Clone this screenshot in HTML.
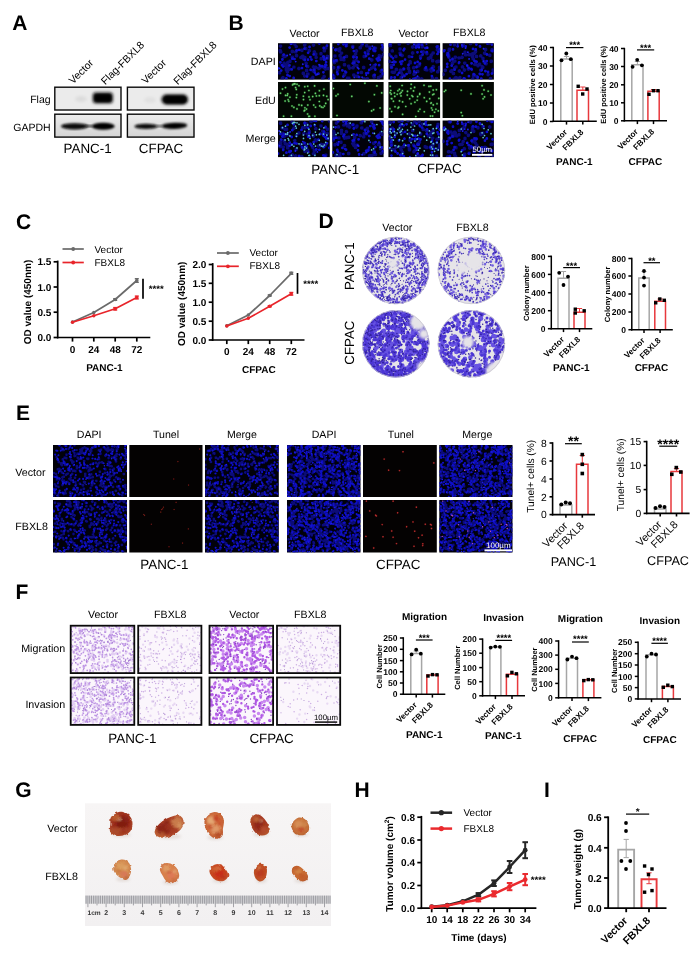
<!DOCTYPE html>
<html lang="en"><head><meta charset="utf-8"><title>FBXL8 figure</title>
<style>
html,body{margin:0;padding:0;background:#fff}
body{width:699px;height:958px;overflow:hidden}
svg{display:block;font-family:'Liberation Sans', Arial, sans-serif;text-rendering:geometricPrecision}
</style></head><body>
<svg width="699" height="958" viewBox="0 0 699 958">
<defs>
<filter id="b1" x="-20%" y="-20%" width="140%" height="140%"><feGaussianBlur stdDeviation="0.45"/></filter>
<filter id="b15" x="-20%" y="-20%" width="140%" height="140%"><feGaussianBlur stdDeviation="0.62"/></filter>
<filter id="b2" x="-20%" y="-20%" width="140%" height="140%"><feGaussianBlur stdDeviation="0.8"/></filter>
<filter id="b3" x="-30%" y="-30%" width="160%" height="160%"><feGaussianBlur stdDeviation="1.6"/></filter>
<filter id="rough" x="-15%" y="-15%" width="130%" height="130%"><feTurbulence type="fractalNoise" baseFrequency="0.22" numOctaves="2" seed="4" result="n"/><feDisplacementMap in="SourceGraphic" in2="n" scale="2.8" xChannelSelector="R" yChannelSelector="G"/><feGaussianBlur stdDeviation="0.5"/></filter>
<filter id="b4" x="-30%" y="-30%" width="160%" height="160%"><feGaussianBlur stdDeviation="2.4"/></filter>
<linearGradient id="blotg" x1="0" y1="0" x2="0" y2="1"><stop offset="0" stop-color="#ececec"/><stop offset="1" stop-color="#d4d4d4"/></linearGradient>
<clipPath id="c1"><rect x="54.8" y="87.2" width="66.2" height="22.8"/></clipPath>
<clipPath id="c2"><rect x="54.8" y="114.2" width="66.2" height="22.9"/></clipPath>
<clipPath id="c3"><rect x="127.4" y="87.2" width="66.6" height="22.8"/></clipPath>
<clipPath id="c4"><rect x="127.4" y="114.2" width="66.6" height="22.9"/></clipPath>
<clipPath id="c5"><rect x="278" y="43.2" width="51.8" height="36.4"/></clipPath>
<clipPath id="c6"><rect x="278" y="82" width="51.8" height="36"/></clipPath>
<clipPath id="c7"><rect x="278" y="120.5" width="51.8" height="36.6"/></clipPath>
<clipPath id="c8"><rect x="278" y="120.5" width="51.8" height="36.6"/></clipPath>
<clipPath id="c9"><rect x="332.3" y="43.2" width="51.3" height="36.4"/></clipPath>
<clipPath id="c10"><rect x="332.3" y="82" width="51.3" height="36"/></clipPath>
<clipPath id="c11"><rect x="332.3" y="120.5" width="51.3" height="36.6"/></clipPath>
<clipPath id="c12"><rect x="332.3" y="120.5" width="51.3" height="36.6"/></clipPath>
<clipPath id="c13"><rect x="388.4" y="43.2" width="51.7" height="36.4"/></clipPath>
<clipPath id="c14"><rect x="388.4" y="82" width="51.7" height="36"/></clipPath>
<clipPath id="c15"><rect x="388.4" y="120.5" width="51.7" height="36.6"/></clipPath>
<clipPath id="c16"><rect x="388.4" y="120.5" width="51.7" height="36.6"/></clipPath>
<clipPath id="c17"><rect x="442.6" y="43.2" width="51.3" height="36.4"/></clipPath>
<clipPath id="c18"><rect x="442.6" y="82" width="51.3" height="36"/></clipPath>
<clipPath id="c19"><rect x="442.6" y="120.5" width="51.3" height="36.6"/></clipPath>
<clipPath id="c20"><rect x="442.6" y="120.5" width="51.3" height="36.6"/></clipPath>
<clipPath id="c21"><circle cx="395.8" cy="270.5" r="33.7"/></clipPath>
<clipPath id="c22"><circle cx="471.4" cy="270.4" r="33.7"/></clipPath>
<clipPath id="c23"><circle cx="395.8" cy="343.8" r="33.7"/></clipPath>
<clipPath id="c24"><circle cx="471.4" cy="343.8" r="33.7"/></clipPath>
<clipPath id="c25"><rect x="53" y="445" width="74" height="52"/></clipPath>
<clipPath id="c26"><rect x="53" y="500" width="74" height="52.5"/></clipPath>
<clipPath id="c27"><rect x="129.3" y="445" width="73.2" height="52"/></clipPath>
<clipPath id="c28"><rect x="129.3" y="500" width="73.2" height="52.5"/></clipPath>
<clipPath id="c29"><rect x="205" y="445" width="73.8" height="52"/></clipPath>
<clipPath id="c30"><rect x="205" y="445" width="73.8" height="52"/></clipPath>
<clipPath id="c31"><rect x="205" y="500" width="73.8" height="52.5"/></clipPath>
<clipPath id="c32"><rect x="205" y="500" width="73.8" height="52.5"/></clipPath>
<clipPath id="c33"><rect x="287" y="445" width="73.5" height="52"/></clipPath>
<clipPath id="c34"><rect x="287" y="500" width="73.5" height="52.5"/></clipPath>
<clipPath id="c35"><rect x="363" y="445" width="73.8" height="52"/></clipPath>
<clipPath id="c36"><rect x="363" y="500" width="73.8" height="52.5"/></clipPath>
<clipPath id="c37"><rect x="439.3" y="445" width="73.2" height="52"/></clipPath>
<clipPath id="c38"><rect x="439.3" y="445" width="73.2" height="52"/></clipPath>
<clipPath id="c39"><rect x="439.3" y="500" width="73.2" height="52.5"/></clipPath>
<clipPath id="c40"><rect x="439.3" y="500" width="73.2" height="52.5"/></clipPath>
<clipPath id="c41"><rect x="70.7" y="625.7" width="63.6" height="47.4"/></clipPath>
<clipPath id="c42"><rect x="70.7" y="677.5" width="63.6" height="47.4"/></clipPath>
<clipPath id="c43"><rect x="138.2" y="625.7" width="63.2" height="47.4"/></clipPath>
<clipPath id="c44"><rect x="138.2" y="677.5" width="63.2" height="47.4"/></clipPath>
<clipPath id="c45"><rect x="209.5" y="625.7" width="63.6" height="47.4"/></clipPath>
<clipPath id="c46"><rect x="209.5" y="677.5" width="63.6" height="47.4"/></clipPath>
<clipPath id="c47"><rect x="277" y="625.7" width="63.2" height="47.4"/></clipPath>
<clipPath id="c48"><rect x="277" y="677.5" width="63.2" height="47.4"/></clipPath>
<linearGradient id="gbg" x1="0" y1="0" x2="0" y2="1"><stop offset="0" stop-color="#f7f5f5"/><stop offset="1" stop-color="#f2f0f1"/></linearGradient>
<clipPath id="c49"><path d="M112.9 814.8Q116 812 119.8 811.7Q123.7 811.5 126.9 813.2Q130 815 131.4 818.4Q132.9 821.9 132.5 825.4Q132.2 828.9 130.1 831.6Q128.1 834.3 124.4 835.3Q120.8 836.3 117.2 836Q113.5 835.6 111.4 833.5Q109.2 831.4 109.9 827.6Q110.6 823.9 110.3 820.8Q109.9 817.7 112.9 814.8Z"/></clipPath>
<radialGradient id="tg1" cx="0.5" cy="0.45" r="0.62"><stop offset="0.55" stop-color="#9a2c1c"/><stop offset="1" stop-color="#b4552e"/></radialGradient>
<clipPath id="c50"><path d="M166.8 818.6Q170.5 816.6 174.2 815.7Q178 814.7 180.5 816.1Q183.1 817.5 183.5 820.8Q184 824.1 182.2 827.3Q180.4 830.6 176.5 833.2Q172.6 835.7 168.1 836.9Q163.6 838.1 160 837.5Q156.4 836.9 155.2 834.2Q154 831.5 155.5 828.7Q157 825.9 160 823.3Q163 820.6 166.8 818.6Z"/></clipPath>
<radialGradient id="tg2" cx="0.5" cy="0.45" r="0.62"><stop offset="0.55" stop-color="#a63c24"/><stop offset="1" stop-color="#c4683c"/></radialGradient>
<clipPath id="c51"><path d="M207.3 815.2Q209.9 812.6 213.3 812.2Q216.6 811.8 219.5 813.4Q222.5 815 223.5 818.6Q224.5 822.2 223.5 825.5Q222.5 828.8 223 832Q223.5 835.1 221.1 837.2Q218.7 839.2 215.6 838.6Q212.4 837.9 210.1 835.5Q207.8 833.2 205.9 829.4Q204.1 825.5 204.4 821.6Q204.7 817.8 207.3 815.2Z"/></clipPath>
<radialGradient id="tg3" cx="0.5" cy="0.45" r="0.62"><stop offset="0.55" stop-color="#d0703e"/><stop offset="1" stop-color="#b8542c"/></radialGradient>
<clipPath id="c52"><path d="M251.1 817.8Q252.3 815.6 254.9 814.7Q257.6 813.8 260 815.1Q262.4 816.4 264.5 819.1Q266.5 821.7 268.3 824.6Q270.1 827.4 269.6 830.3Q269.1 833.2 266.6 834.5Q264 835.8 261 835.4Q258 834.9 256 833.2Q253.9 831.4 252.4 828.6Q250.9 825.9 250.4 822.9Q249.9 820 251.1 817.8Z"/></clipPath>
<radialGradient id="tg4" cx="0.5" cy="0.45" r="0.62"><stop offset="0.55" stop-color="#a63a22"/><stop offset="1" stop-color="#b85a30"/></radialGradient>
<clipPath id="c53"><path d="M293.7 821.1Q296.3 818.1 298.7 817.6Q301.2 817.2 303.5 818.3Q305.8 819.4 307.3 822Q308.9 824.6 309.2 827.3Q309.4 830.1 307.8 832.4Q306.1 834.7 303.2 835.2Q300.3 835.6 297.6 834.9Q294.8 834.2 293.2 831.9Q291.5 829.7 291.4 827Q291.2 824.2 293.7 821.1Z"/></clipPath>
<radialGradient id="tg5" cx="0.5" cy="0.45" r="0.62"><stop offset="0.55" stop-color="#c8763e"/><stop offset="1" stop-color="#b86030"/></radialGradient>
<clipPath id="c54"><path d="M116 861.9Q118.4 859.9 121.2 859.6Q124 859.2 126.6 860.8Q129.2 862.4 130.3 865.6Q131.4 868.8 131 872Q130.5 875.2 128.6 877.9Q126.8 880.6 124.3 879.7Q121.7 878.9 119.1 877Q116.5 875.2 114.6 872.6Q112.8 869.9 113.2 866.9Q113.7 863.9 116 861.9Z"/></clipPath>
<radialGradient id="tg6" cx="0.5" cy="0.45" r="0.62"><stop offset="0.55" stop-color="#d48c50"/><stop offset="1" stop-color="#c8764a"/></radialGradient>
<clipPath id="c55"><path d="M160.3 867Q161.5 864.1 164.4 863.3Q167.3 862.4 170.4 863.5Q173.5 864.6 175.8 866.9Q178.1 869.3 178.9 872.5Q179.7 875.7 178.5 878.6Q177.3 881.6 174.4 882.7Q171.5 883.8 168.6 882.7Q165.7 881.6 164.2 878.6Q162.8 875.7 160.9 872.8Q159.1 869.9 160.3 867Z"/></clipPath>
<radialGradient id="tg7" cx="0.5" cy="0.45" r="0.62"><stop offset="0.55" stop-color="#d8804c"/><stop offset="1" stop-color="#c87044"/></radialGradient>
<clipPath id="c56"><path d="M210.2 868.3Q211.7 865.8 214.4 864.7Q217.2 863.6 219.8 864.3Q222.4 865 224.2 867.2Q225.9 869.4 227.4 872Q228.9 874.5 227.9 877.1Q226.9 879.6 224.1 880.7Q221.2 881.8 218.5 881.1Q215.8 880.4 213.4 878.4Q211.1 876.4 209.9 873.6Q208.7 870.9 210.2 868.3Z"/></clipPath>
<radialGradient id="tg8" cx="0.5" cy="0.45" r="0.62"><stop offset="0.55" stop-color="#c8421e"/><stop offset="1" stop-color="#c05a30"/></radialGradient>
<clipPath id="c57"><path d="M255.6 867Q257.7 864.1 260.1 863.8Q262.4 863.6 264.5 864.9Q266.5 866.3 266.9 869Q267.2 871.8 266.5 875Q265.9 878.2 263.8 880Q261.8 881.8 259.4 881.4Q257 880.9 255.6 878.6Q254.3 876.4 253.9 873.2Q253.6 870 255.6 867Z"/></clipPath>
<radialGradient id="tg9" cx="0.5" cy="0.45" r="0.62"><stop offset="0.55" stop-color="#c04a22"/><stop offset="1" stop-color="#b85a30"/></radialGradient>
<clipPath id="c58"><path d="M291.9 869.1Q292.6 867.2 294.5 866.2Q296.4 865.2 298.6 866.1Q300.8 866.9 302.9 869Q305.1 871 306.9 873.5Q308.6 876 307.9 878.2Q307.2 880.4 304.9 881.1Q302.5 881.8 300.2 880.8Q297.8 879.8 295.8 877.6Q293.8 875.5 292.5 873.3Q291.2 871 291.9 869.1Z"/></clipPath>
<radialGradient id="tg10" cx="0.5" cy="0.45" r="0.62"><stop offset="0.55" stop-color="#c86a32"/><stop offset="1" stop-color="#b85a2e"/></radialGradient>
</defs>
<rect width="699" height="958" fill="#fff"/>
<text x="12.2" y="30" font-size="21" font-weight="700">A</text>
<text font-size="10.5" transform="translate(73 84.6) rotate(-45)">Vector</text>
<text font-size="10.5" transform="translate(105.3 85.2) rotate(-45)">Flag-FBXL8</text>
<text font-size="10.5" transform="translate(145.8 84.6) rotate(-45)">Vector</text>
<text font-size="10.5" transform="translate(177.8 85.2) rotate(-45)">Flag-FBXL8</text>
<text x="50.6" y="103" font-size="10.5" text-anchor="end">Flag</text>
<text x="50.6" y="131" font-size="10.5" text-anchor="end">GAPDH</text>
<text x="87.6" y="152.8" font-size="13.4" text-anchor="middle">PANC-1</text>
<text x="161" y="152.8" font-size="13.4" text-anchor="middle">CFPAC</text>
<rect x="54.8" y="87.2" width="66.2" height="22.8" fill="#ebebeb"/>
<g clip-path="url(#c1)">
<rect x="92.8" y="92.6" width="20" height="10.6" rx="3" fill="#111" filter="url(#b3)"/>
<rect x="95" y="94.4" width="16" height="7" rx="3" fill="#050505" filter="url(#b2)"/>
<ellipse cx="81" cy="99" rx="6" ry="3" fill="#dcdcdc" filter="url(#b3)"/>
</g>
<rect x="54.8" y="87.2" width="66.2" height="22.8" fill="none" stroke="#0a0a0a" stroke-width="1.4"/>
<rect x="54.8" y="114.2" width="66.2" height="22.9" fill="url(#blotg)"/>
<g clip-path="url(#c2)">
<ellipse cx="74.6" cy="126.3" rx="13.6" ry="3.1" fill="#080808" filter="url(#b2)"/>
<ellipse cx="103.2" cy="126.2" rx="11.6" ry="3.5" fill="#050505" filter="url(#b2)"/>
<rect x="85" y="125" width="8" height="2.2" fill="#444" filter="url(#b2)"/>
</g>
<rect x="54.8" y="114.2" width="66.2" height="22.9" fill="none" stroke="#0a0a0a" stroke-width="1.4"/>
<rect x="127.4" y="87.2" width="66.6" height="22.8" fill="#ebebeb"/>
<g clip-path="url(#c3)">
<rect x="161.5" y="94.5" width="26.5" height="10" rx="5" fill="#0b0b0b" filter="url(#b3)"/>
<rect x="164" y="96" width="22" height="7" rx="3.5" fill="#000" filter="url(#b2)"/>
<ellipse cx="150" cy="100" rx="6" ry="3" fill="#e0e0e0" filter="url(#b3)"/>
</g>
<rect x="127.4" y="87.2" width="66.6" height="22.8" fill="none" stroke="#0a0a0a" stroke-width="1.4"/>
<rect x="127.4" y="114.2" width="66.6" height="22.9" fill="url(#blotg)"/>
<g clip-path="url(#c4)">
<ellipse cx="146" cy="126.4" rx="11.6" ry="2.7" fill="#0a0a0a" filter="url(#b2)"/>
<ellipse cx="174.5" cy="125.8" rx="12.8" ry="3.1" fill="#060606" filter="url(#b2)" transform="rotate(-2 174.5 125.8)"/>
<rect x="156" y="125.2" width="7" height="2" fill="#555" filter="url(#b2)"/>
</g>
<rect x="127.4" y="114.2" width="66.6" height="22.9" fill="none" stroke="#0a0a0a" stroke-width="1.4"/>
<text x="228.5" y="29.6" font-size="21" font-weight="700">B</text>
<text x="304.6" y="36.8" font-size="10.6" text-anchor="middle">Vector</text>
<text x="357.3" y="35.8" font-size="10.6" text-anchor="middle">FBXL8</text>
<text x="413.4" y="36.8" font-size="10.6" text-anchor="middle">Vector</text>
<text x="469.3" y="35.8" font-size="10.6" text-anchor="middle">FBXL8</text>
<text x="275.8" y="65" font-size="10.7" text-anchor="end">DAPI</text>
<text x="275.8" y="104.2" font-size="10.7" text-anchor="end">EdU</text>
<text x="275.8" y="142.4" font-size="10.7" text-anchor="end">Merge</text>
<text x="335.2" y="173.6" font-size="13.4" text-anchor="middle">PANC-1</text>
<text x="439.4" y="173.2" font-size="13.4" text-anchor="middle">CFPAC</text>
<rect x="278" y="43.2" width="51.8" height="36.4" fill="#01010a"/>
<g clip-path="url(#c5)" filter="url(#b15)">
<path d="M304.7 45.1h0m2.9 21.3h0m-28.1 6.4h0m7.4 -5.2h0m26.6 -0.7h0m7.7 -8.2h0m-27.3 8.4h0m30.4 -16.3h0m-8.9 16.4h0m-27.6 -4.7h0m18.9 7.9h0m-10.5 -23.8h0m-8.8 25.2h0m31.3 -3.6h0m9.3 0.3h0m-38 -7.2h0m-7.7 17.4h0m27 -28.1h0m6.5 3.5h0m-23.5 -2.6h0m21.2 -6.5h0m-8.7 31.1h0m-24.3 -30h0m4.6 19.2h0m2.6 0.9h0m41.8 -9.2h0m-24.5 -13.3h0m3 30.2h0m8.1 -16.7h0m-10 6.1h0m19.2 5.8h0m-5.4 -1.3h0m-21 0.7h0m-2.4 -12.8h0m30.9 2.5h0m-31.6 -6.3h0m27 26.6h0m-1.8 -24.8h0m-15.1 -5.1h0m19.9 -0.7h0m-42.8 29.7h0m0.3 -21.6h0m31 13.9h0m9.8 6.6h0m-37.8 -7.8h0m6 -11.4h0m20.5 20.2h0m-26.3 -7.5h0m27.8 -18.1h0m-11 21.3h0m10 -2.3h0m-8.3 -13.3h0m-24.8 -7.1h0m9.4 18.6h0m18.2 4.9h0m-23.6 -17.4h0m19.7 2.5h0m-18.8 -2.9h0m-4.4 -4.3h0m6.5 15.1h0m13.7 -9.6h0m22.6 9.7h0m3.7 -10.7h0m-24.4 -0.2h0m-0.9 -5.9h0m9.1 28.8h0m-16.2 -35.1h0m-10.7 19.2h0" stroke="#0a0a92" stroke-width="3.9" stroke-linecap="round" fill="none" opacity="0.8"/>
<path d="M307.1 76.6h0m-25.2 -11.4h0m42.3 -5.5h0m-40.5 -5.1h0m26.7 2.5h0m-27.2 9.5h0m31.6 6h0m8.9 -24.6h0m-9.7 21.8h0m-22.2 -26.4h0m33.3 23.5h0m-17.1 -7.2h0m-11.4 -9.2h0m25.6 15.7h0m-31.4 -22.4h0m27.6 29.9h0m-38 -11.4h0m43.4 -5.6h0m-31.5 2h0m15.8 -5.9h0m17.1 6.6h0m4.2 19.6h0m-48.2 -8.4h0m44.9 -8.4h0m-21.3 -2.2h0m22.2 -14.3h0m-20.7 20.2h0m-14.6 3.5h0m19.8 -9.8h0m-9.5 8.5h0m8.7 1.8h0m-6.2 -21.2h0m-15 16.7h0m26.5 9.2h0m3.4 -31h0m4 28.7h0m-29.7 5.6h0m15.9 -30.9h0m-27.2 12.5h0m12.1 -0.4h0m25.7 6.7h0m3 -9.2h0m0.9 1h0m-10.4 -3.2h0m11.7 10.4h0m-26.3 -14.9h0m-12.7 28.5h0m1.1 -3.2h0m2.1 -27.6h0m-11.5 20.7h0m11.6 7.8h0m36.5 -10.9h0m-9.9 -4.1h0" stroke="#1010cc" stroke-width="2.8" stroke-linecap="round" fill="none"/>
<path d="M319.1 64.8h0m-31.9 -9.3h0m8.5 6.1h0m-4.5 -17.5h0m-1.1 10.4h0m27.3 19.9h0m9.5 -16.4h0m-24.1 6.2h0m-23.2 4.2h0" stroke="#1e1eee" stroke-width="1.9" stroke-linecap="round" fill="none"/>
</g>
<rect x="278" y="82" width="51.8" height="36" fill="#030803"/>
<g clip-path="url(#c6)" filter="url(#b15)">
<path d="M308.8 116.4h0m3.9 -19.8h0m-18.8 10.8h0m21.5 -14h0m-7.6 11.7h0m11.5 -9.4h0m-32 -0.2h0m7.2 -11.6h0m2.3 10.9h0m6.7 4.8h0m-0.1 -3.4h0m20.1 -0.8h0m-35.4 4.3h0m8.9 -15.5h0m22.4 6.5h0m-23.8 -3.1h0m9.2 22.6h0m-12.8 -4.2h0m-6.5 -18.4h0m-0.4 13.5h0m21.4 8h0m-26 -15.9h0m28.5 3.7h0m7.4 -0.9h0m-25 20.2h0m-2.6 -14.9h0m18.8 12.7h0m16.3 -24.8h0m-19.2 3.4h0m-5.7 -6.8h0m5.8 0.9h0m20.9 16.7h0m-4.3 3.7h0m-33.7 -13.2h0m17.2 13.9h0m-0.7 3.1h0m-7.8 -13.3h0m-13.9 -8.5h0m25.2 -2.8h0m-8.7 18.6h0m25.4 1.2h0m-5.1 -4.6h0m-33.7 -6.1h0m29 -9.5h0m-18.3 3.5h0m13.3 26.9h0m-16.3 -32.3h0m34.8 15.6h0m-35.5 -14.7h0m27.2 21h0m-10.9 -15.4h0m6 25.8h0m11.9 -20h0m-43.2 19.9h0m18.1 -10.8h0m21.3 2.1h0m-9.3 -2.4h0m-18.7 -21.2h0m2 25h0m18.5 -1.7h0m-5.5 -7.5h0m-20.1 -2.5h0" stroke="#1c6a22" stroke-width="2.7" stroke-linecap="round" fill="none" opacity="0.65"/>
<path d="M308.8 116.4h0m3.9 -19.8h0m-18.8 10.8h0m21.5 -14h0m-7.6 11.7h0m11.5 -9.4h0m-32 -0.2h0m7.2 -11.6h0m2.3 10.9h0m6.7 4.8h0m-0.1 -3.4h0m20.1 -0.8h0m-35.4 4.3h0m8.9 -15.5h0m22.4 6.5h0m-23.8 -3.1h0m9.2 22.6h0m-12.8 -4.2h0m-6.5 -18.4h0m-0.4 13.5h0m21.4 8h0m-26 -15.9h0m28.5 3.7h0m7.4 -0.9h0m-25 20.2h0m-2.6 -14.9h0m18.8 12.7h0m16.3 -24.8h0m-19.2 3.4h0m-5.7 -6.8h0m5.8 0.9h0m20.9 16.7h0m-4.3 3.7h0m-33.7 -13.2h0m17.2 13.9h0m-0.7 3.1h0m-7.8 -13.3h0m-13.9 -8.5h0m25.2 -2.8h0m-8.7 18.6h0m25.4 1.2h0m-5.1 -4.6h0m-33.7 -6.1h0m29 -9.5h0m-18.3 3.5h0m13.3 26.9h0m-16.3 -32.3h0m34.8 15.6h0m-35.5 -14.7h0m27.2 21h0m-10.9 -15.4h0m6 25.8h0m11.9 -20h0m-43.2 19.9h0m18.1 -10.8h0m21.3 2.1h0m-9.3 -2.4h0m-18.7 -21.2h0m2 25h0m18.5 -1.7h0m-5.5 -7.5h0m-20.1 -2.5h0" stroke="#6fcf74" stroke-width="1.6" stroke-linecap="round" fill="none"/>
</g>
<rect x="278" y="120.5" width="51.8" height="36.6" fill="#01010a"/>
<g clip-path="url(#c7)" filter="url(#b15)">
<path d="M304.7 143.8h0m2.9 6.4h0m-28.1 -5.2h0m7.4 -0.6h0m26.6 -8.4h0m7.7 8.5h0m-27.3 -16.3h0m30.4 16.5h0m-8.9 -4.8h0m-27.6 8h0m18.9 -24h0m-10.5 25.3h0m-8.8 -3.5h0m31.3 0.2h0m9.3 -7.2h0m-38 17.5h0m-7.7 -28.3h0m27 3.5h0m6.5 -2.6h0m-23.5 -6.5h0m21.2 31.3h0m-8.7 -30.2h0m-24.3 19.3h0m4.6 0.9h0m2.6 -9.3h0m41.8 -13.3h0m-24.5 30.3h0m3 -16.7h0m8.1 6.1h0m-10 5.8h0m19.2 -1.3h0m-5.4 0.7h0m-21 -12.9h0m-2.4 2.6h0m30.9 -6.3h0m-31.6 26.7h0m27 -24.9h0m-1.8 -5.2h0m-15.1 -0.7h0m19.9 29.9h0m-42.8 -21.7h0m0.3 13.9h0m31 6.6h0m9.8 -7.7h0m-37.8 -11.5h0m6 20.3h0m20.5 -7.5h0m-26.3 -18.3h0m27.8 21.5h0m-11 -2.4h0m10 -13.4h0m-8.3 -7.1h0m-24.8 18.8h0m9.4 4.8h0m18.2 -17.4h0m-23.6 2.5h0m19.7 -2.9h0m-18.8 -4.3h0m-4.4 15.1h0m6.5 -9.6h0m13.7 9.8h0m22.6 -10.8h0m3.7 -0.3h0m-24.4 -5.9h0m-0.9 29h0m9.1 -35.2h0m-16.2 19.2h0m-10.7 0.4h0m-3.5 -17.8h0" stroke="#0a0a92" stroke-width="3.9" stroke-linecap="round" fill="none" opacity="0.8"/>
<path d="M324.2 132h0m-40.5 2.4h0m26.7 9.6h0m-27.2 6h0m31.6 -24.7h0m8.9 21.9h0m-9.7 -26.5h0m-22.2 23.6h0m33.3 -7.2h0m-17.1 -9.3h0m-11.4 15.8h0m25.6 -22.4h0m-31.4 30h0m27.6 -11.5h0m-38 -5.6h0m43.4 2h0m-31.5 -5.9h0m15.8 6.6h0m17.1 19.7h0m4.2 -8.5h0m-48.2 -8.4h0m44.9 -2.2h0m-21.3 -14.4h0m22.2 20.3h0m-20.7 3.5h0m-14.6 -9.8h0m19.8 8.6h0m-9.5 1.7h0m8.7 -21.3h0m-6.2 16.8h0m-15 9.3h0m26.5 -31.2h0m3.4 28.9h0m4 5.6h0m-29.7 -31.1h0m15.9 12.6h0m-27.2 -0.4h0m12.1 6.7h0m25.7 -9.2h0m3 1h0m0.9 -3.2h0m-10.4 10.4h0m11.7 -14.9h0m-26.3 28.6h0m-12.7 -3.2h0m1.1 -27.8h0m2.1 20.9h0m-11.5 7.8h0m11.6 -11h0m36.5 -4.1h0m-9.9 11h0m9.2 -22.5h0m-16.2 6h0m-7.8 -3.1h0" stroke="#1010cc" stroke-width="2.8" stroke-linecap="round" fill="none"/>
<path d="M290.1 131.9h0m27.3 20h0m9.5 -16.5h0m-24.1 6.2h0m-23.2 4.2h0m29.1 6.3h0m-13.3 -1.1h0m8.7 -2.4h0m-24.9 -17.6h0" stroke="#1e1eee" stroke-width="1.9" stroke-linecap="round" fill="none"/>
</g>
<g clip-path="url(#c8)" filter="url(#b1)">
<path d="M308.8 155.5h0m3.9 -20.1h0m-18.8 10.9h0m21.5 -14.2h0m-7.6 11.9h0m11.5 -9.6h0m-32 -0.2h0m7.2 -11.8h0m2.3 11.1h0m6.7 4.9h0m-0.1 -3.4h0m20.1 -0.9h0m-35.4 4.4h0m8.9 -15.7h0m22.4 6.5h0m-23.8 -3.1h0m9.2 23h0m-12.8 -4.3h0m-6.5 -18.7h0m-0.4 13.7h0m21.4 8.2h0m-26 -16.2h0m28.5 3.8h0m7.4 -0.9h0m-25 20.5h0m-2.6 -15.2h0m18.8 12.9h0m16.3 -25.2h0m-19.2 3.5h0m-5.7 -7h0m5.8 1h0m20.9 17h0m-4.3 3.8h0m-33.7 -13.5h0m17.2 14.2h0m-0.7 3.1h0m-7.8 -13.6h0m-13.9 -8.6h0m25.2 -2.8h0m-8.7 18.9h0m25.4 1.2h0m-5.1 -4.7h0m-33.7 -6.2h0m29 -9.6h0m-18.3 3.6h0m13.3 27.3h0m-16.3 -32.9h0m34.8 15.9h0m-35.5 -15h0m27.2 21.4h0m-10.9 -15.6h0m6 26.2h0m11.9 -20.4h0m-43.2 20.3h0m18.1 -11.1h0m21.3 2.2h0m-9.3 -2.4h0m-18.7 -21.5h0m2 25.4h0m18.5 -1.8h0m-5.5 -7.6h0m-20.1 -2.6h0" stroke="#62c4d2" stroke-width="1.7" stroke-linecap="round" fill="none"/>
</g>
<rect x="332.3" y="43.2" width="51.3" height="36.4" fill="#01010a"/>
<g clip-path="url(#c9)" filter="url(#b15)">
<path d="M363.7 67.5h0m-22.7 -8.2h0m13.7 5.6h0m17.1 -4.9h0m-24.3 18.3h0m-7.5 -29.7h0m-6.5 27.6h0m20.4 -14.9h0m-9.4 3.5h0m5.1 3.3h0m33.5 -18.4h0m-38.6 25h0m-8 -14h0m30.2 -15h0m-2.5 10.8h0m-17.8 -0.1h0m9.8 4h0m-17.8 -10.7h0m-2.3 -0.1h0m42.4 28.1h0m-5.5 -10.6h0m2.4 -19h0m-1.3 28.9h0m9 -3.2h0m-21.2 -28.7h0m12.1 5.5h0m-20.1 24.4h0m-20.2 -7.3h0m21.9 -13.7h0m-17.9 15.9h0m36.5 -4.2h0m-6.1 -14.8h0m-6.8 21.5h0m-14.9 -27h0m37.1 9h0m-44.1 -3.7h0m24.5 27.9h0m-6.7 -2.3h0m-4.1 -8.5h0m16.5 -20.4h0m-20.7 30.7h0m3.9 -31.6h0m-4.1 19.6h0m32.2 10h0m-1.5 -20.5h0m-5.3 11.4h0m-40.1 9.9h0m46.7 -20.1h0m0.4 14.5h0m-7.4 4.5h0m-16.7 -10h0m24.9 -17.1h0m-28.2 8.1h0m-5 9.5h0m-15.6 -6.4h0m1.2 2.7h0m0.7 -6.6h0m3.9 11.2h0m-4.9 -6.7h0m9.9 -0.8h0m16.3 -12h0m-18.7 10.5h0m0 -5.1h0m-1.5 2.7h0m27.3 22.9h0m-10.9 -27.7h0m15.3 17.1h0" stroke="#0a0a92" stroke-width="3.9" stroke-linecap="round" fill="none" opacity="0.8"/>
<path d="M333.9 78.6h0m41.3 -27.6h0m-6.9 3h0m13.6 16h0m-19.2 -26.3h0m-19.3 0.6h0m25.8 25.6h0m-35.3 -8.6h0m19.9 -10.2h0m-7.1 -7.6h0m-8.9 30.7h0m16.4 -11.5h0m21.2 6.8h0m-37.4 -2.2h0m44.9 6.4h0m-38.6 -16.4h0m25 1.4h0m-3.1 14.6h0m-29.9 -13h0m31.8 12.7h0m-22.2 -29.3h0m32.7 13.9h0m-4.3 -9.7h0m-21.5 -0.4h0m21.6 3.2h0m-32 19.7h0m16.7 6.7h0m-5.6 -20h0m26.3 2.9h0m-5.2 15h0m-16.6 -2.2h0m-19.7 -28.7h0m-5.4 30.9h0m46.2 -9.8h0m-20.5 -3.2h0m17 2.6h0m-38.4 7.7h0m36.3 -22.8h0m-38 0.5h0m29.4 2.6h0m17.1 -7.5h0m-29.3 18.2h0m13.4 -7.3h0m-22.8 20.6h0m34.7 -16.1h0m4.9 -13.5h0m-12.7 1.8h0m-5 4.4h0m-20 18.4h0m11.5 -14.1h0m-10.6 14.8h0m30.7 -13.3h0m-30.8 -12.8h0" stroke="#1010cc" stroke-width="2.8" stroke-linecap="round" fill="none"/>
<path d="M332.8 47.8h0m21.6 29.6h0m11.9 -2.3h0m-7.6 -6.4h0m3.4 8.6h0m-4.5 -9.6h0m12.7 -2.9h0m2.5 -9h0m-0.4 -9.6h0" stroke="#1e1eee" stroke-width="1.9" stroke-linecap="round" fill="none"/>
</g>
<rect x="332.3" y="82" width="51.3" height="36" fill="#030803"/>
<g clip-path="url(#c10)" filter="url(#b15)">
<path d="M351.8 96.4h0m13.1 -13.2h0m15.2 24.8h0m-43.1 7.5h0m34.6 -4.6h0m2.8 -16.2h0m-38.4 1.2h0m37.6 13.8h0m3.3 -23.8h0m-8 15.7h0m-35.5 -13.1h0m48.3 4.4h0m-31.5 -8.4h0m-12.2 9.8h0" stroke="#1c6a22" stroke-width="2.7" stroke-linecap="round" fill="none" opacity="0.65"/>
<path d="M351.8 96.4h0m13.1 -13.2h0m15.2 24.8h0m-43.1 7.5h0m34.6 -4.6h0m2.8 -16.2h0m-38.4 1.2h0m37.6 13.8h0m3.3 -23.8h0m-8 15.7h0m-35.5 -13.1h0m48.3 4.4h0m-31.5 -8.4h0m-12.2 9.8h0" stroke="#6fcf74" stroke-width="1.6" stroke-linecap="round" fill="none"/>
</g>
<rect x="332.3" y="120.5" width="51.3" height="36.6" fill="#01010a"/>
<g clip-path="url(#c11)" filter="url(#b15)">
<path d="M363.7 136.7h0m-22.7 5.6h0m13.7 -4.9h0m17.1 18.4h0m-24.3 -29.9h0m-7.5 27.8h0m-6.5 -15h0m20.4 3.5h0m-9.4 3.4h0m5.1 -18.6h0m33.5 25.1h0m-38.6 -14h0m-8 -15.1h0m30.2 10.8h0m-2.5 -0.1h0m-17.8 4.1h0m9.8 -10.7h0m-17.8 -0.2h0m-2.3 28.3h0m42.4 -10.7h0m-5.5 -19.1h0m2.4 29.1h0m-1.3 -3.2h0m9 -28.9h0m-21.2 5.6h0m12.1 24.4h0m-20.1 -7.2h0m-20.2 -13.8h0m21.9 16h0m-17.9 -4.3h0m36.5 -14.9h0m-6.1 21.7h0m-6.8 -27.2h0m-14.9 9.1h0m37.1 -3.7h0m-44.1 28h0m24.5 -2.3h0m-6.7 -8.5h0m-4.1 -20.6h0m16.5 30.9h0m-20.7 -31.7h0m3.9 19.7h0m-4.1 9.9h0m32.2 -20.6h0m-1.5 11.5h0m-5.3 10h0m-40.1 -20.2h0m46.7 14.5h0m0.4 4.6h0m-7.4 -10.1h0m-16.7 -17.2h0m24.9 8.2h0m-28.2 9.6h0m-5 -6.5h0m-15.6 2.7h0m1.2 -6.6h0m0.7 11.3h0m3.9 -6.8h0m-4.9 -0.8h0m9.9 -12h0m16.3 10.5h0m-18.7 -5.1h0m0 2.7h0m-1.5 23h0m27.3 -27.8h0m-10.9 17.1h0m15.3 -23.8h0m-5.1 29.4h0" stroke="#0a0a92" stroke-width="3.9" stroke-linecap="round" fill="none" opacity="0.8"/>
<path d="M368.3 131.4h0m13.6 16.1h0m-19.2 -26.5h0m-19.3 0.6h0m25.8 25.8h0m-35.3 -8.7h0m19.9 -10.2h0m-7.1 -7.7h0m-8.9 30.8h0m16.4 -11.5h0m21.2 6.9h0m-37.4 -2.3h0m44.9 6.5h0m-38.6 -16.5h0m25 1.4h0m-3.1 14.7h0m-29.9 -13.1h0m31.8 12.8h0m-22.2 -29.5h0m32.7 14h0m-4.3 -9.8h0m-21.5 -0.4h0m21.6 3.2h0m-32 19.9h0m16.7 6.6h0m-5.6 -20.1h0m26.3 3h0m-5.2 15.1h0m-16.6 -2.2h0m-19.7 -28.9h0m-5.4 31.1h0m46.2 -9.9h0m-20.5 -3.2h0m17 2.7h0m-38.4 7.7h0m36.3 -23h0m-38 0.5h0m29.4 2.6h0m17.1 -7.5h0m-29.3 18.3h0m13.4 -7.3h0m-22.8 20.7h0m34.7 -16.2h0m4.9 -13.6h0m-12.7 1.8h0m-5 4.4h0m-20 18.6h0m11.5 -14.2h0m-10.6 14.8h0m30.7 -13.3h0m-30.8 -12.9h0m36.2 -2.6h0m-38.9 15.4h0" stroke="#1010cc" stroke-width="2.8" stroke-linecap="round" fill="none"/>
<path d="M366.3 152.6h0m-7.6 -6.5h0m3.4 8.7h0m-4.5 -9.6h0m12.7 -2.9h0m2.5 -9.2h0m-0.4 -9.5h0m-33.6 18.1h0m41.7 -20.6h0" stroke="#1e1eee" stroke-width="1.9" stroke-linecap="round" fill="none"/>
</g>
<g clip-path="url(#c12)" filter="url(#b1)">
<path d="M351.8 135.2h0m13.1 -13.5h0m15.2 25.3h0m-43.1 7.6h0m34.6 -4.7h0m2.8 -16.5h0m-38.4 1.2h0m37.6 14.1h0m3.3 -24.2h0m-8 15.9h0m-35.5 -13.3h0m48.3 4.4h0m-31.5 -8.4h0m-12.2 9.9h0" stroke="#62c4d2" stroke-width="1.7" stroke-linecap="round" fill="none"/>
</g>
<rect x="388.4" y="43.2" width="51.7" height="36.4" fill="#01010a"/>
<g clip-path="url(#c13)" filter="url(#b15)">
<path d="M394.2 72.3h0m5.1 -28.4h0m1.1 26.4h0m-4.1 -0.8h0m35 1.5h0m-21.8 1.3h0m7.6 5.7h0m9.8 -24.4h0m-25.7 19h0m37.3 -11.4h0m-0.8 10.6h0m-24 -4.1h0m-24.4 -22.4h0m43.4 15.4h0m-23.4 -4.1h0m11.3 -0.1h0m-16.9 12.6h0m32.8 9.6h0m-27.1 -7.4h0m8.3 0.1h0m-16.6 0.8h0m-1 -19.1h0m-9.7 -7.7h0m28 32.9h0m12.9 -23h0m-2.9 3.1h0m9 -8.7h0m-10.9 3.4h0m-3.3 -1.1h0m3.7 17.9h0m-12 -25.7h0m-2.2 2.8h0m9 31.9h0m9.1 -22h0m-34.9 -0.5h0m-6.6 5h0m18.8 -18.1h0m2 18.4h0m18.7 -3.2h0m3.9 9.5h0m-7.5 1.3h0m-33.9 -3.7h0m27.8 -21.1h0m3.2 2.2h0m-30.1 25.4h0m0 -21.2h0m-2.9 3.9h0m11.8 22.9h0m12.9 -3.5h0m-5.5 -5.9h0m-16.9 -0.9h0m41.7 -0.6h0m-23.2 -3.9h0m2.6 -9.9h0m26.9 14.4h0m0.1 2h0m-21.6 -3.4h0m15 -13h0m-18.2 20.2h0m22 -11.5h0m-17.5 3.2h0m-19.4 -15.9h0m30.7 8.4h0m7.3 -10.2h0m-7.1 22h0m1.6 9.1h0m-30 -3.3h0m-0.4 -19.6h0" stroke="#0a0a92" stroke-width="3.9" stroke-linecap="round" fill="none" opacity="0.8"/>
<path d="M399 72.8h0m16 -9.8h0m2.7 -1.2h0m14.2 14.3h0m-34.3 -1.3h0m6.8 1.2h0m-2 -14.7h0m-12.1 -17.4h0m31 7.9h0m-30.2 27.6h0m2.6 -14.7h0m28.4 -20h0m-18.5 5.6h0m21.8 -2.2h0m-8.8 -2.2h0m20.8 0.4h0m2.4 3.1h0m-22.3 2.9h0m-26 15h0m24 10.8h0m5 -19.5h0m-25.1 3.5h0m11.2 12h0m30.2 -27.1h0m-28.3 18h0m23.5 3.1h0m-12 -4.5h0m-15.7 -14.7h0m21.7 18.4h0m-7.3 -23.1h0m-2.2 23h0m-16.1 -5.3h0m-5.7 15.6h0m10.4 -17.9h0m17.5 -5h0m-31.2 22.9h0m34.3 -9.4h0m-9.7 -20.6h0m17.8 22.8h0m-19.5 1.2h0m-10.4 -2.7h0m9.4 10.1h0m-20.3 -20.6h0m44.5 -4.4h0m-37.2 1h0m26.8 -7.2h0m11.4 4.4h0m-26.4 4.7h0m-18.2 4.9h0m32.9 -9.6h0m-35.5 4.5h0m10 7.5h0m17.2 -17.1h0" stroke="#1010cc" stroke-width="2.8" stroke-linecap="round" fill="none"/>
<path d="M414 44.3h0m12.5 -0.4h0m-34.4 18.4h0m10.3 14.9h0m7.5 2.1h0m9.4 -31.8h0m-1.8 28.8h0m-1.2 -3.7h0m11.2 -24.7h0" stroke="#1e1eee" stroke-width="1.9" stroke-linecap="round" fill="none"/>
</g>
<rect x="388.4" y="82" width="51.7" height="36" fill="#030803"/>
<g clip-path="url(#c14)" filter="url(#b15)">
<path d="M397.2 94.3h0m27.1 3.4h0m-21.9 -7h0m9.5 5h0m-2.2 3.1h0m10.1 -5.2h0m-1.4 17.6h0m-18.3 -17.6h0m-1.3 13.6h0m25.5 4.6h0m-11.5 -15.2h0m0.7 -5.7h0m-19.1 2.1h0m12.9 2.1h0m-16.5 -4.6h0m10.4 1.9h0m16 7.8h0m-17.7 0.7h0m18.1 -4.3h0m13.9 11.4h0m-0.3 -5.1h0m-20 -18.6h0m12.8 1h0m10.6 26.9h0m-28.8 -5.7h0m-7.2 0.9h0m2.4 -11.5h0m29.8 -9.7h0m-40.9 22.5h0m12.2 -23.2h0m-4.2 5.3h0m-7.7 -4.5h0m12.4 28.1h0m27.9 1.7h0m0.4 -12.8h0m1.7 12.8h0m6.2 -17.7h0m-46.9 0.3h0m2.9 -2.3h0m-4.6 -3.7h0m43.1 12.2h0m-33.9 -15.5h0m11.7 14.3h0m8.6 -9.3h0m10 4.3h0m6.2 10.6h0m-9.2 -7.9h0m-35.5 -7.1h0m38.2 -2.2h0m8.9 18.8h0m-22.5 5.6h0m21.2 -12.8h0m-26.1 -15.2h0m18.1 -2.1h0m-14.1 15.8h0m-16.9 5.9h0m38.4 -18.4h0m-2.5 4.4h0m-42.3 17.5h0m15.9 -20.2h0m-12.5 15.3h0m-3.6 -8.1h0m2 2.7h0m39.3 -6.6h0m-0.3 15.3h0m0.8 -19.9h0m-30.6 11.8h0m12 -14.5h0m5.3 21.8h0m-28.6 -15.1h0" stroke="#1c6a22" stroke-width="2.7" stroke-linecap="round" fill="none" opacity="0.65"/>
<path d="M397.2 94.3h0m27.1 3.4h0m-21.9 -7h0m9.5 5h0m-2.2 3.1h0m10.1 -5.2h0m-1.4 17.6h0m-18.3 -17.6h0m-1.3 13.6h0m25.5 4.6h0m-11.5 -15.2h0m0.7 -5.7h0m-19.1 2.1h0m12.9 2.1h0m-16.5 -4.6h0m10.4 1.9h0m16 7.8h0m-17.7 0.7h0m18.1 -4.3h0m13.9 11.4h0m-0.3 -5.1h0m-20 -18.6h0m12.8 1h0m10.6 26.9h0m-28.8 -5.7h0m-7.2 0.9h0m2.4 -11.5h0m29.8 -9.7h0m-40.9 22.5h0m12.2 -23.2h0m-4.2 5.3h0m-7.7 -4.5h0m12.4 28.1h0m27.9 1.7h0m0.4 -12.8h0m1.7 12.8h0m6.2 -17.7h0m-46.9 0.3h0m2.9 -2.3h0m-4.6 -3.7h0m43.1 12.2h0m-33.9 -15.5h0m11.7 14.3h0m8.6 -9.3h0m10 4.3h0m6.2 10.6h0m-9.2 -7.9h0m-35.5 -7.1h0m38.2 -2.2h0m8.9 18.8h0m-22.5 5.6h0m21.2 -12.8h0m-26.1 -15.2h0m18.1 -2.1h0m-14.1 15.8h0m-16.9 5.9h0m38.4 -18.4h0m-2.5 4.4h0m-42.3 17.5h0m15.9 -20.2h0m-12.5 15.3h0m-3.6 -8.1h0m2 2.7h0m39.3 -6.6h0m-0.3 15.3h0m0.8 -19.9h0m-30.6 11.8h0m12 -14.5h0m5.3 21.8h0m-28.6 -15.1h0" stroke="#6fcf74" stroke-width="1.6" stroke-linecap="round" fill="none"/>
</g>
<rect x="388.4" y="120.5" width="51.7" height="36.6" fill="#01010a"/>
<g clip-path="url(#c15)" filter="url(#b15)">
<path d="M394.2 149.7h0m5.1 -28.5h0m1.1 26.6h0m-4.1 -0.8h0m35 1.5h0m-21.8 1.2h0m7.6 5.8h0m9.8 -24.5h0m-25.7 19h0m37.3 -11.4h0m-0.8 10.6h0m-24 -4h0m-24.4 -22.6h0m43.4 15.5h0m-23.4 -4.2h0m11.3 0h0m-16.9 12.6h0m32.8 9.7h0m-27.1 -7.4h0m8.3 0h0m-16.6 0.9h0m-1 -19.3h0m-9.7 -7.7h0m28 33.1h0m12.9 -23.1h0m-2.9 3.1h0m9 -8.8h0m-10.9 3.4h0m-3.3 -1h0m3.7 18h0m-12 -25.9h0m-2.2 2.8h0m9 32.1h0m9.1 -22.1h0m-34.9 -0.5h0m-6.6 5h0m18.8 -18.2h0m2 18.5h0m18.7 -3.2h0m3.9 9.5h0m-7.5 1.3h0m-33.9 -3.7h0m27.8 -21.2h0m3.2 2.3h0m-30.1 25.4h0m0 -21.3h0m-2.9 4h0m11.8 23h0m12.9 -3.5h0m-5.5 -6h0m-16.9 -0.9h0m41.7 -0.6h0m-23.2 -3.9h0m2.6 -9.9h0m26.9 14.5h0m0.1 1.9h0m-21.6 -3.4h0m15 -13h0m-18.2 20.2h0m22 -11.5h0m-17.5 3.2h0m-19.4 -15.9h0m30.7 8.4h0m7.3 -10.3h0m-7.1 22.1h0m1.6 9.2h0m-30 -3.3h0m-0.4 -19.7h0" stroke="#0a0a92" stroke-width="3.9" stroke-linecap="round" fill="none" opacity="0.8"/>
<path d="M399 140.4h0m16 -1.2h0m2.7 14.3h0m14.2 -1.2h0m-34.3 1.2h0m6.8 -14.8h0m-2 -17.5h0m-12.1 7.9h0m31 27.8h0m-30.2 -14.8h0m2.6 -20h0m28.4 5.5h0m-18.5 -2.2h0m21.8 -2.2h0m-8.8 0.4h0m20.8 3.1h0m2.4 2.9h0m-22.3 15.1h0m-26 10.9h0m24 -19.6h0m5 3.5h0m-25.1 12h0m11.2 -27.2h0m30.2 18.1h0m-28.3 3.1h0m23.5 -4.5h0m-12 -14.8h0m-15.7 18.5h0m21.7 -23.1h0m-7.3 23h0m-2.2 -5.3h0m-16.1 15.7h0m-5.7 -18h0m10.4 -5.1h0m17.5 23.1h0m-31.2 -9.5h0m34.3 -20.7h0m-9.7 23h0m17.8 1.2h0m-19.5 -2.8h0m-10.4 10.2h0m9.4 -20.8h0m-20.3 -4.3h0m44.5 1h0m-37.2 -7.2h0m26.8 4.3h0m11.4 4.8h0m-26.4 4.9h0m-18.2 -9.6h0m32.9 4.4h0m-35.5 7.6h0m10 -17.2h0m17.2 14.3h0m11.9 8.9h0" stroke="#1010cc" stroke-width="2.8" stroke-linecap="round" fill="none"/>
<path d="M392.1 139.7h0m10.3 15h0m7.5 2.1h0m9.4 -31.9h0m-1.8 28.8h0m-1.2 -3.6h0m11.2 -24.9h0m-37.6 10.9h0m-0.6 12.3h0" stroke="#1e1eee" stroke-width="1.9" stroke-linecap="round" fill="none"/>
</g>
<g clip-path="url(#c16)" filter="url(#b1)">
<path d="M397.2 133h0m27.1 3.4h0m-21.9 -7.1h0m9.5 5.1h0m-2.2 3.2h0m10.1 -5.3h0m-1.4 17.9h0m-18.3 -17.9h0m-1.3 13.8h0m25.5 4.7h0m-11.5 -15.4h0m0.7 -5.9h0m-19.1 2.2h0m12.9 2.1h0m-16.5 -4.7h0m10.4 2h0m16 7.9h0m-17.7 0.7h0m18.1 -4.4h0m13.9 11.7h0m-0.3 -5.3h0m-20 -18.9h0m12.8 1.1h0m10.6 27.4h0m-28.8 -5.9h0m-7.2 0.9h0m2.4 -11.6h0m29.8 -9.9h0m-40.9 22.9h0m12.2 -23.6h0m-4.2 5.3h0m-7.7 -4.6h0m12.4 28.7h0m27.9 1.6h0m0.4 -13h0m1.7 13.1h0m6.2 -18h0m-46.9 0.3h0m2.9 -2.3h0m-4.6 -3.8h0m43.1 12.3h0m-33.9 -15.7h0m11.7 14.6h0m8.6 -9.5h0m10 4.4h0m6.2 10.8h0m-9.2 -8.1h0m-35.5 -7.2h0m38.2 -2.2h0m8.9 19.1h0m-22.5 5.7h0m21.2 -13h0m-26.1 -15.5h0m18.1 -2.2h0m-14.1 16.1h0m-16.9 6h0m38.4 -18.6h0m-2.5 4.4h0m-42.3 17.8h0m15.9 -20.6h0m-12.5 15.6h0m-3.6 -8.2h0m2 2.7h0m39.3 -6.7h0m-0.3 15.5h0m0.8 -20.2h0m-30.6 12h0m12 -14.7h0m5.3 22.2h0m-28.6 -15.4h0" stroke="#62c4d2" stroke-width="1.7" stroke-linecap="round" fill="none"/>
</g>
<rect x="442.6" y="43.2" width="51.3" height="36.4" fill="#01010a"/>
<g clip-path="url(#c17)" filter="url(#b15)">
<path d="M476 62.5h0m15.2 -1.3h0m-28.7 5.7h0m13 -15.4h0m2.5 14.2h0m-28.9 -15.2h0m5.8 10.6h0m0.7 16.6h0m8.9 1.2h0m21.1 -29.4h0m-4.8 20.7h0m-18.7 -12.9h0m-6.1 9.6h0m-10.7 3.4h0m19.7 -18.1h0m-11.7 8.9h0m19.8 -2.4h0m-25.4 -4.9h0m6.4 25.3h0m18.5 -23.5h0m19.2 -5.1h0m-38.4 22.9h0m23.1 -17h0m-8.1 12.6h0m-9.4 -11.1h0m-10 -0.6h0m35 4.2h0m9.2 10.7h0m-22.7 -28.6h0m-16 1.2h0m19.1 31.1h0m-21.9 -5.3h0m36.4 4h0m-15.3 4.6h0m6.8 -14.9h0m-22.9 13.6h0m26.3 -19.4h0m-33.6 -9.2h0m13.7 -4.9h0m11.8 20h0m-10.5 5.6h0m-13.5 1.3h0m18.4 -16.6h0m4.4 21h0m-1.3 -21.8h0m12.3 -0.7h0m8.4 16.8h0m-2.6 8.8h0m-1.6 -35.5h0m-29 34.3h0m22.9 -10.4h0m-2 -11.3h0m-8.4 0.4h0m-7.6 6.8h0m12.1 13.7h0m-22.2 -8.9h0m11.1 -13h0m24 0.3h0m2.4 -5.5h0m-10.1 17.1h0m-22.7 4.2h0m15.2 -17.9h0m-22.2 10.3h0m2.9 -6.2h0m-6.7 -1.7h0m-5.5 18.8h0m43 -10.5h0" stroke="#0a0a92" stroke-width="3.9" stroke-linecap="round" fill="none" opacity="0.8"/>
<path d="M492.4 51h0m-11.1 27.7h0m4.1 -7.5h0m-0.5 -7.9h0m-4.8 -16.7h0m-4.3 2.8h0m-21.2 20.3h0m32.7 -26.2h0m-43.3 7.7h0m35.9 -5.1h0m-17.4 0.4h0m-15.3 17.5h0m24.4 -0.6h0m-9.5 9.6h0m-12 -12.6h0m7.6 -14.1h0m-9.5 10.1h0m28.2 -11.9h0m3.4 29.5h0m-14.1 -27.5h0m-15.8 32.1h0m-2.7 -11.7h0m20 -1.5h0m6.5 8.8h0m2.8 -12.6h0m-17.6 1.5h0m23.5 11.2h0m-34.4 -18.4h0m31.9 18.3h0m-15.5 4.8h0m10 -4.4h0m12.5 -20.1h0m5 19.1h0m-39.4 -14.6h0m16.4 17.2h0m23 -31.6h0m-38.9 4.8h0m18.1 19.4h0m15.7 -7.7h0m-22.9 17.4h0m7.8 -8.9h0m-23.7 -16.1h0m2.5 -8.8h0m22.5 4.2h0m-21.3 16.8h0m-4.3 -10.6h0m11.8 7.4h0m18.6 15h0m-3.3 -16.6h0m7.2 9.1h0m6.4 1.9h0m-43.7 -21.6h0m24.3 17.5h0" stroke="#1010cc" stroke-width="2.8" stroke-linecap="round" fill="none"/>
<path d="M483.6 61.3h0m-14.5 -2.4h0m-1.2 -6.7h0m-0.8 13.5h0m-4.4 -11.9h0m-0.8 -8.8h0m-4.2 -1.1h0m25.9 4.9h0m-18 -0.7h0" stroke="#1e1eee" stroke-width="1.9" stroke-linecap="round" fill="none"/>
</g>
<rect x="442.6" y="82" width="51.3" height="36" fill="#030803"/>
<g clip-path="url(#c18)" filter="url(#b15)">
<path d="M482.1 85.7h0m-19.7 30.1h0m22.1 -18.9h0m-2.4 -2.8h0m1 4.7h0m-21.9 13.8h0m29.8 -17.6h0m-29.8 -4.7h0m22.8 -0.4h0m4.2 1.3h0m-42.5 -0.9h0m-1.3 1.2h0m26.6 2.4h0" stroke="#1c6a22" stroke-width="2.7" stroke-linecap="round" fill="none" opacity="0.65"/>
<path d="M482.1 85.7h0m-19.7 30.1h0m22.1 -18.9h0m-2.4 -2.8h0m1 4.7h0m-21.9 13.8h0m29.8 -17.6h0m-29.8 -4.7h0m22.8 -0.4h0m4.2 1.3h0m-42.5 -0.9h0m-1.3 1.2h0m26.6 2.4h0" stroke="#6fcf74" stroke-width="1.6" stroke-linecap="round" fill="none"/>
</g>
<rect x="442.6" y="120.5" width="51.3" height="36.6" fill="#01010a"/>
<g clip-path="url(#c19)" filter="url(#b15)">
<path d="M476 138.6h0m15.2 5.8h0m-28.7 -15.6h0m13 14.3h0m2.5 -15.3h0m-28.9 10.7h0m5.8 16.7h0m0.7 1.2h0m8.9 -29.6h0m21.1 20.9h0m-4.8 -13.1h0m-18.7 9.7h0m-6.1 3.4h0m-10.7 -18.1h0m19.7 8.9h0m-11.7 -2.5h0m19.8 -4.9h0m-25.4 25.5h0m6.4 -23.7h0m18.5 -5.1h0m19.2 23h0m-38.4 -17h0m23.1 12.7h0m-8.1 -11.2h0m-9.4 -0.6h0m-10 4.2h0m35 10.8h0m9.2 -28.8h0m-22.7 1.2h0m-16 31.2h0m19.1 -5.2h0m-21.9 4h0m36.4 4.6h0m-15.3 -15h0m6.8 13.7h0m-22.9 -19.5h0m26.3 -9.2h0m-33.6 -5h0m13.7 20.1h0m11.8 5.7h0m-10.5 1.2h0m-13.5 -16.7h0m18.4 21.2h0m4.4 -22h0m-1.3 -0.7h0m12.3 17h0m8.4 8.8h0m-2.6 -35.7h0m-1.6 34.5h0m-29 -10.5h0m22.9 -11.3h0m-2 0.3h0m-8.4 6.9h0m-7.6 13.8h0m12.1 -9h0m-22.2 -13h0m11.1 0.3h0m24 -5.6h0m2.4 17.2h0m-10.1 4.2h0m-22.7 -18h0m15.2 10.4h0m-22.2 -6.3h0m2.9 -1.6h0m-6.7 18.9h0m-5.5 -10.6h0m43 14.9h0m-16.3 -8h0" stroke="#0a0a92" stroke-width="3.9" stroke-linecap="round" fill="none" opacity="0.8"/>
<path d="M485.4 148.7h0m-0.5 -8h0m-4.8 -16.7h0m-4.3 2.7h0m-21.2 20.5h0m32.7 -26.4h0m-43.3 7.7h0m35.9 -5.1h0m-17.4 0.5h0m-15.3 17.5h0m24.4 -0.6h0m-9.5 9.7h0m-12 -12.7h0m7.6 -14.2h0m-9.5 10.1h0m28.2 -11.9h0m3.4 29.7h0m-14.1 -27.7h0m-15.8 32.3h0m-2.7 -11.8h0m20 -1.5h0m6.5 8.9h0m2.8 -12.7h0m-17.6 1.5h0m23.5 11.3h0m-34.4 -18.5h0m31.9 18.3h0m-15.5 4.9h0m10 -4.5h0m12.5 -20.1h0m5 19.2h0m-39.4 -14.7h0m16.4 17.3h0m23 -31.8h0m-38.9 4.8h0m18.1 19.5h0m15.7 -7.7h0m-22.9 17.5h0m7.8 -8.9h0m-23.7 -16.3h0m2.5 -8.8h0m22.5 4.3h0m-21.3 16.8h0m-4.3 -10.6h0m11.8 7.4h0m18.6 15.1h0m-3.3 -16.7h0m7.2 9.2h0m6.4 1.9h0m-43.7 -21.7h0m24.3 17.5h0m-15.1 4.6h0m39 -10.4h0" stroke="#1010cc" stroke-width="2.8" stroke-linecap="round" fill="none"/>
<path d="M467.9 129.5h0m-0.8 13.7h0m-4.4 -12.1h0m-0.8 -8.8h0m-4.2 -1.1h0m25.9 4.9h0m-18 -0.6h0m2.5 -3.3h0m-3.4 6.9h0" stroke="#1e1eee" stroke-width="1.9" stroke-linecap="round" fill="none"/>
</g>
<g clip-path="url(#c20)" filter="url(#b1)">
<path d="M482.1 124.3h0m-19.7 30.6h0m22.1 -19.3h0m-2.4 -2.8h0m1 4.8h0m-21.9 14.1h0m29.8 -18h0m-29.8 -4.7h0m22.8 -0.5h0m4.2 1.3h0m-42.5 -0.9h0m-1.3 1.3h0m26.6 2.4h0" stroke="#62c4d2" stroke-width="1.7" stroke-linecap="round" fill="none"/>
</g>
<text x="482.3" y="152" font-size="7.8" text-anchor="middle" fill="#fff">50µm</text>
<rect x="472" y="153.9" width="20.3" height="1.9" fill="#fff"/>
<path d="M560.8 121.3V59H572.2V121.3" fill="none" stroke="#a6a6a6" stroke-width="1.5"/>
<path d="M577 121.3V90.3H588.5V121.3" fill="none" stroke="#e8383c" stroke-width="1.5"/>
<line x1="566.5" y1="56.5" x2="566.5" y2="59" stroke="#a6a6a6" stroke-width="1"/>
<line x1="563.9" y1="56.5" x2="569.1" y2="56.5" stroke="#a6a6a6" stroke-width="1"/>
<line x1="582.8" y1="87" x2="582.8" y2="90.3" stroke="#e8383c" stroke-width="1"/>
<line x1="580.2" y1="87" x2="585.4" y2="87" stroke="#e8383c" stroke-width="1"/>
<line x1="553.3" y1="46.8" x2="553.3" y2="122" stroke="#000" stroke-width="1.5"/>
<line x1="552.5" y1="121.3" x2="596.8" y2="121.3" stroke="#000" stroke-width="1.5"/>
<line x1="549.9" y1="47.5" x2="553.3" y2="47.5" stroke="#000" stroke-width="1.5"/>
<text x="547.5" y="50.6" font-size="8.5" text-anchor="end" font-weight="700">40</text>
<line x1="549.9" y1="66" x2="553.3" y2="66" stroke="#000" stroke-width="1.5"/>
<text x="547.5" y="69.1" font-size="8.5" text-anchor="end" font-weight="700">30</text>
<line x1="549.9" y1="84.5" x2="553.3" y2="84.5" stroke="#000" stroke-width="1.5"/>
<text x="547.5" y="87.6" font-size="8.5" text-anchor="end" font-weight="700">20</text>
<line x1="549.9" y1="103" x2="553.3" y2="103" stroke="#000" stroke-width="1.5"/>
<text x="547.5" y="106.1" font-size="8.5" text-anchor="end" font-weight="700">10</text>
<line x1="549.9" y1="121.5" x2="553.3" y2="121.5" stroke="#000" stroke-width="1.5"/>
<text x="547.5" y="124.6" font-size="8.5" text-anchor="end" font-weight="700">0</text>
<line x1="566.5" y1="121.3" x2="566.5" y2="124.6" stroke="#000" stroke-width="1.5"/>
<text font-size="8.2" text-anchor="end" font-weight="700" transform="translate(567.7 132.7) rotate(-45)">Vector</text>
<line x1="582.8" y1="121.3" x2="582.8" y2="124.6" stroke="#000" stroke-width="1.5"/>
<text font-size="8.2" text-anchor="end" font-weight="700" transform="translate(584 132.7) rotate(-45)">FBXL8</text>
<text font-size="7.6" text-anchor="middle" font-weight="700" transform="translate(535.3 84.8) rotate(-90)">EdU positive cells (%)</text>
<line x1="566" y1="47.6" x2="583.4" y2="47.6" stroke="#000" stroke-width="1.2"/>
<text x="574.7" y="48.1" font-size="9.4" text-anchor="middle" font-weight="700">***</text>
<circle cx="561.5" cy="60.3" r="1.9"/>
<circle cx="566.3" cy="53.5" r="1.9"/>
<circle cx="570.8" cy="59.2" r="1.9"/>
<rect x="576.5" y="84.6" width="3.4" height="3.4" fill="#000"/>
<rect x="581" y="92.3" width="3.4" height="3.4" fill="#000"/>
<rect x="585.3" y="87.3" width="3.4" height="3.4" fill="#000"/>
<text x="574.3" y="165" font-size="10" text-anchor="middle" font-weight="700">PANC-1</text>
<path d="M631.8 120.8V64.7H643V120.8" fill="none" stroke="#a6a6a6" stroke-width="1.5"/>
<path d="M647.9 120.8V91.3H659.2V120.8" fill="none" stroke="#e8383c" stroke-width="1.5"/>
<line x1="637.4" y1="61.5" x2="637.4" y2="64.7" stroke="#a6a6a6" stroke-width="1"/>
<line x1="634.8" y1="61.5" x2="640" y2="61.5" stroke="#a6a6a6" stroke-width="1"/>
<line x1="653.5" y1="89.5" x2="653.5" y2="91.3" stroke="#e8383c" stroke-width="1"/>
<line x1="650.9" y1="89.5" x2="656.1" y2="89.5" stroke="#e8383c" stroke-width="1"/>
<line x1="624.4" y1="47.8" x2="624.4" y2="121.5" stroke="#000" stroke-width="1.5"/>
<line x1="623.6" y1="120.8" x2="667" y2="120.8" stroke="#000" stroke-width="1.5"/>
<line x1="621" y1="48.5" x2="624.4" y2="48.5" stroke="#000" stroke-width="1.5"/>
<text x="618.6" y="51.6" font-size="8.5" text-anchor="end" font-weight="700">40</text>
<line x1="621" y1="66.5" x2="624.4" y2="66.5" stroke="#000" stroke-width="1.5"/>
<text x="618.6" y="69.6" font-size="8.5" text-anchor="end" font-weight="700">30</text>
<line x1="621" y1="84.8" x2="624.4" y2="84.8" stroke="#000" stroke-width="1.5"/>
<text x="618.6" y="87.9" font-size="8.5" text-anchor="end" font-weight="700">20</text>
<line x1="621" y1="102.8" x2="624.4" y2="102.8" stroke="#000" stroke-width="1.5"/>
<text x="618.6" y="105.9" font-size="8.5" text-anchor="end" font-weight="700">10</text>
<line x1="621" y1="120.8" x2="624.4" y2="120.8" stroke="#000" stroke-width="1.5"/>
<text x="618.6" y="123.9" font-size="8.5" text-anchor="end" font-weight="700">0</text>
<line x1="637.4" y1="120.8" x2="637.4" y2="124.1" stroke="#000" stroke-width="1.5"/>
<text font-size="8.2" text-anchor="end" font-weight="700" transform="translate(638.6 132.2) rotate(-45)">Vector</text>
<line x1="653.5" y1="120.8" x2="653.5" y2="124.1" stroke="#000" stroke-width="1.5"/>
<text font-size="8.2" text-anchor="end" font-weight="700" transform="translate(654.8 132.2) rotate(-45)">FBXL8</text>
<text font-size="7.5" text-anchor="middle" font-weight="700" transform="translate(606.2 84.8) rotate(-90)">EdU positive cells (%)</text>
<line x1="637" y1="49.9" x2="654.2" y2="49.9" stroke="#000" stroke-width="1.2"/>
<text x="645.6" y="50.7" font-size="9.4" text-anchor="middle" font-weight="700">***</text>
<circle cx="632.6" cy="66.8" r="1.9"/>
<circle cx="637.2" cy="59.8" r="1.9"/>
<circle cx="641.9" cy="65.3" r="1.9"/>
<rect x="647.3" y="92.6" width="3.4" height="3.4" fill="#000"/>
<rect x="651.8" y="89" width="3.4" height="3.4" fill="#000"/>
<rect x="656.3" y="89" width="3.4" height="3.4" fill="#000"/>
<text x="645.4" y="165" font-size="10" text-anchor="middle" font-weight="700">CFPAC</text>
<text x="16" y="228.9" font-size="21" font-weight="700">C</text>
<line x1="57.7" y1="260.6" x2="57.7" y2="338.4" stroke="#000" stroke-width="1.7"/>
<line x1="56.9" y1="337.5" x2="150.3" y2="337.5" stroke="#000" stroke-width="1.7"/>
<line x1="53.6" y1="261.8" x2="57.7" y2="261.8" stroke="#000" stroke-width="1.7"/>
<text x="51.3" y="265.4" font-size="10" text-anchor="end" font-weight="700">1.5</text>
<line x1="53.6" y1="287" x2="57.7" y2="287" stroke="#000" stroke-width="1.7"/>
<text x="51.3" y="290.6" font-size="10" text-anchor="end" font-weight="700">1.0</text>
<line x1="53.6" y1="312.2" x2="57.7" y2="312.2" stroke="#000" stroke-width="1.7"/>
<text x="51.3" y="315.8" font-size="10" text-anchor="end" font-weight="700">0.5</text>
<line x1="53.6" y1="337.5" x2="57.7" y2="337.5" stroke="#000" stroke-width="1.7"/>
<text x="51.3" y="341.1" font-size="10" text-anchor="end" font-weight="700">0.0</text>
<line x1="72.5" y1="337.5" x2="72.5" y2="341.6" stroke="#000" stroke-width="1.7"/>
<text x="72.5" y="353.2" font-size="10" text-anchor="middle" font-weight="700">0</text>
<line x1="93.8" y1="337.5" x2="93.8" y2="341.6" stroke="#000" stroke-width="1.7"/>
<text x="93.8" y="353.2" font-size="10" text-anchor="middle" font-weight="700">24</text>
<line x1="115.2" y1="337.5" x2="115.2" y2="341.6" stroke="#000" stroke-width="1.7"/>
<text x="115.2" y="353.2" font-size="10" text-anchor="middle" font-weight="700">48</text>
<line x1="136.8" y1="337.5" x2="136.8" y2="341.6" stroke="#000" stroke-width="1.7"/>
<text x="136.8" y="353.2" font-size="10" text-anchor="middle" font-weight="700">72</text>
<text font-size="10" text-anchor="middle" font-weight="700" transform="translate(30.5 302) rotate(-90)">OD value (450nm)</text>
<path d="M72.5 322L93.8 312.5L115.2 299.5L136.8 280.5" fill="none" stroke="#6a6a6a" stroke-width="1.7" stroke-linejoin="round"/>
<circle cx="72.5" cy="322" r="1.7" fill="#6a6a6a"/>
<circle cx="93.8" cy="312.5" r="1.7" fill="#6a6a6a"/>
<circle cx="115.2" cy="299.5" r="1.7" fill="#6a6a6a"/>
<line x1="115.2" y1="298.7" x2="115.2" y2="300.3" stroke="#6a6a6a" stroke-width="1.4"/>
<line x1="113.2" y1="298.7" x2="117.2" y2="298.7" stroke="#6a6a6a" stroke-width="1.4"/>
<line x1="113.2" y1="300.3" x2="117.2" y2="300.3" stroke="#6a6a6a" stroke-width="1.4"/>
<circle cx="136.8" cy="280.5" r="1.7" fill="#6a6a6a"/>
<line x1="136.8" y1="278.7" x2="136.8" y2="282.3" stroke="#6a6a6a" stroke-width="1.4"/>
<line x1="134.8" y1="278.7" x2="138.8" y2="278.7" stroke="#6a6a6a" stroke-width="1.4"/>
<line x1="134.8" y1="282.3" x2="138.8" y2="282.3" stroke="#6a6a6a" stroke-width="1.4"/>
<path d="M72.5 322.3L93.8 315.8L115.2 308.8L136.8 297.5" fill="none" stroke="#e8242a" stroke-width="1.7" stroke-linejoin="round"/>
<circle cx="72.5" cy="322.3" r="1.7" fill="#e8242a"/>
<circle cx="93.8" cy="315.8" r="1.7" fill="#e8242a"/>
<circle cx="115.2" cy="308.8" r="1.7" fill="#e8242a"/>
<line x1="115.2" y1="307.6" x2="115.2" y2="310" stroke="#e8242a" stroke-width="1.4"/>
<line x1="113.2" y1="307.6" x2="117.2" y2="307.6" stroke="#e8242a" stroke-width="1.4"/>
<line x1="113.2" y1="310" x2="117.2" y2="310" stroke="#e8242a" stroke-width="1.4"/>
<circle cx="136.8" cy="297.5" r="1.7" fill="#e8242a"/>
<line x1="136.8" y1="296.1" x2="136.8" y2="298.9" stroke="#e8242a" stroke-width="1.4"/>
<line x1="134.8" y1="296.1" x2="138.8" y2="296.1" stroke="#e8242a" stroke-width="1.4"/>
<line x1="134.8" y1="298.9" x2="138.8" y2="298.9" stroke="#e8242a" stroke-width="1.4"/>
<line x1="62.5" y1="249" x2="83.8" y2="249" stroke="#6a6a6a" stroke-width="1.7"/>
<circle cx="73.2" cy="249" r="1.9" fill="#6a6a6a"/>
<text x="94.5" y="252.6" font-size="10">Vector</text>
<line x1="62.5" y1="262.5" x2="83.8" y2="262.5" stroke="#e8242a" stroke-width="1.7"/>
<circle cx="73.2" cy="262.5" r="1.9" fill="#e8242a"/>
<text x="94.5" y="266" font-size="10">FBXL8</text>
<line x1="143" y1="278.8" x2="143" y2="298.8" stroke="#000" stroke-width="1.7"/>
<text x="156.3" y="291.9" font-size="9.6" text-anchor="middle" font-weight="700">****</text>
<text x="104.4" y="370.6" font-size="10" text-anchor="middle" font-weight="700">PANC-1</text>
<line x1="212.7" y1="263.1" x2="212.7" y2="340.9" stroke="#000" stroke-width="1.7"/>
<line x1="211.8" y1="340" x2="304.5" y2="340" stroke="#000" stroke-width="1.7"/>
<line x1="208.7" y1="264.5" x2="212.7" y2="264.5" stroke="#000" stroke-width="1.7"/>
<text x="206.3" y="268.1" font-size="10" text-anchor="end" font-weight="700">2.0</text>
<line x1="208.7" y1="283.3" x2="212.7" y2="283.3" stroke="#000" stroke-width="1.7"/>
<text x="206.3" y="286.9" font-size="10" text-anchor="end" font-weight="700">1.5</text>
<line x1="208.7" y1="302.2" x2="212.7" y2="302.2" stroke="#000" stroke-width="1.7"/>
<text x="206.3" y="305.8" font-size="10" text-anchor="end" font-weight="700">1.0</text>
<line x1="208.7" y1="321.2" x2="212.7" y2="321.2" stroke="#000" stroke-width="1.7"/>
<text x="206.3" y="324.8" font-size="10" text-anchor="end" font-weight="700">0.5</text>
<line x1="208.7" y1="340" x2="212.7" y2="340" stroke="#000" stroke-width="1.7"/>
<text x="206.3" y="343.6" font-size="10" text-anchor="end" font-weight="700">0.0</text>
<line x1="226.8" y1="340" x2="226.8" y2="344.1" stroke="#000" stroke-width="1.7"/>
<text x="226.8" y="354.6" font-size="10" text-anchor="middle" font-weight="700">0</text>
<line x1="248.3" y1="340" x2="248.3" y2="344.1" stroke="#000" stroke-width="1.7"/>
<text x="248.3" y="354.6" font-size="10" text-anchor="middle" font-weight="700">24</text>
<line x1="269.7" y1="340" x2="269.7" y2="344.1" stroke="#000" stroke-width="1.7"/>
<text x="269.7" y="354.6" font-size="10" text-anchor="middle" font-weight="700">48</text>
<line x1="291.3" y1="340" x2="291.3" y2="344.1" stroke="#000" stroke-width="1.7"/>
<text x="291.3" y="354.6" font-size="10" text-anchor="middle" font-weight="700">72</text>
<text font-size="10" text-anchor="middle" font-weight="700" transform="translate(184.8 303.8) rotate(-90)">OD value (450nm)</text>
<path d="M226.8 325.8L248.3 315L269.7 295.5L291.3 273.3" fill="none" stroke="#6a6a6a" stroke-width="1.7" stroke-linejoin="round"/>
<circle cx="226.8" cy="325.8" r="1.7" fill="#6a6a6a"/>
<circle cx="248.3" cy="315" r="1.7" fill="#6a6a6a"/>
<circle cx="269.7" cy="295.5" r="1.7" fill="#6a6a6a"/>
<line x1="269.7" y1="294.9" x2="269.7" y2="296.1" stroke="#6a6a6a" stroke-width="1.4"/>
<line x1="267.7" y1="294.9" x2="271.7" y2="294.9" stroke="#6a6a6a" stroke-width="1.4"/>
<line x1="267.7" y1="296.1" x2="271.7" y2="296.1" stroke="#6a6a6a" stroke-width="1.4"/>
<circle cx="291.3" cy="273.3" r="1.7" fill="#6a6a6a"/>
<line x1="291.3" y1="272.3" x2="291.3" y2="274.3" stroke="#6a6a6a" stroke-width="1.4"/>
<line x1="289.3" y1="272.3" x2="293.3" y2="272.3" stroke="#6a6a6a" stroke-width="1.4"/>
<line x1="289.3" y1="274.3" x2="293.3" y2="274.3" stroke="#6a6a6a" stroke-width="1.4"/>
<path d="M226.8 326L248.3 318.3L269.7 306.3L291.3 293.8" fill="none" stroke="#e8242a" stroke-width="1.7" stroke-linejoin="round"/>
<circle cx="226.8" cy="326" r="1.7" fill="#e8242a"/>
<circle cx="248.3" cy="318.3" r="1.7" fill="#e8242a"/>
<circle cx="269.7" cy="306.3" r="1.7" fill="#e8242a"/>
<line x1="269.7" y1="305.7" x2="269.7" y2="306.9" stroke="#e8242a" stroke-width="1.4"/>
<line x1="267.7" y1="305.7" x2="271.7" y2="305.7" stroke="#e8242a" stroke-width="1.4"/>
<line x1="267.7" y1="306.9" x2="271.7" y2="306.9" stroke="#e8242a" stroke-width="1.4"/>
<circle cx="291.3" cy="293.8" r="1.7" fill="#e8242a"/>
<line x1="291.3" y1="292.5" x2="291.3" y2="295.1" stroke="#e8242a" stroke-width="1.4"/>
<line x1="289.3" y1="292.5" x2="293.3" y2="292.5" stroke="#e8242a" stroke-width="1.4"/>
<line x1="289.3" y1="295.1" x2="293.3" y2="295.1" stroke="#e8242a" stroke-width="1.4"/>
<line x1="217" y1="253" x2="238.8" y2="253" stroke="#6a6a6a" stroke-width="1.7"/>
<circle cx="227.9" cy="253" r="1.9" fill="#6a6a6a"/>
<text x="249.5" y="255.6" font-size="10">Vector</text>
<line x1="217" y1="266.3" x2="238.8" y2="266.3" stroke="#e8242a" stroke-width="1.7"/>
<circle cx="227.9" cy="266.3" r="1.9" fill="#e8242a"/>
<text x="249.5" y="269.3" font-size="10">FBXL8</text>
<line x1="297.5" y1="273" x2="297.5" y2="293.8" stroke="#000" stroke-width="1.7"/>
<text x="310.7" y="286.9" font-size="9.6" text-anchor="middle" font-weight="700">****</text>
<text x="258.8" y="372.6" font-size="10" text-anchor="middle" font-weight="700">CFPAC</text>
<text x="318.5" y="228.2" font-size="21" font-weight="700">D</text>
<text x="397.3" y="230.6" font-size="10.6" text-anchor="middle">Vector</text>
<text x="472.4" y="230.6" font-size="10.6" text-anchor="middle">FBXL8</text>
<text font-size="13.3" text-anchor="middle" transform="translate(354.4 266.2) rotate(-90)">PANC-1</text>
<text font-size="13.3" text-anchor="middle" transform="translate(354.4 342.6) rotate(-90)">CFPAC</text>
<circle cx="395.8" cy="270.5" r="33.7" fill="#e6e4e8"/>
<g clip-path="url(#c21)" filter="url(#b1)">
<path d="M405.3 259.8h0m1.6 38.1h0m-41.4 -16.2h0m23.3 -39h0m-15.8 41.9h0m44.6 3.3h0m-18.3 -49.4h0m-35.8 34.7h0m45.4 27.3h0m16.4 -20.2h0m-57 -13.4h0m24.6 14.3h0m15.2 -40.1h0m4.8 55.5h0m-3.5 -24.7h0m8.7 -16h0m-26.5 17h0m23.1 -27.2h0m-48 11h0m38.9 4.7h0m17.4 -2h0m-4.2 24.6h0m-28.5 16.2h0m13.3 -12.3h0m3 -20.4h0m-20.1 -22.7h0m34.7 12.9h0m0.6 10.4h0m-23.9 -5.3h0m19.5 -14.2h0m3.7 12h0m-49.3 -9.8h0m36.1 -6.2h0m14.8 21.5h0m-56.7 9.8h0m36.6 26.7h0m-23.8 -61h0m35.4 35.6h0m-30.5 24.3h0m-6.8 -12.5h0m28 -43.9h0m18.4 29.6h0m-31.4 3.8h0m-2.7 9.9h0m-10.3 -45.5h0m36.8 7.8h0m-49.6 23.5h0m47.6 -30.3h0m-42.9 39.9h0m-4.5 -13.7h0m15.4 29.8h0m20.8 -10.3h0m15.2 -37.1h0m-45.7 0.1h0m20.5 46.6h0m-25.6 -35.9h0m24.9 9.9h0m33.2 4.2h0m-38.9 -34.9h0m28.7 7.2h0m-41.4 2.6h0m41.9 44.3h0m-38.2 -15.8h0m24.5 9h0m9.7 9h0m-23.1 -1.6h0m29.2 -43.3h0m-4.9 -8.7h0m-8.6 -3.6h0m16.4 17h0m-9.3 24.1h0m-9.6 16.2h0m26 -19.6h0m-12.1 -8.3h0m-36.1 -20.9h0m-0.5 31.5h0m-3.9 -20.3h0m43.2 -14.8h0m-23.3 28.6h0m2.1 24.8h0m8.8 -49.8h0m16.5 24.5h0m-0.4 -17.1h0m-38.4 30.9h0m41.3 -11.8h0m-21.8 26.9h0m19.2 -18.4h0m-8.9 -40.1h0m12 36.2h0m-3.1 -1.5h0m-51.1 -31.1h0m31.9 49.1h0m-21.4 -2.7h0m21.1 -53.3h0m-24.1 37.6h0m13.4 -39.6h0m0.2 49.5h0m21.1 -0.1h0m7.6 -7.3h0m-11.4 -33h0m0.2 34.9h0m0.2 -5.7h0m3.2 18.3h0m-35.5 -28.3h0m10 -18.2h0m-23.5 21.9h0m12.3 -19.8h0m9.7 18.8h0m9.2 -19.9h0m-21.9 2.5h0m35 41.9h0m-26.1 -1.8h0m43.1 -24.1h0m-55.3 9.9h0m13.2 -34.7h0m26.1 51.3h0m-24.5 -47.3h0m0.8 -8.5h0m21.9 48.9h0m5.2 -24.9h0m-39.1 23.9h0m3.9 9.2h0m5.9 -52.4h0m37.9 11.9h0m-12.9 -6.3h0m-43.5 7.4h0m52.2 20.4h0m-46.1 -5.4h0m3.4 -22.6h0m36.9 -5h0m-7.1 52.3h0m-20 -24.3h0m-5.8 -24.1h0m6.8 -4.6h0m41.5 35.3h0m-7.4 -32.3h0m1.2 44.4h0m-14.6 -34.4h0m4.3 -3.4h0m-39.4 -5h0m-6.7 13.1h0m12.7 34.8h0m-2 -8.7h0m35.3 -25.3h0m-29.8 -16.2h0m-12.9 30.2h0m13.4 12.2h0m27.5 -19h0m-0.6 -4.6h0m15.4 -9.1h0m2.2 -0.7h0m-50 40.7h0m30.7 -43.3h0m-12.8 10.7h0m24.1 -6.3h0m-24.2 -17.3h0m16.6 6.2h0m-11.4 16.7h0m-16.7 -0.3h0m5 -19h0m33.1 38.9h0m-47.9 9.1h0m35.4 -52.9h0m11.4 46.6h0m-26.5 -8.1h0m-16.7 -27.7h0m-7.6 29.9h0m56.8 4.9h0m-17.6 6.5h0m-27.3 -48.4h0m-3 21.9h0m12.6 1.9h0m32.7 -13.2h0m-8.9 9.6h0m-24.8 34.5h0m29.6 -46.2h0m-42 16.4h0m-0.1 -22.2h0m26.3 29.8h0m-31.2 13.2h0m33.9 -20.8h0m22.3 -9.5h0m-56.9 27.6h0m26.5 17.1h0m28.7 -39.8h0m-44.2 7.5h0m28.1 -4.5h0m18.8 11.9h0m-59.5 -25.6h0m21.3 47.8h0m35.2 -28.8h0m-62.7 1.8h0m63.8 -12.7h0m-46.5 14.5h0m22.8 24.2h0m-15.2 -54.4h0m22.1 12.5h0m-12.4 -5h0m-1.1 24h0m3.9 -27.2h0m-2.4 13.1h0m-26.3 14.8h0m25.7 -34.2h0m28.6 34.8h0m-21.5 21.1h0m-27.8 -11h0m46.7 -30.2h0m-37.5 -16.9h0m-3.5 5h0m23 7.2h0m-11.1 5.5h0m30.6 24.2h0m-5 -30.6h0m-21.2 -9.2h0m4.2 56.9h0m-32.9 -46.9h0m2.8 25.4h0m36.2 -5.1h0m-3.9 -27.5h0m-20.2 42.4h0m-10.7 -40.3h0m29.1 8.7h0m8 7.5h0m-37.9 3h0m-4.9 13.3h0m60.8 -7.4h0m-8.7 18.7h0m-28.4 -49.4h0m15.9 54.6h0m-19.7 -27.3h0m19 20.2h0m-2.6 -48.4h0m-0.9 58.5h0m-6.7 -34.1h0m-32.3 16.7h0m31.5 -40h0m-19.9 53h0m51.9 -31.6h0m-61.3 6.6h0m1.9 18.9h0m-0.6 -1.8h0m21.9 0.8h0m-7 -42.1h0m28 53.3h0" stroke="#6550de" stroke-width="2.7" stroke-linecap="round" fill="none" opacity="0.9"/>
<path d="M383.5 242h0m22.2 58.9h0m5.5 -30.7h0m8.7 19.3h0m-22.8 -9.4h0m-15.8 12h0m25.4 -21.1h0m-12.5 19.7h0m19.6 -27.7h0m-23.7 34.8h0m-10.2 -54.8h0m27.8 14.3h0m11.8 30.5h0m-36.3 -43.8h0m7.7 -3h0m27.2 17h0m1 30.3h0m-38.4 -40.4h0m-13.1 5.9h0m16.1 -14.6h0m-17.8 19.2h0m41.3 7.6h0m12.2 -18.4h0m-32.7 30.9h0m-14.7 9.4h0m27.5 -2.4h0m20.3 -32.2h0m-31.1 42.9h0m39.7 -29.2h0m-6.5 4.9h0m4.8 -3h0m-40 29.3h0m13.1 3.8h0m26.2 -18.4h0m-23.9 -38.8h0m-31.3 36.2h0m-3.1 -26.5h0m22.3 19.9h0m28.6 -27.7h0m-45.5 1.3h0m30.1 6.7h0m-20.6 36.9h0m18.3 -42.3h0m-2.6 23.5h0m4.1 -4.2h0m14.8 11.9h0m-38.9 -21.2h0m17.6 43h0m-8.4 -4.7h0m-5 -28.1h0m24.6 3.9h0m-23.6 14.9h0m11 11.2h0m8 -56.7h0m4.5 5.7h0m-34.5 15h0m8.3 -14.9h0m-11.1 34.7h0m42.5 11.4h0m1 -50.6h0m-41.7 46.5h0m-4.7 -3h0m48.3 -20.2h0m5.1 0.6h0m-36.1 23.4h0m27 -45.9h0m-7.8 -2h0m-20.2 52.4h0m-15.7 -39.7h0m53.6 4.2h0m-40.7 19.6h0m-12.6 2.8h0m13.7 -10.1h0m40.8 -21.3h0m-14.2 30.7h0m-0.4 4.6h0m-35.2 -30h0m54.8 12.7h0m-42.1 -28.3h0m-19.6 34.7h0m36.2 -26.1h0m13.1 44.6h0m-49.6 -31.4h0m16.6 -8.7h0m21.8 32.1h0m-15.2 14.4h0m-8.8 -1.8h0m0.2 -55.1h0m44.2 14.7h0m2.2 13.2h0m-35.3 -14.3h0m-8.4 3.5h0m30.4 -0.3h0m-43.6 18.2h0m35.2 -35.8h0m-37.5 24.6h0m41.6 11.9h0m-21 -22.7h0m-4.3 -17.4h0m36.6 21.8h0m-10.9 35.6h0m14.3 -7.1h0m-1.7 -25.4h0m-34.6 36h0m-8.7 -3.1h0m37.3 -16h0m-35.4 16.4h0m14.4 -6.9h0m-11 6h0m-5 -33.5h0m33.4 27.9h0m3.1 -2.1h0m-35.1 -22.3h0m37.5 2.2h0m-20.4 -31.7h0m-25.5 52.1h0m26.1 12.8h0m7.9 -55.8h0m14.8 3.4h0m-35.4 14.1h0m-19.7 -0.7h0m33.2 39.3h0m22 -48.1h0m-26.8 48.6h0m-24.4 -25.2h0m9 -28.1h0m42.4 7.2h0m-19.8 34.1h0m19.8 -39.9h0m-15.3 -4.3h0m4.4 50.3h0m-39.4 -10.1h0m54.3 -32.3h0m-44.9 -6.7h0m15.2 35.1h0m32.9 -13.7h0m-62 -5h0m18.5 10.2h0m34.4 9h0m-1.9 8.2h0m-53.7 -13.4h0m16 -10.2h0m29.6 -21h0m7.1 35.5h0m-40.6 -23.6h0m20.8 27.9h0m10.8 -32.2h0m-21 13.8h0m21.5 -26.4h0m-37.1 39.1h0m15.6 -17.3h0m16.5 34.4h0m9.1 -1.5h0m-8.7 -8.3h0m-25.6 -12.3h0m12.1 27.1h0m-16.9 -13.2h0m23.9 -51.1h0m31.7 35.4h0m0.4 -6.5h0m-17.8 -0.7h0m-15.4 9.1h0m13.4 -34.8h0m0.9 42.4h0m-35.1 -33.7h0m41.4 40.8h0m-29.9 -7.9h0m24.3 -19.5h0m-44.2 -8.5h0m19.3 21.9h0m22.8 1.6h0m-0.4 18.8h0m2.3 -42.8h0m-7.4 19h0m-32.3 -25.1h0m54.5 19.4h0m-1 13.7h0m-46.7 10.1h0m-2.5 -21.1h0m22.5 27.4h0m30.1 -28.2h0m-3.8 -6.5h0m1.7 -4.8h0m-23.5 41.2h0m14.1 -50h0m-44.2 9.3h0m-1.9 26.3h0m20.4 -33.3h0m-18 15.5h0m23.4 -26.1h0m22 32h0m-22.6 -29.8h0m9 52.7h0m-16.6 -49.9h0m15.1 5.8h0m8.2 11.4h0m5.4 31.4h0m-37.8 -52.3h0m19.2 50.7h0m-13.9 -41.7h0m44.9 25.4h0m-55.4 -27h0m27.9 -4.9h0m15.6 4.5h0m-17.2 24.1h0m15.5 4.9h0m-8.5 -2.8h0m-18.3 -31.5h0m-0.6 -3.9h0m17.6 2.5h0m-3.5 -4.6h0m-6.2 62.9h0m-20.6 -49.8h0m43.9 27.8h0m-10.5 17.1h0m-1.5 -16.3h0m-6.5 -11.8h0m28.1 2.6h0m-47.6 29h0m-8.6 -43.9h0m5.2 32h0m-6.1 -34.3h0m17.4 9.2h0m9.3 -20.2h0m-24.8 14h0m25.5 30h0m13.1 3.6h0m-42.6 -6.1h0m8.1 -40.6h0m7.6 8.3h0m7.4 6h0m-23.3 2.9h0m30.6 35.9h0m16.2 -39.4h0m-36 26.6h0m16.2 -19h0m-4.8 -21.3h0m-5.8 9h0m13.8 -14.9h0m5.6 26.4h0m7.6 -13.7h0m-10.4 17.9h0m-9.9 -27h0m24.7 8.8h0m-18.4 20.1h0m-19.4 24.4h0m-1.4 -21.6h0m0.3 -2.1h0m26.4 29.7h0m-31.1 -16.6h0m-0.5 4h0m41.4 -45.1h0m-11.4 20.2h0m-21.7 -14.1h0m1.8 46.6h0m13.1 -41.3h0m-25.4 9.4h0m2.8 -7.6h0m25 46.6h0m-0.7 -60.7h0m-32.5 19.5h0m7.9 -13.4h0m-0.6 29.1h0m31.9 -21.7h0m-33.4 5.9h0m-1.5 -3.5h0m15.8 -3.8h0m-7.6 16.1h0m13.9 -32.3h0m-1.5 57.1h0m7.7 -45.5h0m-1.7 -11.9h0m-10.7 54.9h0m31.8 -9.3h0m-31.7 -42h0m0.3 7.9h0m43.5 25.1h0m-53.5 -21.8h0m24.4 -10.5h0m-23 39.6h0m51.5 -3.7h0m-53.6 3.2h0m-9.6 3.2h0m11.5 -4.5h0m-3.4 11.3h0m-0.1 -11h0m26.8 11.2h0m19.9 2h0m-15.5 -28.1h0m16.5 24.3h0m-32.6 -9.2h0m17.7 5.3h0m-15.2 17.3h0m-25.4 -30.2h0m1.3 9.5h0m-3.9 -14.9h0m12.9 12h0m-3.9 -23.2h0m50.2 17.5h0m-48.5 -8.3h0m42 25.3h0m-25.7 -33.8h0m21.9 19h0m0.2 11h0m-18.3 5h0m-14.6 -30.4h0m9.6 19.4h0m32.8 -30.1h0m-6.7 -6.9h0m-33.3 11.9h0m39.4 5h0m-8.6 33.6h0m-25.6 -12.3h0m16 20.9h0m10.2 -42.7h0m-10.9 16.3h0m-21.1 -0.1h0m41.9 7.6h0m1.6 -27.9h0m-52.9 -1.9h0m33.9 44.8h0m10.7 -45.5h0m-8.2 -11h0m-24.7 6.4h0m-11 0.3h0m4 14.5h0m3.8 -15.5h0m37.2 34.3h0m-39.8 7.3h0m18.2 5h0m2.7 -40.9h0m-21.6 -4.8h0m29.4 -6.5h0m1 50.6h0m10.5 -28h0m-29.7 1.4h0m37.7 19.6h0m-31.2 -20.3h0m-1.1 5.5h0m-15.2 6.9h0m-8.8 12.5h0m46.1 -24h0m-51.6 3h0m16.2 -26.2h0m35.9 25.4h0m0 -14h0m-23.3 36h0m-9.7 -45.8h0m-13.8 17.8h0m36.4 37.9h0m0.6 -54.7h0m14.6 14.3h0m-53.2 -0.3h0m24.1 -20.7h0m17 17.8h0m-9.7 26.7h0m27.4 -2.4h0m-32.3 17.7h0m2.7 -59.9h0m11.6 13.6h0m5.7 35.1h0m-45.9 -19.2h0m9.8 23.1h0m28.5 6.4h0m0 -5.7h0m-37.3 -16.8h0m16.3 -11.5h0m5.6 -23.4h0m20.1 2.8h0m-18.4 49.3h0m-7.6 -23.3h0m-13.7 -19.2h0m54.4 5.4h0m-16 -7.4h0m8 -2h0m-32.3 18.1h0m-11 24h0m24 3.5h0m-27.7 -8.4h0m54.8 -13.5h0m-26.7 -32.1h0m-0.8 65.2h0m-25.9 -39.9h0m20.6 39.2h0m1 -10.2h0m25.3 -5h0m-23.1 -41.4h0m-23.8 40.4h0m21.1 14.9h0m-11.5 -5.1h0m38.6 -6.4h0m-30.6 -47.2h0m-19.9 36.2h0m54.5 -14.7h0m-2.3 -9.8h0m-23.2 2.4h0m-33.3 27.3h0m12.7 -7h0m44.4 -14h0m-16.8 32.5h0m-8.1 -29.9h0m20.9 -8h0m-43 21.5h0m-4.4 -29h0m31.2 37.4h0m-21.2 -35.3h0m18.1 21.9h0m15.4 -15.4h0m7.4 17.9h0m-42 18.4h0m-14.5 -16.4h0m37.2 -36.2h0m-23.5 42.2h0m4.4 -2.6h0m21.8 -20.2h0m-12.7 5.4h0m-26.3 -4.7h0m7.3 2.3h0m4.2 8.6h0m26.6 25.2h0m-36.9 -42.2h0m43 41.8h0m-24.4 -10.9h0m-10.2 -26.6h0m16.8 -23h0m6.3 15.2h0m14.6 28.6h0m-27.6 8.3h0m-17.9 -15.3h0m27.2 -36.6h0m32.5 27.6h0m-38.7 34h0m24.3 -30.7h0m-22.3 -6.9h0m-26.5 1.4h0m50.7 28.9h0m0.3 -18.1h0m-19.4 -31.1h0m-12.8 -2.1h0m16.4 10.2h0m-30 31.1h0m5.4 2.7h0m5.6 -36.4h0m42.4 30.9h0m-16.8 10.3h0m-40.1 -26.2h0m14.8 -21.7h0m32.8 0.6h0m-30.5 38.3h0m-1.7 19.3h0m17.1 -10.9h0m-27.2 -15.4h0m42.5 -4.2h0m-48.4 -12.9h0m46.1 -9h0m-14 41.9h0m-30 -6.4h0m15 -42.2h0m22 52.8h0m1 -43.2h0m-26.6 5h0m-1.8 -8.4h0m28.3 35.2h0m21.9 -18.8h0m0 13.6h0m-12.7 -5.2h0m-3.7 3.1h0m-30.8 -4.5h0m5.7 2.1h0m38.6 -16.5h0m-42.5 38.4h0m5.1 5.2h0m-2.7 -44.7h0m3 16.1h0" stroke="#4a37c6" stroke-width="1.7" stroke-linecap="round" fill="none"/>
<path d="M410.8 293.9h0m-28.6 -0.1h0m-13.8 -30.4h0m14.5 30.8h0m-4.8 1.6h0m8.3 -43.9h0m-17.1 35h0m19.8 10.3h0m31.4 -9.6h0m-0.2 0h0m-16.8 11.9h0m18.3 -12.2h0m-16.5 -41.9h0m8.5 53.5h0m-19.8 -21.7h0m-27.8 -5.8h0m46.3 -18.2h0m-6.8 -1.6h0m-33 4.8h0m39.8 21.7h0m-43 7.4h0m25.2 18.4h0m-16.6 -29.9h0m19.1 6.8h0m-13.9 4.3h0m-10.5 -20.3h0m36.2 1h0m-31.1 18.7h0m34.2 -4.1h0m8 8.7h0m-17.6 -44.5h0m-26 23.8h0m4.7 -26h0m-6.2 30.6h0m52.9 -12.1h0m-30.3 1.9h0m1.5 15.8h0m-36 -5.8h0m57.7 17.9h0m-42 -0.9h0m1.8 -46.8h0m-7.3 6h0m29.7 14.6h0m19.7 19h0m-48.5 -25.8h0m15.5 -14.4h0m0.5 56.1h0m23.2 -22.8h0m6.2 9.1h0m-28.2 -8.8h0m-11 -22.6h0m19.9 38.9h0m-28.5 -9.3h0m31.6 14.2h0m16 -34.3h0m-32 -8.1h0m-1 24.6h0m-12.5 15.6h0m3.6 -48.8h0m17.4 50.1h0m-9.2 -8.5h0m3.9 3.3h0m11.6 -30.1h0m-13.8 -17.2h0m19.8 -1.6h0m5.1 36.1h0m-36.1 -6.5h0m14 -27.1h0m-3.4 39.4h0m-20.6 -28.4h0m41.2 -10.7h0m-16.1 -1.5h0m-7.8 54.4h0m25 -51.2h0m11.7 15.1h0m5.9 8.9h0m-53.8 -22.1h0m6.9 9.2h0m38 -6.7h0m10.8 24.4h0m-25.6 -24.9h0m19.2 27.4h0m2.9 -8.3h0m-54 12h0m32.8 6.4h0m0.3 -7.2h0m-3.9 -2.9h0m-30.4 -6.9h0m29.8 -11.3h0m21.7 8.8h0m-54 13.9h0m37.9 19.9h0m4.6 -60.6h0m-16 34.8h0m14.1 5.8h0m-35.6 3.5h0m-6.6 -7.3h0m22.6 19.3h0m-6.4 -11.3h0m-14.4 -0.1h0m20.9 -13.2h0m-20 -12.5h0m-5.4 5.5h0m4.3 2.2h0m56.4 8.8h0m-49.5 -24.7h0m26.7 36.3h0m-10.7 -48.6h0m29.5 15.7h0m-46.5 -3.6h0m9.4 1.5h0m3.8 25.1h0m35.3 -13.7h0m-35.3 -6.1h0m36.1 17.1h0m-34.6 21.1h0m-3 -13.2h0m-6.2 -33.5h0m4.4 12.6h0m17.9 17.2h0m-6.6 9.8h0m29 -36.5h0m4.8 25.7h0m-43.7 17.7h0m6.5 -7h0m-12.3 5h0m0.7 -33.3h0m41 20.4h0m-16.2 12.2h0m-13 -28h0m11.9 29.4h0m19.8 -40.5h0m-37.6 11.9h0m-19.8 -3.4h0m47.2 1.1h0m10.8 -8h0m3.4 4.7h0m-31.1 20h0m3.4 -9.3h0m-23.6 -17.9h0m44.6 19.8h0m-20.7 -6.6h0m19.4 -11.1h0m-35.6 22.7h0m34.7 -31.2h0m-3.8 45.3h0m-26.7 -50.5h0m-11 28.9h0m33.1 -14.9h0m-35.2 32.7h0m12.7 -28.6h0m-23.7 4h0m48.5 15.3h0m1.2 -23.9h0m-1.6 -9.4h0m-7.6 -2.4h0m-27.6 43.9h0m38.6 -3h0m-49.1 -19h0m21.8 4.5h0m38.1 5.3h0m-47.2 -33h0m51.1 22.1h0m-57.9 -3h0m31.6 29.9h0m23.2 -13.9h0m-6.8 5.1h0m-19.5 -39.8h0m-8.7 41h0m-13.8 -22.1h0m9.8 6.7h0m21.2 -23.3h0m-18.5 -2.7h0m-25.3 28.1h0m45.9 10.5h0m-30.8 -33h0m35.1 17.2h0m4.5 7.2h0m-24 -20.5h0m1.9 46.1h0m24.8 -38.3h0m-30 -15.2h0m-21.3 17.3h0m38.9 34.4h0m-32.4 -50.6h0m41.1 26.5h0m-14 26.1h0m-9.4 4.3h0m-27.1 -46.5h0m34.9 -4.2h0m5.6 3.9h0m-20.1 19.3h0m5.1 -4.2h0m-7.3 -7.3h0m30.6 12.2h0m4.4 0.8h0m-42.2 -20.5h0m26.9 3.5h0m-3.4 -11h0m-30.8 23h0m14.8 17.1h0m27.8 -43.5h0m-42.8 31.3h0m35.4 -28.6h0m19.6 23.9h0m-49.4 -21.3h0m32.3 45.2h0m-46.1 -26.5h0m31.7 27h0m31.2 -24.2h0m-3.3 -6h0m1.6 -8.7h0m-17.3 8.9h0m-39.9 -4.7h0m43 8.7h0m-27.9 7.3h0m-1.5 -15.7h0m42.1 11h0m-56.5 3h0m40.4 -28.1h0m-17.2 2.1h0m-13 29.3h0m6.9 -0.3h0m-18.1 -3.4h0m3.5 5.4h0m33.5 2.7h0m-21.7 14.2h0m2.1 0.2h0m24.1 -29.6h0m15.4 10.8h0m-35.1 4.1h0m17.6 -10h0m-26.4 -2.8h0m46.4 0.7h0m-58.9 -5.4h0m24.6 3.8h0m-3.7 -12.8h0m11.5 -9.2h0m-22.2 12.2h0m49.9 22.1h0m-60.2 -11.9h0m52 20.5h0m-18.8 2.7h0m25.6 -18.9h0m-30.2 -9.1h0m-9.6 33.3h0m-13.5 -37h0m0.8 -11.9h0m-2.3 23.8h0m14.5 -7.7h0m1.8 34.1h0m37.7 -35.5h0m-59 13.7h0m54.6 -24.5h0m0.2 28.8h0m-14.2 12.9h0m-10.9 -41.5h0m29.4 6.6h0m-14.1 24.8h0m-24.3 -20.2h0m20 32.3h0m19.8 -25.1h0m1.8 5.6h0m-40.8 18.1h0m13.4 -53.3h0m-20.7 53.7h0m25.5 1.4h0m17.4 -32.8h0m-26.5 -27.1h0m-14.4 9h0m30.7 51.3h0m-14.4 -13.3h0m-9 -30.7h0m5.3 47.2h0m-18.2 -31h0m42.3 -18.7h0m-46.5 6.3h0m29.4 13.9h0m6.2 -4.7h0m9.6 23.6h0m-41.8 0.7h0m39.7 -19.9h0m-10.9 2.4h0m6.5 -8.9h0m-7 -10.3h0m-1.4 -3.6h0m9.6 -3.2h0m-25.2 26.8h0m-5.5 15.4h0m10.4 -48.5h0m-14.8 3.5h0m47.5 18.3h0m-23 8.7h0m0.7 16.8h0m-20.9 -4.2h0m19.2 1.2h0m-0.3 -22h0m-23.5 -4.6h0m16.1 23.4h0m28.8 10.1h0m4.4 -31.4h0m-17 -15.5h0m10.4 34.1h0m-30.8 16.2h0m-5.2 -40.8h0m6.3 44.5h0m32.2 -17.6h0m-16.6 12.4h0m14.8 -35.6h0m-26.7 19h0m-2.8 18h0m26.9 -49.6h0m-28.7 51.1h0m15 -0.2h0m3.4 -11.7h0m-13.7 -3h0m10.6 14.9h0m-36.6 -16.2h0m46 11.2h0m-15.6 -11.6h0m6.3 -33.9h0" stroke="#2f2196" stroke-width="1.1" stroke-linecap="round" fill="none"/>
<circle cx="393" cy="264" r="5" fill="#e6e4e8" filter="url(#b3)"/>
</g>
<circle cx="395.8" cy="270.5" r="33.3" fill="none" stroke="#c9c6d2" stroke-width="0.8"/>
<circle cx="471.4" cy="270.4" r="33.7" fill="#e6e4e8"/>
<g clip-path="url(#c22)" filter="url(#b1)">
<path d="M478.9 281.3h0m-34 -22.7h0m-1.4 10.2h0m1.7 9.4h0m57.8 -9.6h0m-9.6 -14.2h0m-5.4 39.3h0m-39.4 -41.6h0m-9.9 22.8h0m45.3 -27.9h0m12.2 11.6h0m-12.3 -11.3h0m19.8 28.6h0m-8.3 -25.3h0m-9.9 43.5h0m-30.2 3.9h0m-4 -8h0m29.9 -41h0m-0.3 49.4h0m-3.4 -15.9h0m23.3 -13.5h0m-24.7 2.7h0m-9.3 10.2h0m-22.4 5.3h0m29.9 1.7h0m-6.5 8.9h0m26.2 -9.4h0m-10.9 -46.9h0m-11.2 47h0m-21.3 -41.3h0m2.9 44.7h0m37.2 -20.9h0m-19 18.9h0m13.9 -45.3h0m-36.8 39.9h0m50.3 3.5h0m1.5 -22.3h0m-46.8 -20.3h0m0.2 -1h0m45 12.5h0m-8.1 4.8h0m4.8 -14.6h0m-49.4 41.2h0m20.3 8.2h0m-28 -22.2h0m33.7 -25.8h0m-23.8 20.6h0m8.3 15.8h0m-4.2 -27.8h0m-1.8 -12.3h0m30.3 24.3h0m-30.5 -18.6h0m-0.3 36.6h0m46.4 -27.7h0m-27.4 -7.3h0m-24.3 30.6h0m18.7 -10.3h0m32.1 -2.2h0m-3.2 -4.7h0m-13.8 5.2h0m7.1 -21.3h0m-34.1 44h0m-6.8 -3.1h0m21.5 -2.8h0m-15.4 -34.9h0m30.8 39h0m-4.3 2h0m-1.4 -0.8h0m-34.3 -34.4h0m50.4 27.8h0m-30.7 8.5h0m17.7 -45.3h0m-31.2 23h0m51.8 -10.1h0m-35 -20.7h0m31 50.5h0m-33.1 -18.8h0m-22.5 -8.2h0m35.8 1.7h0m19.4 -9.6h0m1.9 22.2h0m1.6 -26.6h0m-37.5 -6.9h0m-10.2 14.4h0m43.5 -3.1h0m-50.2 31.4h0m14.4 -41.6h0m21.1 6.4h0m3 -9.6h0m-37.8 16.2h0m-4.6 -1.7h0m49.6 -11.3h0m-9.9 54.9h0m-15.7 -62h0m17.7 5.5h0m11.7 46.1h0m-4.1 -47.1h0m4.2 48.9h0m5.8 -12.9h0m-55.2 -5h0m56.7 -17.2h0m-5.5 3.8h0m-48.8 -6.3h0m34.3 -9.4h0m-10.3 51.7h0m-5.4 -34.5h0m20.8 33h0m-15.8 2h0m14.1 -34.3h0m10.2 -11.6h0m-24.6 -2.9h0m-25.9 25.2h0m49.3 -25.5h0m-7 49.5h0m-48.5 -30.1h0m11 -14.2h0m54.4 23.5h0m-24.6 -25.5h0m-13.7 47h0m33.2 -43h0m0.2 1.5h0m-22.5 -8.5h0m8.9 -5.7h0m-19.5 42.5h0m23 10.9h0m-38.3 -3.6h0m11.5 -15.9h0m34.7 -18.2h0m-11.1 -15h0" stroke="#6550de" stroke-width="2.7" stroke-linecap="round" fill="none" opacity="0.9"/>
<path d="M480.5 240.9h0m13 12.2h0m-52.1 14.5h0m46.7 18.6h0m-47.2 -25.3h0m12.9 -18.7h0m6 10h0m9.1 -13.8h0m14.3 6.4h0m14.9 21.7h0m-6.3 -9.5h0m6.8 31.7h0m-21 1h0m4.9 -25.3h0m16.2 9.3h0m-45.1 -27.8h0m5.4 3.1h0m-0.5 11.1h0m13.3 -9.4h0m-23.8 5.5h0m8 40.7h0m13.5 -53.8h0m-7.9 2.6h0m34.3 34h0m-25.7 20.7h0m27.9 -21.2h0m-24.9 22.4h0m-25.9 -14.7h0m6.8 -36.5h0m5.6 18.6h0m-9.7 7.7h0m49.8 5.5h0m-14 1.9h0m-26.9 -22.1h0m35.7 -9.8h0m-29.2 12h0m-3.4 10.7h0m5.6 -8.6h0m-24 6h0m47.1 -7.4h0m-20.5 20.8h0m1.6 -17h0m-13.6 -9.7h0m0.7 9.3h0m-11.1 17h0m34.6 -12.5h0m-13.4 27h0m7.8 -1.1h0m-9.6 -23.1h0m-10 -10.2h0m-13.2 5.7h0m23.4 19.3h0m-26.6 -6.9h0m13.6 11h0m15.1 -52.3h0m-2.7 -2.2h0m-23 30.3h0m13.6 -24.9h0m13.6 -2.6h0m18.3 28.4h0m6.9 11.7h0m-56.4 -14.3h0m42.3 -14.9h0m-27.7 18.3h0m34.5 21.6h0m-2.6 -52h0m6.6 40.3h0m-46.1 -25.7h0m51.6 18.8h0m0 -11.3h0m-48.3 9.3h0m4.8 23.5h0m28.4 -52.7h0m-13.8 31.8h0m33.8 -5.5h0m-20.7 -7.8h0m-9.5 39.7h0m-20.6 -22.1h0m22 -16.6h0m-31.9 -6h0m6.8 36.1h0m-1.6 -8.7h0m35.1 15.5h0m-1.2 -43.5h0m-12.4 43.9h0m-19.5 -42.9h0m1.2 29h0m29 -37.8h0m-34.5 36.6h0m2.3 -22.6h0m-3.8 8.1h0m30.7 8.2h0m19.7 -31.2h0m-30.5 28.4h0m-20.1 -1.3h0m4.5 8.2h0m9.9 -23.7h0m32.2 -11.9h0m-38.1 4h0m-3.6 13.9h0m51.4 -12.9h0m-21.2 -2.4h0m-6.7 42.3h0m5.3 10h0m-23.4 -32.5h0m23.5 21.8h0m21.8 -13.6h0m-30.7 -24.3h0m7.8 48.9h0m-14.2 -27.4h0m-23 -12.2h0m23.1 31.9h0m39.2 -37.7h0m-53.5 3.5h0m29.9 3h0m9.2 -9.7h0m-44.6 27h0m14.9 -34.1h0m2.1 5.5h0m37.2 8.4h0m-53.6 -6.7h0m29 32h0m29.5 -26.2h0m-17.4 -0.9h0m16 25.4h0m-41.9 -14.4h0m5.3 -22.3h0m14.3 -9.7h0m1 53.4h0m-7.8 -54.1h0m-12.5 63.8h0m6.6 -25.8h0m32.2 8.8h0m-36.8 -0.4h0m8.5 -45.3h0m27.5 20.5h0m-44.4 36.5h0m24.4 -0.2h0m-30.5 -46h0m52.4 21.5h0m-8.1 -13.3h0m-45 14.3h0m38.5 -15h0m3.9 -0.9h0m-21.6 9.1h0m-12.7 -17.3h0m29.6 6.7h0m-27.5 -0.1h0m27.8 -1.6h0m20.5 15.9h0m-43.4 15.7h0m-1.1 9.4h0m4.3 -9.7h0m8.2 4.8h0m-5.4 9.9h0m-11.3 -10.2h0m-5.6 -16h0m37 -10.4h0m-39.2 -3.3h0m-8.3 6.2h0m59.5 -8.6h0m-53.6 -4.4h0m-1.8 27h0m23.5 17.3h0m20.8 -3.8h0m-10.6 4.9h0m-33.2 -29.6h0m-5.4 -0.1h0m46.2 32h0m-38.3 -8h0m36.1 -40.8h0m2.8 -4h0m-12.2 14h0m21.7 30.9h0m-43 -42.6h0m33.4 7.6h0m6.1 -0.1h0m-33.7 19h0m31.3 -25.8h0m-23.9 49.5h0m0.7 -12.6h0m-1.7 -19.1h0m14.9 -4.8h0m-0.4 -22h0m-21.2 57.7h0m6.8 -29.8h0m28.4 -9.7h0m-42.6 14.4h0m37.9 19.2h0m1.1 -2.5h0m-35.1 -39.2h0m-6.4 19.6h0m3.6 -13.6h0m6.7 38.8h0m-3.6 -10.6h0m0.2 -12.1h0m30.6 -19h0m15.8 27.1h0m-55.5 -12.4h0m16.8 -25h0m32.5 3.1h0m-43.9 46.7h0m33.2 -1.7h0m-11 -53.6h0m23.6 21.7h0m-47.1 -6.7h0m28.8 41.9h0m24.3 -26.2h0m-25.2 -29.4h0m19.4 12h0m-34.9 18.9h0m17.6 -18.9h0m-10.7 3.5h0m-27.1 29.8h0m18.4 10.4h0m-4.8 2.5h0m-0.8 -9.3h0m16.6 -49.7h0m-2.9 42h0m-2.4 -32.5h0m-14 4.6h0m28.8 -12.4h0m3.2 -1.4h0m-6.9 40.7h0m6.9 8.6h0m10.5 4.7h0m-35.7 -2.4h0m-14.2 -25.5h0m40.1 33.3h0m9.8 -20.1h0m-11.6 -36.8h0m-20.4 41.1h0m-0.9 -38.9h0m0.6 9.6h0m0.4 45.5h0m7.9 -8.9h0m-26.5 -16.1h0m58.4 -1.3h0m-41.2 26.6h0m-12.5 -9.1h0m-10.4 -17.8h0m58.4 14h0m-27.2 -37.5h0m17.7 9.5h0m17.6 10.2h0m-57.5 -4.4h0m37.4 32.2h0m-9.2 -57.1h0m-26.1 46.7h0m19.7 -45.8h0m9.6 40.1h0" stroke="#4a37c6" stroke-width="1.7" stroke-linecap="round" fill="none"/>
<path d="M486.9 292.5h0m-4.8 -29.6h0m-37.7 -4.9h0m32.1 40.9h0m11.7 -21.5h0m-20.7 -34.3h0m35 29.7h0m-23.7 -6.7h0m12.3 20.2h0m-39.2 -32.3h0m7.3 47.6h0m18 -53h0m-10.1 33.4h0m28 1.5h0m-12.4 2.7h0m14.7 -18.3h0m0.9 -1.9h0m-44.9 11.3h0m5.5 -34.3h0m1.2 2h0m41.6 36.6h0m-24.3 -22.8h0m-31.5 22.8h0m13.2 15.6h0m2.4 -52.5h0m32.9 5.2h0m-4.7 11.9h0m-21.1 9.2h0m11.1 12.1h0m-1.6 -38.7h0m-4.5 57.4h0m-19.6 -25h0m26.1 -24.8h0m-23.9 42.3h0m19.7 5.6h0m27.4 -27.4h0m-37.9 17.6h0m-11.3 -34h0m35.5 11.7h0m2.5 12.5h0m-27.9 6.2h0m0.5 -14.1h0m32.2 -15.5h0m-19.9 -3.5h0m-17.2 9h0m-12.8 1.6h0m28.4 25.5h0m0.6 -13.8h0m-3.7 23.4h0m25.6 -29h0m-27.2 21.1h0m19.8 -5.8h0m-28.1 -23.1h0m-19.4 -2.7h0m1.7 13.9h0m26.7 5.2h0m10.9 -6.7h0m-25.7 -10.2h0m12.6 5.5h0m-11 30.2h0m21.7 -0.3h0m-17.4 -17.2h0m28.2 14.3h0m7.7 -31.5h0m-50.4 -5.5h0m4.1 -7.7h0m11.1 47.5h0m32.4 -44.7h0m-50.3 9.5h0m43 0.7h0m-38.5 28.6h0m14.9 -24.4h0m4.9 25.2h0m0.8 8.8h0m3.4 -3.6h0m22 -22.1h0m-28.4 -1.3h0m-4.1 -20.4h0m36.8 22.2h0m-56.1 -8.9h0m13.3 7.8h0m-2.9 21h0m44.5 -6.9h0m-11 -5.4h0m-31.5 15.2h0m37.9 -48.8h0m-15 13.7h0m-41.4 4.6h0m61 4.8h0m-23.4 18.3h0m-28.7 -4.3h0m37.1 10.5h0m15.2 -38.4h0m-26.1 -19.7h0m-12.5 55.4h0m33.6 -21h0m-53.6 -6.5h0m22.9 15.3h0m10.2 -42.1h0m-33.7 18.9h0m27.6 -18.4h0m9.7 35.7h0m-18.1 2.8h0m11.1 20.8h0m-0.9 -9.1h0m-10.3 -34.2h0m-12.5 0.2h0m55.8 14h0m-46.3 21.9h0m6.3 -4.8h0m26.3 -37.5h0m13.3 9.7h0m-24.6 23.8h0m9.7 -3.3h0m-6.1 -39.9h0m1.9 59.3h0m10.3 -46.8h0m-35.4 43.4h0m-16.2 -29.8h0m14.8 18.4h0m25.1 7.3h0m-4.2 -55.3h0m-1 35.7h0m-35.5 -8.8h0m27.1 -10h0m-7.5 -10.7h0m20.3 1.7h0m-30.3 26.3h0m33.7 7.4h0m-2 -5.2h0m15.6 -17.3h0m-32.4 40.8h0m-13.4 -9.6h0m35.3 -41.3h0m4.6 -0.9h0m11.5 34h0m-13.1 9h0m-10.2 -27.3h0m-6.3 -21.7h0m21.9 29.3h0m-14.2 20.3h0m-14.9 7.2h0m-7.4 -0.3h0m19.4 -4.7h0m13.8 4.6h0m-28.9 -26.4h0m28.6 -21h0m-21.5 -10.6h0m29.4 22.1h0m-43.8 -16.3h0m24.4 36.3h0m17.2 10.9h0m-49 -34.9h0m17 20.2h0m-19.4 -18.8h0m47.5 0.1h0m-38.2 25.3h0m36.5 -11.5h0m-4.6 -2.7h0m-13.9 16.4h0m29.7 -6h0m-53.7 -33.4h0m32.8 27.2h0m-36.1 -0.5h0m15.7 13.7h0m30.6 9.8h0m-49 -43h0m61.3 17.6h0m-20.3 -3h0m20.2 8h0" stroke="#2f2196" stroke-width="1.1" stroke-linecap="round" fill="none"/>
<circle cx="474" cy="262" r="9" fill="#e6e4e8" filter="url(#b3)"/>
<circle cx="462" cy="268" r="6" fill="#e6e4e8" filter="url(#b3)"/>
</g>
<circle cx="471.4" cy="270.4" r="33.3" fill="none" stroke="#c9c6d2" stroke-width="0.8"/>
<circle cx="395.8" cy="343.8" r="33.7" fill="#e6e4e8"/>
<g clip-path="url(#c23)" filter="url(#b1)">
<path d="M366.7 337.6h0m17.7 18h0m24.1 -39.6h0m-7.4 -4.9h0m-37 22.8h0m42.7 -9.9h0m-27.1 44.3h0m45.7 -22.9h0m-47.6 23.7h0m2.4 -49.3h0m12.7 29.6h0m30.8 -23.6h0m-34.3 23h0m11.1 -35.8h0m6.9 57.1h0m-9.6 1.4h0m16.7 -3.2h0m-31.3 -54.1h0m12.5 26.3h0m8 -28h0m20.4 31.1h0m-44 1h0m2.7 -27.9h0m-13.4 38.9h0m27.4 20.2h0m-5.6 -39.2h0m0.2 33.6h0m-8.5 -55.1h0m15.7 27.2h0m-16.5 -26.7h0m34 50.8h0m-21.8 -13.5h0m24.2 -24.3h0m-26.2 -8.6h0m35.2 14.5h0m-45.9 -20.4h0m14.1 29.7h0m4.1 16.3h0m-36.7 -16.3h0m46.1 13.8h0m2.6 -21.5h0m4.3 27.1h0m-33.9 9.9h0m11.3 -12.8h0m-9.4 3.1h0m17.9 -3.8h0m-5.5 12.2h0m19.7 -11.5h0m3.6 -33.9h0m-18.8 24.5h0m9.5 19.7h0m-32.6 -44.1h0m7.8 24.7h0m10.9 -18h0m-16.9 6.3h0m26.5 12.4h0m-0.5 22.8h0m-6 -3.4h0m3.3 -1.5h0m-32.6 -25.5h0m18.4 23.7h0m-18.8 -43.9h0m23.4 -8.8h0m1.6 60.9h0m-29.1 -44.7h0m41.8 3.6h0m10 17.5h0m6 -3.4h0m-53.2 8.9h0m20.2 16.8h0m6.6 0.1h0m-2.4 2.5h0m-19.3 -58.8h0m39.2 32.5h0m-49 -11.9h0m59.9 -5.4h0m-41.6 14.3h0m32.3 17.1h0m3.8 -30.5h0m-55.4 2h0m29.7 38.7h0m7.8 -10h0m-7.7 -9.7h0m-18.4 14.8h0m32.8 -19.3h0m-23.8 -16.9h0m12.3 -12.8h0m3.2 3.2h0m-8.1 -14h0m15 37.9h0m-39.9 -13.3h0m54.9 14.9h0m-18.3 -13.7h0m-18.5 8.1h0m22.3 -31.7h0m-17.3 44.8h0m-6.7 -42.9h0m40.6 12.7h0m-43.2 39.3h0m2.4 5.1h0m-11.5 -43.8h0m51.4 17.5h0m-46.3 -20.9h0m5.5 29.1h0m43.8 -11.2h0m-15.5 5.1h0m11.9 1.6h0m-34.7 -16.6h0m16.4 23.2h0m-12.5 -20.3h0m-25.7 10.7h0m11.4 23.5h0m6 -24.1h0m26 5h0m-13.2 25.8h0m-7.3 -33.5h0m6 -16.3h0m0.3 47.8h0m-31.6 -25.9h0m43.2 -35.7h0m14.1 25.2h0m-46.5 -19.1h0m-0.3 11.6h0m-7.6 11.4h0m25.2 3.5h0m-4.2 -31.5h0m24.7 54.9h0m-9.6 -31.1h0m-0.2 -6h0m-34 27.4h0m40.7 -36.6h0m3.3 31h0m-12.8 -21.9h0m-8.4 2.2h0m9.6 34.4h0m-6.8 -53h0m-16.8 56h0m-1.5 -5.8h0m32.4 -5.9h0m5.5 -38.7h0m-20.4 -3.5h0m18.1 47.4h0m-31.5 -45.3h0m8.6 25.9h0m-13.8 3.5h0m21.8 8.3h0m-13.2 -26.6h0m-2.4 5.9h0m-4.9 -13h0m40.2 41.9h0m-36.2 1.9h0m8 -26.4h0m-14.2 -11.4h0m33.4 6.5h0m2.1 -11.7h0m-33 42.6h0m37.6 -14.8h0m-41.2 -16.6h0m13.8 16.2h0m9.5 -20.2h0m-28.7 25.6h0m7.4 -18.5h0m10.4 14.6h0m31.7 -30.5h0m-18.5 -11h0m22.3 14.7h0m-34.2 44.4h0m9.1 -37.7h0m28.4 25.2h0m-31.1 10.9h0m-25.9 -28.2h0m53.1 -2.2h0m-1.6 -19.1h0m-15.7 -8.5h0m-6.2 20.3h0m24.9 22.2h0m-45.3 -6.3h0m19 10.6h0m11.5 -19.7h0m-13.8 -22.1h0m-24.3 22.8h0m2.7 -9.1h0m-3.1 30.3h0m31.3 -31.1h0m-10.4 4.8h0m-18.2 -2.6h0m46.1 36.9h0m-21.4 8.3h0m-23.3 -8.3h0m9.7 -5.9h0m27.4 -7.8h0m0.5 -15.1h0m-30.3 14.4h0m-7.4 -29.3h0m48.6 5.4h0m-53 18.3h0m15.2 23.7h0m39.5 -33.8h0m-4.1 -13.6h0m-20.3 5.8h0m20.6 -8.9h0m-32.4 23h0m25 -17.6h0m0.9 5.7h0m-29.1 17h0m22 25.9h0m-13.2 -16.3h0m-25 -15.2h0m58.8 -8.8h0m-16.4 38.8h0m16.3 -38.9h0m-3.4 21.9h0m-12 -18.1h0m-4.1 30.3h0m-18.8 -19.9h0m32.5 5.7h0m-46.8 2.9h0m20.1 -37.3h0m-5.9 34.3h0m10.2 -27.9h0m-33.7 27.1h0m27 -43h0m-22.1 26h0m-2.1 4.1h0m43.1 -5.3h0m5.7 26.5h0m-27.6 -35.3h0m-5.1 4.1h0m41.6 18.8h0m-5.5 9h0m-31.1 -31.1h0m12 28.8h0m-30.7 2.7h0m47.1 -26.9h0m-45.8 29.5h0m44.2 -19h0m-3.5 21.6h0m-27.2 -29.3h0m21.4 33.5h0m-30.3 -7.3h0m2.1 -33h0m13.4 42.7h0m-11.3 -53.4h0m38 45.9h0m-48 -34h0m4.8 -9.3h0m5.4 50.4h0m43.1 -11.5h0m-31.1 -15.8h0m16.6 4.3h0m-3 27.5h0m18.7 -28.2h0m-44.7 -12.8h0m8.3 4.5h0m13.4 34.4h0m-28.9 -11.5h0m35.5 -18.5h0m-1.2 -27.2h0m-17.3 32.2h0m-18.8 -11.5h0m5.1 26.8h0m-12.1 -26.3h0m29.8 -8.9h0m31 -1.1h0m-15.7 40.2h0m-35.2 -1.3h0m27.3 -47.2h0m11.5 -1h0m-33 9.6h0m-0.1 15.4h0" stroke="#5b45e2" stroke-width="4.6" stroke-linecap="round" fill="none" opacity="0.92"/>
<path d="M378 321.4h0m35.5 29h0m6.7 -7.7h0m-18.5 -22.3h0m3.4 -2.7h0m-1.3 23.5h0m20.2 -6.9h0m-29.3 21.5h0m-16 -14.7h0m43.9 -10.5h0m-26.8 45.9h0m21.6 -32.2h0m-53.9 8h0m27.3 24.3h0m22.5 -10.7h0m-13.7 -23.2h0m4.2 26.5h0m4.1 -53.9h0m-2.7 12.8h0m-0.4 -12.8h0m0.6 56.1h0m-20 -56.7h0m3.2 14h0m-9 -3.3h0m-17.5 19.4h0m18.6 -11.8h0m13.5 44.3h0m-1.9 -29.4h0m30.6 -8.1h0m-14.8 3.4h0m-20.8 -8.2h0m33 15.7h0m-53.8 2h0m42.3 5.5h0m-7 -26h0m-0.9 40.3h0m-2.2 -26.2h0m13 -19.9h0m-24 48.7h0m-2 -30h0m16 -12.5h0m-7.3 -19.3h0m-23.5 21.6h0m17 -23.1h0m12 44.9h0m10.9 -36.5h0m-3.9 54.5h0m-20.3 -60.6h0m34.1 27h0m-14.2 4h0m7.1 -20.4h0m-20.5 1.8h0m-5 11h0m18.3 -18.8h0m-18.2 56.7h0m23.5 -55.8h0m-42.2 33.3h0m33.6 -21.8h0m24.4 16.9h0m-13.5 21.9h0m9.2 -34.3h0m-38.8 -22.2h0m-2.7 60.6h0m-11.4 -40.4h0m4.4 3.1h0m-10.7 1.7h0m44.8 -16h0m-1 -6.2h0m-24 56.4h0m10.3 -2.3h0m-24.3 -43h0m7.5 -9.9h0m25 52.9h0m18 -31.5h0m-28 20.4h0m8.1 2.1h0m-36 -16.6h0m24.3 14h0m16.1 9.2h0m-5.9 -50.7h0m-2.7 -3.2h0m-23.1 22.4h0m47.8 -2.3h0m-21.7 18.9h0m17.7 -26.3h0m-47.9 32.2h0m3.3 -37h0m23.5 -0.7h0m-3.1 12.3h0m-10.1 28.1h0m-8.9 -21.9h0m6.1 -18.1h0m38.5 18.9h0m-25.7 33.3h0m17.1 -2.2h0m10.5 -47h0m-29.5 47h0m4.2 -42.6h0m15.8 33.3h0m-33.7 -37.1h0m-6 29.6h0m44 -34.3h0m9.7 25.6h0m-61.6 2.3h0m37.8 21.6h0m-15.2 -1.4h0m0.5 0.4h0m23.3 -54.4h0m-26.2 21.7h0m-1.7 -18.5h0m29.2 40.1h0m-2.8 -37.7h0m-14.7 50.3h0m30 -34.5h0m-7.2 15.6h0m-51 -10.9h0m29.2 4h0m3.2 27.8h0m21.2 -10.4h0m-22.9 -2.3h0m22.8 -6h0m-20.1 21.3h0m22.6 -43.1h0m-25.1 4.6h0m28 5h0m4.8 -1.1h0m-24.3 33.3h0m-12.7 -3.4h0m-20.9 -17.2h0m12.8 -29.3h0m34.1 -0.7h0m-2 10.4h0m4 22.4h0m-37.1 15h0m28.2 -3h0m-28.8 1.2h0m-17.7 -18h0m56.9 -13.3h0m-56.6 15.6h0m58.4 -8.1h0m-54.1 13.4h0m2 0.1h0m13.8 14.8h0m-1.4 -22.3h0m4.4 17.3h0m28.1 -26.2h0m-38.4 26.4h0m12.4 -27.7h0m-18.7 2.1h0m13.1 14.5h0m44.6 -7.8h0m-32.5 -2h0m9.7 9.2h0m-18.4 8.9h0m18.4 -54.2h0m15.7 24.9h0m-52.9 13.1h0m3.7 -23.6h0m-8 26.5h0m12.4 -30.9h0m49.3 32.7h0m-54.7 5.8h0m28.6 -35.2h0m24.2 23.8h0m-6.8 -29.5h0m-51.2 23.6h0m8.6 8.6h0m-6.3 -11.9h0m45.8 -4.2h0m-31.9 3h0m30 -8.8h0m-36.6 4.7h0m3.7 1.5h0m38.8 -13.7h0m5.2 34.6h0m-21.4 -28.3h0m-34.6 4.5h0m51.3 -9.4h0m-31.7 48.6h0m0.4 -0.3h0m4.4 -45.7h0m-9.4 46.7h0m-5.1 -33.2h0m9.6 22.6h0m-10.8 8h0m19.9 5.1h0m-3.9 -57.5h0m-19.6 44.4h0m19.5 -26.8h0m9 41.2h0m-17.1 -20.8h0m28.1 -38.7h0m8.6 42h0m6.4 -7.9h0m-60.1 -24.5h0m50.7 10h0m-33.8 21.1h0m40.5 -2.1h0m-55 -8.3h0m6.3 -7.9h0m33.7 24.6h0m14 -15.5h0m-7 -25h0m-47.8 3.4h0m4.3 -6.1h0m53.1 34.9h0m-35.1 -17.1h0m-9.8 -7h0m22 4.6h0m-3.6 37.2h0m3.4 -20h0m-2 5.3h0m-19.9 15h0m40.5 -21.5h0m-44.7 10.2h0m47.6 -26.7h0m-28.2 -9.2h0m28.8 27.5h0m-38.7 -28.7h0m1 15.8h0m15.1 35h0m-28.8 -20.2h0m2.3 -31.3h0m30.1 29.4h0m-11.6 -13.2h0m15.6 3.6h0m-31.9 -28.3h0m-10 12.3h0m9.3 14.1h0m1.7 19.7h0m19 -26.5h0m26.8 11h0m-36 -21.3h0m4.8 41.5h0m18.3 1.9h0m-21.2 3.9h0m17.3 -40h0m-34.1 -6.3h0m33.5 32.5h0m-43.9 -6.8h0m13.4 11.7h0m-3.5 4.6h0m33.5 -24.2h0m-22.5 5.5h0m16.3 -35.8h0m13.3 47.3h0m-43.1 -8.7h0m19.6 11.1h0m-14.2 7h0m50.9 -19h0m-11.1 16.5h0m-26.2 -11.2h0m-4.3 -2.7h0m32.7 1.2h0m-19 21.5h0m-27.8 -32.9h0m9.4 5h0m6.8 -31.2h0m3 51.5h0m10.7 -44.8h0m0.4 -9.3h0m-15.6 10.7h0m-8.9 -9.5h0m34.6 20.9h0m-8.1 -14.8h0m-1.2 35.4h0m8.9 -16.2h0m-9.3 -22h0m-22.1 33.4h0m-12.1 -19h0m10.8 -16.9h0m-8.8 36.8h0m39.3 14.5h0m11.1 -15.7h0m-48.8 -20.9h0m16.9 -9.9h0m-15.1 43h0m36.7 -10.9h0m-9.5 16.4h0m1.1 2.4h0m-7.2 -49.3h0m-14.2 18.2h0m2.9 -22.3h0m17.8 46h0m-29.2 -35.2h0m33.2 -6h0m-19.3 50.5h0m18.7 -0.1h0m-0.7 -37.2h0m2.8 -1.5h0m-14.6 40.3h0m-20.4 -45.2h0m11 19.9h0m9.8 -18.5h0m-1.5 -4.7h0m38.2 15.1h0m-56.5 -9.9h0m8.3 6.2h0m12.9 14.4h0m30.5 -23.9h0m-16.7 2h0m4.3 35.8h0m8.6 -44.7h0m-55.1 27.3h0m30 -30.9h0m-3.3 32.6h0m-20.8 7.6h0m32.2 -44.2h0m-4.7 39h0m-27.8 4.3h0m5 3.7h0m20.4 9.1h0m-8.9 -43.1h0m34.9 15.6h0m-26.4 -1.8h0m23.4 9.9h0m-28.3 -37h0m4.2 37h0m-0.2 -30h0m27.1 39.5h0m-47.6 -17.2h0m-2 10h0m28.2 -25.6h0m-16.6 20.9h0m0.3 -31.9h0m19.2 -1.5h0m-19 28.8h0m23.6 -2.4h0m-16 33.9h0m23.8 -55.3h0m-25.3 -5.3h0m-1.7 36.4h0m39.2 -1.4h0m-10.9 -7.9h0m-11.8 -30.6h0m-33.9 9.1h0m43.1 28.1h0m-26.2 -35.9h0m-2.1 13.5h0m0.3 39.9h0m0 -28h0m3.1 -11.5h0m5.1 -15.1h0m29.6 45.2h0m-30.4 16.1h0m-30.6 -21.1h0m7.5 10.1h0m13.6 -49.6h0m2.2 24.3h0m13.4 26.1h0m21.8 -23.7h0m-3.2 18.3h0m-54.4 -19.2h0m26.2 35.8h0m23.1 -25.2h0m1.3 -20.2h0m-16.8 36.9h0m-31.1 -20.9h0m49.7 23h0m-13.3 -39h0m-23.4 -6.8h0m27.1 47.5h0m-29.9 -3.5h0m23.3 -22h0m-28.6 6.6h0m48.1 8.8h0m-33.9 10.5h0m35 -18.6h0m-54.6 -14.1h0m13.8 29.7h0m31.8 -31.3h0m-19.4 -2.4h0m-15.3 20.6h0m1.7 -16.5h0m42.6 -0.5h0m-14.2 13.5h0m-7.3 -30.2h0m23.8 20.6h0" stroke="#4c36d4" stroke-width="3" stroke-linecap="round" fill="none"/>
<path d="M368.8 331.4h0m36.6 -4.6h0m-20.1 -3.1h0m0.2 -8.8h0m-14.5 13.3h0m8.3 -6.3h0m49.7 16.9h0m-58.7 2.8h0m17.4 4.4h0m-1.9 -1h0m16.4 -27.4h0m15.3 2.6h0m-36 29.9h0m-7.8 16.5h0m28.1 -2.2h0m-23.9 -35.6h0m-10.3 30.4h0m40.5 15.9h0m-23.7 -58h0m-15.7 13.2h0m51.2 -1.1h0m5.3 20.4h0m-37.3 -28.8h0m30 14.6h0m-8.9 20.2h0m-29 -31.7h0m-13.6 14.8h0m8.2 -19.3h0m-5.3 30.2h0m30.8 9.1h0m16 -1h0m-29.2 12.2h0m21.6 -27.8h0m-38.4 13.4h0m38.5 19h0m9.7 -21.6h0m-47.6 -18.5h0m32.9 -12.9h0m-20.1 37.5h0m33.9 -41h0m-16.1 57.1h0m17.4 -35.5h0m-48.8 13.5h0m47.5 2h0m-42.5 -25.4h0m40.2 -6.8h0m1.9 -1.7h0m-4.8 7.3h0m-22.2 5.8h0m5.7 -15.5h0m-25.4 16.5h0m9.9 27.7h0m-8.6 -40.7h0m-6.2 30.6h0m24 -8.2h0m38.5 4.4h0m-31.6 -23h0m-16.8 14.3h0m19.3 8.5h0m14.5 -25.9h0m5 35.9h0m-5.2 -7.9h0m9.8 1.1h0m3.7 -21.2h0m-20 -1.6h0m-29 31.7h0m16 -15.7h0m-2 -30.2h0m1.3 44.8h0m-17.1 0.1h0m40.4 -5.1h0m-22.9 18.9h0m1.6 -62.2h0m-3.5 58.4h0m-5.6 5.2h0m2.7 -51.7h0m8.4 10.1h0m9.4 40.7h0m-9 -33.5h0m-11.6 -15.7h0m32.4 5.1h0m-50.6 2.7h0m7.6 13.2h0m34 -22.1h0m-4.8 -0.5h0m-16.4 -7h0m17.1 1.3h0m-25.2 37.1h0m22.1 -31.1h0m9.3 44.5h0m5.5 -33.6h0m-16.7 35.4h0m-22.5 -51.2h0m4.3 -4.2h0m5.7 28.3h0m0.7 -6.7h0m-17.1 -1.1h0m34.2 23.5h0m-10.5 -6.1h0m5.9 14.5h0m-28 -37.1h0m25.6 10.9h0m-16 -27.6h0m30.2 25.7h0m-29.9 23.7h0m9.6 -42.1h0m22.9 43.3h0m9.7 -33.8h0m-40.8 -4h0m-5.4 35.1h0m-7 -1.3h0m-4.8 -8.8h0m35.7 18.8h0m18.3 -47.1h0m-51.6 28.7h0m55.9 -14.9h0m-19.2 19.4h0m13.2 -26.1h0m-2.4 -11.6h0m3.4 37.3h0m-29.1 6.2h0m33.3 -20.4h0m-35.5 -10.6h0m-11.8 22.3h0m0.3 -27.7h0m20.4 12.1h0m18.1 28.4h0m-9.2 -48.9h0m-12.4 18.8h0m-11.9 23.6h0m28.6 -20.3h0m-18.3 -14.5h0m-19.5 34.9h0m38 -9.8h0m0.2 9.7h0m2.7 -34.6h0m-31.8 22.7h0m4 12.9h0m12.4 10.3h0m-21.7 -49.8h0m-11.7 23.6h0m14.4 -19.2h0m8 1.2h0m-8.7 6.7h0m4.1 26.2h0m30.8 -7.3h0m-1.6 -35.9h0m16 22.3h0m-45.2 -1.4h0m10.3 39h0m-2.5 -63.6h0m34.4 36.4h0m-53.5 -23.6h0m7 26.7h0m34.9 11.5h0m-12.3 -7.5h0m-36 -22.5h0m39.2 -9.2h0m-16.7 45.8h0m13.2 6h0m13.9 -34.6h0m-8.8 -3.7h0m-26.1 34.2h0m8.3 -38.7h0m10.2 9.2h0m11.2 -26h0m1.9 5.3h0m12 5.2h0m-60 22.6h0m38.8 2.1h0m-35.6 -19.2h0m22.4 39.6h0m-19 -17.2h0m41.9 -0.2h0m-27.4 -4.5h0m9.2 21.4h0m-8 -31.4h0m26.5 26.4h0m2.7 -14.9h0m-40.2 14.9h0m34.3 -48.8h0m19.4 22h0m-3.3 12h0m-42.2 -14.1h0m-0.1 14.1h0m31.9 5.7h0m-22.5 -10.5h0m-11.5 14.2h0m-6.8 -16.8h0m39.3 27.2h0m-23.8 0.3h0m7.7 -55.5h0m-25.3 49.8h0m5.1 -29.1h0m-13.1 -0.1h0m42.5 -15.4h0m-3.7 18h0m-12.6 35.3h0m7.7 -29.9h0m-25.8 -19.7h0m37.6 24.2h0m1.9 23.5h0m-17.1 -49.3h0m-12.1 20.4h0m-2.6 -24h0m19.4 35.1h0m-30.8 -26.2h0m32.9 -1.7h0m23.4 4.2h0m-14.8 -16.8h0m-1.7 1.6h0m-16.8 -2.7h0m-12.3 45.2h0m19.1 -1.6h0m-17 -11.6h0m-13.7 -5.8h0m37.9 29.4h0m-39.2 -16.6h0m56.3 -10.7h0m-38.8 -28.7h0m9.2 6.7h0m-21.8 44.6h0m17.9 -43.9h0m-10.2 1.7h0m-15.6 27.8h0m60.9 11.4h0m-43.1 -27.3h0m16.7 5.5h0m-29.2 7.8h0m28.1 -31.1h0m7.2 57.5h0m-28.6 -27.7h0m23.1 30.3h0m-13.4 -17.5h0m31.2 3.3h0m-14.8 -44.3h0m0.5 26.6h0m-32.4 -8.5h0m43.8 13.3h0m-47.6 -4.6h0m46.6 22.6h0m3.2 -49.7h0m-11.9 50.5h0m-23.8 -33.2h0m-8.2 2.6h0m3.7 25.2h0m37.2 -4.6h0m-43.5 -7.3h0m39.1 24h0m2.8 -6.7h0m-39.6 -6.9h0m40.2 -39.6h0m-14.5 -10.2h0m-5.2 28.3h0m12.6 35.3h0m-34.5 -27.5h0m22.1 -27.9h0m-9.7 40.8h0m2 0.3h0m24.6 -39.5h0m-28.2 0h0m43.1 27.2h0m-6.7 2.4h0m12.2 -9.5h0m-44.4 32.3h0m16.8 -38.9h0m2 -3.2h0m4.6 1h0m-9.2 -5.2h0m-4.5 10.9h0m-15.2 22.4h0m7.9 -17.5h0m-23.6 -7.7h0m46.2 -5.7h0m-15.2 27h0m-15.1 -9.2h0m42.8 7h0m-26.6 16.9h0m14.1 -22.3h0m-38.3 -18.7h0m37.7 -5.5h0m-29.5 3.4h0m45.7 15.7h0m-41.7 18.6h0m-8.3 -25.2h0m14.2 -2.1h0m-1.9 34h0m-21.9 -12.3h0m2.6 -13.9h0m2.6 0h0m25 -6.7h0m-1.1 -13h0m-22.6 35.3h0m12.7 5.1h0m7.1 -53.2h0m-1 26.6h0m-12.4 27.7h0m19.9 -44.4h0m-3.9 18.4h0m14.4 3.5h0m11.1 -0.5h0m4.4 13.1h0m-41.4 -13h0m-0.6 15.3h0m10.7 17.2h0m-5.6 -50.9h0m-6.8 -0.6h0m29.5 36.3h0m-45.2 -7.3h0m5.4 -21.1h0m3.1 18.6h0m24.9 24.8h0m-32.8 -35.7h0m35.7 -7.7h0m-33.1 -5.7h0m39 19.8h0m3.3 -20.7h0m-5.3 -4.4h0m17.1 30.2h0m-21.1 14.8h0m-8.3 -13h0m13.7 -38.5h0m-34.4 28.5h0m32.3 29.7h0m-36.6 -37.3h0m52.6 29.2h0m-11.2 -24.7h0m17.3 13.7h0m-40.8 -19.4h0m41.7 9.4h0m-51.7 1.4h0m16.3 -9.4h0m-9.7 -15.6h0m-19.2 23.6h0m18.6 -6h0m22.3 -3h0m-3.7 -20.4h0m1.9 -1.6h0m13.6 33.2h0m-40.7 -24.3h0m-2.5 23.5h0m4.2 20.9h0m9.6 -51.3h0m-11.5 41.1h0m48 -26.5h0m-47.5 5.8h0m20.5 -14.8h0m-7 17.9h0m2.7 33.8h0m-22.4 -26.7h0m8.2 -8.7h0m-1.4 0.1h0m-8.6 21h0m31.7 -11.1h0m3.6 7.9h0m-3.6 -35.2h0m-20.9 53.2h0m44 -12.3h0m-42.5 -14.5h0m20.4 5.2h0" stroke="#32229c" stroke-width="1.5" stroke-linecap="round" fill="none"/>
<circle cx="424" cy="368" r="7" fill="#e6e4e8" filter="url(#b3)"/>
<circle cx="418" cy="322" r="8" fill="#e6e4e8" filter="url(#b3)"/>
<circle cx="424" cy="334" r="5" fill="#e6e4e8" filter="url(#b3)"/>
</g>
<circle cx="395.8" cy="343.8" r="33.3" fill="none" stroke="#c9c6d2" stroke-width="0.8"/>
<circle cx="471.4" cy="343.8" r="33.7" fill="#e6e4e8"/>
<g clip-path="url(#c24)" filter="url(#b1)">
<path d="M492.2 331.6h0m5.2 26.4h0m-12 14h0m-14.2 -31.2h0m18.4 -1.7h0m-26.1 36.7h0m-12.7 -19.4h0m1.6 -11.6h0m-5.7 1.1h0m14.7 -14.4h0m40.2 11h0m-44.1 -21.9h0m37.6 16h0m-51.1 -4.7h0m53.2 21.9h0m-41.2 -10.1h0m7 -31.3h0m-11.3 25.5h0m-9.5 7.1h0m55.6 11.8h0m-43.3 -39.5h0m8.1 33.4h0m8 -25.3h0m22.7 10.6h0m-36.3 -15.8h0m-0.6 31.8h0m10.5 -36.1h0m-1.9 54.5h0m-2.1 -38.2h0m27.5 9.8h0m-47.5 -12.7h0m21.5 7.8h0m-21.7 1.7h0m20.4 6.7h0m37.1 -1.9h0m-15.8 26.2h0m1.7 -10.3h0m-21.2 -42.3h0m26.4 7.4h0m-33.4 25.1h0m20.3 -24.7h0m-12.2 -12.1h0m10.1 11.3h0m22.2 -0.5h0m-34.3 -6.4h0m-24 38.6h0m60.7 -16.5h0m-23.8 26.6h0m-37.5 -21h0m0.4 7.4h0m41.6 1.4h0m21 -12.3h0m-19.7 7.1h0m1.3 -35.8h0m0.4 0h0m0 41.6h0m-21 -2.8h0m12 15.8h0m15.1 -36h0m-34.7 -11.9h0m21.2 50.3h0m-37.2 -17.9h0m41.5 -16.6h0m19.1 7.8h0m-49.2 20.8h0m7.1 -18.4h0m16 20.7h0m7.1 6.3h0m-38.9 -29.4h0m-0.4 4.6h0m46.9 -6.6h0m-4.8 7.5h0m1.4 14.6h0m-19.2 5.8h0m14.6 -50.4h0m-3.4 10.9h0m15.5 15.6h0m-39.4 13.5h0m45.7 -12.4h0m-2.7 0.5h0m-19.6 -18h0m-10.4 44.7h0m-3.1 -61.8h0m3.8 2.7h0m-24.8 29.2h0m47.7 25.2h0m-50.3 -12.8h0m18.8 -33h0m13 -1.3h0m23.7 28.8h0m2.3 -21.2h0m2.3 -2.8h0m-7.7 35.1h0m-41.1 -17.3h0m16.4 21.6h0m-25.3 -15.5h0m30.5 20.2h0m-3.3 -60.2h0m10.7 7.8h0m-28.5 52.4h0m13.1 -11.6h0m7.4 6h0m8.1 -17.6h0m-36.9 -16h0m32.3 -5.1h0m-5.4 31.2h0m14.6 -12.5h0m-30.6 -6.4h0m19.8 5.7h0m-24 19.6h0m-6.5 -5.9h0m-3.8 -21.8h0m31.3 26.2h0m-13 -37.6h0m24.8 45.7h0m-35.3 -39.9h0m38.9 4.8h0m-22.5 40.1h0m15.4 -0.6h0m-36.7 -34.7h0m36.5 8.6h0m-22.4 -9.7h0m34.4 -19.9h0m-48.1 18.3h0m22.7 -7.8h0m3.9 34h0m-23.8 -3.2h0m15.2 10.9h0m1.4 -18.9h0m35.8 -24.2h0m-11.4 1.9h0m-27.5 33.7h0m23.4 -23.9h0m-27.7 -3h0m2 -22.6h0m19.6 62.1h0m-7.4 -45.6h0m3.1 -12h0m12.7 50.5h0m10.5 -11.8h0m-55 -27h0m15.9 -16.2h0m28.2 36h0m10.7 -9.1h0m3.4 8.8h0m-11.6 -14.2h0m9 16.2h0m-27.5 -17.4h0m18.9 -8h0m-8.2 38.9h0m11.7 -0.6h0m-36.5 -28.4h0m31.4 1.8h0m-3.6 16h0m15.8 -30.4h0m-42.5 36.3h0" stroke="#5b45e2" stroke-width="4.6" stroke-linecap="round" fill="none" opacity="0.92"/>
<path d="M474.3 361.3h0m-25.2 0.8h0m44.7 -31.2h0m-4.7 34.2h0m-20 8.6h0m10.5 -5.1h0m-6.5 -47.4h0m8.1 12.6h0m-25.4 -16.6h0m36.7 1.7h0m-41.2 42.9h0m11.2 9.2h0m-8.8 -28.7h0m10.3 22h0m-20.1 -11.1h0m38.3 -38h0m2.7 25.5h0m-17.1 -4.4h0m-3 -20.6h0m8.1 38.7h0m8.2 14h0m-3.2 -22.2h0m-32.8 -10.3h0m50 21.1h0m-17.4 15.2h0m25.4 -24.9h0m-57.2 -19h0m3.5 32.5h0m22.4 -7.2h0m11.5 -22.5h0m0.9 3.2h0m-40.1 27.3h0m22.5 -20.1h0m13.1 30.8h0m6.9 -28.7h0m17.7 3.1h0m-61.4 5.5h0m46.3 -20.1h0m-46.7 4.3h0m31.5 6.1h0m-1.9 -24.2h0m-16.7 31.3h0m31.1 -17.5h0m-22.9 9.9h0m25.9 9h0m-25.1 -31.3h0m20.4 46.7h0m-16.9 -29.1h0m-16.8 15.9h0m34.6 -1.6h0m-6.2 -31h0m-2.3 -9.3h0m-32.7 49.7h0m8.1 -35.1h0m18.4 2.3h0m-25.5 26.3h0m27.4 -30.7h0m-16 36.7h0m24.3 -9.3h0m-12.1 -15.6h0m34.8 10.6h0m-51.5 -23.8h0m27.3 52.6h0m-25.5 -49.1h0m-14.2 14.3h0m4.7 -10.7h0m40.1 27h0m-38.5 -6.5h0m49.7 -25.8h0m-46.2 18.6h0m22.6 -22.9h0m-20.7 29.9h0m20.8 5.2h0m22.9 12.2h0m-40.7 -2.9h0m-7.9 -3.3h0m7.1 -10.9h0m15.2 -24.4h0m-14.3 -5.9h0m12.1 27.2h0m2.2 -5.3h0m5.6 32.7h0m-10.6 -51.2h0m-16 -0.5h0m-3.6 27.1h0m36.9 -16.5h0m13.9 8.9h0m-1.4 25.5h0m-45.5 -15.3h0m13.9 -20.7h0m-15.9 32h0m0.4 -9.8h0m22.7 -39.2h0m7.6 -4h0m-10.7 39.5h0m7 -27.7h0m-24.3 34.1h0m15.3 4.1h0m-14.7 -37.2h0m17.3 17h0m-8 0.2h0m-17.8 15.9h0m1.8 -28.4h0m36.3 3.8h0m22.9 17.6h0m-56 9.3h0m23.6 17.4h0m17.2 -10.7h0m-12.2 -51.9h0m-12.5 47.1h0m-7.8 4.3h0m47.3 -34h0m-3.7 5h0m-16.4 19.1h0m-3.6 -27.6h0m0.9 -13.9h0m-14.3 48h0m15 -34.7h0m1.8 -12h0m12.6 26h0m-30.8 -15h0m27.6 11.8h0m-13.9 -11h0m-12.2 47.5h0m-8.6 -56.4h0m12.1 47.7h0m-18.9 -36.9h0m19.6 37.2h0m20.5 -8.7h0m3 -35.2h0m-44.7 9.7h0m11.9 -3.3h0m10 20.4h0m31.1 -14.1h0m-2.3 12h0m-4.4 -15.6h0m-35.7 39.7h0m-9 -42.7h0m35.2 26.7h0m-6.7 -9.3h0m-5.8 1h0m14.9 19.1h0m-13.4 -3.1h0m13.3 4.2h0m17 -27.3h0m-59.8 -2.7h0m26.2 -5.5h0m10.7 40.2h0m10.5 -46.4h0m-46 28.6h0m47.3 7.6h0m-46.3 -37.8h0m-5.4 11h0m6.6 11.9h0m16.1 13h0m-18.5 -17.8h0m-4.1 -2.7h0m20.9 24.6h0m-17 -38.2h0m48.4 43.9h0m-25.5 -27.3h0m16.6 19.5h0m-1.4 12h0m-40.1 -36.4h0m36.6 35.8h0m-6.4 -26.8h0m-19.5 16.6h0m-9.4 -32.9h0m30.1 45.8h0m-15.1 -4.5h0m13.7 -32.8h0m-16.8 9.3h0m-4.6 3.7h0m6.6 -7.5h0m30.8 -0.8h0m-47 -5.6h0m18.5 33.5h0m38.1 -25.9h0m-40.9 17.8h0m5.9 -10.4h0m20.3 20.2h0m-20.8 -52.9h0m-4.3 32.2h0m38.3 1.7h0m-40.6 -23.8h0m8.1 46.5h0m11.7 -60.2h0m0.1 32.8h0m-2.1 -36.8h0m-7 58.6h0m15.2 -57.5h0m-2.4 -0.1h0m-7.9 51h0m-15.3 -36.7h0m29.6 -4.9h0m-14.5 20.9h0m12.6 27.3h0m-21.7 4.9h0m-18.7 -33.8h0m42.7 -23.7h0m-29.3 52.7h0m42.3 -18.6h0m-60 1.7h0m49.4 -15.7h0m-6 -0.7h0m-18 -26h0m-6.5 45.1h0m11.5 16h0m17.4 -5.7h0m-30.9 -26.4h0m40.4 10.2h0m-31.9 22.1h0m30.6 -41h0m-11.7 26.6h0m-22.1 -27.8h0m-21.8 0.7h0m14.9 -15.3h0m39.5 34.2h0m-15.8 -27.5h0" stroke="#4c36d4" stroke-width="3" stroke-linecap="round" fill="none"/>
<path d="M484.3 344.2h0m16.4 1.8h0m-2.7 -17h0m-29.9 6.8h0m-10.8 4.3h0m31.1 1.5h0m-40.2 -19.2h0m50.5 30.5h0m1.5 -1.2h0m-32.7 -7.9h0m30.5 11.2h0m-41.1 12.9h0m32.2 -46.3h0m-37.3 28.1h0m16.9 4h0m-24.6 -23.4h0m52.3 14.8h0m-6.1 18.4h0m-51.7 -26.4h0m18.3 30.5h0m34.9 -34.3h0m-10.4 38.6h0m-12.8 1.1h0m3.1 -53.3h0m1.4 51.9h0m-8.6 4.3h0m-10.7 -50.2h0m27.3 34.9h0m-14.2 -49.9h0m8.6 47.4h0m27.9 -6h0m-41.4 -6.5h0m-17.4 -12.9h0m31.3 8.4h0m24 1.4h0m-39.6 11.7h0m-11.9 -5.3h0m33.2 -33.7h0m-3.1 28.8h0m-12.9 -22.7h0m-11.8 3.2h0m-9.9 35.9h0m33.1 -27.6h0m-0.2 18h0m-23.3 -23.7h0m17.1 13.7h0m10.3 -6.2h0m-41.3 0.9h0m12.4 -1.3h0m-2.8 -10.2h0m26.8 -4.6h0m20.6 36.6h0m-46.4 7h0m52.7 -15.9h0m-32.4 12.2h0m-27.2 -3.1h0m9.1 4.6h0m-3.5 5.9h0m32.9 -6.8h0m-27.3 -34h0m13.3 -12.5h0m29.3 26.6h0m-31 4.1h0m-8.9 -6.8h0m-5.4 -6h0m27.7 5.3h0m-6.3 29.9h0m-2.6 -40.2h0m-27 14.3h0m46.9 1h0m-10.8 -12.3h0m-15.9 3.2h0m24.2 33.4h0m6.1 -35.7h0m-50.4 17h0m49.1 -18.9h0m-26.3 -10.2h0m0.1 0.4h0m-13.9 47.5h0m33.3 -27.4h0m1.2 5h0m14 -8.5h0m-34.1 -17.9h0m22.8 7.9h0m-1.8 0.6h0m-7.5 1h0m14.3 3.3h0m-3.7 36.7h0m-16 -50.9h0m-6.2 -4.2h0m-5.5 56.9h0m-0.6 -3.2h0m31.7 -9.9h0m-9.8 -35.3h0m2.5 12.2h0m-7.8 37.8h0m-38.8 -34h0m54.8 30.1h0m-28.1 10.2h0m-7.5 -54.4h0m10.9 52.9h0m34 -31.4h0m-20.1 23.9h0m9.7 -24.3h0m-44.9 18.8h0m4 -20.4h0m25.4 -15.7h0m-30.3 34.5h0m0.4 5.1h0m20 -20.4h0m-21.6 21.2h0m11.2 -21h0m10.4 9h0m3.3 -17.9h0m29 -4.4h0m-33.8 9.8h0m27.8 -17.4h0m-27.8 38.2h0m32.1 -27.9h0m-24.3 12.1h0m14.6 -22.9h0m-2.3 12h0m10.9 5.2h0m-56.7 3.9h0m56.4 -9h0m-25.3 12.8h0m16.2 19.7h0m-45.6 -34.7h0m7.2 6.8h0m41.1 -16.8h0m1.1 -3.3h0m-31.8 32.1h0m25.8 -20.8h0m8.1 8.4h0m-8.9 -18.1h0m-16.6 12.5h0m-19.2 -16.4h0m50.9 12.2h0m-3.5 -4.2h0m-7.5 -2h0m-5.2 25.2h0m-34.5 -1.6h0m32.2 -23.4h0m-15.9 47.1h0m12.8 -32.8h0m-21.7 34.7h0m10.6 -41.1h0m-21.3 -1.5h0m-6.9 6h0m17.7 -22.6h0m29.1 53.2h0m-29.7 4.1h0m-9.6 -18h0m18.4 6.4h0m-5 -41.1h0m3.3 43.1h0m19.7 10.5h0m-33.9 -20.7h0m22.9 9.1h0m22 -1.1h0m-13 3.9h0m-8.1 -7.4h0m-29.2 -15.6h0m45 5.8h0m-30.7 26.4h0m21.5 -58.3h0m-24.5 25.4h0m21.6 32.9h0m-9.1 4.5h0m-28.8 -38.7h0m50.3 -10.5h0m-24.6 -15.2h0m13.8 46.3h0m12.3 -42.1h0m-10.8 51.6h0m-30.9 -37.3h0m45.7 -6.8h0m-48.2 30.2h0m5.1 -26.9h0m13.1 26.4h0m16.6 16.9h0m16.2 -38.9h0m-2.9 -9.2h0m0.4 34.8h0m-26.2 -47.3h0m29.5 34.7h0m-40.7 14.4h0m29.2 8.5h0m-3.7 -3.8h0m-17.5 -30.8h0m-11.5 27.6h0m-3.4 -12.2h0m48.8 -14.7h0m-31 25.3h0m-11.7 -22.2h0m28.6 -7.7h0m2.6 23.3h0m-40.6 2.1h0m17.4 -29.9h0m-23.5 20.7h0m16 0.3h0m-18.5 -11.8h0m24.2 5.9h0m31.7 20.1h0m-44.5 -34.5h0m17.2 14.5h0m20.3 -7.2h0m13.4 0.3h0" stroke="#32229c" stroke-width="1.5" stroke-linecap="round" fill="none"/>
<circle cx="495" cy="371" r="9" fill="#e6e4e8" filter="url(#b3)"/>
<circle cx="468" cy="342" r="6" fill="#e6e4e8" filter="url(#b3)"/>
</g>
<circle cx="471.4" cy="343.8" r="33.3" fill="none" stroke="#c9c6d2" stroke-width="0.8"/>
<path d="M558 328.7V278.3H569V328.7" fill="none" stroke="#a6a6a6" stroke-width="1.5"/>
<path d="M574 328.7V312.3H585V328.7" fill="none" stroke="#e8383c" stroke-width="1.5"/>
<line x1="563.5" y1="271.5" x2="563.5" y2="278.3" stroke="#a6a6a6" stroke-width="1"/>
<line x1="560.9" y1="271.5" x2="566.1" y2="271.5" stroke="#a6a6a6" stroke-width="1"/>
<line x1="579.5" y1="308.5" x2="579.5" y2="312.3" stroke="#e8383c" stroke-width="1"/>
<line x1="576.9" y1="308.5" x2="582.1" y2="308.5" stroke="#e8383c" stroke-width="1"/>
<line x1="551.3" y1="255.6" x2="551.3" y2="329.4" stroke="#000" stroke-width="1.5"/>
<line x1="550.5" y1="328.7" x2="592.3" y2="328.7" stroke="#000" stroke-width="1.5"/>
<line x1="547.9" y1="256.4" x2="551.3" y2="256.4" stroke="#000" stroke-width="1.5"/>
<text x="545.5" y="259.5" font-size="8.5" text-anchor="end" font-weight="700">800</text>
<line x1="547.9" y1="274.4" x2="551.3" y2="274.4" stroke="#000" stroke-width="1.5"/>
<text x="545.5" y="277.5" font-size="8.5" text-anchor="end" font-weight="700">600</text>
<line x1="547.9" y1="292.7" x2="551.3" y2="292.7" stroke="#000" stroke-width="1.5"/>
<text x="545.5" y="295.8" font-size="8.5" text-anchor="end" font-weight="700">400</text>
<line x1="547.9" y1="310.7" x2="551.3" y2="310.7" stroke="#000" stroke-width="1.5"/>
<text x="545.5" y="313.8" font-size="8.5" text-anchor="end" font-weight="700">200</text>
<line x1="547.9" y1="328.7" x2="551.3" y2="328.7" stroke="#000" stroke-width="1.5"/>
<text x="545.5" y="331.8" font-size="8.5" text-anchor="end" font-weight="700">0</text>
<line x1="563.5" y1="328.7" x2="563.5" y2="332.1" stroke="#000" stroke-width="1.5"/>
<text font-size="8.2" text-anchor="end" font-weight="700" transform="translate(564.8 340.1) rotate(-45)">Vector</text>
<line x1="579.5" y1="328.7" x2="579.5" y2="332.1" stroke="#000" stroke-width="1.5"/>
<text font-size="8.2" text-anchor="end" font-weight="700" transform="translate(580.7 340.1) rotate(-45)">FBXL8</text>
<text font-size="7.6" text-anchor="middle" font-weight="700" transform="translate(529.2 293.2) rotate(-90)">Colony number</text>
<line x1="563.2" y1="267.6" x2="580" y2="267.6" stroke="#000" stroke-width="1.2"/>
<text x="571.6" y="268.7" font-size="9.4" text-anchor="middle" font-weight="700">***</text>
<circle cx="559.2" cy="272.8" r="1.9"/>
<circle cx="563.5" cy="285" r="1.9"/>
<circle cx="568" cy="276.6" r="1.9"/>
<rect x="573.6" y="307.5" width="3.4" height="3.4" fill="#000"/>
<rect x="573.6" y="311.3" width="3.4" height="3.4" fill="#000"/>
<rect x="582.5" y="309.1" width="3.4" height="3.4" fill="#000"/>
<text x="571.3" y="370.7" font-size="10" text-anchor="middle" font-weight="700">PANC-1</text>
<path d="M638.8 329.7V278H649.2V329.7" fill="none" stroke="#a6a6a6" stroke-width="1.5"/>
<path d="M654.8 329.7V301.3H665.5V329.7" fill="none" stroke="#e8383c" stroke-width="1.5"/>
<line x1="644" y1="271.5" x2="644" y2="278" stroke="#a6a6a6" stroke-width="1"/>
<line x1="641.4" y1="271.5" x2="646.6" y2="271.5" stroke="#a6a6a6" stroke-width="1"/>
<line x1="660.1" y1="299" x2="660.1" y2="301.3" stroke="#e8383c" stroke-width="1"/>
<line x1="657.5" y1="299" x2="662.7" y2="299" stroke="#e8383c" stroke-width="1"/>
<line x1="631.8" y1="257.8" x2="631.8" y2="330.4" stroke="#000" stroke-width="1.5"/>
<line x1="631" y1="329.7" x2="672.8" y2="329.7" stroke="#000" stroke-width="1.5"/>
<line x1="628.4" y1="258.5" x2="631.8" y2="258.5" stroke="#000" stroke-width="1.5"/>
<text x="626" y="261.6" font-size="8.5" text-anchor="end" font-weight="700">800</text>
<line x1="628.4" y1="276" x2="631.8" y2="276" stroke="#000" stroke-width="1.5"/>
<text x="626" y="279.1" font-size="8.5" text-anchor="end" font-weight="700">600</text>
<line x1="628.4" y1="294" x2="631.8" y2="294" stroke="#000" stroke-width="1.5"/>
<text x="626" y="297.1" font-size="8.5" text-anchor="end" font-weight="700">400</text>
<line x1="628.4" y1="312" x2="631.8" y2="312" stroke="#000" stroke-width="1.5"/>
<text x="626" y="315.1" font-size="8.5" text-anchor="end" font-weight="700">200</text>
<line x1="628.4" y1="329.7" x2="631.8" y2="329.7" stroke="#000" stroke-width="1.5"/>
<text x="626" y="332.8" font-size="8.5" text-anchor="end" font-weight="700">0</text>
<line x1="644" y1="329.7" x2="644" y2="333.1" stroke="#000" stroke-width="1.5"/>
<text font-size="8.2" text-anchor="end" font-weight="700" transform="translate(645.2 341.1) rotate(-45)">Vector</text>
<line x1="660.1" y1="329.7" x2="660.1" y2="333.1" stroke="#000" stroke-width="1.5"/>
<text font-size="8.2" text-anchor="end" font-weight="700" transform="translate(661.3 341.1) rotate(-45)">FBXL8</text>
<text font-size="7.6" text-anchor="middle" font-weight="700" transform="translate(610 294.4) rotate(-90)">Colony number</text>
<line x1="643.5" y1="262.7" x2="660" y2="262.7" stroke="#000" stroke-width="1.2"/>
<text x="651.8" y="263.5" font-size="9.4" text-anchor="middle" font-weight="700">**</text>
<circle cx="644" cy="271" r="1.9"/>
<circle cx="644" cy="277.6" r="1.9"/>
<circle cx="644" cy="285.6" r="1.9"/>
<rect x="654" y="301.1" width="3.4" height="3.4" fill="#000"/>
<rect x="658.1" y="297.3" width="3.4" height="3.4" fill="#000"/>
<rect x="662.6" y="298.6" width="3.4" height="3.4" fill="#000"/>
<text x="651.5" y="370.7" font-size="10" text-anchor="middle" font-weight="700">CFPAC</text>
<text x="16" y="419.6" font-size="21" font-weight="700">E</text>
<text x="89.2" y="437.6" font-size="10.6" text-anchor="middle">DAPI</text>
<text x="166" y="437.6" font-size="10.6" text-anchor="middle">Tunel</text>
<text x="241.9" y="437.6" font-size="10.6" text-anchor="middle">Merge</text>
<text x="324.1" y="437.6" font-size="10.6" text-anchor="middle">DAPI</text>
<text x="400.9" y="437.6" font-size="10.6" text-anchor="middle">Tunel</text>
<text x="477.3" y="437.6" font-size="10.6" text-anchor="middle">Merge</text>
<text x="15.3" y="475.8" font-size="10.7">Vector</text>
<text x="15.3" y="529.8" font-size="10.7">FBXL8</text>
<text x="164.4" y="569.2" font-size="13.4" text-anchor="middle">PANC-1</text>
<text x="398.2" y="569.4" font-size="13.4" text-anchor="middle">CFPAC</text>
<rect x="53" y="445" width="74" height="52" fill="#01010a"/>
<g clip-path="url(#c25)" filter="url(#b15)">
<path d="M86.4 491.9h0m-17 -8.5h0m10.9 -17.6h0m-5.8 -20.6h0m-3.7 49.6h0m40.1 -18.8h0m2.1 -6h0m-30.3 15.2h0m-27.8 -0.7h0m43.2 -20.3h0m1.5 -1.6h0m1.6 21.4h0m15.3 -28h0m-20.1 24.9h0m8.7 -11.9h0m-16.1 0.6h0m14.6 14.4h0m-42.3 -19.4h0m5.2 -9.9h0m38.1 32h0m-24.3 -33h0m4.3 -6.3h0m-2 5.3h0m18.4 -2.9h0m-17.4 42.3h0m-18.5 0.6h0m25.5 -4.6h0m0.6 -13.7h0m-12.4 20.1h0m-3.4 -12.4h0m-5.6 -11.3h0m-12.8 5.6h0m50.9 -28.2h0m-32 36.3h0m49.4 0.6h0m-45.4 -1.3h0m9.5 -6.8h0m19.2 -15.1h0m-18.3 8.2h0m-28.1 -20h0m51.3 24.9h0m-33.1 -23.4h0m-9.4 8.7h0m41.9 11.7h0m-42.7 20.4h0m1.7 -31.7h0m13.4 15.5h0m29.3 -19h0m-14.1 -3.4h0m5.5 -4.3h0m-0.7 37.1h0m5 -23.9h0m-31.6 -8.9h0m23.9 32.8h0m-4.9 -20.7h0m7.2 7h0m15.6 9.1h0m-1.6 5.6h0m4.4 -0.9h0m-12.9 5.9h0m-20.8 -15.1h0m9.6 -2.1h0m-17.7 -16.9h0m9.2 19.3h0m25.4 -18.6h0m-44.9 21.2h0m52.6 -6.3h0m-6.5 12.6h0m-54.5 -27.2h0m29 10.1h0m15.1 -24.6h0m-30.1 21.3h0m39.9 -16.8h0m-54.8 23h0m31.5 10.7h0m-3.7 -8h0m32.6 20h0m-64.5 -25.8h0m49.8 -18.1h0m-22.7 30.8h0m30.3 -26.1h0m-5.6 10h0m-36.1 -4.1h0m-14.5 -16.9h0m41.9 48.9h0m-33.4 -12h0m30.6 12h0m13.8 -11h0m-48.2 -32.8h0m2.7 8.2h0m50.3 -4.4h0m-24 23.3h0m6.3 -18.1h0m-10.1 19.1h0m-4.2 4.5h0m11.7 9.6h0m-22.3 -21.7h0m35.5 8.3h0m-51.1 8h0m27.2 -34.1h0m-4.7 18.9h0m3.1 10.3h0m-2.4 -31.6h0m-12.6 19h0m6.3 -13.8h0m30.8 -6.2h0m-17.5 28.3h0m-25.8 14.9h0m61.6 -6h0m-5.5 -0.2h0m-42 4.5h0m39.2 -13.4h0m2.4 0.9h0m-19.7 -28h0m-40.6 45.2h0m30.3 -17.5h0m-30.6 16.7h0m14.2 -20.8h0m8.1 -24.2h0m23.5 -2.4h0m-12.5 3.5h0m-21.9 28h0m32 -1.3h0m-35.3 -2.8h0m43 -0.6h0m-38.4 3.6h0m38.9 -27.8h0m-22.3 8.7h0m-21.1 -12.8h0m59.1 10h0m-54.8 1.3h0m-2.3 12.6h0m57.8 -15h0m-14.3 -5.3h0m14.1 3.9h0m-64.3 -5.4h0m0.8 15.2h0m44.9 23.8h0m-50.3 -7.4h0m25.8 -31.1h0m-18 9.1h0m60.7 0.6h0m-6.3 10.6h0m0.8 20.6h0m-32 -22.9h0m8.3 -21.1h0m19.8 16.1h0m-13.5 20.6h0m2.8 7.7h0m-36.8 -40.9h0m2 46.9h0m37.8 -45.8h0m17.7 0.2h0m-20.6 -1.4h0m6.2 17.5h0m-47.8 10.5h0m9.3 -25.7h0m-17.1 22.8h0m25.1 16.1h0m-20.5 -20h0m14.8 1.2h0m20.7 15.8h0m18.1 -29.2h0m-55.1 21.8h0m61 -8.8h0m-5.4 2.3h0m-58.7 13.2h0m52.1 -38.6h0m-42.5 45.7h0m44.6 -23.8h0m1.8 -18.1h0m-21 -2.1h0m-16.5 3.8h0m3.2 36.2h0m40.9 -43.8h0m-56.7 19.7h0m29.8 20.1h0m2.6 -38.5h0m-33.3 16.6h0m26.6 -14.3h0m-28.5 19.7h0m-5.3 7.7h0m48.2 -14.1h0m10 -4.9h0m14 32.9h0m-37.6 0.5h0m11.4 -19.3h0m-43.4 14.4h0m36.8 -38.5h0m8.5 49.3h0m-17.2 -31.9h0m-31.1 30.9h0m11.7 -31h0m24.6 2.8h0m13.5 14h0m-16.7 -13.7h0m-3.5 17.5h0m-20.6 -8h0m14.5 -9.2h0m-4 2.4h0m-8.1 -25.4h0m20 37.5h0m-29.7 10.8h0m57.9 -6.7h0m-40.6 -23.9h0m36.1 1.7h0m-8.4 20.7h0m-25.6 -29.4h0m6.2 2.8h0m21.1 36.2h0m14 -4.3h0m-28.4 -41.9h0m36.5 16.5h0m-31.9 20.1h0m-34.7 -26.1h0m26.5 29.4h0m-15.9 -15.1h0m22.1 -19h0m-12.5 -0.8h0m27.5 34.1h0m12.5 -38.9h0m-55.3 31.5h0m23.8 -32.1h0m22.8 30.1h0m-3.4 -9.1h0m4.3 7.5h0m2.2 -23.4h0m-49.5 31.6h0m-3.7 -23.1h0m23.2 31.3h0m31.2 -43.6h0m-24.8 9h0m-13.3 19.1h0m7 -28.8h0m-8.2 39.3h0m-9.3 -25.8h0m26.1 -11.7h0m-0.7 0.4h0m36.4 10.9h0m-55.8 17.6h0m50.2 -21.1h0m-6.4 21.6h0m-30.1 -19.1h0m30.2 -14.6h0m-10.4 48.3h0m-50.1 -21.7h0m24.7 -13.8h0m-25.1 29.7h0m55.1 -30.9h0m13.8 34.7h0m-65.8 -35.5h0m68.7 30.5h0m-58.6 -22.8h0m53 13.9h0m-61.3 -0.4h0m-3.5 11.5h0m10.4 0.3h0m12.4 -32.5h0m-13.8 22.8h0m53.2 -33.7h0m-53.4 47.2h0m42.4 -6.5h0m7.7 -18.8h0m-21.2 -4.9h0m3.4 -0.9h0m-7.5 8.3h0m-3.2 2.7h0m20.1 -18.3h0m-12.6 25h0" stroke="#0a0a92" stroke-width="2.9" stroke-linecap="round" fill="none" opacity="0.8"/>
<path d="M73.4 482.3h0m25.5 -36.2h0m-29 7.6h0m48.3 -7.4h0m-35.1 32.6h0m31.1 -21.3h0m-20.8 5.7h0m-24.1 21h0m-11.9 -6.4h0m45.9 14h0m15.4 -21.2h0m-2 -19.5h0m-25.7 39.6h0m-11.5 -11.9h0m15.6 -33.3h0m-30.9 37h0m29.6 -14.1h0m27 1.3h0m-11.9 16.3h0m2.2 -32.6h0m-3.7 11.7h0m-36.8 -7.9h0m-14.5 32h0m-1.7 2.2h0m14.7 -22.4h0m34.5 -5.8h0m-50.2 26.1h0m33.3 -11.4h0m10.4 -11.4h0m-37.6 4.7h0m57.7 -4.1h0m-29.7 10.7h0m-1.3 -26.9h0m21.2 23.8h0m-26.5 -16.5h0m17.6 -3.9h0m24.5 31.4h0m-63.5 5.5h0m20.2 -20.7h0m-1.7 10h0m5.6 14.3h0m30.4 0h0m-55.8 -35h0m29 5.7h0m35.2 -11.5h0m-54.6 10h0m37.8 25.6h0m4.7 -27.1h0m-30 9.2h0m30 0.3h0m-8.6 18.3h0m-24 -2.7h0m44.3 -34h0m-13.5 1.5h0m2.5 30.1h0m-21.8 -11.1h0m-13.8 20.3h0m42.9 -1.1h0m7.3 0.3h0m-51.9 -28.5h0m46.3 3.1h0m-36.7 -10.8h0m12.7 30h0m-26.2 -40.1h0m48.9 38.7h0m-63.5 -31.5h0m68 12.8h0m-69.1 25.4h0m8.8 -9.5h0m36.5 7.2h0m-18.8 -33.5h0m-17.1 16.5h0m20.3 -20h0m29.2 40.6h0m-52.3 -43.5h0m39.8 30.8h0m-26.3 14.8h0m51.1 -32h0m-2.3 28.5h0m-20.7 -16.3h0m-25.6 -15.3h0m20.8 33.2h0m-31.8 -48.2h0m24.7 18.4h0m-18 28.9h0m-8.7 -30.3h0m59.9 -7.6h0m-11.4 -1.5h0m-13.4 3.3h0m-32.8 -8.3h0m-3.1 0.1h0m21.4 18.6h0m38.5 -5.3h0m-35.6 30.9h0m-11.9 2.2h0m-11.9 -2.2h0m29.3 -38.1h0m-3.8 -0.6h0m-14.2 -4.5h0m-16.9 9.7h0m12.9 15.6h0m34.1 5.9h0m4.4 -25.7h0m-39.2 -3.6h0m9.4 15.4h0m-19.9 11.1h0m4.2 -17.3h0m36.5 -9.7h0m4 17.3h0m2.1 19h0m-10.3 -13.9h0m-31.2 -2.9h0m-10.3 21.4h0m37.6 -10.8h0m-36.9 -4.5h0m18 12.4h0m-6.4 -0.6h0m40.5 4.3h0m-35.1 -45.3h0m35.2 24.5h0m-12 -25.6h0m12.8 33h0m-39.1 -10.5h0m10.7 -6.4h0m38.8 6h0m-55.5 -0.3h0m-5.6 -17.8h0m46.8 -3.7h0m-2.7 32.9h0m-34.9 -15.5h0m4 31.3h0m41.4 -49.4h0m2.3 27h0m-58.1 -22.8h0m49.6 44.2h0m-31.9 -5.7h0m26.8 -11.6h0m-15.9 -23h0m-2 13.4h0m34.2 4.9h0m2.3 -18.2h0m0.2 39.9h0m-28.1 -11.6h0m-31.9 -37.4h0m29.2 8.5h0m36.3 -8h0m-50 43.6h0m30.3 -11.6h0m-13.3 -30.4h0m7.9 45h0m10.7 -9h0m15.7 -38.6h0m-55.9 0.6h0m49.8 43.1h0m-55.7 -25.2h0m23.1 -14.4h0m-28.8 43.6h0m38.6 -33.2h0m-24.3 20.9h0m28.6 -3.4h0m-30.9 -22.2h0m50.1 2.5h0m-45.5 28.4h0m5.2 -20.8h0m41.1 0h0m-3.3 1.4h0m-29.4 27.8h0m-31.3 -10.7h0m48.5 -29h0m-17.5 29.2h0m36.1 -35.1h0m-58.8 33.5h0m-9.9 -4.8h0m39.5 -30.3h0m-33.4 45.9h0m50.4 -0.8h0m13.5 -40.7h0m-19.1 28.3h0m-41.2 4.1h0m10.9 4h0m15.2 7.8h0m23.3 -35.8h0m0.1 22h0m-57 -26.5h0m26.1 9.2h0m33.3 14.9h0m-48.8 -9.2h0m-9.4 20.5h0m37.7 -1.2h0m-21.5 -14.4h0m-16.9 -3.4h0m10.9 -5.7h0m9.2 -11.6h0m5 8.8h0m-24.3 15.5h0m63.3 1.1h0m3.8 -8.7h0m-29.9 4.7h0m-27.5 -22h0m53.2 0.9h0m-51.2 14.3h0m21.1 -10.4h0m-12.4 34.1h0m29.9 -10.3h0m-55.6 8.1h0m42.4 -2.9h0m-1.6 -28.6h0m-26.9 9.3h0m5.4 21.1h0m-11 -7.3h0m40.1 -8h0" stroke="#1010cc" stroke-width="2.1" stroke-linecap="round" fill="none"/>
<path d="M83.9 492.2h0m-14.2 -35.6h0m4.7 7.9h0m6.4 19.6h0m45.6 -22.7h0m-68.1 20.5h0m36.6 1.8h0m9.5 -18h0m-41.3 18.3h0m33.1 11.6h0m-35.8 -2.9h0m24.9 -40h0m-28.3 43.1h0m50.3 -32.2h0m-21.3 15.6h0m40.4 -25.9h0m-49.4 38.8h0m9.1 -7.5h0m25.4 -25.8h0m-24.3 35.9h0m16.4 -11.6h0m-45.2 -10.1h0m29.1 21.6h0m3.3 -41.7h0m-13.9 -2.9h0m-19.2 8.5h0m61 -11.2h0m-9.5 32.7h0m-38.9 13.6h0m22.8 -29.2h0m-25.9 0.2h0m45.5 -12.9h0m6 18.3h0m-6 0.1h0m-29.1 21.7h0m-14.3 -24.6h0m52 4h0m5 -12h0" stroke="#1e1eee" stroke-width="1.4" stroke-linecap="round" fill="none"/>
</g>
<rect x="53" y="500" width="74" height="52.5" fill="#01010a"/>
<g clip-path="url(#c26)" filter="url(#b15)">
<path d="M78 537.5h0m18.9 -13.3h0m6 -15.7h0m-10.6 -0.3h0m13.8 21.5h0m-19.7 -23.5h0m32.8 5.4h0m2.6 19.2h0m-13.2 -16.5h0m-2.6 7.5h0m-25.2 -1.6h0m24.7 17.5h0m-38.3 -36.5h0m-13.5 43h0m48.5 -31.5h0m-33 -11.9h0m42 19.3h0m-58.2 15.8h0m57.3 -29.1h0m14.5 30.7h0m-4.8 -36h0m6.6 1.7h0m-33.8 46.7h0m-10.7 -31.8h0m23.1 32.3h0m8.1 -38h0m-9.7 37.9h0m6.6 -46.3h0m-39.3 25.8h0m42.8 -17.6h0m-54.4 -7.3h0m17.6 0.9h0m-19.9 16.2h0m48.3 -3h0m-49.1 -2.8h0m30 29.6h0m0.6 -24.2h0m5 29.2h0m28 -33.7h0m-15.4 23.3h0m8.2 -33.8h0m-21.1 39.6h0m1 -44.6h0m-15 0.4h0m-8 11.3h0m17.7 -1.3h0m34.5 16.5h0m-23.5 -21.7h0m19.8 41.6h0m-7.4 3.9h0m-46.2 -28.3h0m25.4 -8.9h0m1.1 26.6h0m18 10.2h0m14.1 -0.2h0m-30.7 -50h0m-0.9 22.9h0m4 16.8h0m-20.7 7.6h0m18.4 -25.1h0m4.9 -1.4h0m-30.2 20.4h0m30.5 1.5h0m-30.4 -38.8h0m50.4 10.4h0m3.6 5.3h0m-36 -18.5h0m-27.6 1h0m57.8 21.7h0m10.1 8.1h0m-37.4 3.3h0m-10.2 14.9h0m-3.6 -21.1h0m47.8 -22.5h0m-29 16.5h0m26.8 5.5h0m-57.9 7.7h0m11.3 -18.3h0m37.6 26h0m5.8 -36.6h0m-17.8 42.8h0m17.9 -19.9h0m-55.5 -11.6h0m58.5 11.5h0m-24.4 18.4h0m-23.8 -8.5h0m-0.9 -24.6h0m16.8 19.7h0m-13.7 -12.5h0m-1.9 -11.6h0m47.9 -11.8h0m-54 37.4h0m12.6 -30.5h0m13.5 39.4h0m28.8 -30.7h0m-45.3 -11h0m-11 24.9h0m21.3 13.3h0m-26.6 -18.5h0m55.3 -15.1h0m-20.6 27h0m25.6 -11.7h0m-44.5 -24.3h0m14.2 25.9h0m15.2 9.6h0m-15 11.4h0m-21.8 -3.8h0m9.7 -34.9h0m-4.1 16.1h0m51.7 6.4h0m-35 -25.5h0m29.7 28.8h0m-2.2 -5.2h0m-4.9 8.6h0m-20.6 -1.1h0m33.3 -21.3h0m-62.3 23.2h0m41 -15h0m22.3 -1.2h0m-31 19.4h0m-25 -3.2h0m22.2 -4.9h0m13.7 -8.7h0m-44.9 -6.7h0m-5.8 32.5h0m30.2 -30.4h0m28.6 22h0m-41.3 -9.1h0m21.8 -30.7h0m14.7 6.9h0m6.9 2.6h0m2.9 -1.3h0m-38.6 -3.3h0m-27.1 39.7h0m20.3 -18h0m16.2 -10.1h0m26.5 32.4h0m-22.2 -23.7h0m-19.5 -21.2h0m35.7 34.6h0m-2.5 -36h0m9.9 10.8h0m-17.7 26.4h0m-39.4 -12h0m-0.8 -8h0m3.3 3.2h0m14.1 -21.3h0m31 16h0m-47.7 14.4h0m61.8 -13.3h0m-49.3 22.2h0m51.7 -16h0m-4.8 8.1h0m-15.4 -25.4h0m-14.2 26.3h0m20.2 -29.7h0m-56.3 -4.9h0m61 8.8h0m8.8 -11.2h0m-69.6 31.5h0m47.6 6.3h0m21 -12.7h0m-34.6 -11.5h0m34.7 -11.9h0m-55.2 46h0m28.2 -4.6h0m-22.5 -33.3h0m-16.7 -4h0m6.3 17.6h0m38.1 7h0m-17 6.3h0m32.9 -34.7h0m-50.2 2.3h0m-12.2 23.2h0m27.9 -9.1h0m14.9 0.3h0m16.7 -5.7h0m-35.6 10.6h0m43.6 -23.2h0m-24 19.1h0m19.3 -14h0m-25.2 2.8h0m6.7 24.5h0m-30.6 -27.2h0m54.8 -4.8h0m-22 31h0m-48.4 -20.6h0m61.9 -11.3h0m-47.4 48.9h0m5.1 -30.5h0m11.4 11.8h0m14.8 -1.7h0m-20.8 -26.3h0m26.6 18.4h0m-30.7 -5.3h0m-19.6 8.1h0m7 -13.1h0m12.3 32.9h0m2.8 5.1h0m22.5 -6.1h0m-2.5 -23.7h0m-18.7 6.8h0m-11.4 -25.4h0m26.7 32h0m20.8 -1.2h0m6.6 6.6h0m-54 -25.4h0m16.2 5h0m17.5 31.4h0m-19.2 -7.3h0m14.3 8.2h0m-12.4 -32.6h0m40.9 25.2h0m-13.8 -11.8h0m1.8 -25.8h0m-52.5 -0.4h0m-1 32.4h0m47.9 9.1h0m17 -38.3h0m-1.9 37.7h0m-5.8 -3h0m-9.4 -39.2h0m9.1 2.6h0m-40.8 3.7h0m32.3 2.9h0m0 16.7h0m-43.6 5.4h0m30.6 2.7h0m-37.9 -0.3h0m48.7 -29.8h0m9.7 43.5h0m-30.1 -7.9h0m6.9 -32.2h0m-27.9 22.8h0m6.8 -29.3h0m7.5 0.9h0m27.7 -4h0m-31.3 5.3h0m5.7 41.8h0m-6.8 -32.6h0m5.9 20.3h0m32.9 -7.5h0m6 23.5h0m-35.9 -51.2h0m23.9 36.7h0m-37.9 -5.4h0m2.7 -24.8h0m47.2 41.1h0m-65 -37h0m27.6 20.9h0m-10.9 -29.3h0m19.8 23.7h0m-8.2 -2.8h0m-2.9 24.7h0m-18.9 -34.4h0m25 -0.2h0m-8.1 8.2h0m-22.6 -3h0m72.8 -8.4h0m-25.2 8h0m-32.4 6.3h0m20.4 17.9h0m-30 -26h0m48.5 8.3h0m-23.1 -15h0m12.1 34.2h0m-5.6 -20.6h0m10.9 26.6h0m-11.6 -30.1h0m27.2 -12.7h0m-10.6 37.5h0" stroke="#0a0a92" stroke-width="2.9" stroke-linecap="round" fill="none" opacity="0.8"/>
<path d="M108.5 504.2h0m-11 3h0m-20.3 38.4h0m25.3 -19.2h0m-41.2 25.6h0m3.3 -41.5h0m54.1 20.2h0m-29.7 14.9h0m-0.1 -6h0m-32.2 9.2h0m37.5 -18.1h0m-37.9 -24.3h0m50.9 41.1h0m-28.1 -13.2h0m33.3 -18.7h0m-56.9 3.7h0m27.8 -1.4h0m31.6 31.3h0m12 -31.2h0m-24.8 16.3h0m-37.3 15.7h0m16 -9.1h0m32.8 -15.4h0m-36.8 6.6h0m22.2 -32h0m-41.1 18.7h0m5.9 31.9h0m38.8 -41.7h0m-28.5 -6.9h0m17.1 12.1h0m28.5 -5.1h0m6.1 -1.8h0m-59.7 30.6h0m54 -1.3h0m-28.6 15.4h0m3.1 -47.1h0m-18.5 -2.6h0m-5 22.1h0m11.6 3.9h0m28.3 20.6h0m-18.7 -7.8h0m-21.2 1.4h0m38.4 -0.9h0m-6.3 4.9h0m-8.3 -31.8h0m-6.9 27h0m-15.4 -30.6h0m-12 1.4h0m9.2 29h0m51.8 -34.6h0m4.9 30.9h0m-23 -14.9h0m-43 14.9h0m43.7 -37.1h0m22 39.5h0m-57.7 -26.7h0m35.2 -1.3h0m-21.8 5.9h0m19.3 19.9h0m-42.5 -17.4h0m8.9 2.3h0m58.2 -1.6h0m-63.1 5.1h0m19 20.5h0m12.1 -17.6h0m-28 -19.2h0m-6.7 28.9h0m16.2 6.1h0m7.5 -14.8h0m-16.4 -13.1h0m51.9 27.5h0m-38.6 4.9h0m47.2 -1.2h0m-26.7 -19.5h0m-26.4 -10.1h0m6.8 -5.2h0m26.7 32.9h0m-42.6 -18.8h0m15.9 -2h0m33.4 -5.1h0m1.3 15.1h0m-33.1 10.1h0m-11.3 -31.6h0m25.8 26.4h0m19.3 -32.4h0m-0.3 37.1h0m-3.4 -12.8h0m-45 -15.9h0m32.4 19.4h0m-8.3 6h0m-15.7 -18.6h0m28 -3.2h0m-4.4 -4.8h0m2.9 -8.2h0m-18.8 25.4h0m4.7 5.4h0m-21.9 -33.4h0m56.1 14.8h0m-65.5 -12.8h0m47.6 -4.2h0m12.3 22.6h0m-10.6 16.6h0m-20.3 3.9h0m0.7 -29h0m-9.9 29.7h0m42.4 0.3h0m-62.4 -28.4h0m67.3 1.9h0m-16.2 31.2h0m8.2 -38.9h0m-19.8 11.5h0m4.8 6.6h0m21.8 10h0m-6.8 -35.8h0m-52.1 2.1h0m-5.7 36.9h0m51.3 -4.3h0m-11.8 -10.6h0m-3.2 -6.9h0m-28 19.8h0m58.8 -26.6h0m-41.4 -14.5h0m-1.5 3.5h0m39.8 47.1h0m-20.6 -30.5h0m-4.8 16.8h0m-42.7 -26.1h0m28.8 0.8h0m-11.1 12h0m32.3 -23.6h0m-22.7 22.4h0m-25.2 14.7h0m62.2 -15.5h0m-59.5 -16.5h0m-5.6 21.5h0m24.2 -19.6h0m29.3 27h0m1.7 16.3h0m1.9 -27.7h0m-26.2 15.7h0m-3.1 -6h0m21 -10.1h0m-43.4 -12.7h0m47.2 26.4h0m-9.5 9.3h0m-11.7 1.4h0m-31.6 -14.9h0m43.6 -19.7h0m-29.2 -3.8h0m46.7 14.8h0m5.3 10.7h0m-37.4 -27.6h0m27.9 9.5h0m-15.1 0.6h0m-31.2 31h0m57.4 -34.9h0m-36.6 20.9h0m-5.4 -2.7h0m-23 5.9h0m12.4 -26.8h0m-4.3 20.8h0m61.1 10h0m-62.7 -17.1h0m-4.8 -15.5h0m22.2 3.7h0m-5.3 26.5h0m-6.3 8.9h0m-11.6 -19.3h0m48.4 9.1h0m-22.9 -14.9h0m-25.8 -6.7h0m2.2 12.5h0m56.3 2.3h0m-40.1 20.4h0m38 -34.5h0m9.9 23.4h0m-8.7 -36.9h0m10.2 36.9h0m-37.4 -36.7h0m-28.7 6.9h0m61.3 -4.1h0m7.3 40.8h0m-42.7 -13.6h0m32.6 -7.8h0m-52.3 26.7h0m4.4 -16.3h0m56.7 -10.3h0m-40.6 -13.3h0m-17.6 -2.3h0m-9.4 35.3h0m58.6 -30.2h0m6.2 21.9h0m-65.3 -3.2h0m56.1 -33.1h0m-24.9 8.8h0m-1.5 40.7h0m36.2 -31.1h0m-28.6 -5.4h0m-5.3 35.2h0m13.8 -18.3h0m19.6 2h0m-37.5 11.1h0m-27.7 -19.1h0m32.8 16.7h0m-7.5 4.7h0m-4.8 -9.9h0m-7.7 -6.6h0m-11 21.5h0m64.2 -40.1h0m-16.7 5h0m16.2 15.5h0m-61.9 -4.1h0m19.3 2h0" stroke="#1010cc" stroke-width="2.1" stroke-linecap="round" fill="none"/>
<path d="M72.7 547.2h0m27.7 4.5h0m-17.7 -31.6h0m22.1 -2.1h0m-44.4 32.8h0m14.8 -12.4h0m14.7 -19.4h0m-34.9 28.2h0m44.8 -12.7h0m26.7 12.3h0m-2.5 -21.2h0m-27.4 -0.6h0m-13.8 -9.6h0m-16.7 -11.5h0m0 20h0m45.8 -11.1h0m-7.5 39.4h0m-18.4 -15.1h0m9.7 0.8h0m-19 -33h0m0.4 33.2h0m28.6 13.8h0m-43 -42.8h0m17.7 -1.8h0m10.6 8.1h0m30.3 18.6h0m-51.9 10.9h0m-5.7 -23.9h0m16.6 -12.9h0m46.7 -4.8h0m-17.5 17.9h0m-43.3 28.4h0m41.2 -8.5h0m-25.3 1.8h0m2.2 -32.8h0m15.5 -1.2h0m-23.7 -5.2h0m24.8 28.6h0" stroke="#1e1eee" stroke-width="1.4" stroke-linecap="round" fill="none"/>
</g>
<rect x="129.3" y="445" width="73.2" height="52" fill="#040202"/>
<g clip-path="url(#c27)" filter="url(#b15)">
<path d="M188.6 485.1h0m-10.7 -23.5h0m21.8 -12.6h0m-25.9 30h0" stroke="#5a1010" stroke-width="1.6" stroke-linecap="round" fill="none" opacity="0.7"/>
<path d="M188.6 485.1h0m-10.7 -23.5h0m21.8 -12.6h0m-25.9 30h0" stroke="#7a2418" stroke-width="1" stroke-linecap="round" fill="none"/>
</g>
<rect x="129.3" y="500" width="73.2" height="52.5" fill="#040202"/>
<g clip-path="url(#c28)" filter="url(#b15)">
<path d="M162.7 508.8h0m-1.1 0.8h0m21 33.5h0m-19.2 -35.9h0m-19.6 7.3h0m30.3 -5h0m-22.8 14.8h0m9.5 -12.2h0m27.5 16.8h0m-43.7 -13.4h0m24.4 31.3h0m7.1 -44.4h0" stroke="#5a1010" stroke-width="1.6" stroke-linecap="round" fill="none" opacity="0.7"/>
<path d="M162.7 508.8h0m-1.1 0.8h0m21 33.5h0m-19.2 -35.9h0m-19.6 7.3h0m30.3 -5h0m-22.8 14.8h0m9.5 -12.2h0m27.5 16.8h0m-43.7 -13.4h0m24.4 31.3h0m7.1 -44.4h0" stroke="#7a2418" stroke-width="1" stroke-linecap="round" fill="none"/>
</g>
<rect x="205" y="445" width="73.8" height="52" fill="#01010a"/>
<g clip-path="url(#c29)" filter="url(#b15)">
<path d="M238.3 473h0m-17 18.9h0m10.9 -8.5h0m-5.7 -17.6h0m-3.7 -20.6h0m39.9 49.6h0m2.2 -18.8h0m-30.3 -6h0m-27.7 15.2h0m43.1 -0.7h0m1.4 -20.3h0m1.7 -1.6h0m15.3 21.4h0m-20.1 -28h0m8.7 24.9h0m-16.1 -11.9h0m14.6 0.6h0m-42.2 14.4h0m5.2 -19.4h0m37.9 -9.9h0m-24.2 32h0m4.3 -33h0m-2 -6.3h0m18.4 5.3h0m-17.4 -2.9h0m-18.4 42.3h0m25.4 0.6h0m0.6 -4.6h0m-12.4 -13.7h0m-3.4 20.1h0m-5.5 -12.4h0m-12.8 -11.3h0m50.8 5.6h0m-32 -28.2h0m49.3 36.3h0m-45.2 0.6h0m9.4 -1.3h0m19.1 -6.8h0m-18.2 -15.1h0m-28 8.2h0m51.1 -20h0m-33 24.9h0m-9.4 -23.4h0m41.8 8.7h0m-42.5 11.7h0m1.6 20.4h0m13.4 -31.7h0m29.2 15.5h0m-14 -19h0m5.5 -3.4h0m-0.7 -4.3h0m4.9 37.1h0m-31.4 -23.9h0m23.8 -8.9h0m-4.9 32.8h0m7.1 -20.7h0m15.7 7h0m-1.7 9.1h0m4.4 5.6h0m-12.9 -0.9h0m-20.7 5.9h0m9.6 -15.1h0m-17.7 -2.1h0m9.2 -16.9h0m25.3 19.3h0m-44.8 -18.6h0m52.5 21.2h0m-6.4 -6.3h0m-54.5 12.6h0m29 -27.2h0m15 10.1h0m-30 -24.6h0m39.8 21.3h0m-54.6 -16.8h0m31.4 23h0m-3.7 10.7h0m32.5 -8h0m-64.3 20h0m49.6 -25.8h0m-22.6 -18.1h0m30.2 30.8h0m-5.5 -26.1h0m-36.1 10h0m-14.5 -4.1h0m41.9 -16.9h0m-33.3 48.9h0m30.5 -12h0m13.7 12h0m-48 -11h0m2.7 -32.8h0m50.1 8.2h0m-23.9 -4.4h0m6.2 23.3h0m-10 -18.1h0m-4.2 19.1h0m11.7 4.5h0m-22.2 9.6h0m35.3 -21.7h0m-50.9 8.3h0m27.1 8h0m-4.7 -34.1h0m3.1 18.9h0m-2.4 10.3h0m-12.6 -31.6h0m6.4 19h0m30.7 -13.8h0m-17.5 -6.2h0m-25.8 28.3h0m61.5 14.9h0m-5.5 -6h0m-41.8 -0.2h0m39 4.5h0m2.5 -13.4h0m-19.8 0.9h0m-40.4 -28h0m30.2 45.2h0m-30.5 -17.5h0m14.1 16.7h0m8.2 -20.8h0m23.4 -24.2h0m-12.5 -2.4h0m-21.9 3.5h0m31.9 28h0m-35.1 -1.3h0m42.8 -2.8h0m-38.3 -0.6h0m38.8 3.6h0m-22.2 -27.8h0m-21 8.7h0m58.9 -12.8h0m-54.7 10h0m-2.2 1.3h0m57.6 12.6h0m-14.3 -15h0m14.1 -5.3h0m-64.1 3.9h0m0.8 -5.4h0m44.8 15.2h0m-50.2 23.8h0m25.7 -7.4h0m-18 -31.1h0m60.6 9.1h0m-6.3 0.6h0m0.8 10.6h0m-31.9 20.6h0m8.3 -22.9h0m19.8 -21.1h0m-13.5 16.1h0m2.7 20.6h0m-36.7 7.7h0m2.1 -40.9h0m37.7 46.9h0m17.6 -45.8h0m-20.6 0.2h0m6.2 -1.4h0m-47.6 17.5h0m9.3 10.5h0m-17.1 -25.7h0m25.1 22.8h0m-20.5 16.1h0m14.7 -20h0m20.7 1.2h0m18.1 15.8h0m-55.1 -29.2h0m60.9 21.8h0m-5.3 -8.8h0m-58.6 2.3h0m52 13.2h0m-42.5 -38.6h0m44.6 45.7h0m1.7 -23.8h0m-20.9 -18.1h0m-16.5 -2.1h0m3.2 3.8h0m40.8 36.2h0m-56.6 -43.8h0m29.8 19.7h0m2.6 20.1h0m-33.2 -38.5h0m26.5 16.6h0m-28.4 -14.3h0m-5.3 19.7h0m48.1 7.7h0m10 -14.1h0m13.9 -4.9h0m-37.5 32.9h0m11.4 0.5h0m-43.3 -19.3h0m36.7 14.4h0m8.5 -38.5h0m-17.2 49.3h0m-31 -31.9h0m11.6 30.9h0m24.6 -31h0m13.5 2.8h0m-16.7 14h0m-3.5 -13.7h0m-20.5 17.5h0m14.5 -8h0m-4.1 -9.2h0m-8 2.4h0m19.9 -25.4h0m-29.6 37.5h0m57.8 10.8h0m-40.6 -6.7h0m36 -23.9h0m-8.3 1.7h0m-25.6 20.7h0m6.2 -29.4h0m21.1 2.8h0m13.9 36.2h0m-28.2 -4.3h0m36.3 -41.9h0m-31.8 16.5h0m-34.6 20.1h0m26.4 -26.1h0m-15.8 29.4h0m22 -15.1h0m-12.5 -19h0m27.4 -0.8h0m12.6 34.1h0m-55.3 -38.9h0m23.8 31.5h0m22.8 -32.1h0m-3.4 30.1h0m4.2 -9.1h0m2.3 7.5h0m-49.4 -23.4h0m-3.7 31.6h0m23.1 -23.1h0m31.2 31.3h0m-24.8 -43.6h0m-13.3 9h0m7.1 19.1h0m-8.3 -28.8h0m-9.2 39.3h0m26 -25.8h0m-0.7 -11.7h0m36.3 0.4h0m-55.6 10.9h0m50 17.6h0m-6.4 -21.1h0m-30 21.6h0m30.2 -19.1h0m-10.5 -14.6h0m-49.9 48.3h0m24.6 -21.7h0m-25 -13.8h0m54.9 29.7h0m13.8 -30.9h0m-65.6 34.7h0m68.6 -35.5h0m-58.6 30.5h0m52.9 -22.8h0m-61.2 13.9h0m-3.4 -0.4h0m10.4 11.5h0m12.4 0.3h0m-13.8 -32.5h0m53 22.8h0m-53.2 -33.7h0m42.3 47.2h0m7.6 -6.5h0m-21.1 -18.8h0m3.4 -4.9h0m-7.5 -0.9h0m-3.1 8.3h0m20 2.7h0" stroke="#0a0a92" stroke-width="2.9" stroke-linecap="round" fill="none" opacity="0.8"/>
<path d="M220.1 451.8h0m35.6 28.2h0m-30.4 2.3h0m25.5 -36.2h0m-28.9 7.6h0m48.1 -7.4h0m-35 32.6h0m31.1 -21.3h0m-20.8 5.7h0m-24 21h0m-11.9 -6.4h0m45.8 14h0m15.3 -21.2h0m-2 -19.5h0m-25.6 39.6h0m-11.5 -11.9h0m15.6 -33.3h0m-30.9 37h0m29.6 -14.1h0m26.9 1.3h0m-11.8 16.3h0m2.1 -32.6h0m-3.6 11.7h0m-36.8 -7.9h0m-14.4 32h0m-1.7 2.2h0m14.7 -22.4h0m34.3 -5.8h0m-50 26.1h0m33.2 -11.4h0m10.4 -11.4h0m-37.5 4.7h0m57.5 -4.1h0m-29.6 10.7h0m-1.2 -26.9h0m21.1 23.8h0m-26.5 -16.5h0m17.6 -3.9h0m24.4 31.4h0m-63.3 5.5h0m20.1 -20.7h0m-1.7 10h0m5.6 14.3h0m30.3 0h0m-55.6 -35h0m28.9 5.7h0m35.1 -11.5h0m-54.4 10h0m37.6 25.6h0m4.8 -27.1h0m-30 9.2h0m29.9 0.3h0m-8.6 18.3h0m-23.9 -2.7h0m44.2 -34h0m-13.4 1.5h0m2.5 30.1h0m-21.8 -11.1h0m-13.8 20.3h0m42.9 -1.1h0m7.2 0.3h0m-51.7 -28.5h0m46.1 3.1h0m-36.6 -10.8h0m12.7 30h0m-26.1 -40.1h0m48.7 38.7h0m-63.3 -31.5h0m67.8 12.8h0m-68.9 25.4h0m8.8 -9.5h0m36.3 7.2h0m-18.6 -33.5h0m-17.1 16.5h0m20.2 -20h0m29.2 40.6h0m-52.2 -43.5h0m39.6 30.8h0m-26.2 14.8h0m51 -32h0m-2.3 28.5h0m-20.6 -16.3h0m-25.6 -15.3h0m20.8 33.2h0m-31.7 -48.2h0m24.6 18.4h0m-17.9 28.9h0m-8.7 -30.3h0m59.7 -7.6h0m-11.4 -1.5h0m-13.3 3.3h0m-32.7 -8.3h0m-3.1 0.1h0m21.3 18.6h0m38.4 -5.3h0m-35.5 30.9h0m-11.9 2.2h0m-11.8 -2.2h0m29.1 -38.1h0m-3.7 -0.6h0m-14.2 -4.5h0m-16.9 9.7h0m13 15.6h0m33.9 5.9h0m4.5 -25.7h0m-39.2 -3.6h0m9.5 15.4h0m-19.9 11.1h0m4.2 -17.3h0m36.4 -9.7h0m4 17.3h0m2 19h0m-10.3 -13.9h0m-31 -2.9h0m-10.3 21.4h0m37.5 -10.8h0m-36.8 -4.5h0m18 12.4h0m-6.4 -0.6h0m40.4 4.3h0m-35.1 -45.3h0m35.1 24.5h0m-11.9 -25.6h0m12.8 33h0m-39 -10.5h0m10.6 -6.4h0m38.7 6h0m-55.3 -0.3h0m-5.6 -17.8h0m46.7 -3.7h0m-2.7 32.9h0m-34.8 -15.5h0m3.9 31.3h0m41.4 -49.4h0m2.2 27h0m-57.9 -22.8h0m49.5 44.2h0m-31.9 -5.7h0m26.8 -11.6h0m-15.9 -23h0m-2 13.4h0m34.1 4.9h0m2.3 -18.2h0m0.2 39.9h0m-28 -11.6h0m-31.8 -37.4h0m29.1 8.5h0m36.2 -8h0m-49.9 43.6h0m30.3 -11.6h0m-13.3 -30.4h0m7.9 45h0m10.6 -9h0m15.7 -38.6h0m-55.7 0.6h0m49.6 43.1h0m-55.6 -25.2h0m23.1 -14.4h0m-28.8 43.6h0m38.6 -33.2h0m-24.3 20.9h0m28.6 -3.4h0m-30.8 -22.2h0m49.9 2.5h0m-45.3 28.4h0m5.1 -20.8h0m41.1 0h0m-3.4 1.4h0m-29.3 27.8h0m-31.2 -10.7h0m48.3 -29h0m-17.3 29.2h0m35.9 -35.1h0m-58.7 33.5h0m-9.8 -4.8h0m39.4 -30.3h0m-33.3 45.9h0m50.3 -0.8h0m13.4 -40.7h0m-19 28.3h0m-41.2 4.1h0m10.9 4h0m15.2 7.8h0m23.2 -35.8h0m0.2 22h0m-56.9 -26.5h0m26 9.2h0m33.2 14.9h0m-48.6 -9.2h0m-9.4 20.5h0m37.6 -1.2h0m-21.4 -14.4h0m-16.9 -3.4h0m10.9 -5.7h0m9.1 -11.6h0m5 8.8h0m-24.2 15.5h0m63.2 1.1h0m3.7 -8.7h0m-29.8 4.7h0m-27.4 -22h0m53 0.9h0m-51 14.3h0m21 -10.4h0m-12.4 34.1h0m29.8 -10.3h0m-55.4 8.1h0m42.3 -2.9h0m-1.7 -28.6h0m-26.7 9.3h0m5.4 21.1h0" stroke="#1010cc" stroke-width="2.1" stroke-linecap="round" fill="none"/>
<path d="M257.6 493h0m-11.5 3.5h0m-10.3 -4.3h0m-14.2 -35.6h0m4.8 7.9h0m6.3 19.6h0m45.5 -22.7h0m-67.9 20.5h0m36.5 1.8h0m9.5 -18h0m-41.2 18.3h0m33 11.6h0m-35.7 -2.9h0m24.8 -40h0m-28.2 43.1h0m50.2 -32.2h0m-21.3 15.6h0m40.3 -25.9h0m-49.3 38.8h0m9.1 -7.5h0m25.4 -25.8h0m-24.3 35.9h0m16.3 -11.6h0m-45 -10.1h0m29.1 21.6h0m3.2 -41.7h0m-13.9 -2.9h0m-19.1 8.5h0m60.8 -11.2h0m-9.5 32.7h0m-38.8 13.6h0m22.8 -29.2h0m-25.8 0.2h0m45.4 -12.9h0m5.9 18.3h0m-6 0.1h0m-29 21.7h0m-14.3 -24.6h0" stroke="#1e1eee" stroke-width="1.4" stroke-linecap="round" fill="none"/>
</g>
<g clip-path="url(#c30)" filter="url(#b1)">
<path d="M264.8 485.1h0m-10.8 -23.5h0m22 -12.6h0m-26.2 30h0" stroke="#6a30a8" stroke-width="0.9" stroke-linecap="round" fill="none"/>
</g>
<rect x="205" y="500" width="73.8" height="52.5" fill="#01010a"/>
<g clip-path="url(#c31)" filter="url(#b15)">
<path d="M229.9 537.5h0m18.9 -13.3h0m6 -15.7h0m-10.6 -0.3h0m13.8 21.5h0m-19.7 -23.5h0m32.8 5.4h0m2.5 19.2h0m-13.1 -16.5h0m-2.7 7.5h0m-25.1 -1.6h0m24.7 17.5h0m-38.2 -36.5h0m-13.5 43h0m48.4 -31.5h0m-33 -11.9h0m41.9 19.3h0m-58 15.8h0m57.1 -29.1h0m14.5 30.7h0m-4.7 -36h0m6.5 1.7h0m-33.7 46.7h0m-10.7 -31.8h0m23.1 32.3h0m8 -38h0m-9.7 37.9h0m6.7 -46.3h0m-39.2 25.8h0m42.7 -17.6h0m-54.3 -7.3h0m17.6 0.9h0m-19.9 16.2h0m48.2 -3h0m-49 -2.8h0m29.9 29.6h0m0.6 -24.2h0m5 29.2h0m27.9 -33.7h0m-15.3 23.3h0m8.2 -33.8h0m-21.1 39.6h0m0.9 -44.6h0m-14.9 0.4h0m-7.9 11.3h0m17.6 -1.3h0m34.4 16.5h0m-23.4 -21.7h0m19.7 41.6h0m-7.3 3.9h0m-46.1 -28.3h0m25.3 -8.9h0m1.1 26.6h0m18 10.2h0m14 -0.2h0m-30.6 -50h0m-0.9 22.9h0m3.9 16.8h0m-20.6 7.6h0m18.4 -25.1h0m4.9 -1.4h0m-30.1 20.4h0m30.3 1.5h0m-30.3 -38.8h0m50.3 10.4h0m3.6 5.3h0m-35.9 -18.5h0m-27.5 1h0m57.7 21.7h0m10 8.1h0m-37.3 3.3h0m-10.1 14.9h0m-3.7 -21.1h0m47.7 -22.5h0m-28.9 16.5h0m26.7 5.5h0m-57.7 7.7h0m11.3 -18.3h0m37.5 26h0m5.7 -36.6h0m-17.7 42.8h0m17.8 -19.9h0m-55.4 -11.6h0m58.4 11.5h0m-24.4 18.4h0m-23.6 -8.5h0m-1 -24.6h0m16.8 19.7h0m-13.7 -12.5h0m-1.8 -11.6h0m47.7 -11.8h0m-53.9 37.4h0m12.7 -30.5h0m13.4 39.4h0m28.7 -30.7h0m-45.1 -11h0m-11 24.9h0m21.2 13.3h0m-26.5 -18.5h0m55.2 -15.1h0m-20.6 27h0m25.5 -11.7h0m-44.4 -24.3h0m14.2 25.9h0m15.1 9.6h0m-14.9 11.4h0m-21.8 -3.8h0m9.8 -34.9h0m-4.1 16.1h0m51.5 6.4h0m-34.9 -25.5h0m29.7 28.8h0m-2.3 -5.2h0m-4.9 8.6h0m-20.5 -1.1h0m33.2 -21.3h0m-62.1 23.2h0m40.9 -15h0m22.2 -1.2h0m-30.9 19.4h0m-24.9 -3.2h0m22.1 -4.9h0m13.7 -8.7h0m-44.8 -6.7h0m-5.9 32.5h0m30.2 -30.4h0m28.6 22h0m-41.3 -9.1h0m21.8 -30.7h0m14.6 6.9h0m6.9 2.6h0m2.9 -1.3h0m-38.5 -3.3h0m-27 39.7h0m20.2 -18h0m16.2 -10.1h0m26.4 32.4h0m-22.1 -23.7h0m-19.5 -21.2h0m35.7 34.6h0m-2.6 -36h0m9.9 10.8h0m-17.6 26.4h0m-39.3 -12h0m-0.8 -8h0m3.2 3.2h0m14.1 -21.3h0m31 16h0m-47.6 14.4h0m61.7 -13.3h0m-49.3 22.2h0m51.6 -16h0m-4.8 8.1h0m-15.4 -25.4h0m-14.1 26.3h0m20.2 -29.7h0m-56.2 -4.9h0m60.9 8.8h0m8.7 -11.2h0m-69.4 31.5h0m47.5 6.3h0m20.9 -12.7h0m-34.5 -11.5h0m34.6 -11.9h0m-55 46h0m28.1 -4.6h0m-22.5 -33.3h0m-16.6 -4h0m6.2 17.6h0m38 7h0m-16.9 6.3h0m32.8 -34.7h0m-50 2.3h0m-12.2 23.2h0m27.8 -9.1h0m14.9 0.3h0m16.6 -5.7h0m-35.5 10.6h0m43.5 -23.2h0m-23.9 19.1h0m19.3 -14h0m-25.2 2.8h0m6.7 24.5h0m-30.6 -27.2h0m54.7 -4.8h0m-21.9 31h0m-48.3 -20.6h0m61.7 -11.3h0m-47.2 48.9h0m5 -30.5h0m11.4 11.8h0m14.8 -1.7h0m-20.7 -26.3h0m26.5 18.4h0m-30.7 -5.3h0m-19.5 8.1h0m7 -13.1h0m12.3 32.9h0m2.7 5.1h0m22.4 -6.1h0m-2.4 -23.7h0m-18.7 6.8h0m-11.4 -25.4h0m26.7 32h0m20.7 -1.2h0m6.7 6.6h0m-53.9 -25.4h0m16.1 5h0m17.4 31.4h0m-19.1 -7.3h0m14.3 8.2h0m-12.4 -32.6h0m40.8 25.2h0m-13.8 -11.8h0m1.8 -25.8h0m-52.3 -0.4h0m-1.1 32.4h0m47.8 9.1h0m17.1 -38.3h0m-1.9 37.7h0m-5.9 -3h0m-9.4 -39.2h0m9.2 2.6h0m-40.7 3.7h0m32.1 2.9h0m0.1 16.7h0m-43.5 5.4h0m30.5 2.7h0m-37.8 -0.3h0m48.5 -29.8h0m9.8 43.5h0m-30.1 -7.9h0m6.8 -32.2h0m-27.7 22.8h0m6.7 -29.3h0m7.5 0.9h0m27.6 -4h0m-31.1 5.3h0m5.6 41.8h0m-6.7 -32.6h0m5.8 20.3h0m32.9 -7.5h0m5.9 23.5h0m-35.8 -51.2h0m23.8 36.7h0m-37.7 -5.4h0m2.6 -24.8h0m47.1 41.1h0m-64.8 -37h0m27.5 20.9h0m-10.8 -29.3h0m19.7 23.7h0m-8.2 -2.8h0m-2.9 24.7h0m-18.8 -34.4h0m24.9 -0.2h0m-8 8.2h0m-22.6 -3h0m72.6 -8.4h0m-25.2 8h0m-32.3 6.3h0m20.4 17.9h0m-29.9 -26h0m48.4 8.3h0m-23.1 -15h0m12.1 34.2h0m-5.6 -20.6h0m10.8 26.6h0m-11.5 -30.1h0m27.1 -12.7h0m-10.6 37.5h0" stroke="#0a0a92" stroke-width="2.9" stroke-linecap="round" fill="none" opacity="0.8"/>
<path d="M260.4 504.2h0m-11 3h0m-20.3 38.4h0m25.2 -19.2h0m-41.1 25.6h0m3.4 -41.5h0m53.9 20.2h0m-29.6 14.9h0m-0.1 -6h0m-32.1 9.2h0m37.4 -18.1h0m-37.8 -24.3h0m50.8 41.1h0m-28.1 -13.2h0m33.3 -18.7h0m-56.8 3.7h0m27.7 -1.4h0m31.5 31.3h0m12 -31.2h0m-24.7 16.3h0m-37.2 15.7h0m15.9 -9.1h0m32.8 -15.4h0m-36.8 6.6h0m22.2 -32h0m-41.1 18.7h0m6 31.9h0m38.7 -41.7h0m-28.4 -6.9h0m17 12.1h0m28.4 -5.1h0m6.1 -1.8h0m-59.6 30.6h0m53.9 -1.3h0m-28.5 15.4h0m3.1 -47.1h0m-18.5 -2.6h0m-4.9 22.1h0m11.5 3.9h0m28.2 20.6h0m-18.6 -7.8h0m-21.2 1.4h0m38.3 -0.9h0m-6.2 4.9h0m-8.3 -31.8h0m-6.9 27h0m-15.4 -30.6h0m-11.9 1.4h0m9.2 29h0m51.7 -34.6h0m4.8 30.9h0m-22.9 -14.9h0m-43 14.9h0m43.6 -37.1h0m22 39.5h0m-57.5 -26.7h0m35 -1.3h0m-21.7 5.9h0m19.2 19.9h0m-42.4 -17.4h0m9 2.3h0m58 -1.6h0m-62.9 5.1h0m18.9 20.5h0m12.1 -17.6h0m-28 -19.2h0m-6.6 28.9h0m16.1 6.1h0m7.5 -14.8h0m-16.3 -13.1h0m51.7 27.5h0m-38.4 4.9h0m47 -1.2h0m-26.7 -19.5h0m-26.2 -10.1h0m6.7 -5.2h0m26.6 32.9h0m-42.5 -18.8h0m15.9 -2h0m33.3 -5.1h0m1.4 15.1h0m-33.1 10.1h0m-11.3 -31.6h0m25.8 26.4h0m19.2 -32.4h0m-0.2 37.1h0m-3.5 -12.8h0m-44.9 -15.9h0m32.4 19.4h0m-8.3 6h0m-15.7 -18.6h0m28 -3.2h0m-4.4 -4.8h0m2.8 -8.2h0m-18.7 25.4h0m4.7 5.4h0m-21.8 -33.4h0m55.9 14.8h0m-65.3 -12.8h0m47.5 -4.2h0m12.2 22.6h0m-10.6 16.6h0m-20.2 3.9h0m0.7 -29h0m-9.9 29.7h0m42.3 0.3h0m-62.2 -28.4h0m67.1 1.9h0m-16.1 31.2h0m8.1 -38.9h0m-19.7 11.5h0m4.8 6.6h0m21.8 10h0m-6.9 -35.8h0m-51.9 2.1h0m-5.7 36.9h0m51.1 -4.3h0m-11.7 -10.6h0m-3.2 -6.9h0m-28 19.8h0m58.7 -26.6h0m-41.3 -14.5h0m-1.5 3.5h0m39.7 47.1h0m-20.5 -30.5h0m-4.8 16.8h0m-42.6 -26.1h0m28.7 0.8h0m-11.1 12h0m32.3 -23.6h0m-22.7 22.4h0m-25.1 14.7h0m62 -15.5h0m-59.3 -16.5h0m-5.6 21.5h0m24.1 -19.6h0m29.2 27h0m1.8 16.3h0m1.8 -27.7h0m-26.1 15.7h0m-3 -6h0m20.8 -10.1h0m-43.3 -12.7h0m47.2 26.4h0m-9.5 9.3h0m-11.6 1.4h0m-31.6 -14.9h0m43.5 -19.7h0m-29.1 -3.8h0m46.6 14.8h0m5.2 10.7h0m-37.3 -27.6h0m27.8 9.5h0m-15 0.6h0m-31.1 31h0m57.2 -34.9h0m-36.5 20.9h0m-5.4 -2.7h0m-23 5.9h0m12.5 -26.8h0m-4.4 20.8h0m61 10h0m-62.5 -17.1h0m-4.8 -15.5h0m22.1 3.7h0m-5.3 26.5h0m-6.2 8.9h0m-11.6 -19.3h0m48.3 9.1h0m-22.8 -14.9h0m-25.8 -6.7h0m2.2 12.5h0m56.1 2.3h0m-39.9 20.4h0m37.8 -34.5h0m9.9 23.4h0m-8.7 -36.9h0m10.2 36.9h0m-37.3 -36.7h0m-28.6 6.9h0m61.1 -4.1h0m7.3 40.8h0m-42.6 -13.6h0m32.5 -7.8h0m-52.1 26.7h0m4.3 -16.3h0m56.6 -10.3h0m-40.5 -13.3h0m-17.5 -2.3h0m-9.4 35.3h0m58.5 -30.2h0m6.1 21.9h0m-65.1 -3.2h0m55.9 -33.1h0m-24.8 8.8h0m-1.5 40.7h0m36.1 -31.1h0m-28.5 -5.4h0m-5.3 35.2h0m13.8 -18.3h0m19.5 2h0m-37.3 11.1h0m-27.7 -19.1h0m32.7 16.7h0m-7.4 4.7h0m-4.8 -9.9h0m-7.8 -6.6h0m-10.9 21.5h0m64 -40.1h0m-16.6 5h0m16.2 15.5h0m-61.8 -4.1h0m19.2 2h0" stroke="#1010cc" stroke-width="2.1" stroke-linecap="round" fill="none"/>
<path d="M224.7 547.2h0m27.6 4.5h0m-17.7 -31.6h0m22.1 -2.1h0m-44.3 32.8h0m14.7 -12.4h0m14.7 -19.4h0m-34.8 28.2h0m44.7 -12.7h0m26.6 12.3h0m-2.5 -21.2h0m-27.4 -0.6h0m-13.7 -9.6h0m-16.7 -11.5h0m0.1 20h0m45.7 -11.1h0m-7.5 39.4h0m-18.4 -15.1h0m9.7 0.8h0m-18.9 -33h0m0.3 33.2h0m28.5 13.8h0m-42.8 -42.8h0m17.6 -1.8h0m10.6 8.1h0m30.2 18.6h0m-51.8 10.9h0m-5.6 -23.9h0m16.6 -12.9h0m46.5 -4.8h0m-17.4 17.9h0m-43.2 28.4h0m41.1 -8.5h0m-25.3 1.8h0m2.3 -32.8h0m15.4 -1.2h0m-23.7 -5.2h0m24.8 28.6h0" stroke="#1e1eee" stroke-width="1.4" stroke-linecap="round" fill="none"/>
</g>
<g clip-path="url(#c32)" filter="url(#b1)">
<path d="M238.6 508.8h0m-1 0.8h0m21.2 33.5h0m-19.4 -35.9h0m-19.8 7.3h0m30.6 -5h0m-23.1 14.8h0m9.7 -12.2h0m27.7 16.8h0m-44.1 -13.4h0m24.6 31.3h0m7.2 -44.4h0" stroke="#6a30a8" stroke-width="0.9" stroke-linecap="round" fill="none"/>
</g>
<rect x="287" y="445" width="73.5" height="52" fill="#01010a"/>
<g clip-path="url(#c33)" filter="url(#b15)">
<path d="M323.4 480.6h0m-22.9 -5.4h0m49.7 2.2h0m-62.3 -0.3h0m54.4 10.9h0m13.3 -40.7h0m-22.2 14.2h0m2.2 22.1h0m-28.3 -19.1h0m-12.9 31.5h0m36.9 -2.5h0m14.8 -40.2h0m-0.3 11.8h0m-16.7 -13h0m-27.5 5.9h0m47.9 5.5h0m6 6.5h0m-38 -10.2h0m3.3 30.7h0m-25.3 -0.3h0m44.3 -7.3h0m-28.1 -22.1h0m7.9 29.6h0m-17.2 -33.7h0m-10.3 34.3h0m41.2 -13.3h0m10.6 17.3h0m-19.4 -46.1h0m-2.4 14.7h0m-8.9 6.9h0m10.7 -1h0m-34.1 12.1h0m19.9 -6.5h0m-11.4 1.2h0m18 -23.7h0m14.3 19.7h0m19.3 -22.2h0m4.3 1h0m-4.5 34.5h0m-42.3 -37.8h0m44.5 34.1h0m-18.8 -34.8h0m-11.3 15h0m26.7 -1h0m-28.2 4.9h0m-22.4 -15.2h0m28.3 34.7h0m19.6 -17h0m-38.5 -9.7h0m44.7 2.6h0m-15.8 25.6h0m-6.7 -18.9h0m28.5 15.4h0m-56.6 -38h0m47 34.2h0m-24.5 -17h0m-5.1 10.9h0m-16.2 6.6h0m10.4 -1.5h0m35.8 -23.9h0m-27.8 0.9h0m2.1 30.8h0m-21 -0.2h0m37.5 -10.8h0m-29.6 6.1h0m-0.9 -21.2h0m39.3 18.8h0m12.1 16.8h0m-43.7 -4h0m8 -34.6h0m24 15.2h0m-21.7 18.5h0m-38.6 -16.4h0m45.2 18.8h0m26.6 -48h0m-62.2 21.7h0m-3.9 9.5h0m-4.9 -22.8h0m59.4 13.9h0m-56.7 21.5h0m0.6 -6.8h0m23.6 -28.3h0m-11 18.6h0m41 5.7h0m-51.1 7.3h0m43.3 -2.5h0m-11.8 -16.5h0m-38.3 -1.9h0m51.1 -12.8h0m-38.4 -4.4h0m15.3 12.6h0m5.3 6.5h0m38.6 -15h0m-57 20.6h0m6.9 -20.4h0m24.3 30.3h0m-38.8 -16.7h0m38.1 28.1h0m-7.8 -34.2h0m-2.5 7.7h0m27.1 -15.6h0m1.9 12.9h0m-41.3 21.7h0m22.6 -21.2h0m-21.7 22.4h0m-15 5h0m39.5 -42.3h0m-31.3 28.3h0m3.6 17.6h0m36.2 -15.9h0m-35.3 12.6h0m19.7 -0.3h0m-42.3 2.8h0m68.8 -5.2h0m-53.5 -28.6h0m13.4 -1.1h0m-9.7 -11.3h0m-12.3 35.6h0m34.9 -18.9h0m-9 -11.8h0m33.1 36.9h0m-1.4 5h0m-35 -30h0m8.9 21.1h0m22 -23.5h0m-26 19.2h0m-24.5 -24.6h0m44 28.2h0m-21.2 -31.5h0m25.8 5.7h0m-48.5 -8.5h0m3.3 8.8h0m20.7 29.6h0m-11.3 -39.1h0m19.2 20.3h0m-39.3 -21.2h0m43.9 10.4h0m-29.7 24.9h0m44.6 -29.9h0m-18.9 -5.8h0m-25 27.6h0m45.8 3.3h0m-31.9 1.2h0m1.3 -27.2h0m14.8 20.1h0m-45 -8.6h0m0.5 -17.8h0m9.8 5h0m43.3 -7.1h0m-53.8 35.7h0m19.9 -30.7h0m39.8 37.3h0m-31.3 -27h0m-0.1 -4.1h0m-9.5 35.2h0m-19.6 -9.9h0m15.2 -5.8h0m46.4 -17.8h0m-18.9 -6.2h0m-16.4 32.3h0m-23.4 -3.5h0m59.4 10.6h0m-42.6 0.4h0m50 -17.1h0m-16.7 -1.8h0m-7.8 -24.7h0m-31.1 45.1h0m-4.6 -28.3h0m1.8 -15.9h0m-11.1 -3h0m51.4 15.8h0m-38.2 -0.9h0m33.2 7.1h0m4.8 2h0m-10.6 -17.8h0m17.3 -2.3h0m1.8 40.8h0m-38.4 -15h0m-20.7 -2.7h0m61.3 6.1h0m-11.6 -19.7h0m19.8 15.7h0m-12.5 -22.2h0m-9.3 12.7h0m19.1 23.6h0m-53.4 -39.8h0m55.3 30.3h0m-47.5 -23.7h0m-6.9 36.5h0m6.5 2h0m41.5 -27.1h0m-17.1 14.1h0m-12.6 -17.5h0m9.6 27.4h0m17.5 -10.7h0m-32.8 -2.4h0m34.3 -2.7h0m-15.6 -22h0m-44.9 33.5h0m23.2 -29.3h0m16.6 -11.4h0m19.9 31.5h0m1.6 4.3h0m-14.4 -1.2h0m-7.5 -21.8h0m20.4 6.3h0m-32.7 4.8h0m-14.7 4.3h0m57.7 -7.5h0m-49.6 12.6h0m38 1.1h0m-32.8 -1.5h0m12.7 -29.4h0m-35.3 45.2h0m34.7 -19.8h0m30.4 1.3h0m-57.6 15.8h0m57.8 -12.7h0m-56.4 -13h0m7.3 -4.6h0m22 -17.5h0m-30.8 31.7h0m52.9 -10.1h0m4.5 9.6h0m-22.4 -0.9h0m-4.5 -23h0m28.2 12.2h0m-36.4 -16.4h0m-21.1 41.8h0m52.9 4.9h0m-37.7 -27.8h0m11.1 -15.7h0m24.9 32.3h0m-7.5 -36.2h0m-26.8 48.1h0m-8.2 -42.7h0m37.9 35.1h0m-2.2 -24.2h0m-22.8 -18.3h0m-34.1 18.7h0m8.3 2.5h0m8 7.6h0m9.5 -10.6h0m-24.2 24.6h0m11.6 1.7h0m-13.7 -25.3h0m63.6 -19.4h0m1.6 10.5h0m-31.9 22.8h0m-26.9 -4.2h0m8.2 12.2h0m22.4 -18h0m33.1 -3.1h0m-61.3 0.9h0m-1.5 24.7h0m8 -41.6h0m53.1 27.2h0m2.2 -29.9h0m-54.5 33.1h0m19.3 -15.9h0m-19.2 1.5h0m19.7 -2.6h0m19.5 25.6h0m15.6 5h0m-34.4 -47.8h0m-0.2 11.2h0m-16 4.6h0m26.6 -7.1h0m-12.2 41.2h0m-3.9 -48.3h0m-18.3 19.6h0m-13 16.5h0m25.8 -38.2h0m-7.2 14.5h0m42.7 11.4h0m-24.8 11.7h0m-36.9 -38.4h0m12.2 20h0m11.1 -16.5h0m14.6 45.2h0m-12.3 -9.2h0m-12.9 -5.9h0m24 0h0m-15.6 6.9h0m6.4 -5.3h0m5.2 -19.5h0m-19.6 8.2h0m55.5 23.2h0m-1.6 -4.9h0m4.4 7h0m-6.8 2.5h0m-52.4 -43.2h0m57.7 32.6h0m-4.5 -21.3h0m2.2 22.3h0m-23.6 -10.6h0m-32.6 5.4h0m-5.6 -19.6h0m46.1 -9.1h0m9 23h0m-9.2 17.7h0m0.3 -28.1h0m8 -7.1h0m-31.7 -2.7h0m16.4 24.8h0m24.7 6.6h0m-33 -27.1h0m20.9 31.1h0m-22.4 -23h0m-9.7 22.8h0m-18.6 -7.6h0m7.2 -34.8h0m37.4 42.1h0m5.9 5.3h0m-41.8 -15.7h0m44.7 -8.5h0m9 -13.4h0m-61 31h0m53.8 -36.4h0m-29.9 11.4h0m36.3 -8.3h0m-30.1 -10.7h0m-2.6 18.3h0m-12.4 -6.1h0m16.1 19.7h0m-7.3 -16h0m-17 27.2h0m13.1 -43.6h0m37.1 22.3h0m-45.1 11.3h0m30.9 -27.7h0m-49.6 44.2h0m66.5 -3.1h0m-13.2 -38.3h0m-50.7 10.6h0m10.4 15.9h0m46.5 10.1h0m-25.9 -1h0m25.1 -25h0m-52.1 24.8h0m16.1 -32.3h0m35.5 5.8h0m-35.3 5.8h0m37.2 25.5h0m-20 -3.7h0m28.5 6.1h0m-38.7 -44.3h0m-10.8 13.1h0m-9.7 -11.1h0m59.8 40.2h0m-66 -23.9h0m7.2 5.3h0m-10.5 18.6h0m41.1 -38.2h0m5.5 -1.1h0m-0.4 33.6h0m1.3 -14.8h0m-10.9 7.1h0m-24.4 1.7h0m-7.2 -5.6h0m44.6 14.8h0m9.6 -36h0m-44 27.5h0m28.7 -32.7h0m24.8 45.2h0m-35.8 -24.7h0m17 -12.9h0m-7.5 1h0m-37.8 26.8h0m8.8 9.9h0m3.5 -22.6h0m14 1.6h0m-20.1 -3.6h0m-8.5 -4.6h0m46 10.7h0m-5.1 -5.5h0m4.3 -14.3h0m-29.9 -4.3h0m4.9 3.2h0m22.2 33.4h0m26.6 -25.9h0m-51.5 12.9h0m45.3 -1.1h0m-36.6 13.9h0m4.1 -22h0m-3.1 28.1h0m38.2 -50.4h0m-31.6 8.3h0m-12.5 19.2h0m1.9 -13h0m-18.3 -11.4h0m27.1 5.3h0m20.5 26h0m-50.1 0.7h0m31.3 -22.4h0m8.4 29.1h0m-26.9 -4.6h0m50.9 2.9h0m-67.5 -16.4h0m52.7 4h0m16.9 -0.7h0m-11.6 -10.1h0m-30.4 20.6h0m9.7 -8.6h0m18.2 -8.8h0m-43.3 6.3h0m11.5 -2.9h0m-21.1 6.3h0m2.2 10.4h0m60.7 -6.6h0m-8.8 -7.7h0m-22.8 -7.4h0m15.9 10.7h0m-10.6 -21h0m4 29.8h0m-23.4 -21.3h0m37.6 11.6h0m-40.5 -3.4h0m-12.1 13.4h0m41.2 -2.7h0m-6.7 -4.8h0m-8.2 15.2h0m-24.9 3.3h0m8 -27.7h0m19.1 13h0m-31.6 -5.5h0m4.7 -0.9h0m51.7 22.8h0m-47.5 -30.9h0m31.1 2h0m23.8 -9.9h0m-9.1 21.5h0m-12.9 13.4h0m-26.8 0.7h0m-11.3 -14.6h0m36.2 13.5h0m-26.2 -13.3h0m12.9 -28.3h0m-18 26.1h0m23.3 -15.9h0m30.8 5.1h0m4.4 26.4h0m-55.8 -16.7h0m-2 -2.4h0m13 16.8h0m-3.1 -43.2h0m12.1 7.7h0m-1.1 -2.1h0m11.3 38.4h0m15.8 -20.3h0m11.4 -15.9h0m-51.7 25.3h0m27.7 2.6h0m-12.3 -27.4h0m8.2 14.7h0m6.7 -15.9h0m7.6 25.1h0m-9.4 -5.6h0m-28.4 -0.2h0m16.7 2.4h0m-26 -7.9h0m26.8 -15.1h0m-1 33.1h0m-20 -5.1h0m-2.9 9.3h0m20.2 -14.1h0m-7.8 -5.7h0m38.7 -1.7h0" stroke="#0a0a92" stroke-width="2.9" stroke-linecap="round" fill="none" opacity="0.8"/>
<path d="M302.7 491h0m4 -33.6h0m37.5 33.2h0m-4.9 -19.5h0m13.7 -12.7h0m-50.7 6.4h0m52 13.7h0m-16.3 -20.7h0m-48.9 22.6h0m48.3 -13.4h0m-13.7 16.9h0m-23.4 -29.9h0m49.2 42.3h0m-28.7 -43.2h0m23 23.5h0m-49 -24.3h0m63.5 -4.8h0m-24 22.6h0m25.8 3.6h0m-50.9 13.2h0m-1.5 -38.1h0m40.8 38.6h0m-6.6 7.3h0m-32 -22.7h0m22.9 -18.4h0m13.6 32.6h0m-8.3 -21.1h0m-37.6 -4h0m8.9 31h0m42.8 -0.4h0m-60.8 -21.9h0m23.6 12.4h0m41.5 -20.4h0m-26 21.3h0m-30.9 -20.4h0m-8.8 25.1h0m18.2 -42.1h0m20.5 43.5h0m4.9 -42.3h0m12.8 6.9h0m1.6 40.8h0m-20 -3.2h0m21.2 -5.2h0m-45.6 -4.4h0m-2.6 12.1h0m57.6 -15.8h0m-57.2 3.5h0m19.7 -2.6h0m-17.1 4h0m-6.2 -21.2h0m-1.4 5.6h0m57 -5h0m-23.9 3h0m6.2 20.2h0m7.3 -37.7h0m6.3 36.9h0m-58.8 -39.3h0m25.9 20.7h0m37.6 30.4h0m-15.5 -40.5h0m-6 -1h0m-42.2 -1.6h0m30.7 -1.5h0m25.5 33.5h0m-7.5 -5.4h0m-28.7 -34h0m-1.6 30.9h0m1.7 -25.6h0m11.7 43.2h0m21 -4.3h0m-9.9 -33.5h0m-19.2 14.6h0m24.1 12.7h0m-44.8 -26.9h0m-2.8 23.1h0m58.9 5.6h0m6.2 -30.3h0m-40.1 -5h0m5.1 20.2h0m20.2 14.5h0m-42.8 -29.6h0m5.1 7.6h0m18.2 -2h0m1.8 20.7h0m-26.4 -19h0m15.2 -0.2h0m-10.7 9.4h0m17.4 -5.5h0m-29.7 -2.4h0m48.4 7h0m18 22.3h0m-2.5 -2.4h0m5.1 -27.1h0m-5 5.2h0m-52 11h0m55.4 -29.2h0m-52.5 27.3h0m32 4.2h0m22.7 -30h0m-2.1 37.4h0m-65.8 -0.6h0m16.7 -20.9h0m20.3 -2h0m-16.4 1.6h0m8 -2.6h0m0.3 12.9h0m-19.2 11.5h0m-12.8 2.2h0m38.6 -12.5h0m2.6 -27.6h0m9.5 27.8h0m-42.7 17.1h0m21.9 -30.3h0m15.5 -16.9h0m-21.8 5.2h0m-6.4 -7.5h0m37.7 30.6h0m7.6 -27.6h0m-32.5 28.5h0m14.1 -10.7h0m19.1 28.3h0m-10.1 -43.7h0m-35.3 0.8h0m54.2 18.1h0m-72.1 -24.9h0m61 32.1h0m-1.2 -15.6h0m2.9 -4.3h0m-11.4 -10.4h0m-51.1 48.3h0m8.2 -11.9h0m50.5 -34.7h0m-21 34.6h0m7.2 10.6h0m-29.9 -0.1h0m19.9 -45.3h0m-20.6 1h0m43.1 15.8h0m13.9 12.5h0m-28.6 -2.4h0m-19.1 -28.3h0m-15.2 8.6h0m24.5 19.4h0m16.6 -22.7h0m-23.4 28.1h0m-22.8 12h0m40.6 -20.6h0m-9.3 22.2h0m14.4 -48.2h0m23 15.9h0m-29.8 -9.6h0m-29.7 38.1h0m-0.6 -17.5h0m58.3 -4.4h0m-42.4 -11.3h0m15.9 -1.6h0m-44.2 8.8h0m63.8 9.9h0m-62.6 16.5h0m10.2 -4.6h0m-2.7 -0.9h0m-1.1 -40h0m26.9 10.1h0m13.8 -6.8h0m-14.8 -2.5h0m18.2 28.5h0m-40.9 -6h0m14.6 13h0m-25.8 -30h0m31.8 17.5h0m23.7 4.8h0m-18.3 -6.1h0m17.3 -23.4h0m-34.7 20.8h0m35.7 -2.1h0m-27.1 2.8h0m-25.8 29.4h0m54.7 -34.1h0m10.2 4.5h0m4.5 21.3h0m-70.4 -19.9h0m12.7 18.5h0m7.8 -39.9h0m-8.1 -1.8h0m41.6 37.4h0m-39 11.6h0m6.2 -24.5h0m46.6 -14.6h0m0.3 -4.1h0m-69.9 -3.2h0m19.7 8.5h0m51.1 27.3h0m-23 -36.7h0m17.2 36.6h0m-14.1 -33.4h0m-39.5 23.2h0m39.3 10.9h0m-12.5 -18.6h0m1.5 26.2h0m-9 -45.1h0m28 45.2h0m-48.6 -42.5h0m18 4.8h0m-17.3 -7h0m43.1 44.7h0m-43.2 -21.3h0m2.8 -2h0m4.4 25.3h0m18.1 -11.6h0m-5.3 -33.5h0m-10.9 -2.6h0m28.1 8.9h0m15.3 27.8h0m-6.8 5.2h0m11.2 -42.1h0m-38.1 37.3h0m22 -2.6h0m-19.7 -18.6h0m34 29.2h0m-31.7 -18.1h0m32.6 -9.3h0m-5 -1.4h0m-41.6 -16.3h0m22.3 -1.2h0m-22.8 2.3h0m-12.4 24h0m38.1 2h0m19.4 -9.8h0m7 32.3h0m-12.7 -24.3h0m-8.5 2.9h0m-35.9 -9.7h0m-12.9 5.6h0m15.5 12.1h0m54.2 -33.9h0m-24.9 25.3h0m13.1 -16.7h0m-51 8.8h0m21.1 12h0m-1.3 12h0m14.4 -18.5h0m30 -2.1h0m-26.8 -2.5h0m-12.1 -0.8h0m18.9 25.8h0m19.2 -7.7h0m-58.5 -0.4h0m42.4 -38.2h0m-49 48.9h0m14.4 -22.7h0m39.6 -5.9h0m-3.9 -10.7h0m-55.6 -4.8h0m8.4 -0.6h0m47.6 4.7h0m0.9 28.5h0m-58 2.6h0m17.9 1h0m-3.5 6.9h0m-1.6 1.7h0m0.3 -17.3h0m20.8 -7h0m5.3 -17.2h0m5.9 39.7h0m23.6 -27.8h0m-54.8 -10.7h0m52.3 29.6h0m-43 -38.7h0m-15.4 42.3h0m40.7 -29.3h0m-40.4 -1.2h0m18.4 31.3h0m-26.2 -22.9h0m18.9 -10.7h0m4.5 -5.7h0m35.9 0.1h0m6 34.5h0m-21 -22.2h0m-3 7h0m-11.7 14.9h0m-5.8 -38.2h0m22.3 46.5h0m-25.7 -0.3h0m-13.8 -6.2h0m13.2 -15.6h0m-9.2 -14.6h0m39.7 33.5h0m-35.4 -17.8h0m45.3 -11.9h0m-22.5 26.4h0m-38.2 5.6h0m28.2 -41.7h0m37.6 42h0m-4.7 -7.8h0m6.2 -35.4h0m-5 9.9h0m-45.5 -2.1h0m-7 17.6h0m9.5 -22.1h0m10.4 10.9h0m5.3 0.4h0m2.7 20.7h0m-6 11h0m28.7 -1.9h0m-13.9 -22.6h0m9.7 14.3h0m-6 -24.2h0m-42.3 14h0m59.9 1.7h0m-47.7 -27.1h0m50.9 3.3h0m-17.8 43.3h0m-6.6 -24.7h0m13.6 6.4h0m-35.8 -8.4h0m14.4 4.7h0m12.4 2h0m-38.1 14.1h0m19.8 -9.5h0m-23.7 -4.4h0m43.4 15.4h0m-19 -36.4h0m-22 42.2h0m24 -50.2h0m-22 26.8h0m-1.1 -22.9h0m41.8 10h0m-19.1 -12.5h0m-5.4 36.7h0m-16 9.4h0m5.3 -41.4h0m39.2 14.4h0m-2.5 7h0m-49.5 7.4h0m42.8 -24.1h0m20.1 35.3h0m-69 1.4h0m33.5 -19.2h0m-17.6 -9.1h0m17.3 6h0m-5.1 4.3h0m28.9 -9.3h0m9.9 19.3h0m-6.3 -21.8h0m-52.6 19.4h0m0.5 -22.9h0m58.7 -10h0m-1 41.6h0m-39.6 -20.6h0m-22.9 17.2h0m51.5 -40h0m3.9 16.3h0m-35.1 28.7h0m39.4 -43.5h0m-63.2 4.6h0m14.4 -7.5h0m45.1 25.4h0m1.1 1.2h0m8.5 -25.7h0m-56.2 3.4h0m42.4 29.8h0m-3.8 0.5h0m-49 -36.6h0m41 4.5h0m6.1 6h0m-46.7 33.8h0m30.3 -33.7h0" stroke="#1010cc" stroke-width="2.1" stroke-linecap="round" fill="none"/>
<path d="M330.3 459.5h0m-4.1 -3.1h0m-5.1 6.1h0m9.6 7.6h0m17 -5.8h0m-15.5 23h0m-4.1 -11.3h0m-11.4 8.6h0m36.2 9.3h0m6 -28.4h0m-38.2 16.6h0m5.3 -2.9h0m-31.6 13.3h0m-5.2 -10.2h0m39.8 4.9h0m7.2 -22h0m-5.8 17h0m-40.3 -2.6h0m21 -15h0m22.9 24.3h0m-8.2 -21.6h0m6.6 2.6h0m24.9 -11h0m-42.3 -4.8h0m-10.6 -1.5h0m35.4 -0.8h0m-7.5 8.4h0m-16.9 5h0m40.2 15.2h0m-31.3 -27h0m-24 42.8h0m-10.3 -16.8h0m11.9 -33.1h0m38.8 21.3h0m9.9 3.8h0m-31.2 -8.4h0m12.1 24.4h0m-38 -3.7h0m7.3 6.2h0m18.6 -22.6h0m-0.1 21.5h0m-21.2 -38.9h0m53.6 14h0m-64.5 30.6h0m62.9 -29.5h0m5.8 23.1h0m-44.3 -11.9h0m44.6 -4.4h0m-9.3 21.5h0m-18.8 -41.3h0m14.7 36.2h0m-49.7 -42.3h0m62.7 15.8h0m-49.2 -3.4h0m2.2 -5.9h0m23 37h0m-6.9 -23.7h0m25.4 15.4h0m-31.3 3.8h0m37.5 -31.3h0m-0.9 27.4h0m-67.1 15.9h0m6.6 -43.9h0m1.1 5.7h0m52.9 19.3h0m-37.3 -24.6h0" stroke="#1e1eee" stroke-width="1.4" stroke-linecap="round" fill="none"/>
</g>
<rect x="287" y="500" width="73.5" height="52.5" fill="#01010a"/>
<g clip-path="url(#c34)" filter="url(#b15)">
<path d="M356.6 543.2h0m-61.1 1.8h0m43.2 -21.9h0m-37.6 -21.6h0m51.3 28.3h0m-20.7 -9.3h0m24.2 -16.1h0m-7.3 5.7h0m-20.7 16.7h0m11.6 6.5h0m-30.6 4.6h0m-13.2 -36.9h0m-1.4 38h0m17.4 -3.6h0m15 -19.3h0m12.8 33.5h0m19.5 0.2h0m-5.5 -45.8h0m-53.4 -2.6h0m26.8 11.2h0m-18.7 12h0m16.8 0.5h0m33 9.3h0m-57 -16.3h0m58.8 17.7h0m-28.6 -18.2h0m13.8 -7.4h0m13.1 38.4h0m-31.6 -9.1h0m12.1 2.9h0m15.3 -1.1h0m-61.8 -38.9h0m-1.1 46.8h0m47.5 -37.8h0m-17.4 -0.7h0m-29.8 36.8h0m3.3 -15.1h0m29.9 7.6h0m2.4 -36.5h0m-19.4 28.4h0m15.5 -6.6h0m27.7 -4.8h0m-43.5 27.4h0m51.3 -7.8h0m-41.5 -25.6h0m14 8.6h0m-4.4 -14.8h0m-12 24.6h0m26.4 6.2h0m13 -0.2h0m-28.8 4.9h0m24.3 -32.3h0m-23.6 11.7h0m-24 27.5h0m18.3 -35.3h0m7.2 -10.6h0m-2.3 40.9h0m17.3 -3.3h0m-35.5 -20.5h0m0.5 22.2h0m25.2 -38.7h0m-36.5 5.7h0m16 7.6h0m43.7 16.6h0m-29 -4.9h0m-18.4 -19.1h0m-6.2 -7.5h0m-7.2 47.6h0m22.3 -48.9h0m-11.4 36h0m-15.3 -2.2h0m68.7 -32.5h0m-52.3 5.2h0m46.1 21.3h0m-42.8 -3.6h0m38.4 0.8h0m-5.1 -4.5h0m-8.5 -17.4h0m-21.2 37.8h0m14.6 -28.1h0m18.9 -11.5h0m-44.5 16.3h0m-2.2 -17.8h0m50.9 0.5h0m-19 7.6h0m-2 31.8h0m-22.2 -9.1h0m32.8 13.7h0m-43.6 -11.4h0m23.3 -4.1h0m18.8 -6.7h0m4 10.5h0m-25.5 -7.5h0m-13.5 22.9h0m-9.5 -39.4h0m32.2 22.1h0m12.4 -0.9h0m-34.4 -23.2h0m33.5 17.9h0m-46.4 10.1h0m16.5 7.8h0m-16.5 -20.9h0m45.3 17.5h0m-11.4 0.5h0m10.5 -32.6h0m-48.5 40.6h0m15 -0.7h0m16.2 -3.8h0m19.1 -6.6h0m10.4 -32.6h0m-5.7 41.9h0m-51.7 -30.2h0m8 24.6h0m35.8 -18.1h0m15.3 13.9h0m-29.4 -34.1h0m38 21.9h0m-44 22.4h0m-3.8 -26h0m1.2 -15.2h0m5.2 24.9h0m-11.9 -17.1h0m-11.6 -2.7h0m42.4 2h0m3.3 33.2h0m5.1 -23h0m8.6 22.9h0m-12.9 -14.5h0m-52.6 -24.8h0m27.8 5.7h0m26.2 30.8h0m0.1 3.8h0m-24.3 -25.5h0m-30.9 5.2h0m10 -26.6h0m52.7 11.1h0m-57.9 2.6h0m57.9 -6.4h0m-47.9 -1.2h0m36.8 37.1h0m2.5 -14.3h0m-19.8 -12.1h0m34.8 12.4h0m-46.7 9.6h0m50.7 -9.5h0m-32.2 -6.1h0m26 -18h0m-26 34.6h0m-2.2 -23.1h0m-32.6 3.8h0m62.5 16.3h0m-34.8 -31.3h0m4.8 -3.5h0m9.9 2.3h0m3.8 6h0m8.7 39.4h0m-44.9 -35.6h0m14.9 25.1h0m31.6 -8.3h0m-21.4 -32.5h0m-40.6 11h0m45.5 7.1h0m24.5 -3h0m-50 -14.2h0m-13.5 26.8h0m60.7 4.5h0m-55.5 13.8h0m16.6 -29.6h0m4.5 -12.4h0m20.2 4h0m8.5 36.3h0m-54.6 -15.7h0m57.8 -5h0m-7.2 26.1h0m1.4 -34h0m-16.8 -10.9h0m-13.9 4h0m-22.2 24.5h0m3.3 -9.1h0m39.6 -13h0m-16.9 23.1h0m-25.6 -6h0m57.6 -7.3h0m-7.9 4.2h0m-8.6 -16h0m-37.1 34.9h0m-10.8 -12.9h0m33.2 1.7h0m20.5 19.5h0m6.7 -15.3h0m-31.9 -1.6h0m16.3 -16.1h0m1.8 21.8h0m22.2 -6.6h0m-52.3 -22.9h0m-2.9 -10.2h0m53.3 21.1h0m-42.2 26.9h0m23.7 -34.3h0m-12 -2.4h0m3.4 12h0m-6.7 19.4h0m-20.1 -39.6h0m-7.9 19.1h0m41.7 -19.6h0m6.7 20.9h0m15.1 -18.3h0m-47.5 29.7h0m-2.7 -22.5h0m0.7 -9h0m41.7 10.8h0m-26.9 0.7h0m-29.1 14.3h0m54.6 16.6h0m-30.3 -10h0m25.2 11.6h0m-19.2 -37.3h0m10.1 31.7h0m-41.1 -18.4h0m43.5 -2.3h0m4.9 0.1h0m13.2 -10.5h0m-41.4 3.8h0m36 1.8h0m-17.3 -14.6h0m-15.6 46.7h0m10.4 -21.1h0m-28.3 -18.4h0m9 31.1h0m35 7.2h0m-2.2 -3.4h0m3.5 -21.7h0m-25.2 24.5h0m2.8 -45.7h0m-28.3 46.7h0m18.7 -15.5h0m-22.9 -27.1h0m70.5 38.7h0m-9.6 -19.2h0m-56.7 -11h0m27.4 -3.7h0m32.1 -5h0m4.4 12.8h0m-57.5 11.6h0m59.9 -0.3h0m-47.7 8.5h0m9.7 -6.2h0m-0.9 -7.5h0m-13 2.8h0m40.3 -15.7h0m-23.1 21.2h0m-19.2 9.8h0m25.6 5.3h0m9.8 0.2h0m4.1 -3.4h0m-22.4 1.3h0m7.6 -40h0m-14.2 19.5h0m-25.9 13.1h0m6.7 -20.1h0m63.2 -11.1h0m-3 22.6h0m-47.3 8.2h0m18.5 -26.3h0m-17.2 33.5h0m-8.7 -20.7h0m57.2 -22.9h0m-50.1 31.3h0m1.2 -22.6h0m11.5 -0.2h0m39.6 20.7h0m-38.1 -18.2h0m-31.4 -2.7h0m17.6 7.8h0m4.8 7.2h0m34.2 23.2h0m-26.6 -19.6h0m14.1 -6.9h0m-0.8 -15.3h0m-30 30.4h0m-2.4 -15.4h0m16.3 -1.8h0m29.8 -9.6h0m-30 17.5h0m-28.4 -20.5h0m68.6 -4.4h0m-23.2 11.9h0m-7.7 26.2h0m-0.2 -8.6h0m14.7 -30.5h0m-53.9 30.8h0m11.4 -14.3h0m-5.6 7.9h0m59 -6.1h0m-10.2 28h0m-4 -4.3h0m-44.2 -41.3h0m47.4 7.5h0m-48.8 -6.4h0m46.4 3.9h0m-5.6 26.8h0m-3 -22.6h0m-23.2 20h0m-1.2 -31.9h0m36 28h0m-4.2 12.7h0m-10.4 -24.3h0m0.1 31.8h0m10.1 -17.1h0m-4.9 -11.9h0m1.9 0.2h0m-41.2 24h0m20.2 -1.1h0m45.2 -38.8h0m-53.6 35.6h0m-0.8 -8.9h0m44.3 -30.5h0m-55.7 13.5h0m6.4 30.5h0m42.6 -0.8h0m-8.4 -39.4h0m-22.7 26.3h0m7 -11.2h0m19.3 16.9h0m-45.6 -15.6h0m10.1 15.8h0m31.9 -32.7h0m4.6 1.9h0m-36 20.6h0m-9.4 -0.3h0m-4.4 24.7h0m56.2 -32.9h0m-11 -13h0m20.3 31h0m-10.8 5.8h0m-45.7 10.1h0m9.2 -29.7h0m30.7 20.9h0m-14.7 7.5h0m33.4 -22.2h0m-35.8 2.6h0m-18.3 -24.3h0m-1 43.6h0m55.4 -6.8h0m-60.1 -5h0m-6.6 -29.2h0m20.7 9.8h0m32.2 28.7h0m-0.4 4.4h0m-16.5 -19.2h0m-13.6 1.5h0m29.2 -23.9h0m16.8 -7.6h0m-42.2 5.7h0m14.2 23.5h0m-11.5 3.9h0m-23.6 -9.3h0m26.3 13.7h0m37.2 -10.2h0m-10.2 7.2h0m-27.5 -27.2h0m18.1 38.5h0m-4.9 -24.5h0m20.4 12.6h0m-18.4 7.4h0m23.6 -26.2h0m-24.1 27.1h0m24.4 -43.2h0m-14 46.3h0m-38.9 -20.3h0m-1.5 11.9h0m34.5 10.2h0m-9.5 -11.6h0m-13.9 -1.7h0m21.7 4.9h0m-17.7 -3.9h0m32.6 -9.5h0m-65.1 -8h0m41.9 -19.8h0m23.3 11.5h0m-24.2 3.3h0m14.7 21.1h0m-53.4 -11.5h0m68.8 -18.3h0m1.3 15.2h0m-52.6 -17.2h0m-15.5 31.6h0m-1.1 -10.1h0m15.3 -2.7h0m31.2 18.1h0m-14.1 0.2h0m-25.1 -21.9h0m25.6 5.2h0m16.8 -0.7h0m-49.4 -1.5h0m2.1 -11h0m57.5 11.4h0m-54 5h0m46.7 20.1h0m2.2 -38.1h0m-1 23.5h0m-14.4 -21.5h0m25.1 16.1h0m-41.9 17.6h0m29 -25.8h0m-0.1 21.9h0m-55.1 -12.7h0m60.9 -21.6h0m-39.2 35.4h0m-15.2 -15.4h0m25.7 -12.7h0m-5.7 -11.8h0m-0.5 18.8h0m-0.1 20.7h0m21.1 -22.8h0m-39.3 6.3h0m21.7 -0.4h0m39.2 -18.4h0m-47.6 0.3h0m-17.1 26.3h0m37.1 11.7h0m11.8 4.7h0m-33.7 -2.5h0m31.1 -32h0m-44.2 -0.5h0m59.1 22.1h0m-44 0.2h0m-17 -24.8h0m42.7 27.5h0m-6 3.7h0m30.1 -22h0m-39.8 -1.3h0m-7.1 2.4h0m-10.2 -5.3h0m10.5 16.7h0m41.6 9.8h0m-54.2 -21.5h0m30.3 0.5h0m-11.8 25.5h0m-18.8 -33.9h0m43.3 14.5h0m-15.6 17.7h0m-12.9 -29.6h0m7.8 -15.6h0m7.2 13.4h0m-20.3 13.9h0m18.3 -14.1h0m0.1 36.2h0m-27.7 -35h0m59.9 34.6h0m-22.3 -37.2h0m-47.3 9h0m32.9 -9.5h0m-34 16.3h0m71.8 -25h0m-64.3 0.5h0m39.1 6.8h0m-10.9 21.1h0m12.5 -28.3h0m-36.6 -1.6h0m16.8 -0.6h0m-29.3 29.2h0m18.8 -12.2h0m-8.5 22.6h0m29.1 -4.3h0m26.8 3.9h0m-34.3 -16.6h0m-22.3 1h0m36 -13.2h0m-19 15.7h0m-6.9 21.2h0m-5.2 -3.5h0" stroke="#0a0a92" stroke-width="2.9" stroke-linecap="round" fill="none" opacity="0.8"/>
<path d="M358.2 521.3h0m-69.7 11.1h0m2.5 -25.8h0m3 -6.1h0m63 42.7h0m-6 4.7h0m-14.3 -0.2h0m18.4 -27h0m0.5 -17.2h0m-39.4 26.7h0m-9.2 16.5h0m35.5 -28.6h0m-16.9 -3.7h0m-8.5 12.3h0m39.4 -26.1h0m-6.4 17.3h0m3 16.9h0m3.6 -0.1h0m-36.3 12.2h0m28.4 -0.7h0m-4.1 -28.4h0m-18 -4.1h0m-24.5 25.2h0m7.1 -31.5h0m49.3 15.1h0m-58.8 6.7h0m-1.7 -7.4h0m9.4 25.8h0m0.5 -36.6h0m-19.5 18.1h0m31.4 12.5h0m40.3 -12.3h0m-17.6 -14.2h0m-27.2 -10.6h0m24.9 30.3h0m-27.6 -5.8h0m22.9 4.2h0m-47.9 1h0m49.6 15.9h0m-29.9 -10h0m11.2 8.8h0m-15.7 2.5h0m40.9 -45.8h0m2.1 8.8h0m-36.9 15.8h0m-10.1 14.8h0m11.9 4.4h0m48.3 -48.5h0m-37.6 5.1h0m-26.2 31.2h0m39.1 -4.8h0m-35.3 -15.4h0m40.7 25.5h0m-8.3 -10.7h0m13.5 -18.9h0m-45.3 7.4h0m8.7 -7.5h0m7.1 -11.3h0m-4.8 6.8h0m2.4 17.7h0m-21.4 -12.9h0m10.4 3.5h0m5.5 29.7h0m25.9 -42.2h0m6.8 26.2h0m10.2 -12.8h0m-13.2 3.1h0m18.5 20.9h0m-55.6 3.2h0m37.4 -18h0m-38.9 14.6h0m11.2 -22.4h0m43.4 -10.3h0m-15.8 40.1h0m-32.5 -9.1h0m35.6 -36.3h0m-13.1 7.3h0m-37.5 -3.4h0m1 30.9h0m61.4 -25.9h0m-59.2 39.5h0m42.5 -9.7h0m11.4 -5h0m-14.8 -0.7h0m-7.6 -31.4h0m31.8 -2.2h0m-5.6 11.9h0m-19.4 -14.3h0m5.4 24.8h0m-4.2 20.7h0m25.3 -15h0m-51.7 0.4h0m34.1 -26.3h0m8.1 10h0m-32 22.5h0m0.2 -23.6h0m42.7 7.8h0m-36.3 -3.1h0m15.7 1.2h0m-12.6 -8.4h0m-33.9 36.4h0m56.3 -2.9h0m-6.6 -39.3h0m-33.3 30.1h0m17.9 -20.2h0m-12.2 9.7h0m19.3 11.8h0m-0.9 15h0m20.2 -2.1h0m4.7 -8.7h0m-67.4 -22.4h0m22.9 9h0m24.2 11.7h0m-49.3 -8.8h0m62 9.3h0m-60.8 -32.2h0m61.4 4.9h0m-23.1 37.7h0m-21.2 -30.7h0m50.7 -1.8h0m-0.5 30h0m-27.7 -1.4h0m8.1 -24h0m7.3 13.5h0m-19.8 -32.6h0m-12.5 -0.6h0m37.3 4.4h0m-44.6 -0.1h0m-0.6 14.2h0m31.6 15.5h0m5.3 7.2h0m-4.7 -4h0m-8.9 -2.7h0m20.9 8.9h0m-49.8 -13.9h0m39.8 16.8h0m-30.7 -38.4h0m50.6 12.2h0m-68.8 1.8h0m27.7 -18.8h0m-14.3 19.5h0m53.1 10.6h0m-64 8.6h0m60.3 -36.3h0m-32.8 34.7h0m-20.4 -17.4h0m38.3 -6h0m-8.7 18.5h0m15.2 11.4h0m-16.1 -10.4h0m-7.7 -23.3h0m-27.4 16h0m12.5 -14.6h0m14.3 3.5h0m-29.7 -10.6h0m39.6 32.3h0m30.2 1.3h0m-28.5 -38.3h0m-26.1 4.6h0m-13.6 29.4h0m50.2 -8.3h0m-33.6 -6.5h0m-2.4 -1.9h0m32.6 -5.5h0m-24.7 -8.9h0m3.4 40.4h0m-1.8 -37.1h0m-7.8 2.5h0m-18.3 4.7h0m70.8 -15.7h0m-59.1 18.5h0m9.8 -14.3h0m-10.2 39.4h0m5.8 -22.5h0m2.5 17.7h0m34.8 6.6h0m-29.2 -33.1h0m-18.3 31h0m-2.6 -19.8h0m2.9 -16.5h0m3.7 14.4h0m46 -14.3h0m-26.8 13.3h0m6.8 22.8h0m-21.4 -19.4h0m36.6 24.4h0m0.5 -33.5h0m3.3 24.1h0m-47.6 9.5h0m43.4 -3.3h0m18.3 -38.9h0m-46.7 3.8h0m-2.5 26.5h0m18.4 -37.4h0m-5.6 41.9h0m-21.3 -18.9h0m21.4 -24.9h0m22.2 22.5h0m2.3 -6h0m-4.9 18.5h0m-36.6 -5.3h0m27.4 -5.7h0m-8.6 -6.1h0m28.7 -5.4h0m-29.2 -4.9h0m34.3 7.4h0m-49.9 25.6h0m10.2 -31.1h0m1.5 -8h0m25 26.1h0m-19.7 8h0m13.1 -35.4h0m2.5 50.3h0m-42.5 -40h0m28.7 10.1h0m-19.8 11.6h0m35.5 7.8h0m-2.3 -14.6h0m-39.3 -24.8h0m20.9 45.5h0m17 -8.3h0m-39.2 13.2h0m45.8 -32.5h0m-7.3 -0.5h0m-7.5 5.4h0m29.3 -8.5h0m-56.6 23.3h0m13.1 9h0m-5.9 -21.4h0m39.5 16h0m-57.1 3.9h0m-5.4 -24.4h0m47.3 7.2h0m16.6 -25.2h0m-0.1 17.3h0m-4.9 23.1h0m-15.9 -22.1h0m-20.5 -8.3h0m20.6 10.6h0m-16.3 -13.2h0m18.9 40h0m1.1 -5.9h0m-17.5 -17.7h0m-20 6.1h0m56 -5.1h0m-9.2 -5.4h0m-31.1 -18.7h0m43.7 3.6h0m0.5 37.2h0m-11.1 -12h0m-0.4 -28h0m-53.8 11.7h0m33.1 -4.6h0m8.8 -6.7h0m-38 11h0m25.7 2.2h0m-5.4 -10.5h0m14.5 34.4h0m4.8 4h0m-10.3 -14.2h0m33.3 7.1h0m-12.7 7.2h0m-26.8 -36.2h0m-18.5 25.3h0m18.1 -15h0m18.1 4.1h0m-14.8 6.1h0m1.3 6h0m3.9 -33.2h0m-7.5 8.2h0m31.7 -9.7h0m-13.7 1.4h0m-21 6.7h0m40.7 17.4h0m-50.5 -9.5h0m10.2 12.1h0m22.7 -8.7h0m-16.1 29.5h0m-29 -40h0m60.5 41h0m-37.5 -24.9h0m24.2 6.2h0m8.2 -24.1h0m6.7 1.1h0m-47 14.5h0m-19.7 21.1h0m1.1 -40.8h0m50.6 26.4h0m-39.6 13.1h0m4.5 -1.5h0m52.5 7h0m-41.7 -31h0m-1.5 -13.1h0m13.2 38h0m-15.3 1.9h0m21.2 -13.3h0m-16.8 -27.4h0m-19.8 -3.7h0m41.9 38.1h0m9.5 -16h0m-8.2 26h0m-15.7 -31.5h0m29.2 23.7h0m-43.7 -2.2h0m14.3 -18h0m24.9 13.6h0m-48.6 -21h0m-7.2 37.5h0m42 -35.8h0m20.1 -1.8h0m-61 27.6h0m23.2 6.2h0m25 -18h0m-17.6 -27.9h0m31 -1.3h0m-44.4 49.3h0m16.3 -30.4h0m-7.6 15.7h0m-27.6 -18.5h0m47.9 9.9h0m17.5 -10.5h0m-8.5 -6.3h0m-10.2 33h0m9.7 4.2h0m-60.9 -23.8h0m25.9 6.1h0m11.9 -4.1h0m-22.5 -16h0m47.6 -3h0m-63 11.2h0m64.3 2.2h0m-61.4 13h0m37.1 -10.2h0m21 21.8h0m2.7 -16h0m-23.1 -5.2h0m5.8 -5.3h0m-7.6 28.3h0m-11.7 -7.2h0m31.5 2h0m11.2 -10.9h0m-4.4 1.6h0m-4.8 5h0m2.8 -23.5h0m-38.3 38.5h0m16.4 -38h0m5.2 7.8h0m-43.8 10.9h0m32.7 2.7h0m4.4 -18.9h0m15.9 30.3h0m1.4 -15.8h0m-39.9 -8.2h0m33.1 -9.2h0m-33.2 28.6h0m20.5 -39.6h0m-33.5 33.1h0m61.4 13.8h0m-47.6 -33.3h0m2 25.4h0m-6 -37.5h0m5.3 32.1h0m3.2 -11.3h0m9.3 -9.6h0m-4.3 16h0m-19 10.7h0m15 6.4h0m19.7 -28h0m-34.5 28.4h0m9.5 3.7h0m-12.2 -18.2h0" stroke="#1010cc" stroke-width="2.1" stroke-linecap="round" fill="none"/>
<path d="M299.1 549.4h0m5.7 -9.7h0m13.3 -1h0m23.5 -18h0m-6.9 16.3h0m-6.5 -14.2h0m7.8 -15.9h0m-35.2 4.6h0m9.2 31.6h0m-5.1 7.9h0m-14.7 1.1h0m47.9 -27.1h0m-40.5 12.2h0m-5.3 5h0m12.4 -4.9h0m26.7 -13.8h0m-10.2 -4.9h0m17.9 -10.3h0m-45.9 12.2h0m11 19.4h0m3.3 -2.2h0m36.2 -21.3h0m-15 -8.8h0m-10 28.2h0m-28.6 -10.5h0m62.3 23.2h0m-37.2 -37h0m-18.3 -3.1h0m-2.3 19.7h0m46.8 15.7h0m14.2 -2.4h0m-44 10.3h0m17.1 -48h0m-19.4 47.8h0m2.5 -25.4h0m-4.2 -21.6h0m19.3 29.4h0m4.7 -24.1h0m4.2 24.5h0m-20.6 -30.6h0m-9.2 7.2h0m12.7 22.6h0m-7.6 -5.8h0m-21.3 14.2h0m11.7 -34h0m56.7 33.3h0m-30.9 -30h0m31.2 -0.2h0m-48.6 1.2h0m-13.5 25.2h0m20.4 -26h0m41.8 10.5h0m-68 -17.7h0m40.1 0.5h0m3.2 -4.1h0m26.4 25.3h0m-61.8 -0.9h0m9.8 17.1h0m8.1 -26.9h0m-12.7 30.8h0m31 -38.8h0m-8.4 28.4h0m-2.4 -0.6h0m11.4 5.2h0m-46.1 6.1h0m-0.1 -3.3h0m48.6 4.6h0" stroke="#1e1eee" stroke-width="1.4" stroke-linecap="round" fill="none"/>
</g>
<rect x="363" y="445" width="73.8" height="52" fill="#040202"/>
<g clip-path="url(#c35)" filter="url(#b15)">
<path d="M384.2 459.1h0m49.6 3.8h0m-30.8 -11.1h0m-14.4 18.4h0m10.9 0.4h0" stroke="#5a1010" stroke-width="2.3" stroke-linecap="round" fill="none" opacity="0.7"/>
<path d="M384.2 459.1h0m49.6 3.8h0m-30.8 -11.1h0m-14.4 18.4h0m10.9 0.4h0" stroke="#b83030" stroke-width="1.4" stroke-linecap="round" fill="none"/>
</g>
<rect x="363" y="500" width="73.8" height="52.5" fill="#040202"/>
<g clip-path="url(#c36)" filter="url(#b15)">
<path d="M383 536.8h0m47.5 -12.4h0m-14.1 -17.2h0m15.1 21.3h0m-8.8 17.1h0m-0.6 -10.4h0m-52.4 -24.3h0m-3.3 -9.8h0m9.2 14.1h0m49.7 9.1h0m-28.8 19.3h0m1.1 -30.8h0m-21.2 3.1h0m16.7 -14.7h0m29.7 42.6h0m-16.2 -17.1h0m-32.9 21.3h0m-7.8 -11.6h0m47.1 -14.5h0m-19.9 15.4h0m21.6 -6.1h0m-23 -0.2h0m39.6 -6h0m-17.3 21.3h0m4.5 -8.5h0m-36.3 -13.2h0" stroke="#5a1010" stroke-width="2.3" stroke-linecap="round" fill="none" opacity="0.7"/>
<path d="M383 536.8h0m47.5 -12.4h0m-14.1 -17.2h0m15.1 21.3h0m-8.8 17.1h0m-0.6 -10.4h0m-52.4 -24.3h0m-3.3 -9.8h0m9.2 14.1h0m49.7 9.1h0m-28.8 19.3h0m1.1 -30.8h0m-21.2 3.1h0m16.7 -14.7h0m29.7 42.6h0m-16.2 -17.1h0m-32.9 21.3h0m-7.8 -11.6h0m47.1 -14.5h0m-19.9 15.4h0m21.6 -6.1h0m-23 -0.2h0m39.6 -6h0m-17.3 21.3h0m4.5 -8.5h0m-36.3 -13.2h0" stroke="#b83030" stroke-width="1.4" stroke-linecap="round" fill="none"/>
</g>
<rect x="439.3" y="445" width="73.2" height="52" fill="#01010a"/>
<g clip-path="url(#c37)" filter="url(#b15)">
<path d="M475.6 464.6h0m-22.8 27.4h0m49.4 -11.4h0m-62 -5.4h0m54.1 2.2h0m13.3 -0.3h0m-22.1 10.9h0m2.2 -40.7h0m-28.2 14.2h0m-12.8 22.1h0m36.7 -19.1h0m14.7 31.5h0m-0.2 -2.5h0m-16.6 -40.2h0m-27.5 11.8h0m47.8 -13h0m5.9 5.9h0m-37.8 5.5h0m3.3 6.5h0m-25.2 -10.2h0m44.1 30.7h0m-28 -0.3h0m7.9 -7.3h0m-17.1 -22.1h0m-10.3 29.6h0m41 -33.7h0m10.5 34.3h0m-19.3 -13.3h0m-2.4 17.3h0m-8.8 -46.1h0m10.6 14.7h0m-34 6.9h0m19.9 -1h0m-11.4 12.1h0m18 -6.5h0m14.2 1.2h0m19.2 -23.7h0m4.4 19.7h0m-4.5 -22.2h0m-42.1 1h0m44.3 34.5h0m-18.8 -37.8h0m-11.2 34.1h0m26.5 -34.8h0m-28 15h0m-22.3 -1h0m28.1 4.9h0m19.6 -15.2h0m-38.4 34.7h0m44.6 -17h0m-15.8 -9.7h0m-6.7 2.6h0m28.4 25.6h0m-56.3 -18.9h0m46.7 15.4h0m-24.3 -38h0m-5.1 34.2h0m-16.2 -17h0m10.4 10.9h0m35.6 6.6h0m-27.6 -1.5h0m2 -23.9h0m-20.9 0.9h0m37.3 30.8h0m-29.4 -0.2h0m-0.8 -10.8h0m39 6.1h0m12.1 -21.2h0m-43.5 18.8h0m8 16.8h0m23.9 -4h0m-21.7 -34.6h0m-38.4 15.2h0m45 18.5h0m26.5 -16.4h0m-62 18.8h0m-3.8 -48h0m-4.9 21.7h0m59.2 9.5h0m-56.5 -22.8h0m0.6 13.9h0m23.4 21.5h0m-10.9 -6.8h0m40.8 -28.3h0m-50.8 18.6h0m43 5.7h0m-11.7 7.3h0m-38.1 -2.5h0m50.9 -16.5h0m-38.3 -1.9h0m15.3 -12.8h0m5.2 -4.4h0m38.5 12.6h0m-56.7 6.5h0m6.8 -15h0m24.2 20.6h0m-38.7 -20.4h0m38 30.3h0m-7.8 -16.7h0m-2.4 28.1h0m27 -34.2h0m1.9 7.7h0m-41.2 -15.6h0m22.5 12.9h0m-21.6 21.7h0m-15 -21.2h0m39.4 22.4h0m-31.2 5h0m3.7 -42.3h0m36 28.3h0m-35.2 17.6h0m19.6 -15.9h0m-42.1 12.6h0m68.5 -0.3h0m-53.2 2.8h0m13.3 -5.2h0m-9.7 -28.6h0m-12.2 -1.1h0m34.8 -11.3h0m-9 35.6h0m32.9 -18.9h0m-1.4 -11.8h0m-34.8 36.9h0m8.8 5h0m22 -30h0m-25.9 21.1h0m-24.5 -23.5h0m43.8 19.2h0m-21 -24.6h0m25.7 28.2h0m-48.4 -31.5h0m3.3 5.7h0m20.7 -8.5h0m-11.3 8.8h0m19.1 29.6h0m-39.1 -39.1h0m43.7 20.3h0m-29.6 -21.2h0m44.4 10.4h0m-18.7 24.9h0m-25 -29.9h0m45.6 -5.8h0m-31.8 27.6h0m1.3 3.3h0m14.8 1.2h0m-44.8 -27.2h0m0.5 20.1h0m9.8 -8.6h0m43.1 -17.8h0m-53.7 5h0m20 -7.1h0m39.5 35.7h0m-31.2 -30.7h0m0 37.3h0m-9.5 -27h0m-19.5 -4.1h0m15.1 35.2h0m46.2 -9.9h0m-18.7 -5.8h0m-16.4 -17.8h0m-23.3 -6.2h0m59.2 32.3h0m-42.5 -3.5h0m49.8 10.6h0m-16.6 0.4h0m-7.8 -17.1h0m-30.9 -1.8h0m-4.7 -24.7h0m1.9 45.1h0m-11.1 -28.3h0m51.1 -15.9h0m-38 -3h0m33.1 15.8h0m4.8 -0.9h0m-10.6 7.1h0m17.3 2h0m1.7 -17.8h0m-38.2 -2.3h0m-20.6 40.8h0m61 -15h0m-11.5 -2.7h0m19.7 6.1h0m-12.4 -19.7h0m-9.3 15.7h0m19 -22.2h0m-53.1 12.7h0m55 23.6h0m-47.3 -39.8h0m-6.9 30.3h0m6.5 -23.7h0m41.3 36.5h0m-17 2h0m-12.6 -27.1h0m9.6 14.1h0m17.4 -17.5h0m-32.7 27.4h0m34.2 -10.7h0m-15.5 -2.4h0m-44.8 -2.7h0m23.2 -22h0m16.5 33.5h0m19.9 -29.3h0m1.5 -11.4h0m-14.3 31.5h0m-7.5 4.3h0m20.3 -1.2h0m-32.5 -21.8h0m-14.7 6.3h0m57.5 4.8h0m-49.4 4.3h0m37.9 -7.5h0m-32.7 12.6h0m12.7 1.1h0m-35.2 -1.5h0m34.5 -29.4h0m30.3 45.2h0m-57.3 -19.8h0m57.5 1.3h0m-56.1 15.8h0m7.2 -12.7h0m22 -13h0m-30.8 -4.6h0m52.7 -17.5h0m4.5 31.7h0m-22.3 -10.1h0m-4.5 9.6h0m28.1 -0.9h0m-36.2 -23h0m-21.1 12.2h0m52.7 -16.4h0m-37.6 41.8h0m11.2 4.9h0m24.8 -27.8h0m-7.5 -15.7h0m-26.7 32.3h0m-8.2 -36.2h0m37.7 48.1h0m-2.2 -42.7h0m-22.7 35.1h0m-33.9 -24.2h0m8.3 -18.3h0m7.9 18.7h0m9.4 2.5h0m-24.1 7.6h0m11.7 -10.6h0m-13.7 24.6h0m63.4 1.7h0m1.5 -25.3h0m-31.7 -19.4h0m-26.8 10.5h0m8.1 22.8h0m22.4 -4.2h0m32.9 12.2h0m-61 -18h0m-1.6 -3.1h0m8 0.9h0m53 24.7h0m2.1 -41.6h0m-54.3 27.2h0m19.3 -29.9h0m-19.1 33.1h0m19.5 -15.9h0m19.4 1.5h0m15.6 -2.6h0m-34.3 25.6h0m-0.2 5h0m-15.9 -47.8h0m26.5 11.2h0m-12.2 4.6h0m-3.8 -7.1h0m-18.2 41.2h0m-13 -48.3h0m25.7 19.6h0m-7.2 16.5h0m42.6 -38.2h0m-24.7 14.5h0m-36.8 11.4h0m12.1 11.7h0m11.1 -38.4h0m14.6 20h0m-12.4 -16.5h0m-12.8 45.2h0m23.9 -9.2h0m-15.5 -5.9h0m6.4 0h0m5.2 6.9h0m-19.5 -5.3h0m55.2 -19.5h0m-1.5 8.2h0m4.3 23.2h0m-6.8 -4.9h0m-52.1 7h0m57.4 2.5h0m-4.4 -43.2h0m2.1 32.6h0m-23.5 -21.3h0m-32.5 22.3h0m-5.5 -10.6h0m45.9 5.4h0m9 -19.6h0m-9.2 -9.1h0m0.3 23h0m8 17.7h0m-31.6 -28.1h0m16.3 -7.1h0m24.7 -2.7h0m-33 24.8h0m20.8 6.6h0m-22.3 -27.1h0m-9.6 31.1h0m-18.5 -23h0m7.1 22.8h0m37.3 -7.6h0m5.9 -34.8h0m-41.6 42.1h0m44.4 5.3h0m9 -15.7h0m-60.8 -8.5h0m53.6 -13.4h0m-29.7 31h0m36.1 -36.4h0m-30 11.4h0m-2.5 -8.3h0m-12.4 -10.7h0m16.1 18.3h0m-7.3 -6.1h0m-17 19.7h0m13.1 -16h0m37 27.2h0m-45 -43.6h0m30.8 22.3h0m-49.4 11.3h0m66.3 -27.7h0m-13.2 44.2h0m-50.5 -3.1h0m10.3 -38.3h0m46.3 10.6h0m-25.7 15.9h0m24.9 10.1h0m-51.9 -1h0m16.1 -25h0m35.3 24.8h0m-35.1 -32.3h0m37 5.8h0m-19.9 5.8h0m28.4 25.5h0m-38.6 -3.7h0m-10.6 6.1h0m-9.7 -44.3h0m59.5 13.1h0m-65.7 -11.1h0m7.2 40.2h0m-10.5 -23.9h0m40.9 5.3h0m5.5 18.6h0m-0.4 -38.2h0m1.3 -1.1h0m-10.9 33.6h0m-24.3 -14.8h0m-7.1 7.1h0m44.4 1.7h0m9.6 -5.6h0m-43.9 14.8h0m28.6 -36h0m24.7 27.5h0m-35.6 -32.7h0m16.9 45.2h0m-7.5 -24.7h0m-37.6 -12.9h0m8.8 1h0m3.4 26.8h0m13.9 9.9h0m-19.9 -22.6h0m-8.5 1.6h0m45.8 -3.6h0m-5.1 -4.6h0m4.3 10.7h0m-29.8 -5.5h0m4.9 -14.3h0m22.1 -4.3h0m26.5 3.2h0m-51.3 33.4h0m45.1 -25.9h0m-36.4 12.9h0m4 -1.1h0m-3.1 13.9h0m38.1 -22h0m-31.4 28.1h0m-12.5 -50.4h0m1.9 8.3h0m-18.2 19.2h0m27 -13h0m20.4 -11.4h0m-50 5.3h0m31.3 26h0m8.3 0.7h0m-26.8 -22.4h0m50.7 29.1h0m-67.2 -4.6h0m52.5 2.9h0m16.8 -16.4h0m-11.6 4h0m-30.2 -0.7h0m9.6 -10.1h0m18.2 20.6h0m-43.1 -8.6h0m11.4 -8.8h0m-21 6.3h0m2.2 -2.9h0m60.5 6.3h0m-8.8 10.4h0m-22.8 -6.6h0m15.8 -7.7h0m-10.5 -7.4h0m4 10.7h0m-23.3 -21h0m37.5 29.8h0m-40.4 -21.3h0m-12.1 11.6h0m41.1 -3.4h0m-6.6 13.4h0m-8.2 -2.7h0m-24.8 -4.8h0m7.9 15.2h0m19.1 3.3h0m-31.5 -27.7h0m4.7 13h0m51.5 -5.5h0m-47.3 -0.9h0m30.9 22.8h0m23.7 -30.9h0m-9.1 2h0m-12.8 -9.9h0m-26.7 21.5h0m-11.3 13.4h0m36.2 0.7h0m-26.1 -14.6h0m12.8 13.5h0m-18 -13.3h0m23.2 -28.3h0m30.7 26.1h0m4.4 -15.9h0m-55.5 5.1h0m-2 26.4h0m12.9 -16.7h0m-3.1 -2.4h0m12 16.8h0m-1.1 -43.2h0m11.3 7.7h0m15.8 -2.1h0m11.3 38.4h0m-51.5 -20.3h0m27.6 -15.9h0m-12.3 25.3h0m8.2 2.6h0m6.6 -27.4h0m7.7 14.7h0m-9.4 -15.9h0m-28.3 25.1h0m16.7 -5.6h0m-25.9 -0.2h0m26.6 2.4h0m-1 -7.9h0m-19.9 -15.1h0m-2.8 33.1h0m20.1 -5.1h0" stroke="#0a0a92" stroke-width="2.9" stroke-linecap="round" fill="none" opacity="0.8"/>
<path d="M502.5 447.3h0m-19.8 29h0m-8.1 4.3h0m-2.4 -33h0m-17.2 21.5h0m4 21.9h0m37.3 -33.6h0m-4.9 33.2h0m13.7 -19.5h0m-50.5 -12.7h0m51.7 6.4h0m-16.2 13.7h0m-48.7 -20.7h0m48.1 22.6h0m-13.6 -13.4h0m-23.4 16.9h0m49.1 -29.9h0m-28.6 42.3h0m22.8 -43.2h0m-48.7 23.5h0m63.3 -24.3h0m-24 -4.8h0m25.7 22.6h0m-50.7 3.6h0m-1.5 13.2h0m40.7 -38.1h0m-6.7 38.6h0m-31.8 7.3h0m22.8 -22.7h0m13.5 -18.4h0m-8.2 32.6h0m-37.5 -21.1h0m8.9 -4h0m42.7 31h0m-60.6 -0.4h0m23.5 -21.9h0m41.3 12.4h0m-25.9 -20.4h0m-30.8 21.3h0m-8.8 -20.4h0m18.2 25.1h0m20.5 -42.1h0m4.8 43.5h0m12.7 -42.3h0m1.7 6.9h0m-20 40.8h0m21.2 -3.2h0m-45.5 -5.2h0m-2.6 -4.4h0m57.4 12.1h0m-56.9 -15.8h0m19.6 3.5h0m-17.1 -2.6h0m-6.1 4h0m-1.4 -21.2h0m56.7 5.6h0m-23.8 -5h0m6.2 3h0m7.3 20.2h0m6.2 -37.7h0m-58.5 36.9h0m25.8 -39.3h0m37.4 20.7h0m-15.5 30.4h0m-5.9 -40.5h0m-42 -1h0m30.5 -1.6h0m25.4 -1.5h0m-7.4 33.5h0m-28.6 -5.4h0m-1.6 -34h0m1.7 30.9h0m11.7 -25.6h0m20.8 43.2h0m-9.8 -4.3h0m-19.1 -33.5h0m24 14.6h0m-44.6 12.7h0m-2.8 -26.9h0m58.6 23.1h0m6.2 5.6h0m-39.9 -30.3h0m5.1 -5h0m20.1 20.2h0m-42.7 14.5h0m5.2 -29.6h0m18 7.6h0m1.8 -2h0m-26.2 20.7h0m15.1 -19h0m-10.7 -0.2h0m17.4 9.4h0m-29.6 -5.5h0m48.2 -2.4h0m18 7h0m-2.6 22.3h0m5.1 -2.4h0m-4.9 -27.1h0m-51.8 5.2h0m55.1 11h0m-52.3 -29.2h0m31.9 27.3h0m22.6 4.2h0m-2.1 -30h0m-65.6 37.4h0m16.7 -0.6h0m20.2 -20.9h0m-16.3 -2h0m8 1.6h0m0.3 -2.6h0m-19.2 12.9h0m-12.7 11.5h0m38.4 2.2h0m2.6 -12.5h0m9.4 -27.6h0m-42.4 27.8h0m21.8 17.1h0m15.4 -30.3h0m-21.7 -16.9h0m-6.4 5.2h0m37.5 -7.5h0m7.6 30.6h0m-32.4 -27.6h0m14.1 28.5h0m19.1 -10.7h0m-10.2 28.3h0m-35.1 -43.7h0m54 0.8h0m-71.8 18.1h0m60.7 -24.9h0m-1.2 32.1h0m2.9 -15.6h0m-11.3 -4.3h0m-50.9 -10.4h0m8.1 48.3h0m50.3 -11.9h0m-20.9 -34.7h0m7.2 34.6h0m-29.8 10.6h0m19.9 -0.1h0m-20.6 -45.3h0m43 1h0m13.8 15.8h0m-28.4 12.5h0m-19.1 -2.4h0m-15.1 -28.3h0m24.4 8.6h0m16.5 19.4h0m-23.3 -22.7h0m-22.7 28.1h0m40.4 12h0m-9.3 -20.6h0m14.4 22.2h0m22.9 -48.2h0m-29.6 15.9h0m-29.6 -9.6h0m-0.7 38.1h0m58.1 -17.5h0m-42.2 -4.4h0m15.8 -11.3h0m-44 -1.6h0m63.5 8.8h0m-62.3 9.9h0m10.2 16.5h0m-2.8 -4.6h0m-1 -0.9h0m26.8 -40h0m13.7 10.1h0m-14.8 -6.8h0m18.2 -2.5h0m-40.8 28.5h0m14.6 -6h0m-25.7 13h0m31.7 -30h0m23.5 17.5h0m-18.2 4.8h0m17.3 -6.1h0m-34.6 -23.4h0m35.6 20.8h0m-27 -2.1h0m-25.7 2.8h0m54.5 29.4h0m10.2 -34.1h0m4.4 4.5h0m-70.1 21.3h0m12.6 -19.9h0m7.8 18.5h0m-8 -39.9h0m41.4 -1.8h0m-38.9 37.4h0m6.2 11.6h0m46.4 -24.5h0m0.3 -14.6h0m-69.6 -4.1h0m19.6 -3.2h0m50.9 8.5h0m-22.9 27.3h0m17.2 -36.7h0m-14.1 36.6h0m-39.3 -33.4h0m39.1 23.2h0m-12.5 10.9h0m1.6 -18.6h0m-9 26.2h0m27.9 -45.1h0m-48.4 45.2h0m17.9 -42.5h0m-17.3 4.8h0m43 -7h0m-43.1 44.7h0m2.8 -21.3h0m4.4 -2h0m18.1 25.3h0m-5.4 -11.6h0m-10.8 -33.5h0m28 -2.6h0m15.2 8.9h0m-6.8 27.8h0m11.2 5.2h0m-38 -42.1h0m22 37.3h0m-19.6 -2.6h0m33.9 -18.6h0m-31.7 29.2h0m32.5 -18.1h0m-4.9 -9.3h0m-41.5 -1.4h0m22.2 -16.3h0m-22.7 -1.2h0m-12.3 2.3h0m37.9 24h0m19.3 2h0m7 -9.8h0m-12.7 32.3h0m-8.4 -24.3h0m-35.7 2.9h0m-12.9 -9.7h0m15.5 5.6h0m53.9 12.1h0m-24.8 -33.9h0m13.1 25.3h0m-50.8 -16.7h0m21 8.8h0m-1.3 12h0m14.4 12h0m29.8 -18.5h0m-26.7 -2.1h0m-12 -2.5h0m18.8 -0.8h0m19.1 25.8h0m-58.3 -7.7h0m42.2 -0.4h0m-48.7 -38.2h0m14.3 48.9h0m39.5 -22.7h0m-3.9 -5.9h0m-55.4 -10.7h0m8.4 -4.8h0m47.4 -0.6h0m0.9 4.7h0m-57.8 28.5h0m17.8 2.6h0m-3.5 1h0m-1.6 6.9h0m0.3 1.7h0m20.7 -17.3h0m5.3 -7h0m5.9 -17.2h0m23.5 39.7h0m-54.6 -27.8h0m52.1 -10.7h0m-42.8 29.6h0m-15.3 -38.7h0m40.5 42.3h0m-40.2 -29.3h0m18.2 -1.2h0m-26 31.3h0m18.9 -22.9h0m4.4 -10.7h0m35.7 -5.7h0m6 0.1h0m-20.9 34.5h0m-3 -22.2h0m-11.6 7h0m-5.8 14.9h0m22.2 -38.2h0m-25.6 46.5h0m-13.7 -0.3h0m13.2 -6.2h0m-9.2 -15.6h0m39.5 -14.6h0m-35.2 33.5h0m45.1 -17.8h0m-22.5 -11.9h0m-38 26.4h0m28 5.6h0m37.5 -41.7h0m-4.7 42h0m6.2 -7.8h0m-5 -35.4h0m-45.3 9.9h0m-7 -2.1h0m9.6 17.6h0m10.2 -22.1h0m5.3 10.9h0m2.8 0.4h0m-6 20.7h0m28.6 11h0m-13.9 -1.9h0m9.7 -22.6h0m-6 14.3h0m-42.2 -24.2h0m59.7 14h0m-47.5 1.7h0m50.7 -27.1h0m-17.7 3.3h0m-6.6 43.3h0m13.5 -24.7h0m-35.6 6.4h0m14.4 -8.4h0m12.3 4.7h0m-37.9 2h0m19.6 14.1h0m-23.6 -9.5h0m43.2 -4.4h0m-18.9 15.4h0m-21.9 -36.4h0m24 42.2h0m-22 -50.2h0m-1 26.8h0m41.6 -22.9h0m-19 10h0m-5.4 -12.5h0m-15.9 36.7h0m5.2 9.4h0m39.1 -41.4h0m-2.5 14.4h0m-49.3 7h0m42.6 7.4h0m20.1 -24.1h0m-68.8 35.3h0m33.4 1.4h0m-17.5 -19.2h0m17.2 -9.1h0m-5.2 6h0m28.8 4.3h0m9.9 -9.3h0m-6.2 19.3h0m-52.4 -21.8h0m0.5 19.4h0m58.4 -22.9h0m-1 -10h0m-39.4 41.6h0m-22.8 -20.6h0m51.3 17.2h0m3.8 -40h0m-34.9 16.3h0m39.2 28.7h0m-62.9 -43.5h0m14.3 4.6h0m44.9 -7.5h0m1.1 25.4h0m8.5 1.2h0m-55.9 -25.7h0m42.2 3.4h0m-3.8 29.8h0" stroke="#1010cc" stroke-width="2.1" stroke-linecap="round" fill="none"/>
<path d="M491.9 493.5h0m-51.5 -47.4h0m6.3 4.6h0m8.5 0.8h0m47.6 37.5h0m-47.4 -26.4h0m27 -3.1h0m-4.1 -3.1h0m-5 6.1h0m9.6 7.6h0m16.8 -5.8h0m-15.4 23h0m-4 -11.3h0m-11.4 8.6h0m36 9.3h0m6 -28.4h0m-38 16.6h0m5.2 -2.9h0m-31.4 13.3h0m-5.2 -10.2h0m39.7 4.9h0m7.1 -22h0m-5.8 17h0m-40.1 -2.6h0m20.9 -15h0m22.8 24.3h0m-8.1 -21.6h0m6.5 2.6h0m24.8 -11h0m-42.1 -4.8h0m-10.6 -1.5h0m35.3 -0.8h0m-7.5 8.4h0m-16.8 5h0m40 15.2h0m-31.1 -27h0m-24 42.8h0m-10.2 -16.8h0m11.9 -33.1h0m38.6 21.3h0m9.9 3.8h0m-31.2 -8.4h0m12.1 24.4h0m-37.9 -3.7h0m7.4 6.2h0m18.5 -22.6h0m-0.1 21.5h0m-21.2 -38.9h0m53.5 14h0m-64.3 30.6h0m62.7 -29.5h0m5.7 23.1h0m-44.1 -11.9h0m44.4 -4.4h0m-9.2 21.5h0m-18.8 -41.3h0m14.6 36.2h0m-49.4 -42.3h0m62.4 15.8h0m-49 -3.4h0m2.2 -5.9h0m22.9 37h0m-6.9 -23.7h0m25.3 15.4h0m-31.1 3.8h0m37.3 -31.3h0" stroke="#1e1eee" stroke-width="1.4" stroke-linecap="round" fill="none"/>
</g>
<g clip-path="url(#c38)" filter="url(#b1)">
<path d="M460.3 459.1h0m49.2 3.8h0m-30.5 -11.1h0m-14.3 18.4h0m10.8 0.4h0" stroke="#c050c0" stroke-width="1.4" stroke-linecap="round" fill="none"/>
</g>
<rect x="439.3" y="500" width="73.2" height="52.5" fill="#01010a"/>
<g clip-path="url(#c39)" filter="url(#b15)">
<path d="M508.6 514.4h0m-60.8 -3.7h0m43 32.5h0m-37.4 1.8h0m51 -21.9h0m-20.5 -21.6h0m24 28.3h0m-7.3 -9.3h0m-20.6 -16.1h0m11.6 5.7h0m-30.5 16.7h0m-13.1 6.5h0m-1.5 4.6h0m17.4 -36.9h0m14.9 38h0m12.8 -3.6h0m19.4 -19.3h0m-5.5 33.5h0m-53.1 0.2h0m26.7 -45.8h0m-18.6 -2.6h0m16.7 11.2h0m32.8 12h0m-56.8 0.5h0m58.6 9.3h0m-28.5 -16.3h0m13.7 17.7h0m13.1 -18.2h0m-31.4 -7.4h0m12 38.4h0m15.2 -9.1h0m-61.6 2.9h0m-1 -1.1h0m47.3 -38.9h0m-17.4 46.8h0m-29.6 -37.8h0m3.3 -0.7h0m29.7 36.8h0m2.4 -15.1h0m-19.3 7.6h0m15.4 -36.5h0m27.6 28.4h0m-43.3 -6.6h0m51.1 -4.8h0m-41.3 27.4h0m13.9 -7.8h0m-4.4 -25.6h0m-11.9 8.6h0m26.3 -14.8h0m12.9 24.6h0m-28.6 6.2h0m24.2 -0.2h0m-23.6 4.9h0m-23.8 -32.3h0m18.1 11.7h0m7.2 27.5h0m-2.3 -35.3h0m17.3 -10.6h0m-35.4 40.9h0m0.5 -3.3h0m25.1 -20.5h0m-36.3 22.2h0m15.9 -38.7h0m43.5 5.7h0m-28.9 7.6h0m-18.2 16.6h0m-6.2 -4.9h0m-7.2 -19.1h0m22.1 -7.5h0m-11.3 47.6h0m-15.2 -48.9h0m68.4 36h0m-52.1 -2.2h0m45.9 -32.5h0m-42.6 5.2h0m38.3 21.3h0m-5.2 -3.6h0m-8.4 0.8h0m-21.1 -4.5h0m14.5 -17.4h0m18.8 37.8h0m-44.3 -28.1h0m-2.1 -11.5h0m50.6 16.3h0m-18.9 -17.8h0m-2 0.5h0m-22.1 7.6h0m32.7 31.8h0m-43.5 -9.1h0m23.3 13.7h0m18.7 -11.4h0m4 -4.1h0m-25.5 -6.7h0m-13.4 10.5h0m-9.4 -7.5h0m32.1 22.9h0m12.3 -39.4h0m-34.3 22.1h0m33.4 -0.9h0m-46.2 -23.2h0m16.4 17.9h0m-16.5 10.1h0m45.2 7.8h0m-11.4 -20.9h0m10.5 17.5h0m-48.3 0.5h0m15 -32.6h0m16 40.6h0m19.1 -0.7h0m10.3 -3.8h0m-5.7 -6.6h0m-51.4 -32.6h0m8 41.9h0m35.6 -30.2h0m15.2 24.6h0m-29.2 -18.1h0m37.8 13.9h0m-43.8 -34.1h0m-3.8 21.9h0m1.2 22.4h0m5.2 -26h0m-11.9 -15.2h0m-11.5 24.9h0m42.2 -17.1h0m3.3 -2.7h0m5 2h0m8.6 33.2h0m-12.9 -23h0m-52.3 22.9h0m27.7 -14.5h0m26 -24.8h0m0.2 5.7h0m-24.2 30.8h0m-30.8 3.8h0m9.9 -25.5h0m52.5 5.2h0m-57.6 -26.6h0m57.6 11.1h0m-47.6 2.6h0m36.6 -6.4h0m2.5 -1.2h0m-19.7 37.1h0m34.6 -14.3h0m-46.5 -12.1h0m50.5 12.4h0m-32 9.6h0m25.8 -9.5h0m-25.9 -6.1h0m-2.2 -18h0m-32.4 34.6h0m62.2 -23.1h0m-34.6 3.8h0m4.7 16.3h0m9.9 -31.3h0m3.8 -3.5h0m8.7 2.3h0m-44.8 6h0m14.8 39.4h0m31.5 -35.6h0m-21.3 25.1h0m-40.4 -8.3h0m45.3 -32.5h0m24.4 11h0m-49.7 7.1h0m-13.6 -3h0m60.5 -14.2h0m-55.2 26.8h0m16.4 4.5h0m4.5 13.8h0m20.2 -29.6h0m8.5 -12.4h0m-54.4 4h0m57.5 36.3h0m-7.1 -15.7h0m1.3 -5h0m-16.6 26.1h0m-14 -34h0m-22.1 -10.9h0m3.3 4h0m39.5 24.5h0m-16.8 -9.1h0m-25.5 -13h0m57.3 23.1h0m-7.9 -6h0m-8.5 -7.3h0m-37 4.2h0m-10.7 -16h0m33 34.9h0m20.5 -12.9h0m6.7 1.7h0m-31.8 19.5h0m16.2 -15.3h0m1.8 -1.6h0m22.1 -16.1h0m-52 21.8h0m-2.9 -6.6h0m53 -22.9h0m-42 -10.2h0m23.6 21.1h0m-12 26.9h0m3.4 -34.3h0m-6.7 -2.4h0m-19.9 12h0m-7.9 19.4h0m41.5 -39.6h0m6.7 19.1h0m15 -19.6h0m-47.3 20.9h0m-2.7 -18.3h0m0.7 29.7h0m41.6 -22.5h0m-26.8 -9h0m-29 10.8h0m54.4 0.7h0m-30.2 14.3h0m25.1 16.6h0m-19.2 -10h0m10.1 11.6h0m-40.9 -37.3h0m43.3 31.7h0m4.9 -18.4h0m13.1 -2.3h0m-41.3 0.1h0m35.9 -10.5h0m-17.2 3.8h0m-15.5 1.8h0m10.4 -14.6h0m-28.2 46.7h0m8.9 -21.1h0m34.8 -18.4h0m-2.1 31.1h0m3.5 7.2h0m-25.1 -3.4h0m2.8 -21.7h0m-28.2 24.5h0m18.6 -45.7h0m-22.8 46.7h0m70.2 -15.5h0m-9.6 -27.1h0m-56.4 38.7h0m27.3 -19.2h0m31.9 -11h0m4.5 -3.7h0m-57.3 -5h0m59.6 12.8h0m-47.5 11.6h0m9.7 -0.3h0m-0.9 8.5h0m-13 -6.2h0m40.1 -7.5h0m-23 2.8h0m-19.1 -15.7h0m25.5 21.2h0m9.8 9.8h0m4.1 5.3h0m-22.4 0.2h0m7.6 -3.4h0m-14.1 1.3h0m-25.8 -40h0m6.7 19.5h0m62.9 13.1h0m-3 -20.1h0m-47.1 -11.1h0m18.4 22.6h0m-17.1 8.2h0m-8.7 -26.3h0m57 33.5h0m-49.9 -20.7h0m1.2 -22.9h0m11.4 31.3h0m39.5 -22.6h0m-37.9 -0.2h0m-31.3 20.7h0m17.6 -18.2h0m4.7 -2.7h0m34.1 7.8h0m-26.5 7.2h0m14 23.2h0m-0.7 -19.6h0m-30 -6.9h0m-2.3 -15.3h0m16.1 30.4h0m29.8 -15.4h0m-29.9 -1.8h0m-28.3 -9.6h0m68.3 17.5h0m-23.1 -20.5h0m-7.7 -4.4h0m-0.2 11.9h0m14.7 26.2h0m-53.7 -8.6h0m11.4 -30.5h0m-5.6 30.8h0m58.7 -14.3h0m-10.1 7.9h0m-4 -6.1h0m-44.1 28h0m47.3 -4.3h0m-48.6 -41.3h0m46.2 7.5h0m-5.6 -6.4h0m-3 3.9h0m-23 26.8h0m-1.3 -22.6h0m35.9 20h0m-4.2 -31.9h0m-10.4 28h0m0.2 12.7h0m10 -24.3h0m-4.9 31.8h0m1.9 -17.1h0m-41 -11.9h0m20.1 0.2h0m45 24h0m-53.3 -1.1h0m-0.9 -38.8h0m44.1 35.6h0m-55.4 -8.9h0m6.3 -30.5h0m42.4 13.5h0m-8.3 30.5h0m-22.6 -0.8h0m6.9 -39.4h0m19.3 26.3h0m-45.5 -11.2h0m10.1 16.9h0m31.8 -15.6h0m4.6 15.8h0m-35.9 -32.7h0m-9.3 1.9h0m-4.4 20.6h0m56 -0.3h0m-11 24.7h0m20.2 -32.9h0m-10.7 -13h0m-45.5 31h0m9.1 5.8h0m30.6 10.1h0m-14.7 -29.7h0m33.3 20.9h0m-35.7 7.5h0m-18.2 -22.2h0m-1 2.6h0m55.2 -24.3h0m-59.8 43.6h0m-6.6 -6.8h0m20.6 -5h0m32.1 -29.2h0m-0.4 9.8h0m-16.4 28.7h0m-13.6 4.4h0m29.1 -19.2h0m16.7 1.5h0m-42 -23.9h0m14.1 -7.6h0m-11.5 5.7h0m-23.4 23.5h0m26.2 3.9h0m37 -9.3h0m-10.2 13.7h0m-27.3 -10.2h0m18 7.2h0m-4.9 -27.2h0m20.4 38.5h0m-18.4 -24.5h0m23.5 12.6h0m-24 7.4h0m24.3 -26.2h0m-14 27.1h0m-38.7 -43.2h0m-1.4 46.3h0m34.3 -20.3h0m-9.5 11.9h0m-13.8 10.2h0m21.6 -11.6h0m-17.6 -1.7h0m32.4 4.9h0m-64.8 -3.9h0m41.7 -9.5h0m23.2 -8h0m-24 -19.8h0m14.6 11.5h0m-53.2 3.3h0m68.5 21.1h0m1.3 -11.5h0m-52.4 -18.3h0m-15.4 15.2h0m-1.1 -17.2h0m15.3 31.6h0m30.9 -10.1h0m-13.9 -2.7h0m-25 18.1h0m25.5 0.2h0m16.7 -21.9h0m-49.2 5.2h0m2 -0.7h0m57.3 -1.5h0m-53.7 -11h0m46.4 11.4h0m2.3 5h0m-1.1 20.1h0m-14.3 -38.1h0m25 23.5h0m-41.8 -21.5h0m29 16.1h0m-0.1 17.6h0m-54.9 -25.8h0m60.7 21.9h0m-39.1 -12.7h0m-15.1 -21.6h0m25.5 35.4h0m-5.6 -15.4h0m-0.5 -12.7h0m-0.1 -11.8h0m21 18.8h0m-39.2 20.7h0m21.7 -22.8h0m39.1 6.3h0m-47.5 -0.4h0m-17 -18.4h0m37 0.3h0m11.7 26.3h0m-33.6 11.7h0m31 4.7h0m-44.1 -2.5h0m59 -32h0m-43.9 -0.5h0m-16.9 22.1h0m42.5 0.2h0m-5.9 -24.8h0m29.9 27.5h0m-39.6 3.7h0m-7.1 -22h0m-10.1 -1.3h0m10.4 2.4h0m41.4 -5.3h0m-53.9 16.7h0m30.2 9.8h0m-11.9 -21.5h0m-18.6 0.5h0m43 25.5h0m-15.4 -33.9h0m-12.9 14.5h0m7.8 17.7h0m7.2 -29.6h0m-20.2 -15.6h0m18.1 13.4h0m0.1 13.9h0m-27.5 -14.1h0m59.6 36.2h0m-22.2 -35h0m-47.1 34.6h0m32.8 -37.2h0m-33.9 9h0m71.5 -9.5h0m-64 16.3h0m38.9 -25h0m-10.8 0.5h0m12.4 6.8h0m-36.4 21.1h0m16.6 -28.3h0m-29.1 -1.6h0m18.7 -0.6h0m-8.5 29.2h0m29 -12.2h0m26.7 22.6h0m-34.1 -4.3h0m-22.3 3.9h0m35.9 -16.6h0m-19 1h0" stroke="#0a0a92" stroke-width="2.9" stroke-linecap="round" fill="none" opacity="0.8"/>
<path d="M456.6 507.8h0m21.9 10.7h0m29.6 14h0m-4.9 -24.5h0m7 6.7h0m-69.4 -8.7h0m2.5 15.3h0m3 11.1h0m62.7 -25.8h0m-6 -6.1h0m-14.2 42.7h0m18.3 4.7h0m0.6 -0.2h0m-39.4 -27h0m-9.1 -17.2h0m35.4 26.7h0m-16.8 16.5h0m-8.5 -28.6h0m39.3 -3.7h0m-6.5 12.3h0m3.1 -26.1h0m3.6 17.3h0m-36.3 16.9h0m28.4 -0.1h0m-4.1 12.2h0m-17.9 -0.7h0m-24.4 -28.4h0m7 -4.1h0m49.2 25.2h0m-58.7 -31.5h0m-1.6 15.1h0m9.3 6.7h0m0.5 -7.4h0m-19.4 25.8h0m31.2 -36.6h0m40.2 18.1h0m-17.6 12.5h0m-27 -12.3h0m24.8 -14.2h0m-27.5 -10.6h0m22.8 30.3h0m-47.7 -5.8h0m49.4 4.2h0m-29.8 1h0m11.2 15.9h0m-15.7 -10h0m40.8 8.8h0m2.1 2.5h0m-36.8 -45.8h0m-10 8.8h0m11.8 15.8h0m48.1 14.8h0m-37.4 4.4h0m-26.2 -48.5h0m39 5.1h0m-35.1 31.2h0m40.5 -4.8h0m-8.2 -15.4h0m13.3 25.5h0m-45.1 -10.7h0m8.7 -18.9h0m7 7.4h0m-4.7 -7.5h0m2.4 -11.3h0m-21.4 6.8h0m10.4 17.7h0m5.5 -12.9h0m25.8 3.5h0m6.8 29.7h0m10.1 -42.2h0m-13.1 26.2h0m18.5 -12.8h0m-55.4 3.1h0m37.2 20.9h0m-38.8 3.2h0m11.2 -18h0m43.3 14.6h0m-15.9 -22.4h0m-32.3 -10.3h0m35.5 40.1h0m-13.1 -9.1h0m-37.3 -36.3h0m1 7.3h0m61.1 -3.4h0m-59 30.9h0m42.4 -25.9h0m11.3 39.5h0m-14.7 -9.7h0m-7.5 -5h0m31.7 -0.7h0m-5.7 -31.4h0m-19.3 -2.2h0m5.4 11.9h0m-4.2 -14.3h0m25.2 24.8h0m-51.5 20.7h0m34 -15h0m8.1 0.4h0m-31.9 -26.3h0m0.2 10h0m42.5 22.5h0m-36.2 -23.6h0m15.7 7.8h0m-12.6 -3.1h0m-33.7 1.2h0m56.1 -8.4h0m-6.6 36.4h0m-33.2 -2.9h0m17.8 -39.3h0m-12.1 30.1h0m19.2 -20.2h0m-0.9 9.7h0m20.1 11.8h0m4.7 15h0m-67.1 -2.1h0m22.8 -8.7h0m24.1 -22.4h0m-49.1 9h0m61.8 11.7h0m-60.6 -8.8h0m61.2 9.3h0m-23.1 -32.2h0m-21.1 4.9h0m50.5 37.7h0m-0.5 -30.7h0m-27.6 -1.8h0m8.1 30h0m7.3 -1.4h0m-19.8 -24h0m-12.4 13.5h0m37.2 -32.6h0m-44.5 -0.6h0m-0.6 4.4h0m31.5 -0.1h0m5.2 14.2h0m-4.6 15.5h0m-8.9 7.2h0m20.8 -4h0m-49.5 -2.7h0m39.6 8.9h0m-30.6 -13.9h0m50.4 16.8h0m-68.5 -38.4h0m27.6 12.2h0m-14.3 1.8h0m52.9 -18.8h0m-63.7 19.5h0m60 10.6h0m-32.7 8.6h0m-20.2 -36.3h0m38.1 34.7h0m-8.6 -17.4h0m15.1 -6h0m-16 18.5h0m-7.8 11.4h0m-27.2 -10.4h0m12.4 -23.3h0m14.3 16h0m-29.6 -14.6h0m39.4 3.5h0m30.1 -10.6h0m-28.4 32.3h0m-26 1.3h0m-13.5 -38.3h0m50 4.6h0m-33.5 29.4h0m-2.4 -8.3h0m32.5 -6.5h0m-24.6 -1.9h0m3.4 -5.5h0m-1.9 -8.9h0m-7.7 40.4h0m-18.2 -37.1h0m70.5 2.5h0m-58.8 4.7h0m9.7 -15.7h0m-10.1 18.5h0m5.7 -14.3h0m2.5 39.4h0m34.6 -22.5h0m-29 17.7h0m-18.2 6.6h0m-2.6 -33.1h0m2.8 31h0m3.7 -19.8h0m45.9 -16.5h0m-26.7 14.4h0m6.8 -14.3h0m-21.4 13.3h0m36.5 22.8h0m0.5 -19.4h0m3.3 24.4h0m-47.4 -33.5h0m43.2 24.1h0m18.2 9.5h0m-46.5 -3.3h0m-2.5 -38.9h0m18.4 3.8h0m-5.6 26.5h0m-21.3 -37.4h0m21.4 41.9h0m22.1 -18.9h0m2.3 -24.9h0m-5 22.5h0m-36.3 -6h0m27.3 18.5h0m-8.7 -5.3h0m28.6 -5.7h0m-29 -6.1h0m34.1 -5.4h0m-49.7 -4.9h0m10.2 7.4h0m1.5 25.6h0m24.8 -31.1h0m-19.5 -8h0m13 26.1h0m2.5 8h0m-42.4 -35.4h0m28.7 50.3h0m-19.8 -40h0m35.4 10.1h0m-2.4 11.6h0m-39.1 7.8h0m20.9 -14.6h0m16.9 -24.8h0m-39.1 45.5h0m45.6 -8.3h0m-7.2 13.2h0m-7.5 -32.5h0m29.2 -0.5h0m-56.4 5.4h0m13.1 -8.5h0m-5.9 23.3h0m39.3 9h0m-56.8 -21.4h0m-5.4 16h0m47.1 3.9h0m16.5 -24.4h0m-0.1 7.2h0m-4.9 -25.2h0m-15.8 17.3h0m-20.4 23.1h0m20.5 -22.1h0m-16.2 -8.3h0m18.8 10.6h0m1.1 -13.2h0m-17.4 40h0m-20 -5.9h0m55.8 -17.7h0m-9.1 6.1h0m-31.1 -5.1h0m43.6 -5.4h0m0.5 -18.7h0m-11 3.6h0m-0.4 37.2h0m-53.7 -12h0m33.1 -28h0m8.7 11.7h0m-37.9 -4.6h0m25.7 -6.7h0m-5.5 11h0m14.5 2.2h0m4.8 -10.5h0m-10.2 34.4h0m33.1 4h0m-12.6 -14.2h0m-26.8 7.1h0m-18.4 7.2h0m18 -36.2h0m18.1 25.3h0m-14.7 -15h0m1.2 4.1h0m3.9 6.1h0m-7.5 6h0m31.7 -33.2h0m-13.7 8.2h0m-20.9 -9.7h0m40.5 1.4h0m-50.2 6.7h0m10.1 17.4h0m22.6 -9.5h0m-16.1 12.1h0m-28.8 -8.7h0m60.3 29.5h0m-37.4 -40h0m24.1 41h0m8.1 -24.9h0m6.7 6.2h0m-46.8 -24.1h0m-19.7 1.1h0m1.2 14.5h0m50.4 21.1h0m-39.5 -40.8h0m4.5 26.4h0m52.3 13.1h0m-41.5 -1.5h0m-1.5 7h0m13.1 -31h0m-15.2 -13.1h0m21.1 38h0m-16.7 1.9h0m-19.8 -13.3h0m41.7 -27.4h0m9.5 -3.7h0m-8.1 38.1h0m-15.7 -16h0m29.1 26h0m-43.5 -31.5h0m14.3 23.7h0m24.7 -2.2h0m-48.3 -18h0m-7.2 13.6h0m41.8 -21h0m20 37.5h0m-60.7 -35.8h0m23.1 -1.8h0m24.9 27.6h0m-17.6 6.2h0m30.9 -18h0m-44.2 -27.9h0m16.3 -1.3h0m-7.6 49.3h0m-27.6 -30.4h0m47.8 15.7h0m17.4 -18.5h0m-8.4 9.9h0m-10.3 -10.5h0m9.7 -6.3h0m-60.6 33h0m25.8 4.2h0m11.9 -23.8h0m-22.5 6.1h0m47.5 -4.1h0m-62.8 -16h0m64 -3h0m-61.1 11.2h0m37 2.2h0m20.8 13h0m2.7 -10.2h0m-23 21.8h0m5.8 -16h0m-7.6 -5.2h0m-11.6 -5.3h0m31.4 28.3h0m11.1 -7.2h0m-4.4 2h0m-4.7 -10.9h0m2.7 1.6h0m-38.1 5h0m16.3 -23.5h0m5.2 38.5h0m-43.6 -38h0m32.6 7.8h0m4.4 10.9h0m15.7 2.7h0m1.4 -18.9h0m-39.7 30.3h0m33 -15.8h0m-33.1 -8.2h0m20.5 -9.2h0m-33.4 28.6h0m61.2 -39.6h0m-47.5 33.1h0m2 13.8h0m-6 -33.3h0m5.3 25.4h0m3.2 -37.5h0m9.3 32.1h0m-4.4 -11.3h0" stroke="#1010cc" stroke-width="2.1" stroke-linecap="round" fill="none"/>
<path d="M460 511.9h0m22.3 22.2h0m15 -6h0m9 -1.8h0m-39.1 8.2h0m39.6 -32.9h0m5.1 -0.1h0m-25.3 34.7h0m-35.2 13.2h0m5.6 -9.7h0m13.3 -1h0m23.4 -18h0m-6.9 16.3h0m-6.5 -14.2h0m7.8 -15.9h0m-35.1 4.6h0m9.2 31.6h0m-5.1 7.9h0m-14.6 1.1h0m47.6 -27.1h0m-40.2 12.2h0m-5.3 5h0m12.4 -4.9h0m26.5 -13.8h0m-10.2 -4.9h0m17.9 -10.3h0m-45.7 12.2h0m10.9 19.4h0m3.3 -2.2h0m36.1 -21.3h0m-15 -8.8h0m-10 28.2h0m-28.4 -10.5h0m62.1 23.2h0m-37.1 -37h0m-18.3 -3.1h0m-2.3 19.7h0m46.7 15.7h0m14.1 -2.4h0m-43.8 10.3h0m17.1 -48h0m-19.4 47.8h0m2.5 -25.4h0m-4.2 -21.6h0m19.2 29.4h0m4.7 -24.1h0m4.2 24.5h0m-20.5 -30.6h0m-9.1 7.2h0m12.6 22.6h0m-7.6 -5.8h0m-21.2 14.2h0m11.7 -34h0m56.5 33.3h0m-30.9 -30h0m31.1 -0.2h0m-48.3 1.2h0m-13.5 25.2h0m20.2 -26h0m41.7 10.5h0m-67.7 -17.7h0m39.9 0.5h0m3.2 -4.1h0m26.3 25.3h0m-61.5 -0.9h0m9.7 17.1h0m8 -26.9h0" stroke="#1e1eee" stroke-width="1.4" stroke-linecap="round" fill="none"/>
</g>
<g clip-path="url(#c40)" filter="url(#b1)">
<path d="M459.2 536.8h0m47.1 -12.4h0m-14 -17.2h0m14.9 21.3h0m-8.7 17.1h0m-0.6 -10.4h0m-51.9 -24.3h0m-3.3 -9.8h0m9.1 14.1h0m49.3 9.1h0m-28.6 19.3h0m1.1 -30.8h0m-21 3.1h0m16.5 -14.7h0m29.6 42.6h0m-16.1 -17.1h0m-32.7 21.3h0m-7.7 -11.6h0m46.7 -14.5h0m-19.7 15.4h0m21.3 -6.1h0m-22.7 -0.2h0m39.2 -6h0m-17.1 21.3h0m4.4 -8.5h0m-35.9 -13.2h0" stroke="#c050c0" stroke-width="1.4" stroke-linecap="round" fill="none"/>
</g>
<text x="498.3" y="548.2" font-size="8" text-anchor="middle" fill="#fff">100µm</text>
<rect x="484.5" y="549.4" width="27.5" height="1.9" fill="#fff"/>
<path d="M560 514.6V505H571.8V514.6" fill="none" stroke="#a6a6a6" stroke-width="1.5"/>
<path d="M576.5 514.6V464.3H588V514.6" fill="none" stroke="#e8383c" stroke-width="1.5"/>
<line x1="582.3" y1="455.5" x2="582.3" y2="464.3" stroke="#e8383c" stroke-width="1"/>
<line x1="579.7" y1="455.5" x2="584.9" y2="455.5" stroke="#e8383c" stroke-width="1"/>
<line x1="552.6" y1="442.2" x2="552.6" y2="515.4" stroke="#000" stroke-width="1.6"/>
<line x1="551.8" y1="514.6" x2="595" y2="514.6" stroke="#000" stroke-width="1.6"/>
<line x1="549.5" y1="443" x2="552.6" y2="443" stroke="#000" stroke-width="1.6"/>
<text x="546.7" y="446.7" font-size="10.3" text-anchor="end">8</text>
<line x1="549.5" y1="461" x2="552.6" y2="461" stroke="#000" stroke-width="1.6"/>
<text x="546.7" y="464.7" font-size="10.3" text-anchor="end">6</text>
<line x1="549.5" y1="479" x2="552.6" y2="479" stroke="#000" stroke-width="1.6"/>
<text x="546.7" y="482.7" font-size="10.3" text-anchor="end">4</text>
<line x1="549.5" y1="496.8" x2="552.6" y2="496.8" stroke="#000" stroke-width="1.6"/>
<text x="546.7" y="500.5" font-size="10.3" text-anchor="end">2</text>
<line x1="549.5" y1="514.6" x2="552.6" y2="514.6" stroke="#000" stroke-width="1.6"/>
<text x="546.7" y="518.3" font-size="10.3" text-anchor="end">0</text>
<line x1="565.9" y1="514.6" x2="565.9" y2="517.7" stroke="#000" stroke-width="1.6"/>
<text font-size="10.8" text-anchor="end" transform="translate(568.4 526.5) rotate(-45)">Vector</text>
<line x1="582.3" y1="514.6" x2="582.3" y2="517.7" stroke="#000" stroke-width="1.6"/>
<text font-size="10.8" text-anchor="end" transform="translate(584.8 526.5) rotate(-45)">FBXL8</text>
<text font-size="10.2" text-anchor="middle" transform="translate(533.8 476.3) rotate(-90)">Tunel+ cells (%)</text>
<line x1="565" y1="443.7" x2="581.8" y2="443.7" stroke="#000" stroke-width="1.2"/>
<text x="573.4" y="445.7" font-size="14" text-anchor="middle" font-weight="700">**</text>
<circle cx="561.3" cy="504.5" r="2"/>
<circle cx="565.7" cy="502.6" r="2"/>
<circle cx="570" cy="503.2" r="2"/>
<rect x="580.5" y="452.8" width="3.6" height="3.6" fill="#000"/>
<rect x="580.5" y="462.5" width="3.6" height="3.6" fill="#000"/>
<rect x="580.5" y="471.7" width="3.6" height="3.6" fill="#000"/>
<text x="573.5" y="566" font-size="12.7" text-anchor="middle">PANC-1</text>
<path d="M654.5 513.4V509H666V513.4" fill="none" stroke="#a6a6a6" stroke-width="1.5"/>
<path d="M671 513.4V471.4H682V513.4" fill="none" stroke="#e8383c" stroke-width="1.5"/>
<line x1="676.5" y1="468.6" x2="676.5" y2="471.4" stroke="#e8383c" stroke-width="1"/>
<line x1="673.9" y1="468.6" x2="679.1" y2="468.6" stroke="#e8383c" stroke-width="1"/>
<line x1="646.7" y1="440.8" x2="646.7" y2="514.2" stroke="#000" stroke-width="1.6"/>
<line x1="645.9" y1="513.4" x2="689.6" y2="513.4" stroke="#000" stroke-width="1.6"/>
<line x1="643.6" y1="441.6" x2="646.7" y2="441.6" stroke="#000" stroke-width="1.6"/>
<text x="641.2" y="445.3" font-size="10.3" text-anchor="end">15</text>
<line x1="643.6" y1="465.4" x2="646.7" y2="465.4" stroke="#000" stroke-width="1.6"/>
<text x="641.2" y="469.1" font-size="10.3" text-anchor="end">10</text>
<line x1="643.6" y1="489.6" x2="646.7" y2="489.6" stroke="#000" stroke-width="1.6"/>
<text x="641.2" y="493.3" font-size="10.3" text-anchor="end">5</text>
<line x1="643.6" y1="513.4" x2="646.7" y2="513.4" stroke="#000" stroke-width="1.6"/>
<text x="641.2" y="517.1" font-size="10.3" text-anchor="end">0</text>
<line x1="660.2" y1="513.4" x2="660.2" y2="516.5" stroke="#000" stroke-width="1.6"/>
<text font-size="10.8" text-anchor="end" transform="translate(662.2 525.3) rotate(-45)">Vector</text>
<line x1="676.5" y1="513.4" x2="676.5" y2="516.5" stroke="#000" stroke-width="1.6"/>
<text font-size="10.8" text-anchor="end" transform="translate(678.5 525.3) rotate(-45)">FBXL8</text>
<text font-size="10.2" text-anchor="middle" transform="translate(624 474.8) rotate(-90)">Tunel+ cells (%)</text>
<line x1="659.3" y1="446.2" x2="677.2" y2="446.2" stroke="#000" stroke-width="1.2"/>
<text x="668.2" y="448.6" font-size="14" text-anchor="middle" font-weight="700">****</text>
<circle cx="655.5" cy="508" r="2"/>
<circle cx="660" cy="506.3" r="2"/>
<circle cx="664.5" cy="507" r="2"/>
<rect x="670" y="472.5" width="3.6" height="3.6" fill="#000"/>
<rect x="674.5" y="465.8" width="3.6" height="3.6" fill="#000"/>
<rect x="679" y="470.2" width="3.6" height="3.6" fill="#000"/>
<text x="668" y="565.2" font-size="12.7" text-anchor="middle">CFPAC</text>
<text x="15.5" y="598.5" font-size="21" font-weight="700">F</text>
<rect x="70.7" y="625.7" width="63.6" height="47.4" fill="#fbf6fc"/>
<g clip-path="url(#c41)" filter="url(#b1)">
<path d="M114.8 665.1h0m-40.2 -38.5h0m38.5 22.5h0m-6.8 -3.5h0m-30.2 -7.5h0m19.6 -6.6h0m6.6 23.4h0m-10.5 -23.2h0m0.7 18.5h0m1.5 10.4h0m30.8 -15.8h0m-25.6 -15.8h0m-8.4 26.8h0m2.9 -11.1h0m5.7 17.3h0m29.5 -24.1h0m-28.9 16.1h0m-11.9 -9.4h0m41 -3.6h0m-29.2 6.9h0m5.4 -18h0m9.3 12.2h0m8.9 -7.1h0m-12.4 -1.9h0m0.9 21.1h0m19.4 3.8h0m-24.5 -9.2h0m4.2 -5.8h0m-38.1 -16h0m45.3 40.8h0m7 -38.3h0m-23.7 19.2h0m-16.1 16.8h0m17.2 -19.6h0m-23.3 -7.6h0m2.3 -8.3h0m-4.3 23.4h0m8.8 -4.1h0m26.5 2.5h0m-3.8 -5.5h0m3.9 -4.8h0m16.4 4.2h0m2.3 26.8h0m-8.4 -17.2h0m-43.8 3h0m40.4 -1.8h0m-12.5 -6.5h0m10.9 -3.3h0m-30.5 -12.2h0m39.5 9.3h0m-38.6 10.5h0m-1.7 -11.7h0m11.7 9.9h0m18.4 11.6h0m-39.1 -29.2h0m-3.6 -0.1h0m54 4.3h0m-17.1 26.8h0m19 7h0m-1.6 -35.6h0m-51.2 33.2h0m40.5 -42.8h0m0.7 39.9h0m-25.9 -20.9h0m41.1 11.3h0m-25.4 -31.6h0m-24.3 24.1h0m36.4 -10.7h0m2.2 29.5h0m-8.1 -8.3h0m-1.1 7.8h0m8.2 -2.2h0m11.4 -23.2h0m-40.5 11.8h0m41.4 -26.5h0m-40.9 37.3h0m40.9 -33.3h0m-26.4 27.3h0m10.1 6h0m-1.1 -13h0m7.4 -8.3h0m-20.8 -17.9h0m16 0.6h0m-33.4 1.8h0m24.7 9.2h0m21.6 -6.8h0m-43.1 20.7h0m-16 17.8h0m14.6 -25.4h0m42.7 15.1h0m-4.4 -24.9h0m-20.8 11.2h0m-27.1 18.3h0m50.7 4.6h0m0.8 -33.9h0m-9.3 28.4h0m-5.4 -26.8h0m-29.2 12.3h0m8.1 8.4h0m23.5 9.1h0m-4.2 -25h0m10.6 23.2h0m-6.7 -11h0m-2.6 0.5h0m-31.1 12.4h0m50.9 -38.5h0m-7.5 23.9h0m7.3 15.5h0m-49.2 -24.7h0m30.5 17.7h0m-14 -18h0m-12.4 15.6h0m12.7 -28.7h0m25.8 10.9h0m-15.6 24.7h0m-30.7 -33.3h0m32.2 9h0m-40 11.4h0m22.2 -14.1h0m-16 -9.1h0m1.5 20.8h0m8.2 6.5h0m16.4 -27.8h0m-1.4 7.1h0m-25.5 15h0m50.2 -21.3h0m-14 20.8h0m-19 -2.1h0m26.1 -21.9h0m11.4 18.1h0m-27.9 -12.5h0m-11 35.8h0m17 -36.1h0m-3.8 30.1h0m11 -29.4h0m14.2 29h0m-6.5 -33.7h0m-32.7 19.7h0m15.2 -9h0m-16.9 21.7h0m-8.7 11.4h0m38 -5.4h0m-28.7 -18h0m16.9 -11.4h0m-28.5 7.5h0m17.7 -6.6h0m27.4 16.1h0m-14 -15.5h0m20.5 21.1h0m-50.9 -24.5h0m44.6 -0.3h0m-45.5 11h0m8.2 7.8h0m40.8 0.6h0m-10.8 -24.3h0m-12.1 26.8h0m-8.7 11.6h0m4.4 -1.7h0m24.1 -26.6h0m-21.4 17.1h0m12.1 -13.6h0m-43.1 17.6h0m10.5 -24.3h0m48.9 -8.7h0m-4.6 36h0m-7.4 -24.6h0m-10.1 -5.2h0m8.4 18.9h0m-34.7 -21.5h0" stroke="#e0caf2" stroke-width="2.7" stroke-linecap="round" fill="none" opacity="0.9"/>
<path d="M95.3 669h0m-12.6 -39.1h0m28.7 34.5h0m-33.4 -24.4h0m41.8 -6.1h0m-2.2 23.7h0m-4.4 -22h0m-33.2 -2.8h0m19.2 32.8h0m-13.8 -9.8h0m6.1 9.8h0m21.6 -33.5h0m-9.3 14.6h0m19.8 -11.8h0m-42.3 7.6h0m-3.2 6.4h0m11.8 8.2h0m30.4 6.3h0m-25.3 -21.2h0m16.8 19.7h0m-35.2 -13.5h0m34.8 -19.7h0m22.8 22.5h0m-26.6 -0.5h0m-13.8 4.3h0m35.3 -27.6h0m-33.8 28.4h0m-17.1 -8.3h0m16.1 2.8h0m-14.4 -16.7h0m40 25.6h0m-22.6 5h0m-16.9 -1.2h0m42.5 -12.1h0m-46.2 18h0m39.3 2h0m8 -32.4h0m-45.7 19.2h0m17.4 -12.8h0m30.6 27.5h0m-24 -17.6h0m-17.7 -12.3h0m30.3 17.7h0m14.3 10.9h0m-24.3 -39h0m9.4 16.6h0m2.5 12.6h0m-26.1 -31.2h0m14.1 18.2h0m4.8 -4.5h0m18.6 4.5h0m-8.5 -17h0m-28.9 22h0m0.1 -10.1h0m11.4 24.8h0m-18 -8.1h0m43.3 -1.5h0m-26 -10.5h0m14.6 -14.8h0m-2 17.5h0m-37.8 2.7h0m18.6 -6.8h0m28.7 21.3h0m-8.9 -8h0m-19.8 4h0m-20 -21.7h0m43.8 25.2h0m-46.6 -4.1h0m7 -32.4h0m-1.8 41.5h0m22.6 -20.2h0m14.1 -10.8h0m-20 -11.4h0m-8.4 35.4h0m37.5 0.8h0m8 -11h0m-55.6 -27.3h0m15.2 44.6h0m-19.7 -38.5h0m2.5 26.1h0m8.2 1.4h0m-6.1 9.5h0m42 -17h0m0.7 -7.2h0m-47.4 -2.1h0m6.6 2.2h0m16.5 12.1h0m1 -29.4h0m-2.5 34.3h0m32.8 3.7h0m3.4 -40.5h0m-33.4 12.4h0m-2.3 31.6h0m38.8 -3.3h0m-47.8 -1h0m26.1 -11.5h0m-6.2 -8.1h0m7.1 1.3h0m-7.1 -6h0m-26 -3.6h0m31.3 -3.4h0m7.8 -0.9h0m6.9 11.3h0m-30.2 -9.6h0m29.2 7.7h0m-49.1 7.5h0m51.9 -0.2h0m-5.6 -7h0m-22.8 -1.2h0m5.2 8.2h0m31.4 -16.1h0m-27.5 31.8h0m-16.7 5h0m-8.6 -23.5h0m12.9 -9.5h0m4.1 -6h0m28.2 30.7h0m-20.7 2.8h0m27.8 -9.7h0m-55.5 -2h0m32.9 -19h0m-27.3 29.8h0m-12.7 -35.5h0m17.7 24.5h0m9.1 10h0m-16.4 8.1h0m16.8 -24.6h0m-0.2 15h0m-9 -13.5h0m-4.1 -0.6h0m13.9 -1.5h0m-12.2 13.3h0m-10.2 -11.3h0m37.3 -17.7h0m5.9 -3.6h0m-36.3 4.9h0m-7.2 30h0m57.8 -19h0m-25.9 21.9h0m24.9 -6.4h0m-14.2 2.7h0m7 -2.6h0m-8.4 -22.9h0m-21.3 20.5h0m-3.4 -20.7h0m31.2 21.8h0m-31.2 -8h0m-5.7 12.2h0m-2.7 -20.8h0m41.4 31.3h0m-21.1 -36.3h0m-8.3 11.4h0m13.8 -13.4h0m23.2 29.4h0m-1.8 -14.8h0m-1.7 11h0m-13.2 -11.1h0m-32 -9.2h0m42 -0.7h0m-15.6 10.2h0m21.9 2.2h0m-21.5 -11.3h0m1.8 23.6h0m-23.2 -13.2h0m-14.7 8h0m55.1 -5.2h0m-2.2 -12.5h0m-35.8 26.9h0m-4.7 -25.3h0m-14.7 -2.9h0m7.2 2.5h0m-3.9 -4h0m4.6 -7.8h0m0.7 23.2h0m12.1 -20.3h0m17.1 7.1h0m-39 24.3h0m9.4 -33.8h0m44.9 31.9h0m-0.6 -19.3h0m-43.4 -5.6h0m-2.3 13.5h0m7.7 -0.7h0m20.8 21.3h0m-13 -22.7h0m30.3 -4.3h0m-38.2 25.3h0m22.2 -42.7h0m-10.7 24.5h0m-11.4 -7h0m-11.3 5.3h0m7.9 15.5h0m31.9 -0.8h0m-35.7 -34.3h0m48.4 5.1h0m-40.8 25h0m3.9 -34.8h0m-16.6 30h0m8.4 -3.8h0m22.9 -14h0m-13 19.1h0m-19.3 -4.7h0m38 -9.6h0m13.6 19.5h0m-10 -36.3h0m-4.3 10.8h0m1.3 20.1h0m-26.1 -15.7h0m46.2 10.5h0m-48.8 16.3h0m29.1 -7.6h0m8 0.3h0m-49.2 -11.2h0m25.6 -9.4h0m-12.9 -5.3h0m36.7 0h0m11.5 19.5h0m-60.6 -23.1h0m21.5 27h0m19.5 7.1h0m-7.7 -33.5h0m-1.1 17.8h0m-7.9 -7.9h0m-21.3 7.6h0m47.7 -5.8h0m-38.4 -14.6h0m25 -2.6h0m-7.9 8h0m-5 -2h0m5.3 8.3h0m29 29.3h0m-28.5 -13.4h0m-13.3 -25.2h0m3.5 13.9h0m-16.4 0.5h0m55.7 -16.7h0m0.4 -2.1h0m-20.4 34.6h0m-5.3 -7.5h0m-26.5 13.1h0m18.9 -11.1h0m33.4 -29.1h0m-18.1 39.3h0m-43.3 -19.1h0m50.9 17.1h0m-5.3 -37.7h0m-36.5 28.4h0m25.2 11.4h0m9.6 -31.1h0m-9.8 34h0m-32.6 -33.6h0m54.2 -0.9h0m-55.4 36.2h0m9.6 -34.2h0m23.9 -9.6h0m-32 19.3h0m36 -10.1h0m-18.4 4.4h0m10.3 2.3h0m11.6 -8.7h0m-18.9 -3.3h0m14.4 10.4h0m-8.6 17.4h0m28.8 -11.7h0m-28.7 -6.5h0m30.5 32.1h0m1 -18.4h0m-48.6 -23.4h0m7.8 38.7h0m9.1 -0.3h0m-21.5 -10.9h0m26.6 3.9h0m-32.8 -3.3h0m11.5 -13h0m19.8 6.3h0m20.8 -1.9h0m4 12.1h0m-44.5 -29.5h0m30.5 -4.8h0m10.7 10.7h0m-51.4 7.4h0m10.6 5.8h0" stroke="#bd94e4" stroke-width="1.7" stroke-linecap="round" fill="none"/>
<path d="M108.1 641h0m-6 -0.6h0m-10.7 -12.3h0m14.6 18.3h0m-5.2 -5.9h0m24.6 19.9h0m-25.2 -27.5h0m-25.1 9h0m32.6 0h0m12.7 -4h0m11.8 -10.5h0m-5.7 36.9h0m-38 -5.1h0m-12.9 3.3h0m12.7 -3.6h0m10.8 9.2h0m29.1 -4.6h0m-40.7 -32.8h0m-11.3 2.1h0m23.3 3.9h0m10.2 17.3h0m-18.9 -18.2h0m21.6 6.7h0m13.6 27.2h0m-48.1 -5.1h0m2.9 -1.1h0m46.8 -19.3h0m-31.2 25.7h0m-15.6 -23.9h0m49.3 -15.2h0m-28.2 3.5h0m18.9 28h0m-16.7 -20h0m-15.1 -10.5h0m-17.6 -2.2h0m62.7 -0.8h0m-46.8 1h0m15.6 37.5h0m18.8 -24.3h0m-32.1 -0.1h0m-3.6 -13.5h0m-2.3 3.1h0m7.8 -4.7h0m7.2 8.8h0m-5.8 20.1h0m10.9 16h0m21.4 -11.2h0m5.3 -21.2h0m-37.6 12.7h0m-18.1 -18.9h0m53.7 26.2h0m-27.9 -20.3h0m12.3 19h0m-0.8 -32.5h0m-3.3 15.7h0m-13.2 5.5h0m33.6 12.5h0m-30.6 -26.8h0m18.5 5.9h0m-15.6 5.9h0m13.1 24.2h0m-29.7 -33h0m24.7 3.1h0m-29.9 -0.3h0m0.2 18.9h0m-2.6 0.4h0m37.4 1.3h0m19.2 -4.2h0m-26.6 -6.3h0m23 10.5h0m-53.4 -15.6h0m45 12.8h0m-16.8 -2.4h0m25.3 13.3h0m-57.7 2.3h0m55.1 -4.8h0m-44.6 -18.8h0m-10.4 -1.4h0m34.5 5.6h0m-13.3 3.4h0m21.8 7.1h0m-25.2 9h0m-1.4 -12.3h0m-2.7 3.5h0m29.4 -28.1h0m-2.1 15h0m13.3 18.7h0m-13.1 -16.3h0m9.2 4.6h0m10.4 -12.1h0m-58.8 13.8h0m55.7 -30.4h0m-7 22.3h0m-33.5 -13.9h0m-3.5 24.2h0m42 1.9h0m-10.3 -1.9h0m9.8 8.2h0m3.2 -36.1h0m-32.2 -1.7h0m12.5 8.5h0m1.9 12.9h0m10.6 10.3h0m9 -24.8h0m-28.8 5.4h0m-29.3 3.7h0m8.4 23.9h0m28.9 -20.6h0m6.2 7.3h0m-41.9 3.2h0m39.9 -33.6h0m-23.9 4.2h0m11.6 27.6h0" stroke="#a078cc" stroke-width="1.1" stroke-linecap="round" fill="none"/>
</g>
<rect x="70.7" y="625.7" width="63.6" height="47.4" fill="none" stroke="#0a0a0a" stroke-width="1.8"/>
<rect x="70.7" y="677.5" width="63.6" height="47.4" fill="#fbf6fc"/>
<g clip-path="url(#c42)" filter="url(#b1)">
<path d="M83.9 699.4h0m19.4 -6h0m-28.9 -9.7h0m-2.6 10.1h0m47.2 25.4h0m-6.6 -37.4h0m-12.7 25.7h0m-8.8 13h0m36.4 -7.7h0m-2.7 -3h0m-38.6 0.3h0m37.4 -21.8h0m-11.5 24.2h0m0 4.2h0m2 -16.6h0m-16.2 17.2h0m28.3 -28.5h0m-48 27.9h0m28.9 -5.5h0m-33.6 -9.5h0m45.8 5.6h0m-23.3 -1.4h0m16 14.6h0m0.7 3.1h0m18.5 1.2h0m-56.7 -21h0m6.1 -16.7h0m4.7 2.5h0m11 30.6h0m12.1 -6.4h0m-0.7 6.5h0m11.5 -40.2h0m-11.4 22.3h0m0.1 2.5h0m-36.6 -2.4h0m2.9 -13.9h0m4.7 16.5h0m26.7 -22.4h0m-22.5 21.3h0m38.8 -13.9h0m-37.7 7.8h0m43 14h0m-3.7 10.8h0m-30.3 -0.1h0m20 -19.2h0m-29.6 19.1h0m34.4 -31.9h0m16.3 15.8h0m-26.6 -25.1h0m-8.6 -0.4h0m32.6 12.6h0m-59.3 3.4h0m-1.3 -5.5h0m1.1 -2.8h0m40.8 35h0m-39.6 -16.1h0m47.4 7.1h0m-30.2 -14.1h0m40.2 19.4h0m-5.8 -33.8h0m-28.3 0.3h0m4.3 33.3h0m16.3 0.6h0m1.1 -22.9h0m-15.9 -4.8h0m-4.8 13.8h0m10.1 0.2h0m-15.7 -12.9h0m-14.4 -12.6h0m38.8 32.8h0m-13.3 -4.5h0m-9.9 11.5h0m-7.7 -36.7h0m22.9 8.1h0m12 19.7h0m7.3 -24.4h0m-28 6.9h0m9.2 -16.7h0m4.8 37.6h0m-1 -36.2h0m-27.1 3h0m-14.4 32.7h0m56.9 -32h0m-42.2 5h0m12.3 4.9h0m-18.7 15.4h0m10.5 12.8h0m-12.7 -35.7h0m13.5 11.4h0m29.5 -9.3h0m-5.1 29.8h0m-25.3 -23.2h0m22.5 -2.2h0m-0.9 26.3h0m-18.1 -16.4h0m-16 19.8h0m42.9 -39.5h0m-42.3 25.4h0m1.8 11.5h0m39.9 -15.1h0m-14.8 -17.4h0m-0.2 14h0m-1.1 -22.1h0m-9.2 0.6h0m25.2 24.4h0m-22.1 2.9h0m17.4 -4.3h0m1.1 17.5h0m-15.1 -12.6h0m6.3 6.4h0m-0.1 -23.4h0m14.6 0.5h0m-37.4 30.7h0m1.4 -27.9h0m-0.9 15.5h0m3.8 9.8h0m28.5 -4h0m0.9 -7h0m-28.9 -22.8h0m33.3 18.3h0m-28.1 3.6h0m-21.1 -2.6h0m42.7 16.6h0m16.4 -27.2h0m-47.8 -0.2h0m34.3 28h0m10.1 -34.5h0m-17.6 32.7h0m10 -37.9h0m-25.1 3h0m-13.7 4.6h0m28.1 35.7h0m0.9 -31h0m-27.4 2.3h0m4.9 16.1h0m34.3 -21.7h0m-1.5 0.6h0m-48 -6.6h0m59.3 5.7h0m-9.5 15.2h0m-44.3 -18h0m22.2 28.3h0m30 -4.1h0m-50 -12.7h0m18.9 -0.7h0m-12.5 4.2h0m-12.4 -14.9h0m-0.5 19.2h0m12.7 -21.3h0m46.7 21.2h0m-33.7 -4.2h0m26.3 5.5h0m-52.3 15.7h0m18.2 -4.1h0m1.5 -29.7h0m8.3 6.5h0m-13.9 -2.5h0m-9 30.6h0m23.3 -34.2h0m16.3 18.9h0m-9.3 -7h0m-11.3 -21.3h0m33.7 28.2h0m-27 -9.1h0m15.1 22.3h0m-43.1 -37.1h0m50.4 32.8h0m-51.1 -37.1h0m9 21.5h0m26.9 -11.4h0m-22.8 2h0m24.1 26.5h0m-1.8 -13.6h0m11.6 -2.5h0m5.2 20.1h0m-1.4 -18.9h0m-43.1 13.2h0m38.8 -3.7h0m-9.5 -20h0m20 31h0m-25.7 -22.9h0m-33.4 16.4h0m59.4 -14.1h0m-35 0.9h0m27.7 16.7h0m-33.9 -34.3h0m-4.4 14.5h0m45.2 6h0m-37 13.4h0m37.6 -13.5h0m-61 -12.9h0m40.7 -4.7h0m-34.8 -5.5h0m34.5 4.6h0m-11 26.1h0m-30.4 -10.8h0" stroke="#e0caf2" stroke-width="2.7" stroke-linecap="round" fill="none" opacity="0.9"/>
<path d="M119.5 713.5h0m8.4 -14.9h0m-33.5 -4h0m32.5 15.1h0m-3.6 11.5h0m7.5 -26.3h0m3.2 4.2h0m-14.8 7.8h0m-30.1 -23h0m17.2 27.5h0m-14 -9h0m-17.4 19.9h0m10.6 -39.1h0m37.9 -5h0m-50.4 32.9h0m59.6 -15.9h0m1.6 -4.7h0m-26.6 28.8h0m-33.8 -31.9h0m-1.9 17.9h0m11.8 -19.1h0m21.6 1.7h0m6.8 -5.5h0m17.1 31.3h0m-5.5 -28.5h0m3.5 -1.9h0m-3.2 20.6h0m-23.3 17.7h0m15.1 -9.2h0m-16 -29.6h0m3.2 17h0m-21.6 -6.9h0m40 -6.4h0m5.2 13.4h0m-40.3 20.4h0m43.6 -7.5h0m-3.3 1.1h0m5.7 10.4h0m-34.2 -38.9h0m-14.7 25.4h0m15.8 -24.1h0m8 17.4h0m1.1 0.4h0m18.3 -19.2h0m-38.8 8.5h0m-13.1 -11.1h0m10.6 27.1h0m30.2 -19.9h0m-18.3 20.8h0m3.6 -15.5h0m11.5 -15.2h0m8.3 37h0m-22.2 -7.5h0m14.5 -16.3h0m-8.3 2.4h0m9 -14.6h0m4.4 6.5h0m-31.5 -8.9h0m-8.3 29.5h0m16.9 1.9h0m-5.2 -27.5h0m-10.9 4h0m24.6 -4.8h0m-22.1 3.3h0m2.1 23.8h0m-6.1 15.9h0m20.5 -30.3h0m24.5 5.4h0m-18.2 -5.6h0m-29.1 7h0m10.1 -16.2h0m-7.3 18.9h0m-2.5 -8.6h0m11.6 6.8h0m-7.9 -23.4h0m12.5 33.6h0m37.5 8.6h0m-39 -15.4h0m-4.6 16.2h0m16.6 -34.8h0m-24.4 32h0m-3 -36.9h0m41.5 14.2h0m-6.6 -3.8h0m-28.3 -9.1h0m43.3 19.6h0m-41.3 16.6h0m28.5 -25.7h0m-24.7 25.6h0m43.4 -3.9h0m-28.1 -16.2h0m-20.1 6.4h0m11.4 6.6h0m33.7 0.3h0m2.5 -26.4h0m-35 33.2h0m14.5 -23.2h0m-0.7 22h0m18.6 -30.7h0m-26.2 0.5h0m-24.7 0.8h0m30.7 -5.2h0m-34.2 24.9h0m54.8 -0.4h0m2.2 12.8h0m-53.8 0h0m33.4 -16.4h0m-32 -2h0m21.7 -1.6h0m-20.2 4.3h0m46.1 -18.2h0m-28.5 5h0m25.1 -13.4h0m-46.7 40.9h0m8.3 -27.2h0m9.7 -2.9h0m-21.3 19.1h0m28.8 -29h0m23.6 15.1h0m-49.3 -1.8h0m1.1 31.6h0m49.3 -26.2h0m-51.8 21.9h0m16.4 -30.3h0m26.3 3.1h0m-32.2 -4.2h0m46.3 22.8h0m-11.3 -15.4h0m-34.6 11.2h0m11.6 3.6h0m-3.2 -2.2h0m9.5 -17.1h0m3.1 0.3h0m26 10.7h0m1.3 -11.2h0m-28.8 -5h0m-17.2 20.7h0m15.1 12.9h0m-18.8 -22.3h0m45.2 -0.4h0m-34.9 2.8h0m-6.7 20.7h0m34.2 -26.3h0m8 -0.7h0m-12.5 -3.6h0m-15.6 1.3h0m9.4 29.5h0m21.4 -43.5h0m-28.8 41.1h0m27.4 1.6h0m-13.1 3.7h0m-31.7 -14.4h0m-9.9 10.4h0m-3.5 -10.8h0m37.9 -6.8h0m-35.6 -14.1h0m3.3 11.1h0m44.2 -6h0m6.4 -2.6h0m-24.3 -2.3h0m10.5 13.9h0m-26 -9.4h0m-0.8 -2.7h0m0.1 32h0m-14.7 -11.7h0m26.4 -1.3h0m-16.6 10.8h0m26.4 -0.3h0m16.5 -35.3h0m-22.4 8.3h0m22 -11.2h0m-24.2 17.4h0m-21 6.5h0m16.6 -24.2h0m4.5 29.1h0m-1.8 -10.7h0m-18.3 24.2h0m4.9 -8.5h0m14.4 -24.3h0m-16.8 4.5h0m15.8 -7.8h0m-11.5 25.3h0m-8.4 2.5h0m12.2 -10.8h0m12.9 -26h0m-6.9 6.2h0m-25.9 8.1h0m0.1 -13.6h0m46.6 12.8h0m-3.8 31.8h0m-43.2 -23.4h0m10.2 24.2h0m14 -5.5h0m-3.6 -7.9h0m3 3.9h0m-5.5 -26.3h0m-8.4 13.8h0m25.3 -8.1h0m-11.8 1.5h0m4.4 9.4h0m15.3 15.3h0m-31 -42.8h0m39.7 45.3h0m-9.4 -25.9h0m-36.8 -10h0m49.8 11h0m1.1 3.9h0m-21.9 -17.4h0m-9.4 4.6h0m20.7 -3.8h0m16.5 16.8h0m-10.3 -13.9h0m10.3 5.3h0m-37 4.5h0m21.2 24.9h0m-1.1 -36.2h0m-11.8 11.2h0m-28.1 -0.6h0m26.9 7.1h0m6.5 1.1h0m-4.4 17.4h0m24.8 -24.6h0m-29.2 14.4h0m-18.1 -17.3h0m16.7 27.3h0m-8.1 -5.7h0m-7 -17h0m-2.5 14.5h0m24.3 8.2h0m6.9 -4.1h0m1.4 -10.2h0m7.1 -17.1h0m-13.9 11.3h0m-0.8 16h0m-33.4 -7.8h0m22.6 -28.5h0m6.1 3.3h0m7 4.2h0m-15.1 17.1h0m20 10.9h0m-20.5 -14.8h0m-15 1.8h0m-0.7 -21.8h0m47.6 12.6h0m-29.7 19.7h0m31.3 5h0m-46.8 -21.2h0m-1.2 -14.4h0m35.3 17.4h0m-17.9 -4.1h0m-20.1 2.7h0m50.2 21.2h0m-4 -22.4h0m-44.7 6.5h0m44.6 -25.3h0m-1.3 6.5h0m-7.9 11.4h0m16.9 17.4h0m-9.6 -12.6h0m-7.2 6.7h0m6.4 3.9h0m-2.8 -36.5h0m-15.3 36.1h0m20 -2.4h0m-35.5 -1h0m-8.2 -27.6h0m50.5 17.9h0m-33.5 2h0m-3.8 -1h0m33.8 14.5h0m-18.1 5.9h0m-19.4 -29.2h0m1.5 28.2h0m27 -38.4h0m-20.6 -4.6h0m-6.9 10.2h0m-16.3 -9.1h0m44.7 0.7h0m9 9h0m-18.1 19.3h0m-2.8 -14.4h0m2.6 6.3h0m13 11.5h0m-7.7 -16.9h0m-26.3 10.8h0m-3.7 7.5h0m41.6 -19.7h0m-32.6 4.9h0m-17 -17.5h0m50.6 21.7h0m-30.2 -22.3h0m38.3 18.2h0m-9.9 -9.3h0m-18.5 14.5h0m-17 -25.2h0m17.7 25.9h0m23.6 10.7h0m-57.8 -18.2h0m5.3 1.5h0m18.6 -3.2h0m-10.3 26.7h0m30.9 -32.7h0m-3.2 15.3h0m6.4 10.4h0m9.7 6h0m-12.6 -43.5h0m-11.9 36.2h0m-22 -0.6h0m21.4 -14.4h0m26.6 17.9h0m-30 -3.3h0m-3.8 1.1h0m15 -26.5h0m-15.2 16h0m3.3 9.1h0m5.8 -7h0m-15 -5h0m6.5 9.3h0m36.2 -28.3h0m-48.9 23.5h0m29.7 3.7h0m17 10.7h0m-19.1 -39h0m18.9 33.5h0m-44.2 -0.1h0m15.5 -28.9h0m-24.1 17.8h0" stroke="#bd94e4" stroke-width="1.7" stroke-linecap="round" fill="none"/>
<path d="M85.1 710.8h0m49 -1.7h0m-56.5 3h0m7.8 -2.8h0m-13.4 -20.3h0m5.2 -9.2h0m6.2 29h0m40.1 -14.4h0m-48.1 26.8h0m53.8 -20.3h0m-15.4 5h0m-12.6 -23.4h0m-10.5 23.9h0m18 11.5h0m-24.9 -9.3h0m-9.4 0.4h0m49.5 7.2h0m-25.1 -26.4h0m33.5 12.9h0m-61.3 10.7h0m54.3 -25.5h0m-1.7 25.1h0m-34.3 -18.9h0m29.2 27h0m-23.6 -34.6h0m35.9 -5.9h0m-53.1 -2.5h0m0.2 31.6h0m21.2 -29.5h0m18.9 -1.2h0m15.7 17h0m-4 -13.2h0m-3.5 39h0m0.1 -7.2h0m-3 -22.7h0m7.4 -4.2h0m-50.6 -1.5h0m-1 -7.4h0m19.2 18.3h0m-22.6 -8.1h0m19.4 -8h0m2 37.8h0m3.6 -33.5h0m6.3 18.6h0m-0.5 -8.3h0m-17.2 23.8h0m9.2 -10.6h0m-20.9 -6.2h0m6.6 -2.6h0m-11.4 -11.9h0m33 27.9h0m-8.7 -17.7h0m-23 -20.1h0m15.9 27.4h0m12.8 -17.2h0m-26.6 26.9h0m17.8 -28.8h0m-2.8 5h0m1.8 3.8h0m-0.8 -1.4h0m-14.3 -7.3h0m0.6 3.2h0m41.5 -8.5h0m-29 7.7h0m26.5 13.2h0m-34.7 -22.6h0m30.1 24.5h0m-30.5 -12.8h0m29.7 -9h0m-15.4 16.6h0m-4.7 -20.1h0m40.6 36.1h0m-45.5 -17.4h0m45.7 13h0m-25.9 0.2h0m-6.7 -11.4h0m-8.1 -9.3h0m40.3 -1h0m-53.2 20.3h0m13 -21.6h0m12.3 -8.3h0m-0.7 36.7h0m10.1 -33h0m-18.4 29.5h0m-18.7 7.7h0m11 -4.3h0m-5 -5.5h0m43.4 -25.1h0m-17.5 -2.5h0m-21.5 -4.1h0m19 3.2h0m-8.7 25.9h0m22.1 -26.9h0m-1.7 21.1h0m-30.6 -12.2h0m-6.5 0.1h0m6.4 31h0m-7.7 0.1h0m22.1 2.5h0m30.9 -19h0m-53.7 -25h0m-4.9 44.6h0m47.8 -40.9h0m7.7 16.3h0m-41.4 -16.7h0m18.6 30.2h0m-32.2 -25.3h0m42.9 -8h0m-30.8 24.5h0m43.3 -2.2h0m-8.6 5h0m10 -6.6h0m-12.3 16.6h0m-44.9 -7.4h0m37.5 -0.2h0m-21.7 -1.7h0m33.1 -26.8h0m7.7 11.5h0m-5.6 4.3h0m-19.7 -1.8h0m7 -14.9h0m0.8 41.3h0m-20.9 -27.4h0m-9.5 -14.6h0m11.2 40.1h0m9.8 -41.6h0m9.1 33.2h0m0.7 13h0m19.8 -2.2h0m-20.3 -4.6h0m-11 -12.4h0" stroke="#a078cc" stroke-width="1.1" stroke-linecap="round" fill="none"/>
</g>
<rect x="70.7" y="677.5" width="63.6" height="47.4" fill="none" stroke="#0a0a0a" stroke-width="1.8"/>
<rect x="138.2" y="625.7" width="63.2" height="47.4" fill="#fbf6fc"/>
<g clip-path="url(#c43)" filter="url(#b1)">
<path d="M173.6 640.4h0m-31.3 -13.7h0m-2.4 12.3h0m34.7 24.3h0m-2.1 -1.4h0m25.9 -34.7h0m-30.4 43.8h0m-10.9 -13.1h0m28.5 -6h0m-42.2 -1.2h0m-3.6 -20.4h0m41.9 25.2h0m-3.9 -12.4h0m-33.4 14.1h0m5.2 2.7h0m22.8 -6h0m17 -15.5h0m-22.6 29.7h0m-21.1 1.2h0m0 -41.1h0m51.5 44.7h0m-27.3 -8.4h0m0.9 -13.3h0m-4.1 -6.5h0m-27.9 6.5h0m35.9 9.3h0m-24.3 -11.1h0m32.9 4.3h0m-24 -25.5h0m4 4.2h0m-6.3 4.8h0m36.4 -7.9h0m4.7 22.9h0m-49.4 -3h0m25.3 -9.7h0m18.3 14.7h0m-10.7 -9.9h0m-26.4 -7.6h0m37.2 12.9h0m-4.3 0.1h0m5.4 1.4h0m-31.3 -8.5h0m18.4 3.6h0m14 -13.5h0m-36.8 -4.7h0m23.9 20h0m16.8 8.6h0m-11.7 -10h0m-35.6 6.6h0m-4.1 -21.1h0m27 12.6h0m23.6 -6.4h0m-16.7 18.1h0m-16.8 11.2h0m20.9 -1.8h0m-35.3 -21.6h0m27.5 -3h0m14.6 18.2h0m-19.7 11.3h0m27 -14h0m-43.5 -3h0m38.6 -11.9h0m-21.6 29.4h0m-28.7 -36.9h0m-2.9 26.8h0m36.9 -10.3h0m7 20.5h0m2.9 -2.6h0m7.7 -7.7h0m-52.5 -16.4h0m27.4 18.6h0" stroke="#e6d6f2" stroke-width="2.4" stroke-linecap="round" fill="none" opacity="0.9"/>
<path d="M148.9 656.4h0m-1.7 0.5h0m-2.6 1.4h0m39.9 -5.6h0m10.5 1.3h0m-42 3.4h0m18.7 -10.3h0m0.8 24.2h0m-6.5 -29.9h0m-7.5 22.6h0m22.5 -4.8h0m-4.5 -31.9h0m22.4 27.3h0m-4.4 3.4h0m-25.2 -2.7h0m-28.5 10h0m12.5 -11.6h0m7.9 -16.8h0m-13.2 -11.1h0m33.6 46.2h0m-41.9 -23.9h0m53.1 6.7h0m-11.3 -1.1h0m-33.6 11.2h0m14.5 -32.4h0m6.6 -2.1h0m21.7 25.9h0m3.3 -8.5h0m-42.8 8.2h0m14.4 -16.8h0m26.3 32.6h0m8.6 -1h0m-13.4 -40.5h0m6.7 32.9h0m-33.2 4.7h0m29.5 0.3h0m-50.7 -21.3h0m55.2 14h0m-50.6 -25.4h0m19.9 -6.4h0m-16.8 2.5h0m30.8 35.8h0m-14.7 -17.9h0m0.6 -1.1h0m-19.8 7.7h0m24.8 9h0m7.9 -2.6h0m20.9 1.2h0m-7.9 -9.4h0m-27.9 13.9h0m28.3 -41.7h0m-27.2 39.9h0m-3.5 -21.6h0m-14 2.2h0m-5.4 -10.5h0m15 -1.3h0m13.8 28.7h0m3 -16.3h0m-26.1 21.2h0m36.2 -21.3h0m15.1 12.3h0m-51.7 -18.5h0m45.5 24.8h0m-51.7 3.8h0m38.1 -38.9h0m0.9 40.4h0m-18.6 -17.7h0m3.4 -4h0m-24.3 19.6h0m55.2 -12.1h0m-30.5 -24.5h0m-23.5 35.5h0m44.4 -1.7h0m0.1 -8h0m12.4 11.5h0m-19.2 -31.2h0m-29 -9.3h0m14.6 -2.7h0m13.3 39.1h0m23.7 -8h0m-58.7 -9.5h0m28.9 -22h0m7.4 30h0m5.3 16.6h0m-38.1 -31.8h0m55.4 24.3h0m-28.3 1.2h0m-11.3 -40.5h0m5.3 40.7h0m26.1 -1.6h0m-35.9 -11.8h0m5.9 6.8h0m-8.4 -9.5h0m-6.1 -21.7h0m-8.6 41.6h0m16.8 -29h0m18.4 17.5h0m26.9 -26.8h0m-19.6 24.7h0m17.8 -21.3h0m-58.8 18.8h0m52.4 -18.3h0m-6.7 -0.5h0m-36 7h0m49.6 0.1h0m-60.2 14.3h0m18 -3.2h0m23.9 8.4h0m13.5 -7.6h0m-21.3 -23.2h0m18.8 9h0m-30.8 29.5h0m3.6 -9.4h0m-0.6 -22.9h0m14.4 35.1h0m-27.5 -30.2h0m-12.3 26.3h0m37.8 -17.3h0m-36.9 8.6h0" stroke="#cdb0e4" stroke-width="1.5" stroke-linecap="round" fill="none"/>
<path d="M153.7 660h0m29.4 10.4h0m-26.2 -38.4h0m24 20.4h0m4.4 18.9h0m-4.8 -11.8h0m12.2 -31.3h0m3.3 33.3h0m-41.6 0h0m41.2 -13.4h0m-28.4 -17.7h0m6.9 37.1h0m24.5 -11.1h0m-23.2 -30.1h0m9.9 28.3h0m-35.4 9.8h0m33.6 5.8h0m-2.3 -24.1h0m-24.3 15.3h0m1.4 -10.3h0m36.4 20.8h0m3.3 -39.7h0m-53.5 18.8h0m55.6 20.8h0m-27.2 -3.9h0m16.6 -23.9h0m-7.6 -16.1h0m-33.8 12.9h0m37.4 30.7h0m14.1 -27.1h0m-36.9 -6.3h0m20.1 -2.3h0m-13.5 12.8h0m-2.9 -14.5h0m-9.5 23.3h0m20.1 3.3h0m-31.9 6.6h0m43.1 0.1h0m9.6 -32.2h0m-16.5 -7.9h0m-19.8 11.8h0m33.5 25.2h0m-27.6 8h0m23.4 -19h0m-19.9 -23.5h0m-20.5 19.2h0m45.4 -21.5h0" stroke="#a684cc" stroke-width="1" stroke-linecap="round" fill="none"/>
</g>
<rect x="138.2" y="625.7" width="63.2" height="47.4" fill="none" stroke="#0a0a0a" stroke-width="1.8"/>
<rect x="138.2" y="677.5" width="63.2" height="47.4" fill="#fbf6fc"/>
<g clip-path="url(#c44)" filter="url(#b1)">
<path d="M155.2 720.2h0m34.2 2.7h0m-36.1 -21.9h0m28.6 -8.7h0m-8.1 -1.7h0m9.6 22.2h0m-39.5 -27.2h0m14.9 36.1h0m41.4 -4.4h0m-22.5 -19.6h0m16.4 -15.7h0m-29.3 15.6h0m12 -10.6h0m-24.6 14.4h0m11.4 -22.9h0m-3.6 39.9h0m40.7 5.5h0m-60.4 -44.6h0m49.4 34.3h0m-13.7 -25.6h0m-30.7 32h0m45.8 3.4h0m-52.9 -45.6h0m0.6 17.3h0m31.5 5.3h0m-6.3 6.2h0m2.5 -28.1h0m6.6 26.6h0m3.2 -20.5h0m-5.1 35.9h0m-30.6 1.9h0m52 -7.8h0m-23 -8.5h0m-26.3 -9.1h0m-4 -0.4h0m8.7 25.4h0m11.4 -40.7h0m-4.1 23.3h0m14.9 3.5h0m6.7 4.8h0m-22.2 -7.4h0m38.2 -15h0m-1.1 0.5h0m-41.3 24.7h0m-4.6 -38.1h0m51 24.5h0m-22.4 1.7h0m-34.3 -5.5h0m37.8 -1.2h0m-26.7 11.5h0m-1.9 12.9h0m36.5 -18.3h0m7 -24.8h0m-23.4 11.2h0m-29.9 18.5h0m0.3 -14.2h0m1 -9.4h0m5.7 24.5h0m32 4.7h0m-3.6 2.3h0m-2.8 -33.6h0m22.3 22.1h0" stroke="#e6d6f2" stroke-width="2.4" stroke-linecap="round" fill="none" opacity="0.9"/>
<path d="M173 690.5h0m-28.6 27.1h0m18 -33.4h0m-3.9 -0.6h0m13.6 36.9h0m-8.9 -38.5h0m-17.2 -1.4h0m24.2 30h0m1.9 -28.4h0m-9.1 5.5h0m-16.3 19.7h0m2.9 -16.2h0m34.4 -4.9h0m-16 31h0m23.6 -10.1h0m-25.9 12.6h0m-3 4.5h0m-7.1 -36h0m-16 -4.4h0m54.2 24.8h0m-43.5 -14h0m13.8 23.9h0m29.4 -38.9h0m-50 12.1h0m-3.2 -11.2h0m7.4 40.5h0m4.4 -41.5h0m0.3 3h0m5.8 29.4h0m19.5 -20.7h0m-18.9 22.6h0m-17.1 -22.5h0m25.8 -1h0m-12.9 -8.9h0m22.8 -2h0m4.6 14.5h0m-43.2 4.2h0m49.9 25.1h0m-48.1 -5h0m18.3 4.4h0m25.5 -21.9h0m16.5 19.8h0m-44.3 -31.5h0m34.8 -4.9h0m4.9 -6.5h0m-44.6 18.9h0m27 -1.8h0m-7.5 13.5h0m-30.7 -13.1h0m46 10h0m-40.9 -24.4h0m21.5 9.1h0m18.7 18.3h0m-36.8 12.2h0m35.2 -3.3h0m-29.3 6.7h0m-13.6 -4.4h0m15 -28.2h0m1 9.7h0m34 -23.1h0m-46.1 13.3h0m13 -3.3h0m30.5 19.7h0m-39.4 -25h0m-9.1 16.4h0m-1.6 23h0m9.5 -10.2h0m-3.6 -26.4h0m7.9 36.4h0m27.9 -28.7h0m-39.9 28.6h0m21.4 -28.6h0m6.4 24h0m-3.3 -2.5h0m3 -14.7h0m-15.4 -21.6h0m-11.5 19.8h0m9 -10.6h0m5.7 -3.9h0m14.8 -3.8h0m19.6 12.9h0m-20.9 4.4h0m7.3 8.1h0m-26.8 -14.5h0m24.9 -5.6h0m-25.8 2.3h0m30.4 -4.8h0m-2 2.3h0m-4.2 36.1h0m-14.4 -25.3h0m37 -6.9h0m-1.7 34.9h0m-17.4 -8.4h0m-4.6 -30.8h0m29.4 27.4h0m-24.8 -33.3h0m-21.1 24.4h0m33.9 -11.4h0m-8.6 -6.3h0m-5.2 33.4h0m-13 -37.4h0m-23.8 6.8h0m52.3 25.3h0m6 -0.4h0" stroke="#cdb0e4" stroke-width="1.5" stroke-linecap="round" fill="none"/>
<path d="M179.2 718.8h0m5.5 -35.2h0m-2.2 7.4h0m-5.1 32h0m-4.7 -43.9h0m3.1 39.9h0m2 -26.7h0m12.4 11.3h0m7.9 -18.2h0m-38.1 14.7h0m8.7 -2.6h0m7 1.2h0m-2 -15.6h0m-0.5 40.5h0m-2.9 -7.5h0m-30.7 -37.5h0m25.5 26.6h0m-12 -3.4h0m38.1 -0.4h0m-31.9 21.8h0m20.6 -6.3h0m-1.6 -7.5h0m-22.6 -12.2h0m-16.2 8.7h0m47 16h0m12.9 -3.1h0m-28.9 -1.8h0m-10.6 -12.6h0m32.3 -3.5h0m-10.2 -16.5h0m-15.4 35.3h0m-7.5 -0.9h0m21.3 0.2h0m-19.4 -1.8h0m16.7 -39.7h0m-34.7 41.7h0m20.5 -5.9h0m34.4 -27.1h0m-33.2 27.8h0m0.8 -16.6h0m-25.2 16.3h0" stroke="#a684cc" stroke-width="1" stroke-linecap="round" fill="none"/>
</g>
<rect x="138.2" y="677.5" width="63.2" height="47.4" fill="none" stroke="#0a0a0a" stroke-width="1.8"/>
<rect x="209.5" y="625.7" width="63.6" height="47.4" fill="#fbf6fc"/>
<g clip-path="url(#c45)" filter="url(#b1)">
<path d="M237.6 660.2h0m-14.9 3h0m-12.3 -10.3h0m27.3 15.7h0m13.5 2.4h0m-21.8 0.5h0m-16.1 -39.4h0m20 4.7h0m-10.8 31.8h0m0.2 -10.7h0m49.5 -1.2h0m-14.4 16.2h0m-19.6 -28.9h0m-25.2 2h0m-0.6 -8.5h0m-1.8 -1.9h0m0.7 -3h0m27.8 39.7h0m7.7 -17.8h0m0.6 4.5h0m-24.2 -4.7h0m14.2 3.5h0m-26.5 14.7h0m30 -20.7h0m-13.7 -7h0m-4.3 6.1h0m4 2.1h0m0.4 -4.3h0m43.2 -2h0m-35.3 20.2h0m25.6 -1.7h0m-40.3 -24.3h0m10.6 -15h0m-16.2 30.3h0m39.1 -15.6h0m-12.6 24.5h0m-15.1 -11.5h0m8.1 -17.6h0m7 7.5h0m-3.4 5.7h0m4.3 -18.3h0m-28.2 10h0m13.8 6.3h0m29.3 5.1h0m-2.8 2.5h0m-32.8 11.6h0m-10.8 -30.2h0m23.5 20h0m22.3 -19.7h0m-24.7 13.4h0m22.5 -10.9h0m-24.3 25.5h0m21.6 -5h0m-41.6 12.3h0m1.2 -10.4h0m24.1 -32.5h0m15.7 14h0m13.9 -14.1h0m-11 11.1h0m10.5 26.4h0m-50.6 -16.9h0m-4 -15.1h0m31.4 17.1h0m21.4 8.1h0m-2.4 -4.4h0m-8.5 -3.9h0m-1.5 7.2h0m2.7 -5.6h0m10.5 -20.4h0m-51.1 27.2h0m34.1 -10.9h0m10.1 18.3h0m-8.5 -26.4h0m-8.6 -9.4h0m4.6 41.8h0m-30.3 -44h0m14.1 11.8h0m31 -5.5h0m-7.4 10.5h0m-31.7 18.3h0m31.7 -1.9h0m-29.8 -19.3h0m48.6 8.5h0m-44.4 -22h0m32.8 7.6h0m-40 -3h0m-5.8 22.5h0m48.9 -22.4h0m-45.7 18.9h0m35.3 15.4h0m8 -18.1h0m12 2.2h0m-52.4 -23.6h0m8 -1.4h0m-3.1 15.6h0m-13.6 20.3h0m39.5 -3.5h0m3.8 -15.6h0m-22.1 19.4h0m41.4 -11.2h0m-61.9 11.3h0m15.9 -8.7h0m9.4 -23h0m16.7 38.5h0m14.8 -24.7h0m-44.8 21.6h0m29.5 1.3h0m14.5 -29.5h0m-25.7 23.2h0m-2.5 5.3h0m22.3 -3.7h0m-26 -2.9h0m18.9 1.9h0m-2.7 -28.8h0m-37.4 7.7h0m56.8 29h0m-24.1 -5.6h0" stroke="#c47cee" stroke-width="3.5" stroke-linecap="round" fill="none" opacity="0.9"/>
<path d="M213.6 630.6h0m52.1 30.7h0m0.4 6.3h0m1.1 -25.2h0m-55.8 2.5h0m31.1 5.6h0m-17.3 18h0m41.9 -31.2h0m-36.3 0.2h0m-4 16.3h0m15.5 12.8h0m22.6 -39.8h0m-32 -0.8h0m37.5 28.6h0m-15.9 7.3h0m13.1 5.9h0m-15.8 -28.8h0m-6 -8.1h0m20.4 1.2h0m-5.8 15.3h0m-38.2 22.1h0m15.6 -0.4h0m-6.8 -19.2h0m-13.7 16.1h0m37.5 -29.5h0m-34.5 9.7h0m39.1 -17.6h0m-41.4 10.5h0m51.3 2.9h0m-37.4 -12.7h0m12.5 40.7h0m-33.8 -36.7h0m45.9 24.6h0m6.5 -31.2h0m-34.1 16.1h0m39.8 26.4h0m-52.6 -28.6h0m20.7 8.6h0m20.7 23.5h0m1 -40.3h0m-12.9 6.3h0m16.1 -9.7h0m-23 42.1h0m-8 -24.9h0m20.7 17.8h0m-40.7 -15.3h0m2.2 -4.4h0m10.6 -1.6h0m34.8 30.2h0m-34.5 -15.4h0m-5.8 -22.3h0m45.6 -3.1h0m0.3 14.9h0m-39.9 21.2h0m23.3 -24.5h0m25.6 -11.4h0m-20.9 5.8h0m5.7 20.6h0m-11.4 14h0m12.7 -12.9h0m-42.8 -32.8h0m7.2 43.2h0m-7.1 -40.9h0m20.5 8.9h0m-9.2 19.3h0m28.9 -26.3h0m-21.7 12.9h0m-19.4 -6.8h0m45.9 4.9h0m-36.9 17.7h0m-3.4 -9.9h0m7.9 -15.5h0m-12.9 3.8h0m36.5 10.7h0m0 6.1h0m-13.5 14.7h0m14.9 -1h0m-25.2 -32.2h0m31.5 -6.8h0m-12.7 -2.5h0m16.5 -0.6h0m1.3 9.7h0m-20.4 6.3h0m-7.6 -11.4h0m-11.6 -1.4h0m14.3 15.2h0m28.5 -13h0m-51 31.3h0m24.4 -34.9h0m6.9 15h0m-38.6 -11.9h0m55.6 34.6h0m6.8 -16.3h0m-22.8 -14.1h0m13.1 -9.9h0m1.7 16.9h0m-34.3 13.2h0m14 -25.9h0m-3.2 9.9h0m-2.4 5.8h0m9.2 -14.4h0m17.7 28.8h0m-10.9 -3.9h0m10.4 -11.3h0m0.2 17.2h0m6.5 -2.6h0m-57.9 -7.4h0m52.8 -14.1h0m-33.1 21.1h0m28.5 -20.8h0m-16.7 -2.8h0m-28.7 -5.9h0m49.5 -3.4h0m-24.7 11.5h0m-20.5 31.6h0m48.6 -32.4h0m-22.8 32.2h0m-2.4 -12h0m-14.4 -5.5h0m22.4 -9.2h0m0.1 13.5h0m5.4 -28.9h0m-30.2 34.4h0m4.7 -26.6h0m14.9 17.8h0m-25.7 -7.4h0m42.2 -17h0m-20 11.4h0m-1.6 11.6h0m-27.8 11.9h0m33.9 -29.8h0m-3.1 1.6h0m8 -9h0m-16.8 20.8h0m10.8 8.4h0m23.9 -4.5h0m-32.5 20.2h0m3.3 -8.5h0m10 -25.5h0m-22.2 30.3h0m-11.7 -18.5h0m52 -20.1h0m-15.2 9.8h0m-28.7 20.6h0m27.5 8.4h0m2.6 4.7h0m-7.4 -43.2h0m-33.3 12.9h0m39.7 19.4h0m-11.3 -16.8h0m-13.5 24.5h0m23.6 -16.9h0m-18.7 -1.4h0m33 -20.5h0m-22 1.7h0m-10.8 13.7h0m-17.4 6.9h0m-1.6 -19h0m42.7 15.7h0m-40.7 -17.2h0m15.9 10.7h0m-19.3 27.3h0m53.7 -0.8h0m-13.4 -12.2h0m16.3 2.6h0m-34.9 -4.6h0m28 -8h0m-46.6 -4.7h0m9.6 -5.8h0m39 20.7h0m-37.9 -6.9h0m-15.9 13.1h0m17.3 -9h0m13.4 15.4h0m-30.6 -32.4h0m14.6 26.6h0m14.5 -11.1h0m14.4 7.8h0m-46.2 -23.9h0m40.2 32h0m-15.4 -41.6h0m-19.2 17.8h0m53 -0.2h0m-56.4 -6.2h0m25.3 18.5h0m-21 -29.4h0m-1.3 29.5h0m54.9 -24h0m-7.7 22.9h0m-40.3 11.1h0m18.7 -30.4h0m20.3 -9.2h0m-23.9 34.6h0m2.9 -23.8h0m-17.8 19.9h0" stroke="#b058e4" stroke-width="2.4" stroke-linecap="round" fill="none"/>
<path d="M267 629h0m4 3.9h0m-19.5 36.6h0m-9.5 -32.9h0m15 36.2h0m-43 -16.4h0m26.1 11.7h0m7.7 -23.1h0m-8.6 -10.9h0m-24.2 0h0m27 37.4h0m-25.4 -3.1h0m43.5 -23.5h0m-22.1 9.7h0m14.5 5.3h0m12.1 3.1h0m6.2 -30.4h0m-36.4 35.7h0m34.8 -5.2h0m-24.9 -13.7h0m-6.5 -16.2h0m-3.8 14.1h0m21.7 20.5h0m13.6 2.3h0m-5.8 -43.4h0m-13.7 42.2h0m3 -40h0m-6.9 8.8h0m-19.8 0.2h0m-4.5 -11.8h0m31.3 6h0m-30 -3.4h0m1.4 32.8h0m-0.8 4h0m0.2 -30.9h0m1.1 -6.1h0m14.1 21.9h0m-8.4 3.8h0m-11.3 5.2h0m44.8 8h0m-50.7 -23.2h0m4.6 -16.1h0m15.6 29.3h0m-5 -7.9h0m-11.1 -14.4h0m3.6 23h0m25.2 -23.4h0m-22.7 11.7h0m46.3 24.8h0m1.8 -34.5h0m-19.8 -1.7h0m-26.5 19.7h0m-7.6 -25.3h0m8.9 36.8h0m-4 -18.6h0m11 -9.9h0m-20.3 -6.6h0m55.4 26.5h0m-45.5 4.4h0m5.6 -22.4h0m24.2 13.8h0m-12.5 -16h0m-8.9 24.5h0m41.5 -5.6h0m-9.1 7.2h0m-42.4 -32.9h0m43.8 38.8h0m6.1 -40.9h0m-10.9 30.7h0m-48.1 -31.8h0m52.2 18.8h0m-41.3 -6.9h0m-9.5 4.9h0m1 8.8h0m45.5 9.8h0m-44.3 -10.3h0m34.7 -24.4h0m4.1 -0.6h0m-2.9 38.6h0m11.7 -17.8h0m-18.1 -7.5h0m7.4 -3.6h0m-10.7 2.4h0m23.2 -8.1h0m-32.6 2.6h0m19.2 33.8h0m2.5 -19h0m-38.5 -20.3h0m44 34.2h0m-24.3 -21.2h0m10.4 13h0m-15.4 -10.7h0m21.4 -8.3h0m4 9.2h0m3 -2.2h0m-33.5 -16.4h0m5.2 30h0m21.4 -4.9h0m18.5 20.9h0m-13.1 -34.6h0m5.3 22.3h0m-46.5 1.2h0m-6.6 -33.6h0m43.9 3.6h0m-8.7 2.5h0m-3 6.3h0m-5.4 20.6h0m-8.3 -3.5h0m25.5 -30.3h0m5.9 44.9h0m-14.8 -6.1h0m-9.4 -22.1h0m26.7 17.8h0m-24.8 -18.1h0m7.5 -4.5h0m-24.3 -3.7h0m29.9 1.3h0" stroke="#8a46c2" stroke-width="1.4" stroke-linecap="round" fill="none"/>
</g>
<rect x="209.5" y="625.7" width="63.6" height="47.4" fill="none" stroke="#0a0a0a" stroke-width="1.8"/>
<rect x="209.5" y="677.5" width="63.6" height="47.4" fill="#fbf6fc"/>
<g clip-path="url(#c46)" filter="url(#b1)">
<path d="M254.4 716.1h0m-8.6 -30.7h0m21.9 14.8h0m-0.1 -1.7h0m-30 12.6h0m-2.7 -17.9h0m21.4 30.3h0m-39.5 -22.8h0m19.5 1.2h0m17.7 22.7h0m5 -5.6h0m-49.5 5.4h0m27.3 -33.6h0m-26 10h0m33.9 16.8h0m-12 -9.6h0m38.6 3.5h0m-27.7 -25.5h0m-33.1 36.3h0m12.7 -25.7h0m10.1 -10.3h0m-13.6 -1.4h0m41.7 23.7h0m-42.9 -12.5h0m50.5 -11.9h0m-38 28.6h0m9.7 5.1h0m0.4 -19.5h0m0.6 -1.5h0m-30.5 5.9h0m16.6 9.3h0m36.7 -10.8h0m-28.2 18.1h0m25.5 -16.9h0m-33.5 -23.2h0m31.8 24.4h0m-1.4 -12.8h0m-13.1 14.8h0m-23.9 7.2h0m49.3 -31.8h0m-37.1 40h0m-2.9 -8.2h0m-0.3 -24.9h0m7.6 26.2h0m-23.7 -30.2h0m54.4 8h0m-10.4 30.6h0m-37.9 -4.1h0m3 5.4h0m26.4 -39h0m-39.3 15h0m59.2 20.5h0m-3.7 -10.9h0m-41.4 -3.8h0m10.6 -17.6h0m25.1 7.7h0m-45.6 1.8h0m6.3 1.3h0m46.5 0.2h0m-43.8 -19.1h0m21.5 41.8h0m-35.7 -7.2h0m58.3 -6.9h0m-26.4 -24.7h0m-9.9 35.5h0m2.6 5.6h0m25.7 -18.8h0m-48.8 0.4h0m5.4 9.2h0m36.8 -32.1h0m-12.2 12.5h0m14.8 28.3h0m1.2 -38.1h0m-12.4 -7.1h0m19.9 8.5h0m-52.9 7.9h0m36.1 29.8h0m-25.9 -7.2h0m4.3 1.5h0m10.7 -7.4h0m7.9 -20.5h0m-22.8 -2.2h0m36.3 24.7h0m3.8 1.7h0m-7 -36.5h0" stroke="#c47cee" stroke-width="3.5" stroke-linecap="round" fill="none" opacity="0.9"/>
<path d="M237.5 715.8h0m24.3 8.9h0m-45.6 -10.9h0m37.6 10.8h0m-42.6 -33.9h0m11.2 -3.5h0m4.8 14.5h0m33.5 -4.2h0m11.7 -5h0m-55.6 6.8h0m23.2 -1.2h0m19.5 8.3h0m-24.5 -28.7h0m-3.8 3h0m31.3 9.3h0m-29 -1.3h0m5.1 23h0m29.2 -14.4h0m-16.1 -16.2h0m7.5 24.7h0m-36 -1.8h0m18.2 -0.8h0m18.7 -12.6h0m-43.2 27.8h0m-6.5 -18.6h0m25.8 -7.2h0m-6.6 26.4h0m-0.8 -28.4h0m27.3 9.1h0m14.9 4.3h0m1.2 -2.5h0m-55.4 3h0m44.8 11h0m-48.5 3h0m-1.7 -14.1h0m44.4 -1.7h0m-2.5 -17.8h0m-12 25.2h0m6.7 -3.4h0m-21.1 -16.6h0m-14.1 15h0m42.9 -0.6h0m3.3 -23.6h0m-19.6 28.1h0m-13.9 -27.8h0m43.8 39.3h0m-57.9 -18.9h0m16.9 -12.5h0m13 8.8h0m8 -11.3h0m4.6 6.6h0m11.8 -1.5h0m-10.1 12.4h0m6.7 -19.7h0m-27.9 40h0m-2.4 -14.5h0m-2.5 0.1h0m18.8 13.7h0m-8 -12.3h0m-21.6 -3.8h0m32.9 0.1h0m-19.5 -12h0m38.3 1.4h0m-41.3 -3h0m-15.8 23.6h0m27.2 -33.8h0m32.3 18.9h0m-20.2 18.6h0m-31 -6.4h0m-5.4 -11.3h0m1.6 11h0m39.3 4.1h0m0.4 -30h0m11.5 21.4h0m-57.7 -23.1h0m53.1 36.2h0m-54.3 -12.4h0m44.4 -14h0m-39.1 -14.5h0m32.8 26.1h0m20.1 -11.6h0m-55.9 -2.5h0m2.6 -7.4h0m41.7 -7.7h0m-36.5 28.2h0m-9.7 -12.9h0m37.9 29.9h0m-1.7 -45.9h0m13.3 24.7h0m11.6 -15.9h0m-31.7 28.1h0m-22.3 -5.5h0m45.6 -2h0m-9.7 3.3h0m-13.7 -26.6h0m-25.6 39.3h0m-2 -37.2h0m51.3 24.7h0m8.5 -15.6h0m-56.7 22.9h0m57 -36.8h0m-58.4 6.3h0m56 14.3h0m-32.3 -0.3h0m-12.9 13.3h0m5.1 6.7h0m43.1 -43.2h0m-24.7 16.9h0m9 4.3h0m-45.9 4.6h0m12.8 -11.9h0m-1.8 0.1h0m-6.2 1.9h0m19.3 17.1h0m-14.6 -2.2h0m-1.8 -13.3h0m8.8 -15.4h0m26.7 -1.5h0m6.9 -0.7h0m3 26h0m-10 6.6h0m-16.2 -22.6h0m18.9 30.2h0m-3.6 -12.3h0m-3.7 -21.3h0m-12.7 2.6h0m14.5 5.9h0m2.8 4.4h0m6.9 19h0m7.4 -39.7h0m-0.4 11.8h0m-12.4 11.3h0m2.7 22.8h0m-39 -10.8h0m51.1 -16.1h0m-48 14.8h0m5.4 -32.9h0m3.2 43.9h0m-4.7 -33.1h0m17.8 -6.6h0m-23.2 32.2h0m26.4 -29.7h0m-10.3 13h0" stroke="#b058e4" stroke-width="2.4" stroke-linecap="round" fill="none"/>
<path d="M223.7 719.6h0m5.2 -39.2h0m42.1 34.9h0m-6.7 -2.6h0m-46.7 -1.4h0m41.7 12.9h0m-8 -2.7h0m2.7 -18.1h0m-17.1 8.9h0m18.2 -34.7h0m-9.3 6.1h0m-24.1 27.1h0m25.1 -12.4h0m-27.6 -10.9h0m25.2 12.5h0m26.3 2.6h0m-39.6 19.2h0m-7.4 -42.1h0m36.3 40.4h0m-28.8 -16.5h0m-12.6 -15.7h0m26.9 11h0m-13.9 1.1h0m-14.7 -21.3h0m39.8 39.8h0m-17.9 -2.2h0m-19.7 7.1h0m45.3 -30.7h0m-2.2 -11h0m-46.4 13.8h0m16.9 -11.2h0m33.5 10.2h0m1.1 -3.4h0m-21.9 20.9h0m23.8 -16.5h0m-43.8 -2.5h0m43.3 3.5h0m-7.1 -3.3h0m7.6 -11.2h0m-16.8 10.8h0m-16.5 12.7h0m0.7 5.5h0m-5.5 -9.8h0m35.5 -22.1h0m-33.2 20.4h0m28.5 24.1h0m1.3 -18.1h0m5.4 3.1h0m-44.2 6.9h0m42.5 -16.7h0m-57.3 -10.5h0m61.1 -10.7h0m-52 3.5h0m45 43.7h0m-34.1 -20.9h0m3.5 17.7h0m7.7 -31.3h0m20.2 2h0m-30.8 31.5h0m0.1 -30.4h0m8.8 2.8h0m12.1 -12.2h0m21.1 16.6h0m-22.4 -9.3h0m0.6 7.7h0m-29.7 -6.8h0m38.8 16.3h0m-43.2 -6.9h0m53.9 19.8h0m-30 -35.2h0m6.3 17.5h0m-26.3 -2.3h0m52.1 -1.8h0m-21.1 19.9h0m-6.8 -28.9h0m28.6 28.5h0m-38.2 -7h0m9.2 -18.5h0m-30.3 4.6h0m40.2 -13.1h0m-25.4 11.3h0m11.1 -15.9h0m8.4 16.2h0m6 26.1h0m-9.2 -13h0" stroke="#8a46c2" stroke-width="1.4" stroke-linecap="round" fill="none"/>
</g>
<rect x="209.5" y="677.5" width="63.6" height="47.4" fill="none" stroke="#0a0a0a" stroke-width="1.8"/>
<rect x="277" y="625.7" width="63.2" height="47.4" fill="#fbf6fc"/>
<g clip-path="url(#c47)" filter="url(#b1)">
<path d="M328.2 632.6h0m-23.3 19.2h0m-4.9 -20.4h0m24.2 19.1h0m-13.5 6.8h0m-0.9 -18.9h0m23.8 11.9h0m-8.9 5h0m-26 16.8h0m39.7 -26.9h0m-51.6 9.2h0m44.7 -21.8h0m-25.5 28.9h0m5.3 6.7h0m-21.9 -10.3h0m32.1 -22.2h0m12.7 16.7h0m-42.3 -1.3h0m-3.9 -17.8h0m40.2 9.2h0m9.5 0.5h0m-8.7 14.1h0m8.5 -13.4h0m0.9 -1.1h0m-39.9 -7h0m23.9 12.3h0m-12 -0.9h0m-21.7 -0.8h0m17.4 5.5h0m-18.7 9.1h0m0.2 -6.7h0m9.7 -2.3h0m19.2 3.4h0m-6.9 16.5h0m6.5 0.7h0m14.1 -7.5h0m-13.6 -36.4h0m-10.2 27.2h0m0.8 12.2h0m3.5 -32.2h0m16.3 25.6h0m10.8 -15.4h0m1.5 -7.1h0m-11.7 -11.7h0m-22 38.4h0m6.8 -3.3h0m-21.3 -23.2h0m38.1 28.6h0m-41.4 -14.5h0m14.9 13.9h0m-1.6 -7.4h0m-18 -6.9h0m2.8 -23.5h0m-5.1 -1.7h0m54.7 15.3h0m0.3 -1.8h0m-31.3 14.6h0m-8.2 -4.1h0m5.3 -9.6h0m-17.2 -13h0m49.7 18h0m4.8 24.2h0m-4.5 1.7h0m-53.6 -24h0m40.4 5.9h0m9 -21.8h0m-41.3 2.1h0m-3.6 11.9h0m-5.8 7.4h0m38.5 -17.7h0m8.8 -6h0m-37.1 17.9h0m5.4 -10.3h0m19.5 26.5h0m-29.5 -13.4h0m38 19.8h0" stroke="#e6d6f2" stroke-width="2.4" stroke-linecap="round" fill="none" opacity="0.9"/>
<path d="M325.6 649h0m-29.2 15.8h0m4.4 -18.9h0m7.6 4.6h0m-18.4 9.9h0m2.5 -9.1h0m32.2 11.9h0m-0.7 -8.5h0m-8.3 17.3h0m-1.6 -44.1h0m10.8 34.5h0m-6.1 -29.4h0m13.3 9.2h0m4.6 -1.4h0m-16.7 23.5h0m17.6 0.9h0m-40.4 6h0m28.6 1.5h0m-7.1 -7.7h0m-6.3 5.5h0m18.8 -14.8h0m7.5 -13.3h0m-22 17.6h0m-23.7 -12.3h0m40.9 9.4h0m-36.2 12.3h0m-8.3 -27.4h0m27.8 -3.4h0m9.7 8.8h0m12.4 -10.5h0m-31.5 -11.1h0m19.7 13.5h0m-2.5 19.9h0m-23.8 7h0m29.9 -32.7h0m-34 27h0m-10.1 -33.2h0m15.7 15.8h0m-1.6 6.6h0m20.6 17.8h0m4.6 -19.4h0m-24.5 13.8h0m33.9 2.3h0m-18.7 4.5h0m18.1 -32.1h0m-43.5 3h0m12.4 -12.9h0m-10.4 21.7h0m1 -20h0m35.8 20.4h0m-24.6 14.2h0m3.7 2.1h0m-10.7 -22.9h0m17.9 29.8h0m-3.1 -5.2h0m-27.3 -3.9h0m7.1 4.9h0m19.2 -12.2h0m-10.2 -29.9h0m-4.7 7.1h0m23 6.3h0m-38.8 -11.2h0m22.9 17.8h0m17.5 1.8h0m-42.1 17.3h0m-2.1 -19.2h0m29.8 25.4h0m4.8 -7.1h0m20.5 -13.3h0m-48.6 14.9h0m44 -37.5h0m-38.1 17.6h0m31.3 19.5h0m-12.1 -9.9h0m-32.1 -2.6h0m56.4 4.1h0m-39.1 0.9h0m4 0.8h0m24.8 -26.1h0m15.9 18.2h0m-25.8 16.6h0m-34.8 -38.2h0m52.5 29.7h0m-28.3 -15.9h0m7.5 0h0m6.9 -6.2h0m-34.3 29.4h0m14.9 -33.3h0m23.3 0h0m16 32.1h0m0 1.7h0m-10.1 -11.1h0m-26.6 -15.1h0m-15.7 -10.7h0m-5 22.6h0m33.1 16.6h0m-22.8 -0.7h0m49.5 -25.6h0m-40.8 23.3h0m-13.4 -6.6h0m46.9 -33.2h0m-42.6 7h0m7 20.1h0m40.6 0.8h0m1.7 -3.6h0m-2.4 7.5h0m-51.8 14.2h0m-2 -40.1h0m13.4 -4.6h0m-15.7 42.7h0m7.2 1.9h0m14.7 -6.2h0m12.7 -18.7h0m-0.2 14.3h0m0.1 7.8h0m-3 -24.1h0m10.3 11.8h0m3.6 -29.5h0m-25.9 14.8h0m13.8 16.2h0m-13.2 -24.6h0m-18.7 4.2h0m3.6 -6.2h0m8.8 3h0m5 13.9h0m7.7 23.2h0m-10.5 -14.9h0" stroke="#cdb0e4" stroke-width="1.5" stroke-linecap="round" fill="none"/>
<path d="M296.4 640.6h0m-12 29h0m16.6 -39.2h0m11.1 38.7h0m-6.2 -12.2h0m-8.6 -15.5h0m-5.2 1.5h0m12.1 -4.7h0m-0.5 31.8h0m12 -22h0m12.6 8.3h0m-21.4 -7.7h0m-19.5 -9.5h0m26 22.6h0m-3.9 1.4h0m2.2 -2.6h0m11.8 -17.1h0m-10.8 20h0m-5.7 -22h0m-5.6 -9.1h0m38 20.3h0m-42.4 -24h0m-2.9 2.6h0m8.6 31.7h0m24.9 -31.7h0m-16.8 32.2h0m-6.7 -9.7h0m-19.4 13h0m36.8 -25.7h0m-15.2 -8.2h0m18.5 8.8h0m10.7 25.4h0m-9 -16.9h0m-44.2 10h0m20.7 -15.3h0m-2.4 19h0m34.5 8.4h0m-14.6 -33.5h0m-22.8 20.9h0m37.1 -29h0m-30.4 25.5h0m25.8 -27.5h0m0 42.4h0m-44.8 -8.2h0m9.1 -16.2h0m12.2 19.6h0m26 -31.9h0m-26.6 36.6h0m3.7 -16.8h0m-21 17.4h0" stroke="#a684cc" stroke-width="1" stroke-linecap="round" fill="none"/>
</g>
<rect x="277" y="625.7" width="63.2" height="47.4" fill="none" stroke="#0a0a0a" stroke-width="1.8"/>
<rect x="277" y="677.5" width="63.2" height="47.4" fill="#fbf6fc"/>
<g clip-path="url(#c48)" filter="url(#b1)">
<path d="M320.6 684.6h0m-21.2 29.9h0m37.6 -27.1h0m-19.4 -5.2h0m21.3 17.2h0m-49.8 -20.7h0m23.2 0.5h0m-8 42.8h0m5.4 -15.6h0m3.3 3.7h0m17.6 -13.8h0m-25.4 17.3h0m8 -23.2h0m-16.1 28.2h0m37.7 -35.7h0m-24.5 24.4h0m-16.9 -15.5h0m24 0.4h0m-9.6 -8.5h0m-24.6 18.3h0m52.7 -4.7h0m-8.6 6.3h0m-22.7 -20.1h0m15.1 33.3h0m5.4 -34.8h0m-15.1 4h0" stroke="#e6d6f2" stroke-width="2.4" stroke-linecap="round" fill="none" opacity="0.9"/>
<path d="M314 722.3h0m-15.1 -34h0m27 4h0m-35.8 14.9h0m17.4 -18.6h0m-0.9 30.8h0m-20.7 -36.7h0m3.3 0.4h0m13 2.3h0m32 35.6h0m-49.6 -37.9h0m55.4 39h0m-0.7 -7.8h0m-28.6 -10.7h0m10.8 -9.1h0m-24.1 4.4h0m0.7 -14.3h0m29 -6.1h0m-28.4 43h0m38 -19.8h0m-8.8 17.2h0m-33.8 -7.2h0m32 10.9h0m-14.9 -43.7h0m18.3 7.2h0m-0.5 38.4h0m-1.4 -1h0m10.7 -41.6h0m-30.4 4.5h0m28.4 1.9h0m-8.5 8.3h0m-27.6 13.1h0m26.2 -11.2h0m7.6 4.6h0m-27.3 -10h0m31 9.7h0m-52 20.8h0m23.2 -22.1h0m-15.2 -1.4h0m34.3 18.2h0m-37.8 -14.5h0m-2 2.8h0m29.6 -5.4h0m-3.3 9h0" stroke="#cdb0e4" stroke-width="1.5" stroke-linecap="round" fill="none"/>
<path d="M306 680.2h0m33.2 24.3h0m-24.8 3.2h0m-33.6 -10.4h0m58.8 -12.7h0m-19.1 40.1h0m-19.3 -25.7h0m-20.2 13.8h0m26.7 0.8h0m-24.1 -14.3h0m34.8 -14.5h0m-14.4 15.7h0m-4.8 -6.7h0m36.1 29.8h0m-8.6 -26.4h0m-45.5 3.4h0m51.2 -19.4h0" stroke="#a684cc" stroke-width="1" stroke-linecap="round" fill="none"/>
</g>
<rect x="277" y="677.5" width="63.2" height="47.4" fill="none" stroke="#0a0a0a" stroke-width="1.8"/>
<text x="103" y="618.4" font-size="10.6" text-anchor="middle">Vector</text>
<text x="170.3" y="618.4" font-size="10.6" text-anchor="middle">FBXL8</text>
<text x="244.3" y="618.4" font-size="10.6" text-anchor="middle">Vector</text>
<text x="310.3" y="618.4" font-size="10.6" text-anchor="middle">FBXL8</text>
<text x="65.2" y="652.4" font-size="10.7" text-anchor="end">Migration</text>
<text x="65.2" y="708.2" font-size="10.7" text-anchor="end">Invasion</text>
<text x="132.4" y="742.6" font-size="13.4" text-anchor="middle">PANC-1</text>
<text x="271.6" y="742.6" font-size="13.4" text-anchor="middle">CFPAC</text>
<text x="326" y="720.2" font-size="7.8" text-anchor="middle">100µm</text>
<rect x="315" y="721.4" width="22.2" height="1.4" fill="#000"/>
<path d="M410.8 694.2V653.5H421.6V694.2" fill="none" stroke="#a6a6a6" stroke-width="1.5"/>
<path d="M426.8 694.2V675H438.1V694.2" fill="none" stroke="#e8383c" stroke-width="1.5"/>
<line x1="416.2" y1="651" x2="416.2" y2="653.5" stroke="#a6a6a6" stroke-width="1"/>
<line x1="413.6" y1="651" x2="418.8" y2="651" stroke="#a6a6a6" stroke-width="1"/>
<line x1="403.3" y1="637.2" x2="403.3" y2="695" stroke="#000" stroke-width="1.5"/>
<line x1="402.6" y1="694.2" x2="445.3" y2="694.2" stroke="#000" stroke-width="1.5"/>
<line x1="399.9" y1="638" x2="403.3" y2="638" stroke="#000" stroke-width="1.5"/>
<text x="397.5" y="641.1" font-size="8.5" text-anchor="end" font-weight="700">250</text>
<line x1="399.9" y1="649.3" x2="403.3" y2="649.3" stroke="#000" stroke-width="1.5"/>
<text x="397.5" y="652.4" font-size="8.5" text-anchor="end" font-weight="700">200</text>
<line x1="399.9" y1="660.6" x2="403.3" y2="660.6" stroke="#000" stroke-width="1.5"/>
<text x="397.5" y="663.7" font-size="8.5" text-anchor="end" font-weight="700">150</text>
<line x1="399.9" y1="671.8" x2="403.3" y2="671.8" stroke="#000" stroke-width="1.5"/>
<text x="397.5" y="674.9" font-size="8.5" text-anchor="end" font-weight="700">100</text>
<line x1="399.9" y1="683" x2="403.3" y2="683" stroke="#000" stroke-width="1.5"/>
<text x="397.5" y="686.1" font-size="8.5" text-anchor="end" font-weight="700">50</text>
<line x1="399.9" y1="694.2" x2="403.3" y2="694.2" stroke="#000" stroke-width="1.5"/>
<text x="397.5" y="697.3" font-size="8.5" text-anchor="end" font-weight="700">0</text>
<line x1="416.2" y1="694.2" x2="416.2" y2="697.6" stroke="#000" stroke-width="1.5"/>
<text font-size="8.2" text-anchor="end" font-weight="700" transform="translate(417.4 705.6) rotate(-45)">Vector</text>
<line x1="432.4" y1="694.2" x2="432.4" y2="697.6" stroke="#000" stroke-width="1.5"/>
<text font-size="8.2" text-anchor="end" font-weight="700" transform="translate(433.6 705.6) rotate(-45)">FBXL8</text>
<text font-size="7.5" text-anchor="middle" font-weight="700" transform="translate(381.6 666.5) rotate(-90)">Cell Number</text>
<line x1="415.9" y1="640" x2="432.6" y2="640" stroke="#000" stroke-width="1.2"/>
<text x="424.2" y="640.7" font-size="9.4" text-anchor="middle" font-weight="700">***</text>
<circle cx="411.6" cy="654.4" r="1.9"/>
<circle cx="416.2" cy="649.7" r="1.9"/>
<circle cx="420.8" cy="653.7" r="1.9"/>
<rect x="426.3" y="674.3" width="3.4" height="3.4" fill="#000"/>
<rect x="430.8" y="672.9" width="3.4" height="3.4" fill="#000"/>
<rect x="435.3" y="673.1" width="3.4" height="3.4" fill="#000"/>
<text x="424.2" y="738" font-size="10" text-anchor="middle" font-weight="700">PANC-1</text>
<text x="424.5" y="620.4" font-size="10" text-anchor="middle" font-weight="700">Migration</text>
<path d="M489.9 695.8V647H500.9V695.8" fill="none" stroke="#a6a6a6" stroke-width="1.5"/>
<path d="M506.4 695.8V674.3H517.6V695.8" fill="none" stroke="#e8383c" stroke-width="1.5"/>
<line x1="482.6" y1="638.4" x2="482.6" y2="696.5" stroke="#000" stroke-width="1.5"/>
<line x1="481.9" y1="695.8" x2="525" y2="695.8" stroke="#000" stroke-width="1.5"/>
<line x1="479.2" y1="639.1" x2="482.6" y2="639.1" stroke="#000" stroke-width="1.5"/>
<text x="476.8" y="642.2" font-size="8.5" text-anchor="end" font-weight="700">200</text>
<line x1="479.2" y1="653.2" x2="482.6" y2="653.2" stroke="#000" stroke-width="1.5"/>
<text x="476.8" y="656.3" font-size="8.5" text-anchor="end" font-weight="700">150</text>
<line x1="479.2" y1="667.6" x2="482.6" y2="667.6" stroke="#000" stroke-width="1.5"/>
<text x="476.8" y="670.7" font-size="8.5" text-anchor="end" font-weight="700">100</text>
<line x1="479.2" y1="681.7" x2="482.6" y2="681.7" stroke="#000" stroke-width="1.5"/>
<text x="476.8" y="684.8" font-size="8.5" text-anchor="end" font-weight="700">50</text>
<line x1="479.2" y1="695.8" x2="482.6" y2="695.8" stroke="#000" stroke-width="1.5"/>
<text x="476.8" y="698.9" font-size="8.5" text-anchor="end" font-weight="700">0</text>
<line x1="495.4" y1="695.8" x2="495.4" y2="699.1" stroke="#000" stroke-width="1.5"/>
<text font-size="8.2" text-anchor="end" font-weight="700" transform="translate(496.6 707.2) rotate(-45)">Vector</text>
<line x1="512" y1="695.8" x2="512" y2="699.1" stroke="#000" stroke-width="1.5"/>
<text font-size="8.2" text-anchor="end" font-weight="700" transform="translate(513.2 707.2) rotate(-45)">FBXL8</text>
<text font-size="7.5" text-anchor="middle" font-weight="700" transform="translate(459.6 667.7) rotate(-90)">Cell Number</text>
<line x1="495.4" y1="640.4" x2="512.1" y2="640.4" stroke="#000" stroke-width="1.2"/>
<text x="503.8" y="641.1" font-size="9.4" text-anchor="middle" font-weight="700">****</text>
<circle cx="490.7" cy="647.6" r="1.9"/>
<circle cx="495.3" cy="646.6" r="1.9"/>
<circle cx="499.9" cy="646.8" r="1.9"/>
<rect x="505.7" y="674.1" width="3.4" height="3.4" fill="#000"/>
<rect x="510.2" y="670.7" width="3.4" height="3.4" fill="#000"/>
<rect x="514.7" y="672.1" width="3.4" height="3.4" fill="#000"/>
<text x="503.2" y="739.3" font-size="10" text-anchor="middle" font-weight="700">PANC-1</text>
<text x="503.5" y="620.8" font-size="10" text-anchor="middle" font-weight="700">Invasion</text>
<path d="M566.5 697.8V658.2H577.5V697.8" fill="none" stroke="#a6a6a6" stroke-width="1.5"/>
<path d="M582.9 697.8V679.8H593.9V697.8" fill="none" stroke="#e8383c" stroke-width="1.5"/>
<line x1="558.6" y1="640.2" x2="558.6" y2="698.5" stroke="#000" stroke-width="1.5"/>
<line x1="557.9" y1="697.8" x2="601.4" y2="697.8" stroke="#000" stroke-width="1.5"/>
<line x1="555.2" y1="641" x2="558.6" y2="641" stroke="#000" stroke-width="1.5"/>
<text x="552.8" y="644.1" font-size="8.5" text-anchor="end" font-weight="700">400</text>
<line x1="555.2" y1="655.1" x2="558.6" y2="655.1" stroke="#000" stroke-width="1.5"/>
<text x="552.8" y="658.2" font-size="8.5" text-anchor="end" font-weight="700">300</text>
<line x1="555.2" y1="669.3" x2="558.6" y2="669.3" stroke="#000" stroke-width="1.5"/>
<text x="552.8" y="672.4" font-size="8.5" text-anchor="end" font-weight="700">200</text>
<line x1="555.2" y1="683.4" x2="558.6" y2="683.4" stroke="#000" stroke-width="1.5"/>
<text x="552.8" y="686.5" font-size="8.5" text-anchor="end" font-weight="700">100</text>
<line x1="555.2" y1="697.8" x2="558.6" y2="697.8" stroke="#000" stroke-width="1.5"/>
<text x="552.8" y="700.9" font-size="8.5" text-anchor="end" font-weight="700">0</text>
<line x1="572" y1="697.8" x2="572" y2="701.1" stroke="#000" stroke-width="1.5"/>
<text font-size="8.2" text-anchor="end" font-weight="700" transform="translate(573.2 709.2) rotate(-45)">Vector</text>
<line x1="588.4" y1="697.8" x2="588.4" y2="701.1" stroke="#000" stroke-width="1.5"/>
<text font-size="8.2" text-anchor="end" font-weight="700" transform="translate(589.6 709.2) rotate(-45)">FBXL8</text>
<text font-size="7.5" text-anchor="middle" font-weight="700" transform="translate(537.3 669.6) rotate(-90)">Cell Number</text>
<line x1="572" y1="642" x2="588.8" y2="642" stroke="#000" stroke-width="1.2"/>
<text x="580.4" y="642.4" font-size="9.4" text-anchor="middle" font-weight="700">****</text>
<circle cx="567.4" cy="659.5" r="1.9"/>
<circle cx="572" cy="656.6" r="1.9"/>
<circle cx="576.5" cy="658.2" r="1.9"/>
<rect x="582.1" y="678.9" width="3.4" height="3.4" fill="#000"/>
<rect x="586.6" y="677.9" width="3.4" height="3.4" fill="#000"/>
<rect x="591.1" y="678.1" width="3.4" height="3.4" fill="#000"/>
<text x="580.1" y="742.4" font-size="10" text-anchor="middle" font-weight="700">CFPAC</text>
<text x="580.3" y="622" font-size="10" text-anchor="middle" font-weight="700">Migration</text>
<path d="M646 698.9V654.8H657V698.9" fill="none" stroke="#a6a6a6" stroke-width="1.5"/>
<path d="M662.4 698.9V686.4H673.4V698.9" fill="none" stroke="#e8383c" stroke-width="1.5"/>
<line x1="638.1" y1="641.5" x2="638.1" y2="699.6" stroke="#000" stroke-width="1.5"/>
<line x1="637.4" y1="698.9" x2="681" y2="698.9" stroke="#000" stroke-width="1.5"/>
<line x1="634.8" y1="642.3" x2="638.1" y2="642.3" stroke="#000" stroke-width="1.5"/>
<text x="632.3" y="645.4" font-size="8.5" text-anchor="end" font-weight="700">250</text>
<line x1="634.8" y1="653.7" x2="638.1" y2="653.7" stroke="#000" stroke-width="1.5"/>
<text x="632.3" y="656.8" font-size="8.5" text-anchor="end" font-weight="700">200</text>
<line x1="634.8" y1="665" x2="638.1" y2="665" stroke="#000" stroke-width="1.5"/>
<text x="632.3" y="668.1" font-size="8.5" text-anchor="end" font-weight="700">150</text>
<line x1="634.8" y1="676.4" x2="638.1" y2="676.4" stroke="#000" stroke-width="1.5"/>
<text x="632.3" y="679.5" font-size="8.5" text-anchor="end" font-weight="700">100</text>
<line x1="634.8" y1="687.6" x2="638.1" y2="687.6" stroke="#000" stroke-width="1.5"/>
<text x="632.3" y="690.7" font-size="8.5" text-anchor="end" font-weight="700">50</text>
<line x1="634.8" y1="698.9" x2="638.1" y2="698.9" stroke="#000" stroke-width="1.5"/>
<text x="632.3" y="702" font-size="8.5" text-anchor="end" font-weight="700">0</text>
<line x1="651.5" y1="698.9" x2="651.5" y2="702.2" stroke="#000" stroke-width="1.5"/>
<text font-size="8.2" text-anchor="end" font-weight="700" transform="translate(652.7 710.3) rotate(-45)">Vector</text>
<line x1="667.9" y1="698.9" x2="667.9" y2="702.2" stroke="#000" stroke-width="1.5"/>
<text font-size="8.2" text-anchor="end" font-weight="700" transform="translate(669.1 710.3) rotate(-45)">FBXL8</text>
<text font-size="7.5" text-anchor="middle" font-weight="700" transform="translate(616.5 670.8) rotate(-90)">Cell Number</text>
<line x1="651.4" y1="643.3" x2="667.9" y2="643.3" stroke="#000" stroke-width="1.2"/>
<text x="659.6" y="643.7" font-size="9.4" text-anchor="middle" font-weight="700">****</text>
<circle cx="646.8" cy="656.6" r="1.9"/>
<circle cx="651.5" cy="653.7" r="1.9"/>
<circle cx="656" cy="654.5" r="1.9"/>
<rect x="661.6" y="685.6" width="3.4" height="3.4" fill="#000"/>
<rect x="666.1" y="683.5" width="3.4" height="3.4" fill="#000"/>
<rect x="670.6" y="684.9" width="3.4" height="3.4" fill="#000"/>
<text x="659.8" y="743.2" font-size="10" text-anchor="middle" font-weight="700">CFPAC</text>
<text x="659.8" y="623.9" font-size="10" text-anchor="middle" font-weight="700">Invasion</text>
<text x="15.2" y="797" font-size="21" font-weight="700">G</text>
<text x="47.2" y="831.7" font-size="10.7">Vector</text>
<text x="45.2" y="880.2" font-size="10.7">FBXL8</text>
<rect x="85" y="803.3" width="246" height="122.7" fill="url(#gbg)"/>
<rect x="85" y="895.6" width="246" height="8.2" fill="#dcdcde"/>
<path d="M86.1 895.6v8.1M87.9 895.6v11.6M89.7 895.6v8.1M91.5 895.6v8.1M93.4 895.6v8.1M95.2 895.6v8.1M97 895.6v9.8M98.8 895.6v8.1M100.6 895.6v8.1M102.5 895.6v8.1M104.3 895.6v8.1M106.1 895.6v11.6M107.9 895.6v8.1M109.7 895.6v8.1M111.6 895.6v8.1M113.4 895.6v8.1M115.2 895.6v9.8M117 895.6v8.1M118.8 895.6v8.1M120.7 895.6v8.1M122.5 895.6v8.1M124.3 895.6v11.6M126.1 895.6v8.1M127.9 895.6v8.1M129.8 895.6v8.1M131.6 895.6v8.1M133.4 895.6v9.8M135.2 895.6v8.1M137 895.6v8.1M138.9 895.6v8.1M140.7 895.6v8.1M142.5 895.6v11.6M144.3 895.6v8.1M146.1 895.6v8.1M148 895.6v8.1M149.8 895.6v8.1M151.6 895.6v9.8M153.4 895.6v8.1M155.2 895.6v8.1M157.1 895.6v8.1M158.9 895.6v8.1M160.7 895.6v11.6M162.5 895.6v8.1M164.3 895.6v8.1M166.2 895.6v8.1M168 895.6v8.1M169.8 895.6v9.8M171.6 895.6v8.1M173.4 895.6v8.1M175.3 895.6v8.1M177.1 895.6v8.1M178.9 895.6v11.6M180.7 895.6v8.1M182.5 895.6v8.1M184.4 895.6v8.1M186.2 895.6v8.1M188 895.6v9.8M189.8 895.6v8.1M191.6 895.6v8.1M193.5 895.6v8.1M195.3 895.6v8.1M197.1 895.6v11.6M198.9 895.6v8.1M200.7 895.6v8.1M202.6 895.6v8.1M204.4 895.6v8.1M206.2 895.6v9.8M208 895.6v8.1M209.8 895.6v8.1M211.7 895.6v8.1M213.5 895.6v8.1M215.3 895.6v11.6M217.1 895.6v8.1M218.9 895.6v8.1M220.8 895.6v8.1M222.6 895.6v8.1M224.4 895.6v9.8M226.2 895.6v8.1M228 895.6v8.1M229.9 895.6v8.1M231.7 895.6v8.1M233.5 895.6v11.6M235.3 895.6v8.1M237.1 895.6v8.1M239 895.6v8.1M240.8 895.6v8.1M242.6 895.6v9.8M244.4 895.6v8.1M246.2 895.6v8.1M248.1 895.6v8.1M249.9 895.6v8.1M251.7 895.6v11.6M253.5 895.6v8.1M255.3 895.6v8.1M257.2 895.6v8.1M259 895.6v8.1M260.8 895.6v9.8M262.6 895.6v8.1M264.4 895.6v8.1M266.3 895.6v8.1M268.1 895.6v8.1M269.9 895.6v11.6M271.7 895.6v8.1M273.5 895.6v8.1M275.4 895.6v8.1M277.2 895.6v8.1M279 895.6v9.8M280.8 895.6v8.1M282.6 895.6v8.1M284.5 895.6v8.1M286.3 895.6v8.1M288.1 895.6v11.6M289.9 895.6v8.1M291.7 895.6v8.1M293.6 895.6v8.1M295.4 895.6v8.1M297.2 895.6v9.8M299 895.6v8.1M300.8 895.6v8.1M302.7 895.6v8.1M304.5 895.6v8.1M306.3 895.6v11.6M308.1 895.6v8.1M309.9 895.6v8.1M311.8 895.6v8.1M313.6 895.6v8.1M315.4 895.6v9.8M317.2 895.6v8.1M319 895.6v8.1M320.9 895.6v8.1M322.7 895.6v8.1M324.5 895.6v11.6M326.3 895.6v8.1M328.1 895.6v8.1M330 895.6v8.1" stroke="#808086" stroke-width="0.7" fill="none"/>
<text x="87.5" y="915" font-size="6.6" font-weight="700" fill="#383838">1cm</text>
<text x="106.1" y="915" font-size="7" text-anchor="middle" font-weight="700" fill="#383838">2</text>
<text x="124.3" y="915" font-size="7" text-anchor="middle" font-weight="700" fill="#383838">3</text>
<text x="142.5" y="915" font-size="7" text-anchor="middle" font-weight="700" fill="#383838">4</text>
<text x="160.7" y="915" font-size="7" text-anchor="middle" font-weight="700" fill="#383838">5</text>
<text x="178.9" y="915" font-size="7" text-anchor="middle" font-weight="700" fill="#383838">6</text>
<text x="197.1" y="915" font-size="7" text-anchor="middle" font-weight="700" fill="#383838">7</text>
<text x="215.3" y="915" font-size="7" text-anchor="middle" font-weight="700" fill="#383838">8</text>
<text x="233.5" y="915" font-size="7" text-anchor="middle" font-weight="700" fill="#383838">9</text>
<text x="251.7" y="915" font-size="7" text-anchor="middle" font-weight="700" fill="#383838">10</text>
<text x="269.9" y="915" font-size="7" text-anchor="middle" font-weight="700" fill="#383838">11</text>
<text x="288.1" y="915" font-size="7" text-anchor="middle" font-weight="700" fill="#383838">12</text>
<text x="306.3" y="915" font-size="7" text-anchor="middle" font-weight="700" fill="#383838">13</text>
<text x="324.5" y="915" font-size="7" text-anchor="middle" font-weight="700" fill="#383838">14</text>
<ellipse cx="121.8" cy="834.7" rx="9.2" ry="2.2" fill="#e2dad6" filter="url(#b3)"/>
<g filter="url(#rough)">
<path d="M112.9 814.8Q116 812 119.8 811.7Q123.7 811.5 126.9 813.2Q130 815 131.4 818.4Q132.9 821.9 132.5 825.4Q132.2 828.9 130.1 831.6Q128.1 834.3 124.4 835.3Q120.8 836.3 117.2 836Q113.5 835.6 111.4 833.5Q109.2 831.4 109.9 827.6Q110.6 823.9 110.3 820.8Q109.9 817.7 112.9 814.8Z" fill="url(#tg1)"/>
<g clip-path="url(#c49)" filter="url(#b2)">
<ellipse cx="121.9" cy="822.8" rx="6.6" ry="6.3" fill="#7c1a12" opacity="0.85"/>
<ellipse cx="116" cy="817.6" rx="4.4" ry="3.6" fill="#bf6634" opacity="0.8"/>
<ellipse cx="116.4" cy="830.7" rx="5.5" ry="3.6" fill="#ad4c2a" opacity="0.8"/>
<ellipse cx="126.3" cy="819.4" rx="3.1" ry="3.2" fill="#8a2216" opacity="0.8"/>
<ellipse cx="119.7" cy="819.4" rx="1.3" ry="1.1" fill="#f0c8a0" opacity="0.8"/>
<ellipse cx="125.2" cy="829.6" rx="4" ry="3.2" fill="#a23a22" opacity="0.7"/>
</g></g>
<ellipse cx="170" cy="836.5" rx="11.4" ry="2.2" fill="#e2dad6" filter="url(#b3)"/>
<g filter="url(#rough)">
<path d="M166.8 818.6Q170.5 816.6 174.2 815.7Q178 814.7 180.5 816.1Q183.1 817.5 183.5 820.8Q184 824.1 182.2 827.3Q180.4 830.6 176.5 833.2Q172.6 835.7 168.1 836.9Q163.6 838.1 160 837.5Q156.4 836.9 155.2 834.2Q154 831.5 155.5 828.7Q157 825.9 160 823.3Q163 820.6 166.8 818.6Z" fill="url(#tg2)"/>
<g clip-path="url(#c50)" filter="url(#b2)">
<ellipse cx="163.6" cy="828.9" rx="7.1" ry="5.5" fill="#8a2418" opacity="0.9"/>
<ellipse cx="176.6" cy="822.6" rx="6" ry="5.5" fill="#cc8250" opacity="0.9"/>
<ellipse cx="169.5" cy="826.4" rx="4.4" ry="4.2" fill="#9e3420" opacity="0.7"/>
<ellipse cx="160.8" cy="833.8" rx="4.4" ry="2.1" fill="#b4582e" opacity="0.8"/>
<ellipse cx="166.8" cy="822.2" rx="2.7" ry="1.7" fill="#7c1c12" opacity="0.7"/>
<ellipse cx="179.9" cy="826.4" rx="2.7" ry="3.4" fill="#d69660" opacity="0.8"/>
</g></g>
<ellipse cx="215.1" cy="837.5" rx="8" ry="2.2" fill="#e2dad6" filter="url(#b3)"/>
<g filter="url(#rough)">
<path d="M207.3 815.2Q209.9 812.6 213.3 812.2Q216.6 811.8 219.5 813.4Q222.5 815 223.5 818.6Q224.5 822.2 223.5 825.5Q222.5 828.8 223 832Q223.5 835.1 221.1 837.2Q218.7 839.2 215.6 838.6Q212.4 837.9 210.1 835.5Q207.8 833.2 205.9 829.4Q204.1 825.5 204.4 821.6Q204.7 817.8 207.3 815.2Z" fill="url(#tg3)"/>
<g clip-path="url(#c51)" filter="url(#b2)">
<ellipse cx="211.2" cy="820.5" rx="4.2" ry="4" fill="#e8b07c" opacity="0.85"/>
<ellipse cx="216" cy="818.5" rx="3" ry="3" fill="#c23c20" opacity="0.8"/>
<ellipse cx="215" cy="828.5" rx="4.8" ry="4" fill="#e2a070" opacity="0.8"/>
<ellipse cx="210.3" cy="826.8" rx="2.7" ry="3" fill="#c4502c" opacity="0.75"/>
<ellipse cx="217.9" cy="834.2" rx="3" ry="2.5" fill="#b04824" opacity="0.8"/>
<ellipse cx="219.8" cy="823.5" rx="1.9" ry="3" fill="#c8482a" opacity="0.7"/>
</g></g>
<ellipse cx="261" cy="834.3" rx="7.7" ry="2.2" fill="#e2dad6" filter="url(#b3)"/>
<g filter="url(#rough)">
<path d="M251.1 817.8Q252.3 815.6 254.9 814.7Q257.6 813.8 260 815.1Q262.4 816.4 264.5 819.1Q266.5 821.7 268.3 824.6Q270.1 827.4 269.6 830.3Q269.1 833.2 266.6 834.5Q264 835.8 261 835.4Q258 834.9 256 833.2Q253.9 831.4 252.4 828.6Q250.9 825.9 250.4 822.9Q249.9 820 251.1 817.8Z" fill="url(#tg4)"/>
<g clip-path="url(#c52)" filter="url(#b2)">
<ellipse cx="259.1" cy="824.8" rx="4.8" ry="5.2" fill="#8c2416" opacity="0.85"/>
<ellipse cx="256.3" cy="819.2" rx="2.9" ry="2.8" fill="#c06a38" opacity="0.8"/>
<ellipse cx="263.7" cy="829.2" rx="3.3" ry="3.2" fill="#b85030" opacity="0.8"/>
<ellipse cx="260.9" cy="820.8" rx="1.1" ry="1.2" fill="#f0c09c" opacity="0.7"/>
<ellipse cx="256.3" cy="829.8" rx="2.6" ry="2.4" fill="#9a3420" opacity="0.8"/>
</g></g>
<ellipse cx="301.3" cy="834.3" rx="7" ry="2.2" fill="#e2dad6" filter="url(#b3)"/>
<g filter="url(#rough)">
<path d="M293.7 821.1Q296.3 818.1 298.7 817.6Q301.2 817.2 303.5 818.3Q305.8 819.4 307.3 822Q308.9 824.6 309.2 827.3Q309.4 830.1 307.8 832.4Q306.1 834.7 303.2 835.2Q300.3 835.6 297.6 834.9Q294.8 834.2 293.2 831.9Q291.5 829.7 291.4 827Q291.2 824.2 293.7 821.1Z" fill="url(#tg5)"/>
<g clip-path="url(#c53)" filter="url(#b2)">
<ellipse cx="298.6" cy="823.9" rx="4" ry="3.4" fill="#d8925a" opacity="0.85"/>
<ellipse cx="301.1" cy="829.4" rx="3.3" ry="2.4" fill="#c0482a" opacity="0.75"/>
<ellipse cx="304.5" cy="824.7" rx="2.3" ry="2.7" fill="#d08a50" opacity="0.8"/>
<ellipse cx="296.1" cy="829.8" rx="2.3" ry="2" fill="#c66c3a" opacity="0.8"/>
</g></g>
<ellipse cx="123.1" cy="879.1" rx="7.1" ry="2.2" fill="#e2dad6" filter="url(#b3)"/>
<g filter="url(#rough)">
<path d="M116 861.9Q118.4 859.9 121.2 859.6Q124 859.2 126.6 860.8Q129.2 862.4 130.3 865.6Q131.4 868.8 131 872Q130.5 875.2 128.6 877.9Q126.8 880.6 124.3 879.7Q121.7 878.9 119.1 877Q116.5 875.2 114.6 872.6Q112.8 869.9 113.2 866.9Q113.7 863.9 116 861.9Z" fill="url(#tg6)"/>
<g clip-path="url(#c54)" filter="url(#b2)">
<ellipse cx="120.4" cy="866" rx="4.2" ry="3.5" fill="#dca060" opacity="0.85"/>
<ellipse cx="123.8" cy="874.2" rx="3.7" ry="3.1" fill="#d8765a" opacity="0.85"/>
<ellipse cx="118.7" cy="870.9" rx="2.4" ry="2.3" fill="#c87840" opacity="0.8"/>
<ellipse cx="125.5" cy="868" rx="2" ry="2.3" fill="#e2b078" opacity="0.8"/>
<ellipse cx="126.3" cy="877.7" rx="1.7" ry="1.6" fill="#b8603a" opacity="0.8"/>
</g></g>
<ellipse cx="170.4" cy="882.3" rx="7.9" ry="2.2" fill="#e2dad6" filter="url(#b3)"/>
<g filter="url(#rough)">
<path d="M160.3 867Q161.5 864.1 164.4 863.3Q167.3 862.4 170.4 863.5Q173.5 864.6 175.8 866.9Q178.1 869.3 178.9 872.5Q179.7 875.7 178.5 878.6Q177.3 881.6 174.4 882.7Q171.5 883.8 168.6 882.7Q165.7 881.6 164.2 878.6Q162.8 875.7 160.9 872.8Q159.1 869.9 160.3 867Z" fill="url(#tg7)"/>
<g clip-path="url(#c55)" filter="url(#b2)">
<ellipse cx="166.6" cy="868.8" rx="3.8" ry="3.1" fill="#e0a068" opacity="0.85"/>
<ellipse cx="171.3" cy="875" rx="4.1" ry="3.9" fill="#de7858" opacity="0.85"/>
<ellipse cx="168.5" cy="872.1" rx="1.9" ry="1.9" fill="#c45c38" opacity="0.7"/>
<ellipse cx="173.2" cy="879.9" rx="2.6" ry="1.9" fill="#c8683e" opacity="0.8"/>
<ellipse cx="175" cy="871.2" rx="1.9" ry="2.3" fill="#e2a474" opacity="0.8"/>
</g></g>
<ellipse cx="219.8" cy="880.5" rx="7.7" ry="2.2" fill="#e2dad6" filter="url(#b3)"/>
<g filter="url(#rough)">
<path d="M210.2 868.3Q211.7 865.8 214.4 864.7Q217.2 863.6 219.8 864.3Q222.4 865 224.2 867.2Q225.9 869.4 227.4 872Q228.9 874.5 227.9 877.1Q226.9 879.6 224.1 880.7Q221.2 881.8 218.5 881.1Q215.8 880.4 213.4 878.4Q211.1 876.4 209.9 873.6Q208.7 870.9 210.2 868.3Z" fill="url(#tg8)"/>
<g clip-path="url(#c56)" filter="url(#b2)">
<ellipse cx="219.7" cy="873.5" rx="4.6" ry="3.7" fill="#c82a1a" opacity="0.85"/>
<ellipse cx="215.1" cy="869.4" rx="3.3" ry="2.7" fill="#d06a38" opacity="0.8"/>
<ellipse cx="223.4" cy="876.9" rx="2.6" ry="2" fill="#b8321c" opacity="0.8"/>
<ellipse cx="218.8" cy="867.7" rx="1.8" ry="1.3" fill="#dc8a58" opacity="0.8"/>
</g></g>
<ellipse cx="261.4" cy="880.5" rx="5.2" ry="2.2" fill="#e2dad6" filter="url(#b3)"/>
<g filter="url(#rough)">
<path d="M255.6 867Q257.7 864.1 260.1 863.8Q262.4 863.6 264.5 864.9Q266.5 866.3 266.9 869Q267.2 871.8 266.5 875Q265.9 878.2 263.8 880Q261.8 881.8 259.4 881.4Q257 880.9 255.6 878.6Q254.3 876.4 253.9 873.2Q253.6 870 255.6 867Z" fill="url(#tg9)"/>
<g clip-path="url(#c57)" filter="url(#b2)">
<ellipse cx="260.4" cy="873.5" rx="3.5" ry="4" fill="#b83a1c" opacity="0.85"/>
<ellipse cx="259.2" cy="868.1" rx="2.5" ry="2" fill="#d07a48" opacity="0.8"/>
<ellipse cx="261.6" cy="878" rx="2.5" ry="1.7" fill="#c85a30" opacity="0.8"/>
</g></g>
<ellipse cx="300.9" cy="880.5" rx="6.6" ry="2.2" fill="#e2dad6" filter="url(#b3)"/>
<g filter="url(#rough)">
<path d="M291.9 869.1Q292.6 867.2 294.5 866.2Q296.4 865.2 298.6 866.1Q300.8 866.9 302.9 869Q305.1 871 306.9 873.5Q308.6 876 307.9 878.2Q307.2 880.4 304.9 881.1Q302.5 881.8 300.2 880.8Q297.8 879.8 295.8 877.6Q293.8 875.5 292.5 873.3Q291.2 871 291.9 869.1Z" fill="url(#tg10)"/>
<g clip-path="url(#c58)" filter="url(#b2)">
<ellipse cx="298.3" cy="871.2" rx="3.2" ry="2.4" fill="#d48848" opacity="0.85"/>
<ellipse cx="302.3" cy="876.5" rx="3.2" ry="2.4" fill="#c05a2c" opacity="0.85"/>
<ellipse cx="296.7" cy="869" rx="1.6" ry="1.2" fill="#b84a26" opacity="0.8"/>
</g></g>
<text x="354.4" y="796.5" font-size="21" font-weight="700">H</text>
<line x1="421.4" y1="815.9" x2="421.4" y2="909.1" stroke="#000" stroke-width="1.7"/>
<line x1="420.5" y1="908.2" x2="536.4" y2="908.2" stroke="#000" stroke-width="1.7"/>
<line x1="417.3" y1="817.2" x2="421.4" y2="817.2" stroke="#000" stroke-width="1.7"/>
<text x="415" y="820.8" font-size="10" text-anchor="end" font-weight="700">0.8</text>
<line x1="417.3" y1="840" x2="421.4" y2="840" stroke="#000" stroke-width="1.7"/>
<text x="415" y="843.6" font-size="10" text-anchor="end" font-weight="700">0.6</text>
<line x1="417.3" y1="862.6" x2="421.4" y2="862.6" stroke="#000" stroke-width="1.7"/>
<text x="415" y="866.2" font-size="10" text-anchor="end" font-weight="700">0.4</text>
<line x1="417.3" y1="885.5" x2="421.4" y2="885.5" stroke="#000" stroke-width="1.7"/>
<text x="415" y="889.1" font-size="10" text-anchor="end" font-weight="700">0.2</text>
<line x1="417.3" y1="908.2" x2="421.4" y2="908.2" stroke="#000" stroke-width="1.7"/>
<text x="415" y="911.8" font-size="10" text-anchor="end" font-weight="700">0.0</text>
<line x1="431.7" y1="908.2" x2="431.7" y2="912.3" stroke="#000" stroke-width="1.7"/>
<text x="431.7" y="923.3" font-size="10" text-anchor="middle" font-weight="700">10</text>
<line x1="447.2" y1="908.2" x2="447.2" y2="912.3" stroke="#000" stroke-width="1.7"/>
<text x="447.2" y="923.3" font-size="10" text-anchor="middle" font-weight="700">14</text>
<line x1="462.8" y1="908.2" x2="462.8" y2="912.3" stroke="#000" stroke-width="1.7"/>
<text x="462.8" y="923.3" font-size="10" text-anchor="middle" font-weight="700">18</text>
<line x1="478.4" y1="908.2" x2="478.4" y2="912.3" stroke="#000" stroke-width="1.7"/>
<text x="478.4" y="923.3" font-size="10" text-anchor="middle" font-weight="700">22</text>
<line x1="494" y1="908.2" x2="494" y2="912.3" stroke="#000" stroke-width="1.7"/>
<text x="494" y="923.3" font-size="10" text-anchor="middle" font-weight="700">26</text>
<line x1="509.6" y1="908.2" x2="509.6" y2="912.3" stroke="#000" stroke-width="1.7"/>
<text x="509.6" y="923.3" font-size="10" text-anchor="middle" font-weight="700">30</text>
<line x1="525.2" y1="908.2" x2="525.2" y2="912.3" stroke="#000" stroke-width="1.7"/>
<text x="525.2" y="923.3" font-size="10" text-anchor="middle" font-weight="700">34</text>
<text font-size="10" text-anchor="middle" font-weight="700" transform="translate(392.6 864) rotate(-90)">Tumor volume (cm<tspan font-size="6.5" dy="-3.5">2</tspan><tspan dy="3.5">)</tspan></text>
<path d="M431.7 906.7L447.2 905.2L462.8 901.3L478.4 894.7L494 883.2L509.6 867L525.2 850.2" fill="none" stroke="#262626" stroke-width="2.5" stroke-linejoin="round"/>
<circle cx="431.7" cy="906.7" r="2.4" fill="#262626"/>
<circle cx="447.2" cy="905.2" r="2.4" fill="#262626"/>
<circle cx="462.8" cy="901.3" r="2.4" fill="#262626"/>
<circle cx="478.4" cy="894.7" r="2.4" fill="#262626"/>
<line x1="478.4" y1="893.1" x2="478.4" y2="896.3" stroke="#262626" stroke-width="2"/>
<line x1="475.6" y1="893.1" x2="481.2" y2="893.1" stroke="#262626" stroke-width="2"/>
<line x1="475.6" y1="896.3" x2="481.2" y2="896.3" stroke="#262626" stroke-width="2"/>
<circle cx="494" cy="883.2" r="2.4" fill="#262626"/>
<line x1="494" y1="880.4" x2="494" y2="886" stroke="#262626" stroke-width="2"/>
<line x1="491.2" y1="880.4" x2="496.8" y2="880.4" stroke="#262626" stroke-width="2"/>
<line x1="491.2" y1="886" x2="496.8" y2="886" stroke="#262626" stroke-width="2"/>
<circle cx="509.6" cy="867" r="2.4" fill="#262626"/>
<line x1="509.6" y1="861" x2="509.6" y2="873" stroke="#262626" stroke-width="2"/>
<line x1="506.8" y1="861" x2="512.4" y2="861" stroke="#262626" stroke-width="2"/>
<line x1="506.8" y1="873" x2="512.4" y2="873" stroke="#262626" stroke-width="2"/>
<circle cx="525.2" cy="850.2" r="2.4" fill="#262626"/>
<line x1="525.2" y1="842.2" x2="525.2" y2="858.2" stroke="#262626" stroke-width="2"/>
<line x1="522.4" y1="842.2" x2="528" y2="842.2" stroke="#262626" stroke-width="2"/>
<line x1="522.4" y1="858.2" x2="528" y2="858.2" stroke="#262626" stroke-width="2"/>
<path d="M431.7 907L447.2 905.6L462.8 902.4L478.4 899.8L494 893.8L509.6 886.6L525.2 879.6" fill="none" stroke="#ea2a2e" stroke-width="2.5" stroke-linejoin="round"/>
<circle cx="431.7" cy="907" r="2.4" fill="#ea2a2e"/>
<circle cx="447.2" cy="905.6" r="2.4" fill="#ea2a2e"/>
<circle cx="462.8" cy="902.4" r="2.4" fill="#ea2a2e"/>
<circle cx="478.4" cy="899.8" r="2.4" fill="#ea2a2e"/>
<line x1="478.4" y1="898.2" x2="478.4" y2="901.4" stroke="#ea2a2e" stroke-width="2"/>
<line x1="475.6" y1="898.2" x2="481.2" y2="898.2" stroke="#ea2a2e" stroke-width="2"/>
<line x1="475.6" y1="901.4" x2="481.2" y2="901.4" stroke="#ea2a2e" stroke-width="2"/>
<circle cx="494" cy="893.8" r="2.4" fill="#ea2a2e"/>
<line x1="494" y1="891.2" x2="494" y2="896.4" stroke="#ea2a2e" stroke-width="2"/>
<line x1="491.2" y1="891.2" x2="496.8" y2="891.2" stroke="#ea2a2e" stroke-width="2"/>
<line x1="491.2" y1="896.4" x2="496.8" y2="896.4" stroke="#ea2a2e" stroke-width="2"/>
<circle cx="509.6" cy="886.6" r="2.4" fill="#ea2a2e"/>
<line x1="509.6" y1="883" x2="509.6" y2="890.2" stroke="#ea2a2e" stroke-width="2"/>
<line x1="506.8" y1="883" x2="512.4" y2="883" stroke="#ea2a2e" stroke-width="2"/>
<line x1="506.8" y1="890.2" x2="512.4" y2="890.2" stroke="#ea2a2e" stroke-width="2"/>
<circle cx="525.2" cy="879.6" r="2.4" fill="#ea2a2e"/>
<line x1="525.2" y1="874" x2="525.2" y2="885.2" stroke="#ea2a2e" stroke-width="2"/>
<line x1="522.4" y1="874" x2="528" y2="874" stroke="#ea2a2e" stroke-width="2"/>
<line x1="522.4" y1="885.2" x2="528" y2="885.2" stroke="#ea2a2e" stroke-width="2"/>
<line x1="430.5" y1="812.7" x2="452.1" y2="812.7" stroke="#262626" stroke-width="2.5"/>
<circle cx="441.3" cy="812.7" r="2.6" fill="#262626"/>
<text x="463.5" y="816.2" font-size="10">Vector</text>
<line x1="430.5" y1="828.6" x2="452.1" y2="828.6" stroke="#ea2a2e" stroke-width="2.5"/>
<circle cx="441.3" cy="828.6" r="2.6" fill="#ea2a2e"/>
<text x="463.5" y="831.8" font-size="10">FBXL8</text>
<text x="538.2" y="882.6" font-size="9.6" text-anchor="middle" font-weight="700">****</text>
<text x="478.9" y="941" font-size="10" text-anchor="middle" font-weight="700">Time (days)</text>
<text x="543.9" y="796.6" font-size="21" font-weight="700">I</text>
<path d="M618.2 908.1V849.6H634.1V908.1" fill="none" stroke="#a6a6a6" stroke-width="1.9"/>
<path d="M641.5 908.1V879.2H656.6V908.1" fill="none" stroke="#e8383c" stroke-width="1.9"/>
<line x1="626.2" y1="839.4" x2="626.2" y2="857.6" stroke="#a6a6a6" stroke-width="1"/>
<line x1="623.6" y1="839.4" x2="628.8" y2="839.4" stroke="#a6a6a6" stroke-width="1"/>
<line x1="623.6" y1="857.6" x2="628.8" y2="857.6" stroke="#a6a6a6" stroke-width="1"/>
<line x1="649" y1="872.8" x2="649" y2="883.7" stroke="#e8383c" stroke-width="1"/>
<line x1="646.4" y1="872.8" x2="651.6" y2="872.8" stroke="#e8383c" stroke-width="1"/>
<line x1="646.4" y1="883.7" x2="651.6" y2="883.7" stroke="#e8383c" stroke-width="1"/>
<line x1="608.2" y1="816.4" x2="608.2" y2="909" stroke="#000" stroke-width="1.8"/>
<line x1="607.3" y1="908.1" x2="666.5" y2="908.1" stroke="#000" stroke-width="1.8"/>
<line x1="604.1" y1="817.3" x2="608.2" y2="817.3" stroke="#000" stroke-width="1.8"/>
<text x="601.8" y="821" font-size="10.2" text-anchor="end" font-weight="700">0.6</text>
<line x1="604.1" y1="847.8" x2="608.2" y2="847.8" stroke="#000" stroke-width="1.8"/>
<text x="601.8" y="851.5" font-size="10.2" text-anchor="end" font-weight="700">0.4</text>
<line x1="604.1" y1="878" x2="608.2" y2="878" stroke="#000" stroke-width="1.8"/>
<text x="601.8" y="881.7" font-size="10.2" text-anchor="end" font-weight="700">0.2</text>
<line x1="604.1" y1="908.1" x2="608.2" y2="908.1" stroke="#000" stroke-width="1.8"/>
<text x="601.8" y="911.8" font-size="10.2" text-anchor="end" font-weight="700">0.0</text>
<line x1="626.2" y1="908.1" x2="626.2" y2="912.2" stroke="#000" stroke-width="1.8"/>
<text font-size="10.6" text-anchor="end" font-weight="700" transform="translate(628.2 921.3) rotate(-45)">Vector</text>
<line x1="649" y1="908.1" x2="649" y2="912.2" stroke="#000" stroke-width="1.8"/>
<text font-size="10.6" text-anchor="end" font-weight="700" transform="translate(651 921.3) rotate(-45)">FBXL8</text>
<text font-size="10" text-anchor="middle" font-weight="700" transform="translate(580.5 869) rotate(-90)">Tumor weight (g)</text>
<line x1="626" y1="814.1" x2="649.2" y2="814.1" stroke="#000" stroke-width="1.2"/>
<text x="637.6" y="814.8" font-size="10" text-anchor="middle" font-weight="700">*</text>
<circle cx="626" cy="823" r="1.9"/>
<circle cx="626" cy="831" r="1.9"/>
<circle cx="621.4" cy="861" r="1.9"/>
<circle cx="630.3" cy="861" r="1.9"/>
<circle cx="626" cy="869" r="1.9"/>
<rect x="642.9" y="864.3" width="3.4" height="3.4" fill="#000"/>
<rect x="650.3" y="867.3" width="3.4" height="3.4" fill="#000"/>
<rect x="646.8" y="872.9" width="3.4" height="3.4" fill="#000"/>
<rect x="642.9" y="890.5" width="3.4" height="3.4" fill="#000"/>
<rect x="650.3" y="888.9" width="3.4" height="3.4" fill="#000"/>
</svg>
</body></html>
